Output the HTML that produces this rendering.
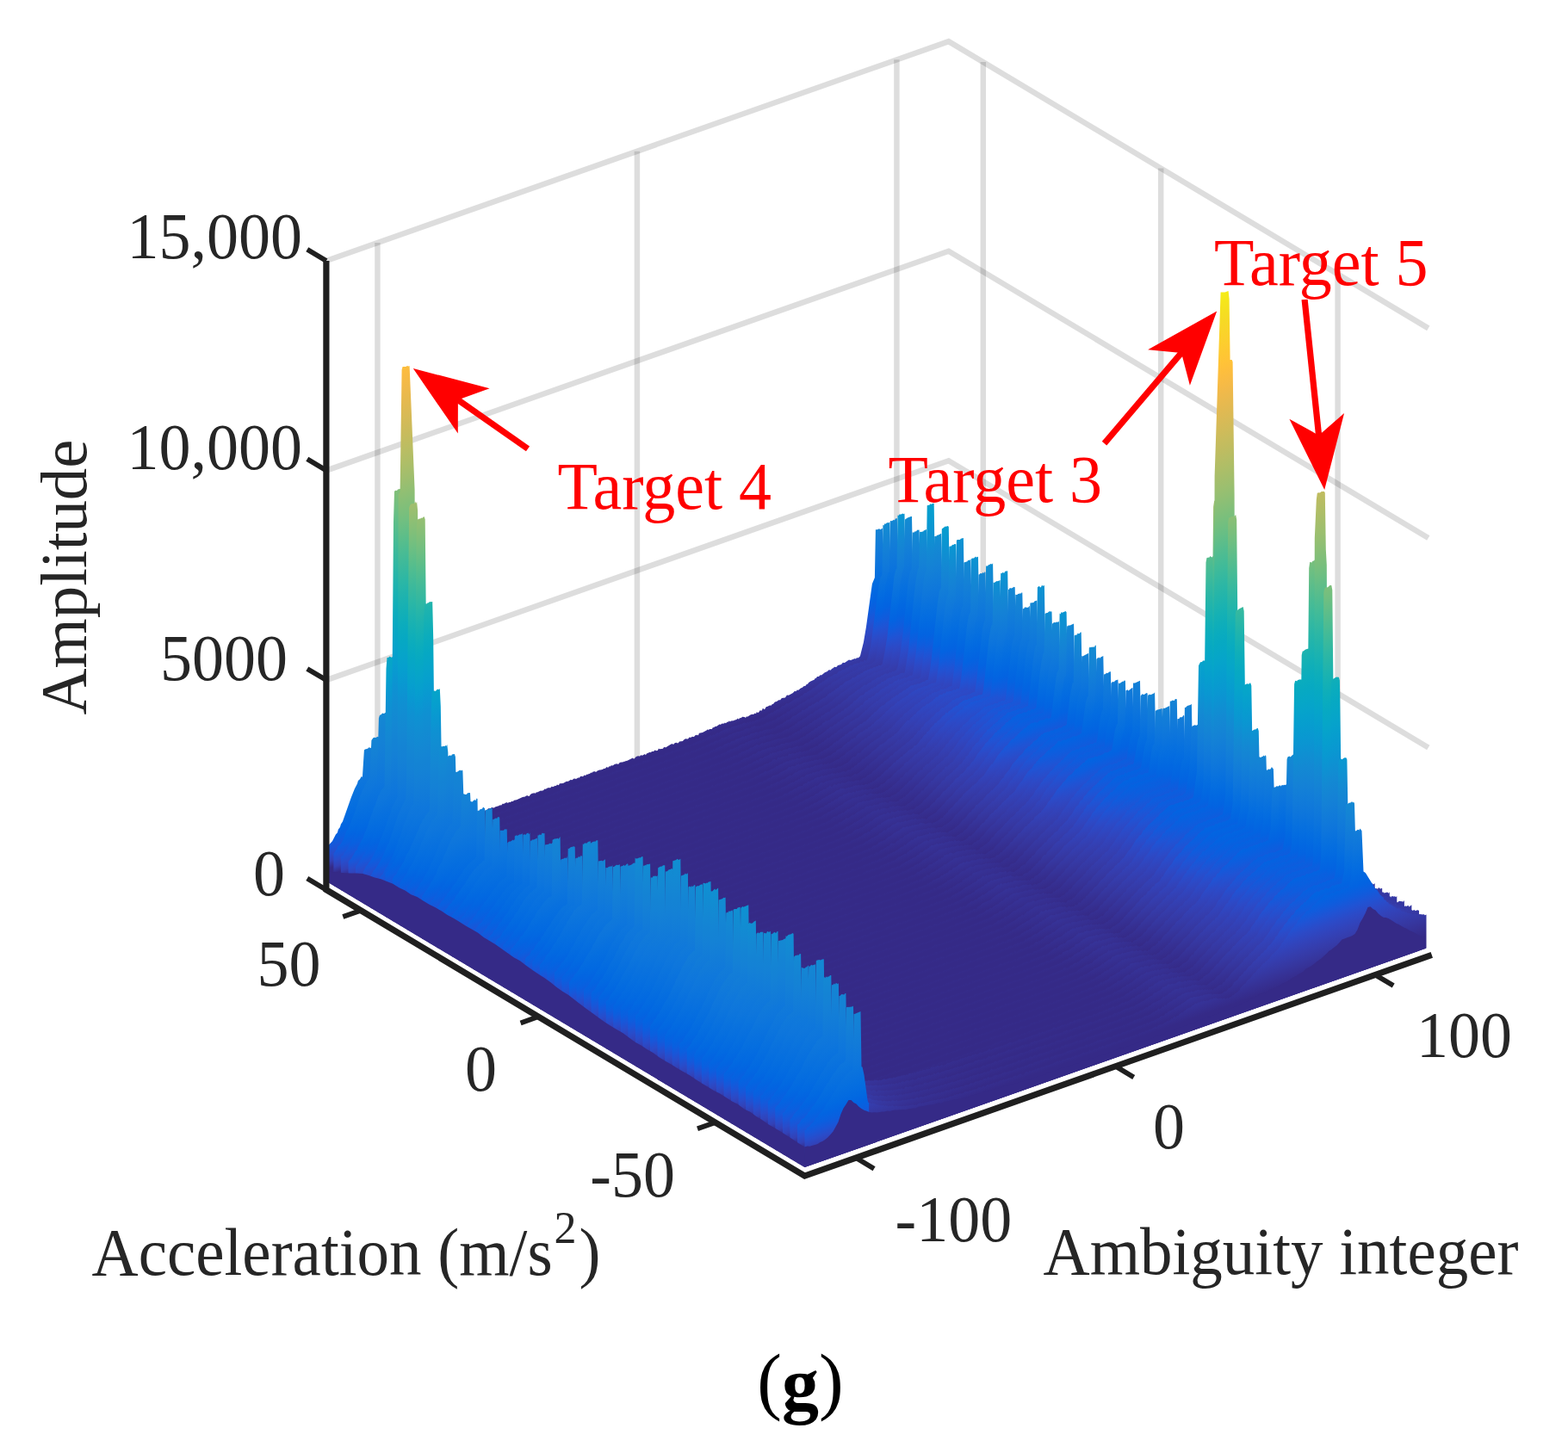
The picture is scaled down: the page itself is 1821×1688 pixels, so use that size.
<!DOCTYPE html>
<html lang="en"><head><meta charset="utf-8"><title>Figure (g)</title>
<style>
html,body{margin:0;padding:0;background:#fff}
body{width:1821px;height:1688px;overflow:hidden}
svg{display:block}
text{font-family:"Liberation Serif","DejaVu Serif",serif}
</style></head><body>
<svg width="1821" height="1688" viewBox="0 0 1821 1688">
<defs><linearGradient id="p" gradientUnits="userSpaceOnUse" x1="-7.53" y1="-21.35" x2="-222.05" y2="-629.70"><stop offset="0.0000" stop-color="#352a87"/><stop offset="0.0159" stop-color="#363093"/><stop offset="0.0317" stop-color="#3637a0"/><stop offset="0.0476" stop-color="#353dad"/><stop offset="0.0635" stop-color="#3243ba"/><stop offset="0.0794" stop-color="#2c4ac7"/><stop offset="0.0952" stop-color="#2053d4"/><stop offset="0.1111" stop-color="#0f5cdd"/><stop offset="0.1270" stop-color="#0363e1"/><stop offset="0.1429" stop-color="#0268e1"/><stop offset="0.1587" stop-color="#046de0"/><stop offset="0.1746" stop-color="#0871de"/><stop offset="0.1905" stop-color="#0d75dc"/><stop offset="0.2063" stop-color="#1079da"/><stop offset="0.2222" stop-color="#127dd8"/><stop offset="0.2381" stop-color="#1481d6"/><stop offset="0.2540" stop-color="#1485d4"/><stop offset="0.2698" stop-color="#1389d3"/><stop offset="0.2857" stop-color="#108ed2"/><stop offset="0.3016" stop-color="#0c93d2"/><stop offset="0.3175" stop-color="#0998d1"/><stop offset="0.3333" stop-color="#079ccf"/><stop offset="0.3492" stop-color="#06a0cd"/><stop offset="0.3651" stop-color="#06a4ca"/><stop offset="0.3810" stop-color="#06a7c6"/><stop offset="0.3968" stop-color="#07a9c2"/><stop offset="0.4127" stop-color="#0aacbe"/><stop offset="0.4286" stop-color="#0faeb9"/><stop offset="0.4444" stop-color="#15b1b4"/><stop offset="0.4603" stop-color="#1db3af"/><stop offset="0.4762" stop-color="#25b5a9"/><stop offset="0.4921" stop-color="#2eb7a4"/><stop offset="0.5079" stop-color="#38b99e"/><stop offset="0.5238" stop-color="#42bb98"/><stop offset="0.5397" stop-color="#4dbc92"/><stop offset="0.5556" stop-color="#59bd8c"/><stop offset="0.5714" stop-color="#65be86"/><stop offset="0.5873" stop-color="#71bf80"/><stop offset="0.6032" stop-color="#7cbf7b"/><stop offset="0.6190" stop-color="#87bf77"/><stop offset="0.6349" stop-color="#92bf73"/><stop offset="0.6508" stop-color="#9cbf6f"/><stop offset="0.6667" stop-color="#a5be6b"/><stop offset="0.6825" stop-color="#aebe67"/><stop offset="0.6984" stop-color="#b7bd64"/><stop offset="0.7143" stop-color="#c0bc60"/><stop offset="0.7302" stop-color="#c8bc5d"/><stop offset="0.7460" stop-color="#d1bb59"/><stop offset="0.7619" stop-color="#d9ba56"/><stop offset="0.7778" stop-color="#e1b952"/><stop offset="0.7937" stop-color="#e9b94e"/><stop offset="0.8095" stop-color="#f1b94a"/><stop offset="0.8254" stop-color="#f8bb44"/><stop offset="0.8413" stop-color="#fdbe3d"/><stop offset="0.8571" stop-color="#ffc337"/><stop offset="0.8730" stop-color="#fec832"/><stop offset="0.8889" stop-color="#fcce2e"/><stop offset="0.9048" stop-color="#fad32a"/><stop offset="0.9206" stop-color="#f7d826"/><stop offset="0.9365" stop-color="#f5de21"/><stop offset="0.9524" stop-color="#f5e41d"/><stop offset="0.9683" stop-color="#f5eb18"/><stop offset="0.9841" stop-color="#f6f313"/><stop offset="1.0000" stop-color="#f9fb0e"/></linearGradient><linearGradient id="pa" gradientUnits="userSpaceOnUse" x1="-7.53" y1="-21.35" x2="-222.05" y2="-629.70"><stop offset="0.0000" stop-color="#352a87"/><stop offset="0.0118" stop-color="#3341b6"/><stop offset="0.0235" stop-color="#294cca"/><stop offset="0.0353" stop-color="#1956d8"/><stop offset="0.0470" stop-color="#0a5fdf"/><stop offset="0.0588" stop-color="#0364e1"/><stop offset="0.0705" stop-color="#0269e1"/><stop offset="0.0823" stop-color="#046ce0"/><stop offset="0.0940" stop-color="#066fdf"/><stop offset="0.1058" stop-color="#0971de"/><stop offset="0.1175" stop-color="#0b74dd"/><stop offset="0.1293" stop-color="#0e76dc"/><stop offset="0.1411" stop-color="#0f78db"/><stop offset="0.1528" stop-color="#117ad9"/><stop offset="0.1646" stop-color="#127cd8"/><stop offset="0.1763" stop-color="#137ed7"/><stop offset="0.1881" stop-color="#1480d6"/><stop offset="0.1998" stop-color="#1482d5"/><stop offset="0.2116" stop-color="#1483d4"/><stop offset="0.2233" stop-color="#1485d4"/><stop offset="0.2351" stop-color="#1487d3"/><stop offset="0.2468" stop-color="#1389d3"/><stop offset="0.2586" stop-color="#128bd2"/><stop offset="0.2704" stop-color="#118dd2"/><stop offset="0.2821" stop-color="#108fd2"/><stop offset="0.2939" stop-color="#0e91d2"/><stop offset="0.3182" stop-color="#0998d1"/><stop offset="0.3426" stop-color="#069fce"/><stop offset="0.3669" stop-color="#06a4c9"/><stop offset="0.3913" stop-color="#06a8c3"/><stop offset="0.4156" stop-color="#0bacbd"/><stop offset="0.4400" stop-color="#14b0b5"/><stop offset="0.4643" stop-color="#1fb3ae"/><stop offset="0.4887" stop-color="#2cb7a5"/><stop offset="0.5130" stop-color="#3bb99c"/><stop offset="0.5374" stop-color="#4bbc93"/><stop offset="0.5617" stop-color="#5dbe89"/><stop offset="0.5861" stop-color="#70bf81"/><stop offset="0.6104" stop-color="#81bf79"/><stop offset="0.6348" stop-color="#91bf73"/><stop offset="0.6591" stop-color="#a1be6d"/><stop offset="0.6835" stop-color="#afbe67"/><stop offset="0.7078" stop-color="#bcbd62"/><stop offset="0.7322" stop-color="#c9bb5c"/><stop offset="0.7565" stop-color="#d6ba57"/><stop offset="0.7809" stop-color="#e3b951"/><stop offset="0.8052" stop-color="#efb94b"/><stop offset="0.8296" stop-color="#fabb42"/><stop offset="0.8539" stop-color="#fec238"/><stop offset="0.8783" stop-color="#fdca31"/><stop offset="0.9026" stop-color="#fad22a"/><stop offset="0.9270" stop-color="#f7db24"/><stop offset="0.9513" stop-color="#f5e41d"/><stop offset="0.9757" stop-color="#f5ef16"/><stop offset="1.0000" stop-color="#f9fb0e"/></linearGradient><linearGradient id="q0" href="#p" x2="-209.18" y2="-593.20"/><linearGradient id="a0" href="#pa" x2="-209.18" y2="-593.20"/><linearGradient id="q1" href="#p" x2="-215.62" y2="-611.45"/><linearGradient id="a1" href="#pa" x2="-215.62" y2="-611.45"/><linearGradient id="q2" href="#p" x2="-222.05" y2="-629.70"/><linearGradient id="a2" href="#pa" x2="-222.05" y2="-629.70"/><linearGradient id="q3" href="#p" x2="-228.49" y2="-647.95"/><linearGradient id="a3" href="#pa" x2="-228.49" y2="-647.95"/><linearGradient id="q4" href="#p" x2="-234.92" y2="-666.20"/><linearGradient id="a4" href="#pa" x2="-234.92" y2="-666.20"/><clipPath id="cl"><path d="M0,0 L1658.8,0 L1658.8,1100.7 L934.5,1356.1 L378.9,1023.7 L0,1023.7z"/></clipPath></defs>
<rect width="1821" height="1688" fill="#fff"/>
<g fill="none" stroke="#000" stroke-opacity="0.135" stroke-width="6.5"><path d="M378.9,790.1 L1101.7,535.2 L1658.8,868.5"/><path d="M378.9,546.6 L1101.7,291.7 L1658.8,625.0"/><path d="M378.9,303.0 L1101.7,48.1 L1658.8,381.4"/><path d="M438.4,1012.7 L438.4,282.0"/><path d="M739.9,906.4 L739.9,175.7"/><path d="M1041.4,800.0 L1041.4,69.3"/><path d="M1141.8,802.8 L1141.8,72.1"/><path d="M1348.2,926.2 L1348.2,195.5"/><path d="M1553.6,1049.1 L1553.6,318.4"/></g>
<g clip-path="url(#cl)"><g fill="url(#p)">
<path transform="translate(378.9,1033.7)" fill="url(#a2)" d="M0,-47.9l3-4.2l4-4.3l4-7.8l2-2.2l1-3.7l2-2.7l1-3.4l2-3.1l10-28.1l4-10l3-5.7l1-3.7l2-1.7l2-3.4l1 1.1l2-31.3l1-1.1l3-0.7l2-1.8l1 1l1-0.2l1-2.1l1 6.3l1 27.6l2 12.8l3 27l3 16.7l0 54.4l-63 22.2z"/>
<path transform="translate(378.9,1033.7)" fill="url(#q2)" d="M63,-76.6l2 8.6l1 2.3l1 0.7l2 4.5l3 0.6l1 1.5l2-0.4l1 0.9l2-1.1l7 0.5l2-0.9l1-1.6l1 1.2l1-1l1-0.3l1 0.5l1-0.9l1 1.4l2-2.1l1 1.3l2-2.4l2 0.5l3-1.9l3-0.3l2-1.6l4 0l2-1.7l3 0.1l1-1.2l3-0.8l5-2.5l2 0.1l2-1.1l1 0.1l2-1.4l2 0.7l1-1.8l1 0.2l1-0.6l1 0.6l1-1.9l2 0.3l5-1.3l1-1.5l1 0.3l2-0.8l1 0.9l1-1.8l4-0.6l1-1.3l2 0.2l3-1.9l2 0.4l1-1.6l1 0.7l1-1.5l3-0.1l2-1.5l1 0.2l2-1.8l2 0.9l5-1.7l1-1.3l1 1.2l2-3l3-0.2l1-1.1l3 0.5l1-0.9l5-1.7l1-0.9l1 0.7l2-2.3l1 0.6l3-1.7l1-0.1l1 0.7l1-0.9l2 0l1-0.9l2-0.1l1-1.3l3-0.5l7-3.2l3-0.5l1-0.9l2-0.4l1 0.8l1-0.2l1-1.9l2-1.2l3-0.4l1 0.4l1-1.5l1 0.4l4-2.2l1 0.4l2-0.6l2-1.9l1 0.6l1-1.1l3-0.9l1 0.6l2-2l1 0.8l3-1.6l1 0.4l1-1.7l2 0.8l1-2l4-0.3l4-2.1l2 0l3-2l1 0.5l1-0.2l1-1.3l2-0.4l1 0.7l3-1.9l1 0.6l1-1.8l2-0.3l1 0.5l2-2l1 1.1l1-1.3l1-0.5l1 0.3l1-1.1l1 0.2l1-1.1l2-0.2l1-1.3l1 0.3l1-0.6l1 0.9l3-2.1l1 0.1l1-0.8l1 0.6l1-1l1 0.3l1-1.1l2-0.2l2-1.9l1 1.1l2-1.8l1 0.4l1-1.4l1 0.4l1-0.3l2-1.5l3-0.4l1 0.6l2-2.2l4-0.4l1-0.8l1 0.2l1-1l1 0.2l7-3.4l1 1l1-0.3l1-1.4l2-1.4l2-0.2l1 0.5l1-1.1l1-0.3l1 0.5l3-1.8l1 1.3l1-1.9l4-1.6l1 0.4l1-1.1l2 0l2-1.9l1 1.1l2-0.6l1-2.2l1 0.8l4-0.6l1-1.5l1-0.4l1 0.8l6-3.9l2-0.7l1 0.9l2-1.9l2-0.2l1 0.6l1-0.4l1-1.6l4-0.3l1-1.4l2-1.4l3 0.1l2-2.2l1 0.7l2-1.2l2 0.4l2-2.4l1 0.6l1-0.7l1 0.8l1-2.7l4-0.8l5-2.6l1-1.1l1 1l1-1.3l3 0l1-1.9l1 0.3l2-1.6l1 0.3l4-2.7l1 0.7l1-1.3l3-0.3l1-0.9l1 0.7l2-1.8l1 0.4l1-1.5l1 1.1l1-0.8l3-0.3l2-1.1l1 0l2-1.7l1 1.3l1-1.5l2-0.2l1-1.3l3 0.3l1 0.9l1-1.7l1 0.5l4-2.6l2-0.5l1 0.3l2-1.4l1 0.7l1-2.2l1 0.9l1-0.2l2-2.8l1 0.8l1-0.6l1-2.4l2 1.4l2-3.2l1 0.1l3-1.7l2 0l1-1.6l1 0.2l2-2.6l2-0.3l3-2.2l1 0.6l2-2.6l4-0.3l2-3l2 0.2l5-2.8l2-2.2l1 0.5l1-0.6l1-1.4l1 0.8l3-2.6l2-0.8l1-1.3l3-0.9l1-2l1 0.5l1-1.7l2-1.6l5-2.3l1-1.9l1 0.5l1-2l2 0l2-2.1l1 0.7l4-3.3l3-1.2l1-1.3l1-0.5l2 0.1l1-1.5l2-0.8l1-1.3l2 0.3l1-0.5l1-1.7l4-0.9l2-2.3l2 0.2l5-3.3l2 0.5l5-2l1 0.3l1-1.2l2 0l2-1.9l4-16l3-17.9l7-50.2l3-7.3l1-55.6l2 0l2-1.1l2 1l1-1.3l1-0.1l1 54.1l1 2.8l2 14.1l5 50.2l3 16.3l4 8.6l2 2.9l2 1.8l1-0.2l2 1l2-1.4l1 2.1l1-1l2-0.2l1 0.8l1-1.1l3 0.3l4-2.2l1 1l1-0.7l1 0.2l1-0.8l3 0.1l3-2.3l2 0.8l5-2.6l3 0.4l1-1.1l1 0.3l2-1.6l1 0.5l2-1.2l1-1.4l2 1.2l1-1.5l3-0.6l2-1.2l2 0.1l0 26.8l-659 232.4z"/>
<path transform="translate(387.4,1038.8)" fill="url(#a0)" d="M0,-47.1l4-5.7l1-2.8l3-2.3l3-5.1l4-10.5l1-0.8l4-8.9l5-13.2l5-15.4l4-10.3l1-1l1-3.7l1-0.6l2-4.4l1-0.7l1-2.2l1 0l2-44.2l2-2.7l1-0.4l2 0.3l2-1.4l1 0.6l1-0.4l1 1.5l2 49.8l5 43.2l2 11.4l0 54.8l-63 22.2z"/>
<path transform="translate(387.4,1038.8)" fill="url(#q0)" d="M63,-77l3 10.4l1 0.5l3 6.3l1-1l1 1.4l2 0.8l1-0.6l3 1l2-0.5l1 1l1-1.5l1 0.6l5-2.2l1 1l1 0.1l1-0.8l1 0.1l1-1l1 0.5l2-1.4l2-0.3l1-0.9l1-0.2l1 1.2l1-1.4l3-0.5l4-2.3l2 0.4l1-0.3l1-1.1l1 0.4l5-2.8l1 0.7l1-1l1 0.4l2-1.1l2 0.7l1-2.1l3-0.3l4-2.3l2 0.3l1-1l1 0.2l1-0.7l1 0.6l2-1.8l1 0.2l3-1.4l1-1.2l1 0.7l2-0.8l1 0.6l4-3.1l2 0.1l3-1.9l1 0.9l1-1.1l3-1.4l3-0.2l1-1.1l1 0.1l2-1.3l2 0.4l2-1.6l1 0.2l1-1.1l3-0.1l2-1.6l1 0.4l2-0.5l1-1.1l1 0.8l3-2.6l1 0.5l1-0.9l1 1.1l1-1.7l3 0.2l2-1.7l3-1.4l1-0.3l1 0.7l3-2.2l1 0.4l1-1.1l1 0.1l1-1.5l1 0.8l3-1.1l1-1.5l1 1.1l1-0.2l2-1.4l1 0.4l1-1.2l6-1.3l2-1.9l1 0.6l1-0.5l1 0.6l2-1.9l3-1.3l2 0l1-1.4l1 1.4l8-4.1l4-0.5l2-1.7l2-0.8l2-0.7l1 0.6l1-1.4l1-0.1l1-1l1 0.4l3-0.9l1 0.6l3-2.4l1 0.5l2-2l1 0.8l1-1l1 0.3l3-1.7l2 0.2l1-1.6l1 0.3l3-1.3l3 0.1l1-1.3l2-0.6l1-1.2l3 0.5l2-2.1l1 0.8l1-1l3-0.7l1 0.3l1-0.9l1 0.2l1-1.8l2-0.1l6-2l1 0.2l3-1.8l1-0.1l1-1.4l1 0.6l4-2.4l2 0.5l2-1.5l3-0.5l1-1.2l2-0.4l2 0.6l3-2.2l1 1.4l2-2.7l2 0.1l1-0.9l2-0.3l2-1.3l1 0.4l3-0.6l1-1.7l1-0.6l1 0.4l1-0.7l1 0.5l2-1.5l2-0.3l1 0.5l8-3.9l2-0.2l2-1.4l3-0.1l3-2.2l1 0.4l1-1.2l1 0.5l2-0.7l2-1.5l3 0.2l1-1.2l4-1l3-2l4-0.9l1 0.2l1-1.5l2-1l1 0.7l1-0.8l1 0.2l3-2l1 0l1-0.8l1 0.1l1-1l2-0.3l2-1.3l1 0.4l1-0.3l1-1.3l1-0.3l1 0.5l7-5.2l1 1.4l2-2.1l1 0.7l1-0.4l3-2.7l1 1.1l2-1.8l3-1.4l1-1.3l1 0.5l3-1.8l1 0.7l1-1l2 0.2l1-1.5l6-1.6l1 0.1l1-1.3l1 0.9l1-1.5l1 0.6l4-2.1l2 0.7l2-1.3l1 1.3l1-1.9l1-0.3l1 1.1l2-1.7l1 0.7l4-2.1l1 0.1l2-1.4l2-0.4l1-1.2l1 0.9l1-1.2l2-0.6l2-1.5l1-1.7l1 0.3l3-2l1 0.8l2-2.4l1 0l3-2.2l1 0.4l1-0.5l3-3.4l2-0.1l3-3l2 0.6l8-5.6l3-1.6l1 0.5l3-2.8l1 0.3l3-3.4l2 0.1l1-1.3l2-0.7l1-1.4l1 0.3l3-3l1 0.3l1-0.7l6-5.2l2-0.5l1-1.7l1 0.7l2-2.5l1 0.2l2-2.5l2-0.5l1-0.9l1 0.1l4-2.7l2 0l3-3.6l2-0.1l2-1.3l3-0.6l2-2.6l1 1.2l2-2.4l2-0.9l1 0.6l2-1.9l2-0.6l1 0.2l1-1l1 0.5l2-0.7l1-1.7l1 0.6l1-0.6l1 0.8l1-2l1-0.1l1 0.7l1-0.3l2-5.2l3-13l9-68.1l2-10.2l2-3.2l1-57.9l1 0.7l1-2.1l1 0.5l2-1.7l1 0.3l2-0.8l1 57.2l2 8.8l5 56.8l4 24.4l4 11.5l2 2l2 1.3l1 0l1 1.2l3 0.9l1-0.2l1-1.5l1 1.4l2 1l1-1.7l2 0.5l1-1.7l1 0.3l1 1.4l2-1.8l1-0.2l1 0.7l1-1.7l1-0.3l1 1.2l1 0.1l3-2.3l2 0.2l2-1.2l2 0.5l2-2.1l3 0l1-1.1l1 0.9l1-1.1l3-0.6l1-1.1l2 0l1-0.9l3-0.5l1-1l1 0.5l3-1.7l0 27.5l-659 232.4z"/>
<path transform="translate(395.9,1043.9)" fill="url(#a4)" d="M0,-47.7l1-2.4l1 0.7l3-5.5l1-0.1l1-2.9l1-0.3l1-2.6l7-12.2l9-23.4l9-26l1-0.7l2-5.3l2-3.4l3-3.5l2-74.4l1-3.3l2-0.9l1-1.4l2 0.4l2-1.3l2 0.7l2 81.8l5 43.5l2 11.5l0 56.5l-63 22.2z"/>
<path transform="translate(395.9,1043.9)" fill="url(#q4)" d="M63,-78.7l2 9.3l1 0.4l3 6.4l1 0.8l1-0.2l1 2.4l1-0.2l4 1.8l1-0.7l1 0.9l1-1.6l3 1.7l2-1.7l1 0.6l1-1.6l3 0.8l1-0.9l3-1.4l1 0.3l2-1.3l2 0.2l3-1.3l2 0.2l1-1.2l2-0.7l1 0.7l1-1.6l1-0.3l1 0.4l4-1.9l2 0.3l2-2.2l1 0.8l1 0l3-2.1l1 0.6l5-2.6l2 0.1l1-1.9l1 1.6l1-0.4l1-1.5l2-0.1l2-1.1l3-0.2l2-0.8l1-1.3l3-0.2l1-1.2l1 1l2-1.8l2 0.1l1-1.1l1 0.3l2-1.1l1 0.2l2-2.3l1 0.9l1-1l1 0.6l1-0.9l2-0.6l2-1.8l1 0.8l1-1.1l3-0.2l4-1.6l1 0.2l3-2.5l3 0.1l2-1.4l3 0.3l2-2.6l1 0.7l4-1.9l1 1.1l1-1.3l2-0.8l1-1l1 0.5l2-1.8l1 0.7l3-1.6l1 1.1l3-2.6l2 0.2l1-1.6l2 0.4l2-1.7l2 0.8l3-2.3l1 0.6l1-1l1 0.4l1-1l1 0.3l1-0.7l4-0.7l1-2l3-0.2l1-1.3l1 0.5l2-1.4l1 0.1l1-1l1 0.5l2-0.8l1 0.3l2-1.7l1 0.9l1-1.8l4-1.2l1-0.9l1 0.6l2-1.3l1 0.5l1-1.2l4 0.1l1-2.3l1 1.4l2-1.9l5-0.9l4-2.4l2 1l1-1.8l1 0l1 0.9l1-2.4l2 0.1l5-1.9l2-0.8l1-1.4l1 0.8l1-0.1l2-1.1l4-1.1l2-1.5l3 0.2l2-1.3l3-0.5l1-0.8l1 0.5l3-2.3l2 0.1l3-2l3-0.5l1-0.8l2 0.4l1-1.6l1 0.4l3-1.8l1 1.6l2-2.8l1 1.1l1-1.4l2 0l1-0.8l1 0.4l2-2.1l1 1l2-2.1l2 0.1l1-1.2l1 1.2l4-2.7l1 0.9l1-1.2l1 0l1-1.3l3 0.1l4-2.2l1 0.1l1-1.5l1 0.5l2-0.1l2-1.8l2-0.9l3 0l2-1l1 0.5l1-1.4l1 0.3l2-1l2-2.3l1 1.6l2-2.4l1 1.1l3-1.7l1 0.6l3-3.2l1 0.9l2-0.8l1 1l2-2.8l1 0.4l3-1.2l1 0.3l1-1.7l1 0.6l1-0.4l1-1.4l2 0.2l1-1.4l1 0.2l1-0.8l2 0.5l2-2.5l1 0.5l2-1.4l3-1.4l2-0.2l1-1.3l3-1.1l1 1.2l1-1.9l1-0.4l1 0.6l1-2.5l2 0.3l3-1.5l1 0.3l4-3.1l1 0.5l2-1.6l1 0l1-0.7l1 0.2l1-1l2-0.6l3-0.1l1-0.9l2 0.1l2-1.7l3-1.3l1 0.6l2-0.3l1-0.4l1-1.6l2 0.1l1-1.3l1 0.1l1 1.2l1-1.2l1 0.7l1-1.1l1 1.2l2-1l1-1.7l1 1.7l1-1.7l2-0.2l2-2.2l1 0.7l1-0.2l1-1.3l2 0.3l1-1.1l2-0.4l3-1.8l1-1.5l1-0.5l1 0.7l2-2.4l1 0.1l2-2l1 0.4l1-1.4l1 0.5l1-2.2l3-0.5l1-0.7l1-2.1l1 0.4l2-1.4l1 0l1-1.8l1 1.1l1-2.3l1 0.2l3-2.5l1 0.5l1-1.5l3-1.3l3-2.5l1-0.4l1 0.9l2-2.7l1 0.4l2-0.5l1-2.7l1 0.7l1-1.2l1-0.1l2-2.9l1 0.9l1-1.5l2-0.5l3-3.8l1-0.7l2 0l1-1.9l3-1.1l2-2.9l4-1.3l3-2.4l2-0.6l1-1.6l1 0.2l1-1.1l1-0.1l4-2.6l2-0.1l2-2.6l1 0.7l1-0.5l1-2.2l1 1.4l4-2.7l1-1.4l2-0.4l1 0.6l1-1.7l6-1.9l3-0.1l1-1.6l1 0.5l3-2.3l1-0.2l3-12.5l3-19l7-58.8l2-10.2l1-3l1-0.6l1-59.2l2 0.1l2-1.4l1 0.7l1-1.9l1-0.3l1 0l1 58.2l2 9.8l6 68.2l3 18.9l3 9.7l2 2.4l1 2.3l2 1.9l1 0.5l1-1l1 1.1l1 0l1 1.7l1 0.4l2-1.7l1-0.1l1 1.6l1-0.3l1-1.3l3-0.5l1 0.7l3-1.8l2 1.1l1-1.9l1-0.6l3 0.6l1-1.3l1 0.5l2-1.3l2 0.8l1-1.6l2 0.5l1-1.1l3-1.3l1 0.9l2-2.4l2 0.4l2-1.6l3 0.5l1-1.9l1-0.3l1 0.3l1-1.4l1 1l1-0.9l1 0.6l0 26.7l-659 232.4z"/>
<path transform="translate(404.5,1049)" fill="url(#a0)" d="M0,-47.7l2-2.8l1-0.5l6-9.9l1-0.2l1-3.4l6-10.7l1-3.5l4-8.9l4-12.9l2-4.5l1-3.9l3-6.5l3-9.5l1-0.8l2-5l2-2.4l1-0.3l1-2.3l2-136.5l1-12.7l2-0.3l1-1.4l2 1.3l1-0.3l1-1.7l2 0.3l1 29.2l2 130.4l3 27.3l3 20.2l0 57.7l-63 22.2z"/>
<path transform="translate(404.5,1049)" fill="url(#q0)" d="M63,-79.9l1 6.5l1 2.6l3 7.1l3 3.1l1-0.2l1 1.4l4 1.7l6-1.4l1 0.3l1-1l1 0.2l1-0.6l1 0.5l1-0.9l2 1l1-1.1l2 0.1l2-1l1-1.7l1 0.7l1-1.1l3-0.4l1 0.8l1-1.7l1 0.8l3-2.3l2-0.7l2 0.2l2-1.8l3 0.8l3-2l3-0.8l2-1.5l4-1.4l1 1.2l4-2.6l1 1.2l1-1.3l2-0.3l2-1.6l2-0.1l3-1.6l1 0.2l1-0.9l1 0.4l1-0.6l1 0.2l2-1.7l1 0.6l4-2.3l1 0.7l1-1.4l2-1.1l3 0.5l1-1.4l1-0.5l3-0.9l2 0.3l2-1l2-0.3l1-0.9l1-0.1l1-1.2l1 0l1-0.8l1 0.8l2-0.6l2-3.1l1 1.1l1 0l3-1.8l3 0.4l2-2.1l2 0.2l3-1.8l1 0l1-1l2 0.2l1-1.6l1 1.1l1-0.5l1-1.8l1 0.6l1-1.1l1 1.8l1-2.3l1 0.3l2-0.9l1 1.3l3-4.1l1 1.6l1-1.9l1 0.5l1-0.5l1 0.6l1-1.1l2 0.2l1-1.6l1 0.6l2-1.4l2 0.3l3-2.4l1 0.9l1-1.2l6-1.1l1-1.4l1 0.5l2-1.6l3 0l3-1l1-1.7l2 1.1l2-2.2l1 0.6l1-0.9l2 0.1l4-2.6l1 0l1-1.7l1 1.5l1-1.6l1 0.2l1-0.9l1 0.1l1 1l2-2.3l2 0.5l3-2.4l1 0.6l1-0.7l2-0.1l2-1.9l2 0.1l2-1.1l3-0.7l1-0.8l1 0.2l1-1l1 1l3-2.3l1 0.4l2-1.3l4-0.8l1-1.2l2-0.7l1-1.1l3 0.1l1-1.5l1 0.6l1-0.1l1-1.1l2 0l2-1.8l1 0.6l1-0.5l1 0.3l2-1.6l1 0.1l2-1.3l1 0.4l1-1.3l1 0.7l3-0.6l1-1.4l1-0.1l1-1l1 0.7l2-1.8l1 0.5l1-0.4l1 0.8l1-2.6l1 0.7l3-1.3l1 0.4l1-1.3l2-0.1l1-0.8l1 0.8l3-2.7l3-0.2l1-2l1 1.7l1-1.8l2-0.2l1 1l1-1.7l2 0.2l1-1.2l1 0.4l1-1l1 0.4l1-1.2l3-0.2l3-1.3l1-1.6l2 0.4l2-0.5l1-0.9l5-1.2l1-0.9l1 0.1l1-1.1l1 0.1l1-0.8l2 0.4l3-2.2l10-3.6l1-1.5l1 1.6l4-2.6l1-1.2l1 1.1l1-2.1l1 1.1l2-1.8l5-2.5l2 0.3l3-3l3-0.6l1-1.3l1 0.8l2-0.8l1-1.6l1 0.5l1-0.9l1 0.4l1-0.4l1-1.7l6-1.7l2-1.9l2 0.7l1-0.8l2-0.2l1-0.8l2 0l1-1.7l1-0.4l1 0.4l1-0.9l1 0.6l2-1.5l1 0.2l1-0.6l1 1.5l1-1.8l2-0.3l1 0.5l2-1.5l4-1.2l5-0.1l2-1.1l1 0.6l4-3.6l3-0.6l1-1.3l2-0.4l3-2.6l1-0.1l1-1.5l4-1.3l3-3.1l4-1.5l3-2.5l3-1.3l1-1.9l3-0.4l2-2l1 0.4l2-2.8l2 0l2-2.2l1 0.5l4-3.2l1-0.2l1 0.7l1-1.9l5-3.3l2-0.5l1-1.4l1-0.4l1-2.1l1 0.1l1-1.6l1 0.7l2-2.3l1 0.3l1-1.3l1-0.1l1-2l1 0.4l1-1.5l1 0.2l2-2.8l2-0.3l5-4.7l1 0.1l5-2.5l2-2.4l1 0.8l3-1.6l1-1.6l1 0.1l1-1l1 0.6l1-1.7l2-0.1l1-1.7l3-1.5l1 0.1l1-1.3l1 0.3l3-1.4l1 0.2l3-2l1 0.6l1-1.2l2-0.3l1-1.2l2 0.5l2-1.5l3-13.9l3-18.6l8-70.2l2-7.8l1-0.8l1-61.8l1 0.4l1-1.4l2 0l2-1.1l1 0.7l1-0.8l1 61.2l1 2.2l1 7.7l4 53l3 28.8l2 11.5l2 7.3l1 1.3l1 3.2l2 3.5l1 0.2l2 1.9l1-0.1l4 2.1l2 0l1-0.9l3 0.7l4-1.3l1 0.5l5-1.9l1 0.2l1-0.7l1 0.4l1-0.7l2-0.2l2-1.4l1 0.4l2-1.4l1 0.8l1-1.2l2 0.8l1-1.5l2-0.2l1 0.6l1-1.7l2 0.1l1-0.8l1 0.2l2-0.9l1-1.2l1 0.2l1-1l1 0.7l1-0.2l1-1.8l1 1.2l1-1.6l0 28l-659 232.4z"/>
<path transform="translate(413,1054.2)" fill="url(#a4)" d="M0,-47.1l1-2.1l1-0.6l2-3.9l3-3.2l2-4.4l1-0.4l1-1.4l1-3.3l1-0.9l6-12.4l3-9l3-6.8l2-7.3l5-14l5-12l1-1.7l1-0.6l1-2.4l1-0.3l1-59.5l2-254.8l1-35.2l1-1.1l2 0.3l1-1.7l5-1l1 33.6l2 254.5l1 69.1l2 27.5l2 16.4l2 10.3l0 52.8l-64 22.6z"/>
<path transform="translate(413,1054.2)" fill="url(#q4)" d="M64,-75.4l4 10.4l1 0.9l1 2.3l2 1.9l1 0l2 1.3l2-0.2l1 0.8l2-0.6l1-0.9l2 1.3l2-1.1l2 1.2l1-2.1l2 0.3l3-2l1 0.8l1-1.3l1 0.5l6-1.8l1 0.2l1-1.2l1 0.3l1-0.9l2 0.5l1-1.8l3-0.2l1-1.4l1 0.7l1-1l2 0.5l1-1.4l1 0.8l1-1.3l3-0.4l2-2l1 1l2-1.9l1 0.7l1-1.1l1 0.7l3-1.8l1 0.6l3-2.4l3-0.6l1 0.5l2-1.8l1-0.2l1 0.5l1-0.4l1-1.4l1 0.9l1-0.5l1-1.7l1 0.9l3-1.9l2 0.4l2-1.5l2-0.1l1-1.5l3-0.8l1 0.6l2-1.8l3 0.3l2-1.8l2-0.5l1 0.4l1-1.4l1 0.4l1-1.3l1 0.3l1 1.1l1-1.8l2-0.3l2-1.7l2-0.9l2 1l1-1l2-0.7l1-2l2 1.1l1-1.4l2 0.5l1-1.6l1 0.5l2-2.1l1 1.3l1-1.4l2 0.4l3-1.7l1 0.5l1-1.5l1 0.5l1-1l2-0.2l1-1l1 0.3l3-0.4l1-1l1 0.4l3-3l1 1.1l1-1.5l4-0.4l3-1.8l1 0.2l1-1.4l1-0.4l1 1.7l1-1.6l2-0.2l1 0.5l3-2.7l3-0.6l3-1.8l3 0.3l1-1.9l1 0.7l2 0.1l1-1.7l1 0.6l3-2.4l2 0.9l1-1.7l2 0l2-1.9l2 0.5l2-1.3l3-0.9l1 0.4l2-1.9l5-1.2l1 0.5l2-2.2l1 0.5l2-1.2l2-0.1l3-2.3l1 0.5l1-0.2l1-1l5-0.5l5-3.2l1 0.3l1-1.3l2 0.1l1-0.5l2 1.2l1-2.4l1-0.1l1-1l3 0.1l2-1.1l1 0.7l2-2l1 1l5-3.2l5-0.9l3-1.7l1 0.8l1-0.7l1-1.9l1 1.7l1-1.5l1 0.3l3-1.7l1 0.3l2-2.4l1 2l1-1.2l1 0l2-2.2l2-0.6l2 0.2l1-1.2l1 0.5l2-1l1 0.3l4-2.5l1 0.4l2-1.5l1 0.5l2-0.9l1-1.4l1 0.8l1-0.7l1 0.4l2-1.7l1 0.1l1-0.9l1 0l1-1.7l1 1.1l1-1l1 0.5l2-0.3l1-2.5l1 2l1-1.5l1-0.1l1-1l1 0.3l1-1.6l2 0l3-1.1l1-1l2 0.1l3-1.7l3 0.1l1-1.4l2 0l1-1.7l2 0.6l1-1.7l2 1.3l1-2.2l4-1.2l1-1l1 0.5l2-2.2l1-0.5l1 0.3l1-1.7l2 0.3l2-0.8l1-1.3l1 0.5l2-0.9l2-1.4l1-1.5l1 0.3l3-1.8l1 0.6l1-0.5l1-1.9l2 0.7l1-1.5l2-0.2l1-0.9l1 0.8l1-1.6l3 0.4l1-1.9l2 1l4-2.6l2 0.1l1-1.4l1-0.2l1 1.2l1-1.3l1 0.5l1-1.2l1 1l2-1.7l5 0.3l1-1.2l1 0.5l1-1.3l1 0.7l1-1.1l2 0.2l2-1.7l5-2.7l2 0.4l1-2l1 0.1l3-2.5l1 0.4l2-2.9l1 0.8l2-2.8l3-1.3l1 0.2l1-1.4l4-2l2-2.4l1 0.1l3-2.4l1 0.3l3-2.5l1-1.4l2 0.1l2-2.2l2-1l1 0.4l2-2.2l5-2.3l3-2.9l2-0.6l3-3.3l1-0.1l1-1.3l3-1.5l2-2.9l5-2.6l1-1.3l2-0.8l1-1.6l1 0.3l1-2.3l1 0.4l1-0.4l1-1.6l1 0.5l4-3.9l2 0.3l3-2.7l3-1.2l1-1.4l1 0.6l1-2.1l4-1.2l4-2l1-1.4l4-0.4l2-1.4l1 0.3l1-1.2l1 0.4l2-1.3l2 0.4l1-1.9l2 0.2l2-2.2l1-3.1l3-15.8l4-31.4l4-40.2l2-13.8l2-8.5l1-1.3l1-56.6l3-2.1l4-1.3l1-0.1l1 56.6l1 3.4l1 8.4l6 75.5l3 20.4l2 8l4 8.1l1 0.6l1 2.2l1-0.5l3 2.4l1-0.6l2 1.3l1-1.5l1 1.4l1-1.1l1 0.7l3-1.2l2 0.6l3-1.7l1 0.7l1-1l1 0.3l1-0.8l1 0.7l1-1.2l2 0.5l1-1.2l1-0.3l2 0.8l2-1.9l1 0.1l3-0.9l2-1.5l3-0.1l1-0.7l1 0.8l1-1.4l4-1.2l1 0.3l1-1.4l4-0.3l1-1.4l0 27.7l-658 232z"/>
<path transform="translate(421.6,1059.3)" fill="url(#a3)" d="M0,-46.6l4-6.9l1-0.5l2-3.9l1-0.4l8-14.8l11-28.2l3-10.1l1-0.4l3-10.9l1-0.9l5-10.1l1-351.5l2-2.3l2-142.4l1-3.3l4 0l1-1l2 0.3l1-0.5l6 144l1 394.7l3 18.6l0 54.5l-64 22.6z"/>
<path transform="translate(421.6,1059.3)" fill="url(#q3)" d="M64,-77.1l1 4.6l3 7.6l2 1.8l1 1.7l1 0.1l3 2.2l1 0.4l1-0.7l3 1.8l2-2.4l1 0.8l1-0.8l2 1.3l2-2l1 0.5l3 0l4-2.1l2 0.7l3-2.3l1 0.6l1-1.1l1 0.2l1-1.1l2 0.9l1-0.1l1-1.7l1 0.4l1-1.3l1 0.1l1-1.2l3 0.9l1-1.6l2-0.3l1-1.8l2 1.1l1-1.1l1 0.7l2-1.8l1 0.7l1-1l2-0.8l2 0.1l2-1.7l1 0.5l2-1.8l1 0.1l3-1.5l1 0.1l3-1.5l1 0.5l1-1.3l1 0.8l1-1.8l1 0.3l1-1.4l1 0.9l1-0.5l1 0.7l2-1.6l4-1.2l1-0.9l1 0.9l2-1.8l1 0l1-1l1 0.6l3-2.3l1 1.2l1-0.1l2-0.9l2-1.8l1 0.1l6-2.7l1 0.8l2-1.4l1-1.6l1 1.4l1-1.1l1 0.4l2-0.7l1-1.7l2 0.5l1-1.1l1 0.5l1-0.8l1 0.4l3-1.9l4-0.2l2-2.3l5-1.2l1-1.2l1 0.7l1-1.1l1 0.9l2-1.4l1 0.4l1-1.9l1 0.3l2-0.3l1-0.9l1 0.2l1-1.3l1-0.3l1 0.6l2-0.3l1-0.4l1-1.7l2-0.9l4-0.3l2-1.5l3-0.1l1-2.3l1 1.6l4-2.4l1 0.4l1-0.9l6-1.2l3-1.8l1 0.4l3-2.3l1 0.2l2-1.2l2 0.1l1-1.4l1 0.5l1-1l1 0.1l2-1.2l2 0.7l1-1.3l3-0.9l1 0.5l1-1.1l4-1.3l2-1.4l2 0.3l1-0.5l1-1.3l1 1.1l1-1.2l2-0.9l1 0.9l1-1.4l1 0.8l1-1.1l2 0l1-2.2l2 1l3-2.2l2 0.2l1-1.7l1 0.2l1-1l2 0l1-0.9l1 0.4l1-1l1 1l1-0.3l2-1.8l4-0.9l2-1.5l2-0.1l2-1.1l1 0.5l2-1.6l4-0.6l1-1.5l3 0.6l2-2.5l2 0.5l1-1.2l1 0.2l5-2.3l2 0l1-0.8l1 1.1l1-1.4l2-1.3l1 0.5l1-1.4l1 0.3l2-1.5l2 0.3l3-2.3l1 0.6l2-1.4l3 0.2l2-2.2l3-0.3l2-1.3l1 0.3l1-1l2 0.3l1-1l6-1.8l1-1l2 0.3l1-1.5l1 1.1l3-2.5l2-0.2l1 0.4l1-1.8l1 0.7l1-0.9l1 0l1-1.3l1 0.6l1-0.1l1-1.7l1 0.6l2-1.5l1 0.5l1-1.7l1 0.6l2-1.7l2-0.2l1-1.4l2 0.2l1-1.7l1-0.5l1 1.1l2-1.8l1 0.9l2-2.9l1 0.6l2-2.5l1 0.6l2-1l1 0.2l1-1.8l2 0.4l3-2.7l2-0.1l3-2l1-0.2l1-1.5l1 0.6l3 0l1-1.4l2-1l1 1l1-1.2l1 0.7l1-1.3l5-0.9l1 0.4l1-1.6l1 0.6l1-0.9l6-1.7l2 0.5l3-1.4l6-1.3l1-1.5l2 0.3l1-0.6l1-1.8l1 0.3l2-2.1l1 0.5l2-1.7l2 0l1-2.5l1 0.7l2-2.5l1 0l2-1.4l1 0.1l2-2l1-0.1l1-1.7l2 0l1-1.7l1-0.2l2-1.9l1 0.6l2-2.4l1 0.3l1-2.1l1 1.7l1-2.8l2-0.4l2-1.2l1-1.9l1 0.3l2-1.4l2-0.1l2-3l4-1.6l1-1.4l2-1l1-1.7l1 0.6l1-0.7l5-4.7l1 0.3l2-2.2l1-0.2l1-2l7-4.7l1-1.2l1-0.1l1-1.5l3-1l2-2.6l1-0.2l1-1.3l2-1.1l1 0.8l3-2.7l2-0.8l1 0.3l1-2.3l4-1.5l1-1.4l1 0l1-1.2l1 0.2l2-0.6l1-1.7l1 0.2l4-2.5l1 0.6l1-0.1l2-1l1-1.3l1 1.4l2-2.3l1 0.7l3-1.4l2-4.4l3-15.7l3-23.2l6-58.8l2-11.8l2-4.2l1-42.2l2-0.1l1-1.2l1 0.4l2-2.2l1 0.4l1-0.3l1 41.7l2 10.9l6 80.1l4 25.1l4 10.4l5 5.7l1-0.1l1 0.9l1-1l1 0.4l1-0.5l1 1.7l1 0.1l3-1.4l2 1.1l1-0.5l1-2.4l1 2l3-1.5l2 1.4l1-2.1l1 0.3l1-1.2l1 0.4l1-0.6l1 1l1-1.3l2-0.4l2-1.1l1 0.2l2-1.6l2 0.2l4-1.8l1 0.2l2-1.6l2 0.5l2-1.4l2 0l1 0.7l1-1.9l2-0.7l1 0.3l0 27l-658 232z"/>
<path transform="translate(430.1,1064.4)" fill="url(#a1)" d="M0,-46.4l4-6.9l2-1.9l5-7.9l5-10l4-10.4l1-0.3l12-35.8l7-15l1 0l1-25l3-314.8l1-3l1-1.1l1-0.7l3-0.1l1-2.5l1 2.2l1-1.7l1 10l3 322.4l1 32.7l3 26.2l2 11.5l0 55.9l-64 22.6z"/>
<path transform="translate(430.1,1064.4)" fill="url(#q1)" d="M64,-78.5l1 4.8l4 9.8l2 2.4l1 0l2 2.9l1-1.1l2 0.7l1-0.3l1 1.2l1-0.9l1 0.5l1-0.5l2 0.5l1-0.7l1 0.5l3-2.1l2 0.4l2-0.7l1-1l1 0.9l1-0.5l1 0.4l1-1.9l1 0.9l2-0.2l1-1.4l3-0.2l2-1.9l1 1.1l2-2.1l1 0.9l1-1.2l1-0.4l1 0.4l3-1.8l2 0.5l1-1.2l3-1.6l3-0.2l2-1.4l3 0.2l4-2.4l2 0.1l1-1.4l1 1.1l1-1.7l3-0.2l2-1.9l1 0.8l2-1.1l1 1.3l2-2.4l3-0.3l1-1.7l3 0.1l1-1.2l1 0l1-0.6l1-0.3l1 0.6l1-1.2l1 1.1l1-0.2l2-2.9l3 0.2l2-1.4l1 1l4-3.1l1 0.6l1-1.4l2 0.1l1-1.1l1 0.7l3-1l1 0.3l1-2.7l1 0.6l1-1l1 1.4l1-0.2l1-2l1 0.5l3-0.5l1-0.7l1-1.7l1 1.2l1-1.6l1 0.2l2-1.1l1 0.7l1-1.3l1-0.1l1-1.5l1 0.8l9-3.4l1 0.4l4-2.6l1 1.5l3-2.1l2 0.2l2-1.1l1 0.1l3-2.5l3-0.1l3-2.1l1 0.7l3-1.6l1 0.3l1-1.2l3-1.7l3 0.6l1-1l1-0.1l1-1.2l2 0.5l2-2.1l1 0.7l2-1.6l2 0.5l3-1.9l2-0.1l2-1.2l1 0.6l3-2.5l1 0.3l2-1.5l1 0.8l2-1l1-1.4l1 0.8l1-0.2l2-2.6l1 0.7l2-0.9l2 0l1-1.3l2 0.7l4-1.9l3-0.4l1-1.8l1 0.9l1-0.2l1-1.3l2-0.4l1-1.3l1 0.9l1 0l5-3l1 0.4l1-0.8l1 0.4l2-1.3l1 0.3l1-1.8l1 0.8l2-0.5l2-2l1 1.2l1-1.1l1 0.1l1-1.2l2 0.8l3-2l1-1.3l2 0.6l1-1.2l1 0.1l1-1.5l1 0.8l1-0.1l2-2l1 0.8l1-1.3l1 0.3l2-1.3l2-0.3l1-1l2 1.4l1-1.9l2-0.3l1-1l1 1.3l2-2.4l1 0.1l1-0.8l2 0.5l2-1.4l1 0.4l1-1.8l1 0.9l1 0.1l2-1.9l3-0.5l1 0.3l2-2l1 0.5l1-1.1l1 0.8l1-1.4l1 0.3l1-1.3l1 0.7l5-2.9l2-0.2l1-1.4l3-0.5l1 0.8l1-0.7l1-2.1l1 1.5l1-1.7l2 0l1-1.9l1 1.1l1-1.3l1 0.7l4-2.4l2 0.4l1-1.2l1 0.5l1-2l3-0.6l1-0.9l1 1l2-2.2l1 0.8l1-1.7l3-1l1-1.5l1 0.3l2-1.4l2 0.5l2-2.2l2-0.6l1-1.8l1 0.7l1-1.3l1 1.1l1-1.6l1-0.2l2-2.3l1 1.1l4-2.3l4-1.1l1-1.1l1 0.7l1-1l2-0.3l1-0.8l1 1.3l1-1.5l2 0.8l2-1.9l1 0.8l1-1.4l1 0.3l1-0.3l1-1.5l3-0.1l1 0.5l1-1.6l5-0.1l3-1.5l1 0.9l1-1.4l1 0.4l1-1l1-0.1l1 0.6l1-1.4l2-0.9l1-1.9l1 0.9l2-1.7l2-0.3l2-2.9l1 0.5l2-1.9l1 0.1l1-1.7l1-0.5l1 0.2l3-3.2l2 0.2l1-2.6l1 0.7l2-1.6l1 0.1l1-2.4l3-1.5l1-2.2l1 1.7l1-1.4l1-0.4l1 0.4l2-2.4l5-3.2l1-1.4l1 0.1l2-2.1l2-0.1l2-2.4l1 1.2l2-3.9l1 0.5l5-3.6l1-1.6l2-0.8l1-2.2l1-0.8l1 0l6-5.9l4-1.3l2-3.1l2-0.2l1-1.3l3-1.5l1-1.8l1 1.3l2-2.6l1 0.8l3-3.1l4-2.1l1-1.7l1 0.5l1-0.2l1-1.2l1 0.2l2-2.5l2-0.6l1-1l2 0.8l1-1.8l1 0.3l1-1.8l1 1.8l1-1.3l4-1.1l1-1.4l4-0.8l1 0.8l1-3.3l4-24.5l7-68.3l2-15.2l2-10.2l1-0.9l1-42.2l2 0.2l1-0.6l1 0.2l1-1.7l1 0.3l1-1.2l1 0.4l1 42.3l1 3l1 7.5l6 82.2l3 22.2l3 11.4l5 8.6l1-0.3l1 1.4l1-0.3l3 2.3l1-1l3-0.2l1 1.3l1-1l2-0.7l1 1.2l2-1.7l2 0.6l1-1.2l1 0.1l1-0.8l1 0.8l3-1.5l1 0.8l1-1l1 0.4l4-2.3l5-0.8l1-0.8l1 0.7l1-1.3l2-0.2l2-1.1l1 0.3l2-1.5l1 0.3l1-1l1 0.7l2-1.7l2-0.1l1-0.9l0 27.7l-658 232z"/>
<path transform="translate(438.7,1069.5)" fill="url(#a1)" d="M0,-47.4l4-5.1l2-1.6l2-4.4l4-5.7l6-12.6l5-12.6l1-4.6l2-3.4l4-13.5l2-4l3-8.8l3-7.3l1-0.7l1-2.5l1-0.3l1-7.9l3-314.9l1-8l1-1.1l3-0.8l1-0.9l1 0.3l1-1.2l1-0.2l1 3.2l3 307.2l1 40l2 19.6l3 20.4l0 56.2l-64 22.6z"/>
<path transform="translate(438.7,1069.5)" fill="url(#q1)" d="M64,-78.8l3 10.9l2 3.5l2 1.5l1 2.3l4 1.6l3-0.5l1 1.4l1-1l2 0.6l4-1.2l1 0.7l2-1.5l2 1.2l1-2.5l1 0.5l1-0.7l2 0.2l1-1.2l2 0.1l4-1.9l2 0l2-1.5l4-0.4l1-1l2-0.1l2-1.6l1-0.2l1 0.8l1-1.6l2 0l1-0.8l1 0l1-1.1l1 0.9l1-1.4l1 0.6l2-1.3l1 1l1-1.7l1-0.6l1 1.2l2-2.1l1 0.7l1-0.2l1-1.9l1 0.7l1-1.3l3 0.1l1-1.3l2 0.2l3-0.8l2-1.5l1 0.4l4-1.6l2-1.6l1 0.9l3-2.3l2 0.2l1-1.1l2 0.3l2-1.3l2 0.2l2-1.7l1-0.4l1 0.6l1-0.5l1-1.4l1 1l1-1.7l2-1.3l1 1.5l1-1.6l1 0.4l1-0.7l1 0.2l1-1.3l3 0.1l1-1.2l6-1.7l1-1.1l6-1.4l1-1.3l1 0.6l1-1.3l4-0.9l1 0.5l1-0.3l5-2.6l1 0.6l1-1.2l5-1.2l2-1.6l1 0.4l1-0.4l2-1.6l2 0.2l4-1.2l1-1.1l2-0.4l1 0.4l3-2.4l1 1l3-2.1l1 0.2l2-1.8l1 1.4l1-2l7-1.4l1-0.9l3-1l1 0.5l1-1.1l2-0.3l2-1.6l1 0.2l2-1.6l3 0l1-1.1l1 0.2l2-1.8l1 1l3-2.2l1 1l1-1.6l2-0.1l3-1.2l2 0.1l6-3.3l1 0.4l1-0.8l1 0.5l3-2.2l1-1.6l1 1.7l4-1.7l1 0.3l2-2.8l1 1.5l1-1.2l2-1l2-0.1l2-1.1l1 0.9l1-1.8l1 0.3l2-1.1l3 0.3l1-1.7l2 0.5l3-2.6l1 1l1-1.1l3-0.3l1-1.6l1 0.4l2-0.6l1-1.4l2 0.4l1-1l3 0.1l2-1.2l2 0.1l1-1.4l2-1l1 0.6l2-1.4l8-2.2l3-1.9l3-0.2l1-1.4l2 0.3l1-1.6l2 0.3l2-0.6l2-1.8l1 0.3l2-1.4l1 1.2l2-2.4l1 0.6l2-0.7l1-1.1l1 0.1l1-1.7l2 1.5l3-3.1l2 0.5l2-0.2l1-1.7l1 0.9l1-1.5l2-0.6l2-1.7l1 1.1l1-1.6l1 1.5l4-3.6l2 0.1l3-2.1l1 0.3l3-2.2l3-0.5l3-2.7l2 0l1-1.9l1 0.2l1 1.1l1-2.1l1-0.7l1-0.5l2 0.4l2-2.1l3-0.8l3-1.6l1-1.7l1 0.8l1-0.3l1-1.4l1 0.8l2-0.7l1 0.3l1-1.3l1 0.2l2-1.3l1 0.6l2-0.1l1-1.5l1 0.3l1-0.9l3-0.1l1-1.3l2-0.3l2 0.8l2-1.4l5-1.5l1 1.5l1-1.4l4-0.7l2-1.8l3-1.6l1 1l1-2.7l1 1.2l1-2.5l2 0.1l3-2.7l1 0.3l1-1.2l1 0.3l1-1.9l2-0.8l7-5.1l1-1.6l1 0l3-2.9l1 0.6l4-3.4l1 0.2l3-3.2l1 0.8l1-2l4-2l1-1.9l2-0.1l1-1.5l2-0.3l7-5.8l1-1.9l4-2.2l2-2.1l1-0.5l1 0.3l2-3.7l2-1.9l1 0.1l1-0.7l1-1.8l2 0l3-2.6l1 0.2l3-3.8l2-0.1l3-3.6l2-0.9l1-1l1 0.9l1-2.2l1-0.6l1 0.6l1-1.5l1 0.6l1-2.8l1 0.5l2-0.4l4-3.5l2-0.2l2-2.5l1 2.3l2-2.3l1 0.5l3-1.5l2 0.3l4-2.8l2 0.4l1-1.4l1-5l3-19.8l9-85.3l2-8.7l1-1.2l1-76.4l3-0.7l1-1.6l1 0.9l1-0.8l2-0.4l1 76l1 2.5l1 10l4 58l3 33l2 13.3l4 13.9l1 0.7l2 3.9l1 0.4l3 3l4 0.4l2-0.5l1 0.8l2-0.8l3 1.3l1-1.1l1 0.8l3-2.1l2 1l3-2.9l2 1.5l2-2.2l4-0.5l1 0.7l1-1.8l1-0.7l1 0.8l2-0.9l2-0.1l3-2.2l2 0.7l2-2l2 0.5l2-1.1l1-1.2l1 0.9l2-1.4l0 27.6l-658 232z"/>
<path transform="translate(447.2,1074.6)" fill="url(#a3)" d="M0,-58.6l1-2.5l2-1.6l3-5.6l1-0.6l5-8.2l9-18.1l2-5.1l1-1.1l2-6.2l6-12.3l1-3l1-1.3l2-5.4l1-0.5l5-6.9l1-35.7l2-186.3l1-14.9l2 1.1l1-1.2l1-0.1l2-1.6l1 0.4l2-0.4l1 42.4l2 186.7l1 25.4l2 19.9l3 21l0 57.7l-64 22.6z"/>
<path transform="translate(447.2,1074.6)" fill="url(#q3)" d="M64,-80.3l2 8.6l3 7.3l1 0.2l2 3.3l1-0.2l2 1.8l2-0.1l1 0.6l1-0.7l1 0.2l2 1.7l1-1.5l1-0.1l1-1.3l1 1.5l2-1.7l1 0.6l1-0.8l2 0l1-0.6l2 0.2l4-2.2l1-0.1l1 0.7l2-0.5l4-2.6l1 0.1l1 0.9l3-2.7l3-0.4l1 0.5l2-1.9l1 0.7l1-1.8l1-0.6l1 1.2l2-0.5l1-1l1 0.2l1-1.7l1 0.8l2-1.3l1 0.2l1-1.3l1 0.5l2-1.1l1 0.7l1-1.1l1 0l1-0.8l1 0.4l1-1.6l2 0.2l1-0.5l1 0.4l1-1.4l1 0.5l1-1.4l1 0.4l1-1.5l1 0.6l1-0.2l1-1.2l1 0.3l1-1.4l1-0.4l1 1l1-1.3l2-0.2l1 0.7l3-2.5l1-0.4l1 0.8l1-0.2l3-2.2l1 0.4l2-1.9l1 1.2l3-1.6l1-1.4l1 0.6l2 0l1-1.3l3 0.2l1-1.3l2-0.9l1 0.5l1-1.2l2-0.9l1 0.7l1-1.2l3-1.1l1 0.3l1-0.4l1-1.9l6-0.3l1-1l1 0.4l1-1.2l3-0.8l1-1.5l1-0.4l1 1.2l1-2l1 0.2l2-0.8l1 1.5l2-2.8l1 0.7l1-1.2l1 0.6l1-0.2l1-1.1l2-0.1l3-1.8l5-0.9l4-2.2l3-0.3l3-1.1l2-2l2 0.7l2-1.5l4-0.5l1-1.2l1 0.3l2-1.6l1 0.5l1-0.3l1-1.5l1 0.5l5-2.2l2 0.5l4-2.8l1 1l1-1.5l1 0.6l2-1.6l1 0.3l1-1.4l2 0.1l2-0.6l1 0.7l1-1.3l3-1.7l1 1.6l2-2.7l2-1.1l2 0.7l2-1.6l1 0.4l2-0.6l1-1.3l1 0.6l1-1l3-1.2l2 0.1l3-2.6l4-0.1l1-1.5l1-0.2l1 1.3l1-1.8l1 0.9l2-2.2l1 0.6l2-0.9l1 1.1l1-3l2 1.6l1-2.4l1 0.8l2-0.8l1-1.1l2 0.2l1-0.7l1 0.1l1-1.5l1 0.1l1-0.7l1 0.8l2-2.3l1 0.9l4-1.8l3-0.6l2-1.8l3 0l2-0.6l4-2.5l1 0.5l1-1l2 0.3l4-2.3l1 0.3l1-0.6l1 0.5l2-3.4l2 2.1l1-1.4l4-2.3l3 0l3-1.2l1-1.2l2-0.6l1 1.3l2-2.6l7-1.4l1-0.9l1 0.5l1-2.1l1-0.5l2 0l1 0.7l1-2.4l2 0.7l1-0.4l1-1l1 0.1l2-1.9l1 0.7l1-0.4l2-2.2l3-0.8l1-1.2l1 0.6l1-1.6l1 0.6l3-2.5l2 0.3l1-1.2l1 0.4l1-1.8l2-0.5l1-0.8l2 0.2l1-1.3l1-0.5l1 0.3l3-3.3l2-0.2l1 0.8l1-0.6l1-2.2l1-0.6l1 0.9l4-2l2 0.7l2-1.4l1 1l2-3.3l2 0.9l2-1l3 0.1l2-1.5l1 0.5l2-1.1l1-0.2l2 0.8l1-0.7l1 0l1-1l1 1l2-1.4l1 1l3-3l3-0.9l1-1.2l1 0.6l1-1.7l1-0.2l1 0.9l2-3l2-0.6l2-2l1 0.5l2-2.9l1 0.7l1-2.3l1-0.8l1 0.5l1-0.4l3-3.2l2-0.4l1-2l1 0.3l1-0.5l2-2.4l2-0.8l1-1.4l2 0.4l1-2.1l6-3.3l3-3.6l2-0.2l1-1.5l1 0.4l1-1.7l3-1l8-7.5l1-1.5l1 0.8l1-1.9l1-0.4l1-1.8l1-0.4l2-2.5l1 0l2-2.2l1 0.1l2-2.4l1 0.7l1-1.6l3-2.5l1-1.7l1 0.4l1-0.3l1-1.5l1-0.1l1-1.6l1-0.6l1 0.5l1-0.6l4-4l1 0.2l1-0.9l1 0.2l1-0.6l5-4.7l1 0.7l1-1.5l2 0l1-2l2 0.4l3-2.4l4 0.4l1-1.2l1 0.3l2-2l3 0.5l3-2.9l5-36.2l6-59.2l2-11.2l1-4.1l1-1.6l1-50.4l1-0.5l1 0.5l1-1.6l1 0.3l1-0.8l1 0l1-1.1l1 0.1l1 49.9l2 11.5l6 80.2l3 21.8l1 4.9l3 8.1l3 5.1l1 0.2l4 3.2l1-0.8l1 0.9l1-0.4l1 0.9l2-0.9l1 1.2l2-0.4l1-0.7l1 0.8l1-0.8l2 0.3l1-2.2l1 1l1-1l2-0.7l2 0.9l1-2l1 1.7l1-0.2l1-1.6l1-0.4l1-0.3l2 0.5l2-1.8l1 0.3l1-1.1l1 0.4l1-0.8l1 0.5l2-1.8l4-0.2l3-1.8l1 0.7l1-1.6l1-0.4l1 0.8l1-1l1 0.4l1-0.9l0 27.5l-658 232z"/>
<path transform="translate(455.8,1079.7)" fill="url(#a0)" d="M0,-59l3-4.1l1 0l4-7.8l2-2.3l1-2.5l2-2.7l4-10.1l1-0.3l13-29.2l1-3.4l2-2.9l1-3.3l1-1.1l1 0.1l1-3l5-6.2l2-120.6l1-18.4l3-0.4l1 0.5l2-2.3l2 0.3l1-1.1l1 20.5l2 127.8l3 28.8l3 21.4l0 58.7l-64 22.6z"/>
<path transform="translate(455.8,1079.7)" fill="url(#q0)" d="M64,-81.3l2 8.6l3 7.3l2 3.2l4 3.2l1-1.6l1 1.9l2-0.6l2 1.2l1-1.2l6 0l2-2l2 0.2l4-1.4l1 0.8l2-1.9l2 1l1-1.8l1 0.3l2-1.3l1 0.8l1-0.9l5-1.8l1 0.3l1-0.6l1 0.2l2-1.7l1 0.5l2-0.6l1-1.7l1 0.5l2-1.7l1 0.8l3-0.5l1-1.8l1 0.4l2-0.8l1 0.2l3-1.9l2 0l3-1.7l3 0.2l3-2.1l2 0.5l2-2.3l2 0.1l1-1.4l2 0.4l8-3.4l1 0.8l4-2l3-0.5l2-2.1l1 0.9l1-1.6l1-0.2l1 1.2l1-1.4l1-0.5l1 1l1-1.6l1-0.1l2-1.5l1 0.3l1-0.5l1 0.5l1-1.4l2-0.7l1-1.6l1 1.3l1-0.8l1 0.1l2-1.9l1 1l1 0l1-1.5l1 0.5l6-3l1 0.8l1-2l1 0.7l2-0.2l2-2l1 0.7l1 0l1-1.6l1 0.9l2-1.6l2 0.3l1-1.4l2-0.3l1-0.8l3 0.5l1-1.6l1 0.1l1-1l3-0.4l2-1.5l1 0.6l1-1.5l1 0.4l1-0.8l1 0.4l1-1.2l2-0.2l2-1.6l3 0.4l1-1l1 0.3l1-1.1l3-0.5l3-2.3l2-0.2l1 0.5l1-1.3l2 0.2l2-1.3l2-0.3l1-0.9l1 0.3l4-1.9l1 0.2l1-1.3l1 1.6l1-2l2-1.3l8-1l1-1.9l1 0l1-0.8l2 0.6l2-2l1 1.2l3-3.1l2 1l3-1.2l1-1.1l2-0.5l1 0.5l1-2.2l1 1l1 0.1l2-1.7l2-0.4l1-1.5l1 1.2l1-1.1l1 1.2l1-1.7l1 0.1l1-1.1l2 0.1l2-1.1l3-0.4l3-1.2l1-1.2l1 0.7l1-0.1l4-2.7l3-0.7l2-1.4l4-0.2l2-2.1l2 1.3l2-2.1l1 0.2l1-1.1l2-0.1l1-1.4l1 0.6l1-1.5l1 0.5l2-0.7l1 0.3l2-1.4l1 0.3l1-1.3l3-0.5l1 0.8l1-1.8l2-1.5l2 0.3l3-1l1 0.4l2-2.3l2 0.5l3-2.3l1 1l3-2.1l3-1.4l1-0.2l1 0.6l1-1.3l1 0.1l4-1.6l2-1.9l1 0.8l1-0.7l2 0.1l2-0.7l3-2.5l3-0.4l2-1.7l3-1.4l1 0.4l2-2.3l1 0l1-1.1l1 0.5l3-3l2 0.9l6-3.5l1 0.5l1-1.4l2-0.8l1-1.4l1 0.4l3-2.3l3-0.6l2-2.1l1 0.7l1-1.3l1 0.2l1-0.6l1 0.4l2-1.5l1 1.2l1-2l2 0.7l1-1.3l1 0.7l2-1.8l1 0.7l2-0.1l2-2.2l1 1.1l1-1.5l2 0.5l4-1.3l2 0.3l2-0.7l7-0.9l1-1.9l2-0.2l1-1.4l2-0.2l1-1.6l2-0.5l1-1.3l3-1l1-1.6l2-0.8l3-3.2l2-0.6l1-1.6l1 0.3l4-3.7l1-0.3l1-1.5l1 0.1l1-0.8l1-1.9l1 0.3l1-0.6l3-3l2 0.1l3-3.5l1-0.8l1 0.4l1-0.6l1-1.7l2-0.8l1-1.5l2 0l3-3.2l1 0.5l3-3.2l1-0.4l1-1.8l1 0l1-2l2-1.2l2-2.6l2-0.7l3-3.7l4-3.4l1 0.1l2-1.3l1-1.8l6-4l1-1.9l1 1.1l1-2.3l1 0.6l2-2.4l2 0.1l2-2.6l1-0.5l1 0.3l1-1.5l3-1.9l1 0l1-1.9l1 0.4l4-3.3l2-0.6l1 0.5l1-1.2l2 0.2l1-1l3-0.3l4-2.2l2-0.2l2-1.8l2-0.2l2-10.2l2-14.8l7-64.4l2-13l1-3l1-1.2l1-68.6l4-3.1l1 0.3l2-0.8l1 1l1 67.5l2 11.3l6 78.2l3 20.8l3 10.5l4 6.8l3 2.4l2 0.8l2-1.2l2 2.1l1-1.3l1 1.1l1-0.8l1 0.3l1-1l1 0.6l3-0.5l2-1.4l4 0l1-1l1 0.8l1-0.2l4-1.8l3 0.3l1-1.5l1 0.2l1-1.2l1 0.8l2-1.5l3-1.2l4-0.8l1-1.7l1 1l2 0.3l2-1.6l1 0l1-0.7l1 0.3l1-1.6l0 28l-658 232z"/>
<path transform="translate(464.3,1084.8)" fill="url(#a0)" d="M0,-58.8l8-11l4-8.4l1-0.5l2-4.6l2-3l1-3.3l4-7.3l3-8.3l4-8.3l1-3.9l6-10.9l2-4.9l1 1l2-4.1l2-1l1-4.8l1-54l1-19.8l1-0.1l1-1.7l1 0.5l1-0.9l2 0.4l1-1l1 0.6l1-1.6l1 8.6l2 77.6l4 37.7l3 18.7l0 54.2l-65 22.9z"/>
<path transform="translate(464.3,1084.8)" fill="url(#q0)" d="M65,-77.1l2 7.3l2 4.9l1 0.4l1 1.8l1 0.3l1 1.3l5 2l2 0.4l1-1l2 1.6l1-1.4l1-0.4l1 0.6l2-0.5l2-1.4l1 0.4l2-0.9l2 0.2l2-1.6l3 0.4l1-1.5l1 0.6l2-1l2 0.1l1-1.5l1 0.3l2-1.9l1 1.3l2-1.1l1 0.5l2-2.5l1 0.7l2-1.7l1 0.9l1-1.4l2 0.3l2-1.3l1 0.3l2-1.2l1 1.4l1-1.9l1 0.2l1-1.1l1 0.1l1-0.9l2 0.4l1-1.8l1 0.7l1-1l2 0.3l1-0.3l1-1.6l2-0.1l1 0.6l1-1.3l6-1.8l1-1.1l1 0.5l2-1.6l2-0.2l2-1l2 0.4l1-1.7l2 0.9l4-3.1l1 0.5l2-0.1l1-1.6l2 0.4l2-2l1 0.6l3-2.4l1 1.5l1-1.8l2 1.2l1-1.9l1 0.9l2-2.6l1 1.1l1-1.3l1 0.8l2-1.5l1 1l2-2.8l1 0.9l3-1.1l1-1.7l1 1.6l1-2l2 0.1l1-1l1 1l2-2l2 0.3l2-1.5l1 0.6l1-1l1 0.3l2-0.6l1-1.2l2 0l1-1.2l1 0.4l3-1.1l1-1.5l2 0.6l1-1.3l1 0.2l3-1.9l1-0.2l1 0.9l2-2.2l1 0.9l3-2.2l1 0.9l1-1.8l2-0.1l1-1.1l1 1.1l1-1.9l1 0.7l1-1l1 1l1-1.8l2 0.7l2-2.4l1 1l3-2.1l1 0.3l3-1.4l1 0.8l2-1l1-1.5l1 1l2-1.9l1 1.2l5-3.9l1 2.3l2-2.5l1 0.9l1-1.7l1 0.8l1-1.7l2 0.5l2-2.4l1 0.3l1-1l1 1.2l3-2.2l1 0.2l4-1l1-1.2l2-0.2l2-1.1l1 0.3l2-1.1l1 0.7l3-2.4l1 0.7l2-1.5l1 0.4l1-1.9l1 1.7l2-2.9l1-0.7l1 1l1-0.7l1 0.4l2-0.9l1-1l2 0.2l1-1.1l1 0.9l1-2.2l1 1.3l2-1.8l2-0.7l1 0.2l1-1.6l1 1.9l2-3.2l2 0.5l2-0.5l1-0.9l1 0.2l1-0.7l4-0.9l1 0.2l3-2l4-1l2-1.5l1 0.4l3-1.2l1-1l1 1.2l1-1.2l2-0.3l3-1.9l2 0.2l2-2l3-0.3l2-1.2l1 0.9l1-1.5l1 0.4l1-1.8l2 0.4l4-2.2l1 0.6l4-2.9l1 0.6l2-1.5l2 0.1l2-1.4l4-0.6l4-2l1-1.3l2-0.1l1-0.8l1 1l2-2.9l1 1.1l5-3.7l1 0.4l1-0.5l1-1.4l2-1.1l2-0.2l4-1.7l2-1.8l5-2.2l3-2.1l2-2.3l2 0.8l1-1.2l3-0.1l2-0.8l1-1.6l1 0.7l1-1.4l1 1.1l3-0.9l2-1.3l6-0.9l1-1l1 0.6l1-1.2l1 0.4l2-0.3l1-1l1 0.4l1-1l1 1l1-0.2l2-1.6l1 1.3l1-0.2l1-1l1 0.3l2-1.6l2-0.4l2-1.8l2-0.1l3-2.7l2-1.1l1 0l2-3.1l1 0.2l3-2.1l1 0.2l3-3.8l1-0.3l1-1.3l1 0l1-1.6l2-0.4l3-3.8l1 0.8l2-2.3l1 1l1-2.1l3-3.1l3-1.9l1 0.1l2-1.9l1 0.1l1-1.8l2 0.1l1-2.2l2-0.2l3-3.4l1 0.4l1-2.2l4-3.5l1 0l2-2.6l1 0.1l2-2.7l2-1.4l1-2l4-2.9l3-3.3l3-1.4l2-2.8l1 0.2l1-2.6l1 0.8l5-3.9l3-1.2l1-1.3l2-0.6l2-2.7l1 0.2l2-2l3-1.3l1-1.3l1 0.6l2-2.2l2 0.2l1-1l2-0.3l1-1l4-0.4l3-2.1l1 0.2l1-1.1l5-0.8l1-1.7l3-20.3l7-64.9l2-11.1l2-5.3l1-54.7l1-0.8l1 0.4l2-2.1l1 0.3l1-1l2 0.3l1 54.8l2 10.7l6 77.3l3 20.2l4 12.3l3 4.7l1 0.9l1-0.2l1 1.9l1 0.2l1-0.5l2 1l2-0.4l1 0.6l3-1.3l2 1l3-1.1l1 0.9l1-0.9l1 0.1l1-1.3l2 0.3l1-1.5l1 1.4l2-1.6l2 0.1l3-1.7l1 0.6l4-1.8l1 0.6l1-2.5l2 0.5l1-0.1l1-1.1l3 0.3l1-0.9l1 0.4l2-1.7l1 0.5l1-0.7l1 0.4l3-2l0 27.5l-657 231.7z"/>
<path transform="translate(472.9,1090)" fill="url(#a3)" d="M0,-59.2l2-1.7l8-12.5l8-15.1l1-3.6l1-0.8l6-14.6l6-12.2l1-3.3l6-10.4l1-1.4l1 0l3-4.4l2-71.6l4-2l1 1.1l1-1.7l1-0.4l2-0.3l1 3.3l2 75.6l4 36.8l3 19.9l0 55.6l-65 22.9z"/>
<path transform="translate(472.9,1090)" fill="url(#q3)" d="M65,-78.5l3 10.4l3 5.1l6 3.8l1-1.3l1 2.1l1-1.1l2 1l3-1.3l2 0.1l1 1.3l2-1.7l1-0.4l1 0.4l1-2l1 0.8l1-0.9l1 1l2-1.7l2 0l1-1.3l3 0.3l3-2.2l1 0.3l2-0.8l1-1.2l1 0.6l1-0.8l1 0.5l2-0.4l3-1.9l4-0.3l3-2.6l2 0.8l1-1.7l3 0.4l1-1.1l1 0.3l1-0.9l1 0.5l5-3.1l1 0.4l2-1.4l1 0.6l3-1.4l1-1.4l1 1.2l1-1l2-0.3l1-0.9l1 0.6l3-2.1l2-0.2l1 0.7l2-1.5l1 0.2l1-1.8l1 0.5l2-0.7l2-2.1l1 1.4l2-1.7l1 0.5l1-0.2l1-1.5l2-0.9l1 1.2l1-2.5l1 1.2l1-0.6l1-1.7l1 1.3l1-2l2 1.4l1-2.2l1 0.9l1 0l2-1.9l2-0.4l1 0.6l2-1.2l1-1.3l3 0.6l3-2.4l2-0.5l1 0.4l2-1.7l1 1.1l1-2.3l2 0.8l1-1.7l1 1.5l1 0.2l2-2.4l2-0.8l1 0.3l2-1.7l4-0.3l1-2.1l1 1l1-0.9l1 0.8l4-2.2l4-1l1-1.4l2 0.3l2-1.4l3-0.3l1-1.7l1 1.2l6-2.9l1 0.1l3-2.1l3 0.4l1-0.9l1 0.1l1-1.7l1 0.5l2-0.2l2-1.8l1 0.4l1-1.2l1 0.3l1-0.3l1 0.6l1-1.4l1 0.2l1-1.2l2 0.1l1-1.4l1 0.7l1-1.1l3-0.2l1-1.6l2 0.7l2-1.7l1 0.1l2-1.1l2 0l1-1.7l3 0l1-0.8l1 0.7l1-1.3l1 0.3l1-1.3l1 0.5l3-1.3l1 0.6l1-2l1 0.1l1-1.4l2 1.1l1-1.5l1 0.3l5-2.2l1 0.3l5-2.8l1 0.9l1-1.2l1 0.1l1-0.8l1 0.3l1-1.2l2-0.3l1-1.3l2 0.3l1-0.9l1 0.4l4-2.8l1 0.5l1-0.4l1 0.7l1-0.9l1 0l1-1.8l2 0.6l2-1.9l2 0.2l1-1.1l3 0.3l3-2.2l2-0.2l3-2.2l1 1.3l1-0.6l1-1.7l2 0.7l2-1.9l1 0.2l2-0.7l2 0l1-1.9l1 1l2-1.8l1 0.9l2-1.8l1 0.2l2-1l1-1.3l1 1l3-2l3 0.5l2-1.8l4-1.7l1-1.1l1 0.6l1-1l1 0.7l5-2.9l2 0.6l2-2.8l3-0.4l2-2.2l2 0.4l1-1.2l1 0.4l1-1.6l1 0.1l1-0.9l2 0.5l1-1.7l1-0.1l2-1.9l1 0.8l8-5.5l1 1.2l5-4.4l1 0.5l3-2.5l1 0.2l2-1.2l2 0.2l1-1.5l1 1l1-0.4l1-1.6l1 0.7l1-0.8l2 1l1-1.8l2 0.5l1-1l3-1.2l1 0.6l1-1.1l1 0.4l3-1.5l1 0.1l1 1l1-0.1l1-1.4l1 0.8l2-0.4l1-1.7l1 1.9l10-5.7l1 0.3l1-0.7l1-2l1-0.1l1-1.4l1 0.3l1-1.6l1 0.2l1-1.7l2-1.8l1 0.3l1-1.7l2-0.7l1-1.5l1 0.1l1-1.6l7-4.8l1-1.5l1-0.3l1-1.8l2-0.4l2-2.3l2 0.1l1-2.1l2-0.2l1-1.6l1-0.4l3-3.3l2-0.9l1 0.1l1-1.9l2-0.4l2-1.3l3-3.5l1 0l1-2.5l4-2.8l1-1.8l6-5.3l1-2l2-1.1l3-3.2l1 0l3-2.9l7-4.6l1-1.8l1 0.3l1-1.4l2-0.7l1-1.4l1 1.4l2-3.8l2-0.3l1-1.3l1 0.3l1-0.4l5-4.1l2 0l1-1.1l1 0.5l2-2.5l2 0.7l1-1l3-0.3l1-1.1l3-1.2l1-1.1l2 2l2-2.6l1-3.1l2-13.9l8-71.8l2-8.5l1 0l1-69.8l1-0.7l3 0.1l1-1.3l1-0.3l2-0.6l1 69.1l1 3.2l2 18.7l4 54.6l3 24.7l2 9.2l3 8.6l4 6.3l2-0.3l1 1.2l4 1.4l1-0.1l1-1.3l1 0.9l1-0.8l2 0.6l1-1.2l2 1.4l2-1.6l1 0.9l2-1.8l1 0.3l4-1.5l2 0.9l3-2.7l2 1.1l1-1.6l1 0.3l1-0.5l2-1.2l1-1.4l2 0.8l1-0.8l2 0.3l2-1.7l5-1.7l2 0.3l2-1.6l1-0.2l0 27.7l-657 231.7z"/>
<path transform="translate(481.4,1095.1)" fill="url(#a3)" d="M0,-58.9l4-5.1l3-5.7l2-1.7l2-4.7l5-8l4-9.8l1-0.5l1-3.7l1-0.9l7-17.9l4-7.1l2-5l2-2.5l2-4.2l1-0.4l1-2l1 0.4l1-1.7l2-54.8l1-3.1l1-1.1l1 0.2l4-2.4l1 1l1-0.9l1 0.8l2 62.6l5 44.8l2 13.7l0 55.7l-65 22.9z"/>
<path transform="translate(481.4,1095.1)" fill="url(#q3)" d="M65,-78.6l3 9.4l2 4.2l3 4.3l2 0.1l1 0.9l2-0.1l1 1.4l1-0.9l1 0.2l1-0.7l2 0.2l1 1l1-1.5l1 0.7l3-1.4l1 0.3l1-1.5l1-0.1l1 0.9l1-0.6l2 0.2l2-1.7l4-0.2l3-2.4l3 0.2l1-2l1 1.2l1-0.5l1 0.5l4-2.8l3 0.4l2-1.7l1 0.2l2-1.2l1 0.4l1-1.2l1 0.4l1-1.7l1 0.6l3-0.5l1-1l1 0.4l1-1.4l2 0.4l1-1.3l1-0.3l1 0.5l1-1.2l2-0.6l1 0.5l1-1.7l1 0.6l2-1.7l1 0.4l2-1.4l1 0.8l3-2l1 0.4l1-1.4l3 0l1-1.6l1 0.9l1-1l1 1.2l1-1.6l2-0.5l1-1l1-0.2l1 0.6l1-1.5l1 0.2l1-1.1l1 0.5l2-1.1l1 0.4l1-1l2 0l1-1.3l1-0.2l1 0.5l2-1.9l2 0.3l3-1.8l1 0.8l2-1.7l1 0.9l1-2l2 0.8l2-2l2 0.7l4-2.7l2 0.6l4-3l1 0.8l1-1.7l1 0.2l1-0.6l1 1.3l2-2.2l1 0.2l4-1.4l1-1l1 0.4l2-1.7l2 0.2l1-1.9l1 2.1l1-1.8l1-0.1l1-1.5l2 0.9l2-0.6l1-1.8l1 0.5l3-1.3l1 0.4l6-3.2l1 0.3l1-0.7l2 0l3-1.5l3-0.4l1-1.3l1 0.3l1-0.4l2-1.9l3-0.9l1 0.7l1-1.3l2 0l2-1l1 0.5l1-1.4l3 0l1-1.3l1 0.4l1-1.4l1 0.5l1-0.6l1 0.8l1-1.8l1 0.1l2-1.5l1 0.8l1-0.2l2-1.7l5-1l1-1.4l2-0.4l1-1.1l1-0.1l1 0.8l1-1.2l2-0.6l1 0.5l3-2.3l1 0.3l2-1.2l1 0.5l2-1.8l2 0.3l3-1.4l1 0.1l1-1.6l1 0.5l4-1.5l3-0.1l3-2.7l2 0.5l1-0.9l3-0.9l1 0.7l1-2l1 1l5-2.2l1-1.1l1 0.8l4-2l1-1.3l1 0.7l3-1.9l5-0.8l2-1.4l1 1.1l2-2.3l2-0.2l2-1.3l2 0.4l1-1.3l1 0.4l2-0.8l1 0.2l1-1.1l2 0.2l2-2.3l1 0.8l2-0.2l1-2.1l2 0.3l1-1.3l1 0l1-1.6l1 1.1l1-0.9l1 0.1l1-1.1l1 0.6l1-1.4l1 0.4l5-1.8l6-3.1l1 0.4l1-1.2l1 1.3l4-3.8l1 0.3l1-1.2l2 0.1l1-1.6l2-0.3l5-2.4l1-1.1l1 0.4l2-2.3l1 0.3l1-1.2l1 0.6l1-0.2l1-1.8l3-0.7l1-1.4l1 0.7l2-2.8l1 0.3l1-1l1 0.9l3-3l4-0.8l1-0.8l1 0.6l2-1.9l1 0.6l4-1.4l2 0l2-1.6l1 0.4l1-1.2l4-0.1l1-0.8l2 0.5l1-1l1 0.1l1 1.1l1-1.6l5 0.3l2-1.7l3-0.2l1-0.8l1 0l3-2.6l1 0.2l1-1.1l1-0.1l5-5.5l2-1.5l2 0l3-4.5l1 0.5l2-0.6l1-1.9l2-1.5l2-2.6l2-0.2l1-2.1l1 0.3l2-2.9l1 0l1-1.3l1 0l3-2.8l1 0.2l1-1.6l1 0l3-2.1l3-3.6l1 0.5l1-1.9l1 0.4l1-1.7l1 0.7l3-4.4l1 0.8l1-2l1-0.3l1-2.2l1 0.3l2-3.2l4-3.5l1-2.1l2-0.4l3-4.2l2-1.4l1 0l1-1.8l1-0.1l2-2.3l1 0.1l1-1.9l2-0.9l1-1.9l2-1l1 0.2l1-1.8l2-0.3l1-1.7l3-2.2l1 0.1l3-2.9l1 0.3l1-0.6l1-2.1l2 0.3l1-2.1l1 0.1l2-1.2l2 0.3l2-1.6l2-0.1l1-1.8l3 0.1l2-1.2l1 0.6l4-2.8l3-0.4l3-21.8l6-55.2l2-12.3l1-3.2l1-0.7l1-50.5l4-1.1l1-1.8l1 0.7l2-1.6l1 51.5l1 2.4l1 7.4l5 65.2l2 17l1 8.2l2 9l4 9.8l1 1.7l1 0.2l1 1.9l1-0.9l1 1.2l1 0l1 1.2l1-0.6l1 1.3l2-0.4l2 0.5l1-1.1l1 1.3l1-1.7l1 1.1l2 0.2l4-1.8l3-0.6l1-1l1 0.4l5-1.2l1-0.4l1-2.1l2 1.6l4-2l1-0.2l1 0.6l2-1.2l2 0.2l2-1.9l1 0.4l3-2.3l1 0.8l1-0.8l3-0.7l1-1.4l0 28.1l-657 231.7z"/>
<path transform="translate(490,1100.2)" fill="url(#a1)" d="M0,-58.5l2-3.5l1-0.6l1-2.3l2-1.8l1-2.3l1-0.7l3-6.3l1-0.6l3-6.5l1-0.4l3-8.6l4-6.6l3-8.5l1-1l8-18.9l1-0.8l4-7.2l2-1.5l3-4.2l1-30.3l1-5.3l1-1.4l1-0.2l1 0.8l2-0.3l1-1.4l3-0.3l2 40.3l4 36.8l3 21l0 58.2l-65 22.9z"/>
<path transform="translate(490,1100.2)" fill="url(#q1)" d="M65,-81.1l2 8.8l2 5l3 5.4l2 0.9l1-0.2l1 1.5l1-0.7l1 1.1l3-0.7l3 0.6l2-0.9l2 1.1l1-1.7l3 0.3l5-1.9l1 1.3l1-1.3l1 0.1l2-1.6l2-0.7l2 0.3l1-1.2l1 0.2l1-0.9l2-0.7l1 1l1-1.5l1 0.4l1-1.4l1 0.3l2-1.3l1 0.1l1-1l1 1l1-0.5l1-2l1 0.4l1-0.8l2 0.5l1-1.4l3 0l2-1.6l1 0.8l4-2.7l1 0.8l2-1.9l1 0.8l1-1.2l1 0.7l1-0.3l2-1.7l3 0.2l2-2.4l3 0.3l1-1l1 0.5l2-0.9l2-2.1l1 1l1-0.2l1-1.5l1 0.7l1-1.4l2 0.5l1-1l2 0.1l4-2.8l1 0.7l3-2.1l2 0.6l1-1.5l1 0.7l3-2.2l1 0.5l3-0.8l1-2l1 0.8l1-0.5l1 0.3l4-2.6l1 0.4l1-1l2 0.3l1-0.9l1 0.7l2-1.6l1 0.1l3-2l2-0.6l1 0.5l4-1.3l1-1.9l1 1l2-1.4l2 0l1-0.8l1 0.5l3-2.2l3-0.8l2-1.3l1 0.8l5-2.4l1 0.3l1-1.1l1 0.3l1-1.3l1-0.3l1 0.5l5-2.5l1 0.6l1-0.4l1-1.3l6-1.2l2-1.2l1-1.4l1 0.9l1-0.2l2-1.7l1 1.1l1-1.5l3-1.3l1 0.7l1-1.2l1 0.5l1-1.2l1 0l1-0.9l2 0.5l1-1.1l2-0.4l1-0.9l2-0.1l3-2l3 0.4l1-1.7l1 0.8l3-1.5l2 0.3l1-1.7l2-0.6l1-1.6l1 1.1l3-1.8l2 0.6l1-1.2l2-0.7l1 0.7l1-2.1l1 0.7l1-0.4l1-1.6l1-0.4l1 0.9l1-0.8l1 0.8l2-1.3l1 0.5l1-2.1l1 1.3l1-2.6l1 1.7l1 0.2l2-2.6l1 1.2l1-1.4l7-2l2-1.4l1 0.5l1-0.3l1-1.9l1 0.8l2 0l1-1.8l2 0.3l1-1.5l1-0.2l1 1l4-2.7l1 1.2l2-2l2-0.8l1 0.2l1-1.2l1 0.3l4-1.8l1 0.8l1-1.6l2-0.3l1 0l1 0.9l1-2.4l2-1.1l1 1.4l1-0.4l1-1.3l2-0.4l1-1.3l3-1l1 0.8l2-1.7l1 0.3l1-1.3l1 0.5l1-1.4l1 1.3l1-1.8l2-0.1l2-1.5l2 0.3l1-1.5l1 0l1-1.3l4 0.1l2-2.2l2 0.6l2-1.6l3-0.5l3-2.7l2-0.8l1 0.8l2-2.1l2-1.1l1 0.1l3-2.4l2-0.9l1 0.1l1-1.6l3-1.2l3-0.1l1-2.1l3-1.3l1 0.3l1-2l1-0.6l1 0.6l2-0.9l1-1.2l1 0.5l3-2.7l1 0.2l1-1.2l3 0.1l3-2l1 1.3l1-1.2l4-0.5l1-1.4l1 1.2l1-1.1l1 0.3l1-1.3l1 0.5l3-0.1l1 0.5l1-1.9l2 1.1l1-1l1 0.5l2-1.2l2-0.5l2 0.8l1-0.5l1-1.4l2-0.7l1 0.5l1-0.6l2-3.1l1 1.1l2-3.1l1 0.4l1-0.8l2-2.7l1 0l2-1.5l2-3.1l1 0.7l1-0.8l1-1.9l1 0.2l6-4.9l1-2l1 0.2l1-1.4l1-0.1l3-3.1l1-0.5l2-2.6l2-0.3l2-1.6l1 0l1-1.7l1 0.4l1-2.2l3-2.2l1 0.1l3-2.8l1-0.1l1-2.1l1 0.1l4-3.9l1-1.9l9-10.1l2-0.1l2-3.3l1-0.2l3-3.5l1 0.2l2-2.8l3-2l2-2.5l1 0l1-2.1l1 0.4l2-1.5l1-1.4l3-0.8l1-1.4l1 0.2l1-1.8l1 0.5l1-2.3l2-0.8l1-1.9l2 0l2-2.4l2-0.4l1 0.4l2-2.3l1 1.1l3-3.1l1 1.1l1-1.2l3 0l3-2l1 0.8l1-0.2l1-1.8l2 0.7l1-0.8l1-3.3l2-14.8l6-54.5l2-12.1l2-3.9l1-61.6l1-0.9l2-0.1l2-2l1 1.4l1-1l1 0.1l1 60.9l2 9.9l4 53.1l3 29.1l2 11.9l3 10l3 4.7l1 0.3l1 2.2l1-0.2l1 1.2l3 0.8l1-0.3l2 1.1l1-1.5l1 0.9l1-0.3l1 1l2-1.3l4-0.1l1-1.2l1 0.8l1-1.3l1 0.7l1-1.4l1 1.1l5-2.2l1 1.2l2-3.1l1 1.6l1-1.1l2-0.2l2-1.3l1 0.7l2-1.1l1 0.3l2-2.4l1 0.7l1-0.7l1 0.1l2-1l1-1.6l1 1.4l1 0.2l2-2l2 0.6l0 26.5l-657 231.7z"/>
<path transform="translate(498.5,1105.3)" fill="url(#a4)" d="M0,-55.7l2-2.2l1-2.1l1 0.3l3-4.4l2-1.6l1-2.3l3-3.6l1-2.1l1-0.4l1-3.2l1 0.4l1-1.2l1-2.8l4-5l1-2.7l2-1.9l1-2.2l10-12.8l1-2l1 0.2l3-3.6l2-1.4l1 0.2l1-1.5l1-60.9l3 0.6l2-2l1-0.1l1 0.7l1-2.5l1 0.5l1 60.7l2 7.9l4 26.4l2 8.8l0 50.6l-65 22.9z"/>
<path transform="translate(498.5,1105.3)" fill="url(#q4)" d="M65,-73.5l3 9.2l3 4.1l1-0.2l2 1.9l2-0.5l1 1.3l1 0.3l2-0.8l1 0.8l2-1.5l3 0.1l3-0.8l2-1.9l1 2l2-2.9l1 1.6l2-1.3l1 0.3l1-1.2l1 1l2-1.9l1 0.2l1-1.1l1 0.4l1-0.5l1 0.8l1-2.2l1-0.4l3 0.1l1-1.3l1-0.5l1 0.8l2-1.5l1 1l2-2.1l3-0.9l1 0.5l1-1.3l2-0.4l1 0.7l3-1.4l1-1.2l2-0.2l1 0.5l1-1.4l4-0.7l1-1.1l1 0.3l2-0.8l1-1.3l2-0.2l1 0.9l3-2.2l1-1.7l1 1.1l5-2.4l2 0l1-1l1 1.5l1-2l1 0.7l2-2l1 0.7l2-0.8l1-1.1l1 0.9l2-2.1l1 0.9l1-1.2l1 0.3l1-1.1l1 0.6l3-2l4-1.2l1-0.9l2-0.6l1 0.8l1-1.8l1 1.3l2-2.2l1 0.6l1-0.3l2-1.9l1-0.2l1 1l1-1.3l2 0.2l4-1.4l1-1.5l1 0.2l2-1.1l1 0.7l1-1.4l1 0.6l2-1.5l2-0.3l1-1l1 0l1 1.4l1-2.9l1-0.7l1 0.5l1-0.5l2 0.2l3-1.7l2-0.3l2-1.9l3 0.3l2-1.1l1 0.2l4-2.6l4-0.4l2-1.8l2 0.1l4-2l1 1l1-1.6l7-1.6l2-1.3l2 0.2l1-2.3l1 2.2l1-2l1 0.3l2-1.3l3-0.8l1-1.1l1 0.9l1-1.5l1 0.5l2-1.3l2 0.1l2-1.2l1 0.3l1-1l1 0.3l2-1.5l1 0.4l1-1.4l2 0.4l3-2.6l1 0l1 0.9l2-2.3l2 0l2-0.8l3 0.1l1-1.6l1 0.6l2-2.1l2 0.3l2-1.5l1 0.9l1-1.9l1 0.9l1-0.4l1-1.5l1 1.3l2-1.9l4-0.6l1-0.8l1 0.3l4-2.4l1 0.9l1-1.4l2-0.1l1-1.3l1 0.5l2-0.7l1 0.7l1-1.9l1 0l1-1.6l2 1l1-1.7l1 0.6l2-0.8l1-1.5l1-0.3l1 0.8l2-1.6l1 0.5l2-0.9l1-1.4l3 0.4l1-0.9l2 0.1l2-1.9l1 0.4l2-0.5l3-1.6l1 0.6l3-1.7l1 0.1l1-1.4l1 0.4l1-0.8l1-1.5l1 1l5-2.5l1 0.1l3-2l4-0.5l1-1.1l2 0.4l1-1.9l1 1l2-1.6l1 0.5l1-1.2l2-0.6l1 0.3l1-1.2l1 0.7l1-2.2l1 0.9l1-0.5l1-1.7l3 0l1-1.9l2-0.1l1-1.5l1 0.3l1-1.3l1 1.1l2-2.8l3-0.6l2-2.1l1 0.8l1-0.2l2-2.1l2-0.2l2-2.1l1 0.3l1-1.7l1 0l3-1.9l1 0.6l5-4.3l3 0.3l3-1.8l2-0.1l1-1l3 0l1-1.1l1 0.3l1-1.1l5-0.4l1-1.2l2 0.8l2-1.4l3 0.8l1-1.1l1 0.3l2-0.5l3 0.8l1-1.8l1 0.2l2-2l2 0.3l2-0.9l6-4.5l1 0l1-2.1l1-0.2l2-2.7l1 0.6l1-2l9-7.1l2-2.8l3-1.2l2-2.4l1 0.1l1-1.6l2-1.1l2-2.8l2-0.3l2-2.3l1 0.6l1-2.2l1 0.5l2-3l1-0.2l1-2.2l2-0.2l2-1.2l2-2.9l1 0.2l2-3l3-2.3l4-5.5l2-0.8l2-3.3l3-2.1l1-2l5-5.3l2-0.4l1-1.8l2-1.8l1-0.2l4-3.6l3-1.3l1-1.7l1 0.7l1-3.6l2 0.5l2-2.4l1 0.3l2-1.3l2-2.5l5-2.5l1 0.3l5-3.9l1 0.8l1-0.2l3-2.2l1 0.7l2-1.3l2 0.9l2-1.8l4-1.1l9-77.2l2-7.8l1-0.6l1-48.8l1-0.2l1-1.1l2 0.1l1-1.5l1 1.4l1-1.8l1 0.5l1 48l2 9.4l4 53.2l3 29.4l3 15.8l2 6.3l5 7.4l2 1.3l2-0.5l5 1.7l4-0.3l1-0.9l2-0.2l1-1.4l2 1.4l4-1.8l1 1l1-1.7l2-0.3l1-0.7l2 0.5l1-1l1 0.6l1-1.3l3-1l1 0.8l1-1.5l1 0.3l1-1.2l1 0.8l1-1.4l1 0.6l1-1.1l3 0.1l4-1.7l1-1l1 0.5l1-0.7l1 0.4l1-1l0 27.1l-657 231.7z"/>
<path transform="translate(507.1,1110.4)" fill="url(#a3)" d="M0,-56.6l1-0.1l2-2.2l3-5.1l1 0l3-5l1 0l1-2.6l5-5.7l1-2.5l5-5.8l1-3.2l6-7.9l2-4.1l10-10.7l2-0.6l2-3l1-53.1l1-0.7l1 0.5l1-1.4l3-1l1-2l2 1.7l1 53.7l2 6.3l4 27.5l3 12.5l0 47.8l-66 23.3z"/>
<path transform="translate(507.1,1110.4)" fill="url(#q3)" d="M66,-71.1l3 8l4 4.1l1-0.6l2 1.8l1-1.1l1-0.1l1 1.1l1-0.6l2 0.6l1-0.9l1 0.7l2-0.2l1-1.4l3 0.7l1-1.6l1 0.6l1-1.2l3-0.5l1-0.8l1 1.3l1-1.4l7-3l1 0.3l1-0.8l3-0.1l2-0.7l1-1.4l1 1.2l1-1.2l4-0.9l2-1l3-0.4l3-1.9l3 0l2-2.5l1 0l1 1l3-2.5l3-0.2l1-1.1l1 0.9l2-1.5l1 0.3l2-0.4l1-1.4l2-0.9l2 0.4l1-1.4l2-0.4l1-1l1 1.2l2-1.6l1 0.7l2-2.4l1 1.3l2-2.6l2 0.8l1-1.7l1 0.7l1-1.7l2 1.4l1-1.6l1 0.8l1-1.7l1 0.4l3-1.7l1 0l1-1.2l1 0.6l1-0.5l1 0.5l1-1.4l1 0.5l3-2.3l2 0.3l1-1.2l1 1l3-2.5l1 1.1l2-1.6l1 0.2l1-0.7l1 0.5l2-2.3l1 0.7l2 0.1l3-2.4l1 0.2l1-0.9l1 0.1l1-1.4l2 0l3-1.7l1 0.4l2-0.6l1-1.2l1 0.3l2-1l1 1.1l1-1.3l1 0.2l1-0.6l1-1.6l3-0.3l2-1l2 0l4-2.3l1 1.1l2-2.4l1 0.9l1-1.8l3 0l1-1.4l2 0.4l2-1.6l1 0.9l1-1.3l2 0.2l1-1.1l2-0.3l1-1.2l1 0.4l1-0.5l2 0.3l1-1.8l1 1.2l4-2.8l1 0.1l1-1.1l2 0.4l1-1.6l2 0.9l2-2.1l1 0.7l2-1.9l1 0l1-0.8l2 0.6l1-1.1l1 1l3-2.9l1 1.1l1-1l2-0.3l1-2l1 1l1-0.1l3-2.1l1 0.6l1-1.6l1-0.3l3-0.3l4-1.8l2 0l2-1.8l2 0.5l1-1.4l2 0.4l3-2.7l1 0.7l2 0l1-1.4l1 0.1l4-1.5l1-1.3l1 1.5l3-2l2-0.4l1-1l2-0.1l2-2l1 1.5l1-1.4l1 1.4l1-2.5l1-0.5l1 1.1l2-1.6l3-1.2l1 0.4l1-1.1l4-0.8l2-2l1 0.6l2-1.5l1 0.7l1-0.2l4-2.3l2 0.6l1-1.3l2-0.8l1 0.5l2-1.1l1 0.6l2-2.6l1 0.2l1-1.1l2 0.4l1-1.2l6-1.3l1-1.5l3 0.2l1-1.5l1 0.4l1-1.1l1 0.1l2-1.5l1 0.3l1-1l2 0.3l2-1.8l1 0.7l1-0.8l1 0.1l1-1.3l1 0.3l1-1.5l3-1.7l1 0.2l1-1.4l1 0.3l3-2.6l2-0.2l3-2l2-0.9l1 0.1l1-1.3l1 0.1l1-2.1l1 0.2l2-0.7l2-2.1l2-0.5l3-2.2l1 0.5l1-0.6l1-1.5l2-0.5l2-2.5l1 1.9l2-0.5l1-1.7l2-0.4l1 0.7l3-1.9l2 0.7l1-1.3l1-0.2l3 0.4l5-2.5l1 0.6l3-0.3l1 0.6l4-1.9l1 0.7l1-1.2l1 1.7l4-3.1l3-1.1l2-2.3l5-2.3l1-2.2l1-0.3l1-1.3l1 0l8-7.7l1 0l2-3l2-0.7l1-1.8l1 0.7l1-2.1l3-2.8l1 0.3l4-4.8l1 0.7l1-1.5l1-0.3l1-1.7l2-1.1l2-2.3l3-1.6l2-2.7l1 0.1l3-2.7l1-1.6l2-1l2-3l2-1.4l2-3.5l1-0.8l1 0.2l2-3.5l1-1l1 0l1-2.4l2-2.3l1-1l1-0.1l6-6.2l1-0.2l3-3.9l4-2.2l1-2.2l1-0.2l1-1.5l2 0.5l1-1.8l1 0l1-1.4l2-0.9l1-1.5l3-1.9l1-1.9l1 0.5l1-0.3l3-2.4l2 0.3l1-1.1l4-1.9l3-0.5l1 0.6l2-1.7l1 0.5l4-2.3l2-0.7l1 0.4l2-13.4l7-61.5l2-7.7l1-1.8l1-62.7l2 0.1l1-1.4l1 0.1l1-1.3l2 0.5l1-1.2l1 62.9l2 9.8l6 74.3l2 15.7l3 13.9l1 0.5l4 7.6l2-0.1l1 2l1-1.3l1 1.4l2 0l2 2l1-1.1l3-0.7l2 0.2l1-1.1l2 0.6l1-0.9l2 0l2-1.4l1 1.4l6-3.5l2 0.5l2-1.6l2 0.7l3-2.4l2 0.1l2-1l1 0.4l2-1.4l1 1.1l1-1.4l3-1l1-1.2l1 1.4l1-1.5l3-0.3l0 27l-656 231.3z"/>
<path transform="translate(515.6,1115.5)" fill="url(#a0)" d="M0,-55.8l2-3.4l2-1.7l1-2.2l4-4l1-1.9l2-1.4l3-6l1-0.1l2-4.1l1-0.5l1-2.3l5-5.9l1-2.7l2-2.5l2-4l1-0.5l2-3.9l1-0.4l1-2.2l2-1.1l2-3.1l1 0.6l1-3l1 0.4l4-4.2l1 0.9l1-59.3l2-0.8l1 0.4l2-1.8l1 0.6l2-1.1l1 59.3l1 1.1l1 3.9l4 27.3l3 14.8l0 47.3l-66 23.3z"/>
<path transform="translate(515.6,1115.5)" fill="url(#q0)" d="M66,-70.6l3 7l1 0l3 4.3l4 1.1l1-1.3l2 1.5l2-1.1l4 0.3l2-2.2l1 2.1l2-1.9l1 0.5l3-0.1l1-2l2 0l1-1.1l1 0.4l1-1.4l2 0.9l3-2.3l1 1.3l1-0.9l2-0.3l2-2.4l1 0.9l2 0.1l1-1.8l2 0.3l2-0.7l1-1.4l1 0.5l3-0.5l4-1.9l1 0.3l1-1.5l1 0.9l3-2.5l1 1.4l2-2.7l3 0.3l2-1.9l2 0.5l1-0.6l1 0.6l4-2.8l2 0l1-1.5l1 0.5l2-0.8l2 0.1l3-2.4l1 1.3l2-2.1l1 0.3l3-1.9l2-0.1l1-1.5l1 1l1-0.8l1 1.5l1-2l1 0.8l1-1.3l1 0.9l2-2.7l1 0.4l2-1.6l1 0.6l1-0.8l1 0.5l1-0.6l1 0.4l1-1.8l1 0.4l2-1.4l2-0.2l1-0.8l3-0.1l1-1.2l4-1.4l2-1.4l1 0.6l1-0.3l1-0.9l4-0.8l1-1.1l1 0.3l1-1.2l1 0.7l2-1.6l3-0.6l1-1l2 1.2l1-2.3l1 0.6l1-0.2l2-1.5l3-0.8l1-1l1 0.4l3-1.4l2 0.1l1-1.7l1-0.4l2 0.9l1-1.3l2-0.5l1 0.3l1-1l1 0.2l2-1.4l6-2l1-1l2-0.1l2-1.7l1 1.2l1-1.5l2 1.3l2-3.1l2-0.1l1 0.9l1-2.7l1 1.4l1-0.4l1-1.3l2 0.9l1-1.2l4-1.6l2 0.7l1-1.1l1 0l2-1.4l1 0.5l2-2.4l4-0.2l1-1.8l1 1.2l3-1.7l1 0.4l2-0.2l4-2.9l1 0.4l3-1.7l1 0.3l2-1.2l1 0.6l2-2l1 0.4l2-1l1 0.3l4-2.9l4-0.6l2-1.3l1 0.4l1-1.2l2 0.5l2-0.6l1-1.9l4 0.3l2-1.7l1 0.6l1-0.4l1-1.5l1 0.5l1-1.3l1 0.6l2-0.8l2-2l1 0.5l1-0.7l1 0.7l2-1.2l1 0.1l2-1.8l3 0.1l3-2.3l2 0.1l2-1.7l1 1.1l2-2.2l3 1l1-2.1l1 0.3l3-1.8l2 0.2l2-1.8l1 1l1-0.4l1-1.2l2-0.4l1-1.4l1 0.2l3-1.3l3-0.3l3-2.1l2 0.6l1-1.8l2-0.6l1-1l1-0.3l1 1l1-1.9l1 0.6l2-0.6l3-1.8l1-1.4l1 0.3l1-1.2l1 0.9l2-1.9l1-0.3l1-1.6l1 1.1l2-2.2l3-0.6l3-2.8l1 0.6l1-0.6l1-1.7l1 0.3l1-1.6l1 0.7l2-2l1 0.3l1-1.3l3-1.3l2-1.6l1 0.1l4-3.1l3-0.7l2-1.8l1 0.6l2-0.5l2 0.6l2-1.4l1 0.5l1-1.2l1 0.6l3-1.2l1 0.3l1-1.8l1 1.1l1-1l2 0.2l2-0.7l1 0.7l1-0.1l1-0.9l1 0.6l2 0l2-1.4l2 0.8l1-1.9l1 1.1l1-1.7l1 0.3l1-0.6l1-1.5l1 0.5l5-4.5l3-1.6l2-2.6l1-0.2l1-1.7l3-2.8l1 0.1l2-3.2l1-0.1l1-0.9l4-4.7l1 0.6l2-3.4l1 0.2l4-3.9l1 0.3l2-3l1-0.1l2-2l1-0.4l1-1.7l1-0.3l1-1.2l1 0.2l3-2.4l1-2.2l2-0.2l3-3l3-4.6l1-0.1l2-3.5l3-2.2l1-2.7l1 0l2-2l1-1.8l4-4l1-2l2-0.3l1-2.1l3-2l3-3.6l3-2.1l1-2.5l1 0.9l1-0.1l1-1.7l4-2.8l2-2.2l1-0.2l2-2l1 0.8l3-3.5l3-1.7l1-1.5l1 0.5l2-1.5l1 0.7l1-0.2l1-1.4l2 0.4l1-1.3l2-0.3l1-1.3l1 0.2l2-0.9l1 0.4l1-1l5-1.1l1-3.5l2-15.6l5-46.3l2-11.3l1-3.6l1-1.1l1-48.8l1 0.4l3-1.8l1 0.1l3-1.1l1 47.9l1 3.6l2 18.2l4 52.4l3 25.7l2 8.6l3 8.2l2 3.8l2 1.9l1-0.3l1 1.4l1-0.5l1 1.1l1 0.1l1-0.6l1 1.7l1-1.2l2 1.1l1-1.1l2 0.9l2-1.8l1 0l1 1.4l2-1.7l3-0.8l1 0.3l1-1.5l1 0.7l3-0.1l3-2.7l1 0.9l1 0l1-1.4l1-0.3l1 0.4l1-0.4l1-1.4l1 0.3l3-1.1l2 0.3l1-1.6l1-0.5l1 0.7l1-1l3-0.4l1-0.9l2 0.5l1-1.4l1-0.1l0 27.5l-656 231.3z"/>
<path transform="translate(524.2,1120.6)" fill="url(#a1)" d="M0,-56.8l6-6.3l6-8.1l1-0.6l2-4l1 0.3l3-6.1l1-0.5l2-2.8l2-4.1l1 0.3l2-4.6l4-5.4l2-3.8l1 0l1-2.2l2-1.8l1-2.6l2-1.6l1 0.8l2-3.3l1 0.7l1-2.2l1 0.6l1-0.6l1-53.8l2-0.7l1-1l2 0.4l1-1.8l2 0.5l1 52.5l1 1.4l1 4.4l4 26.4l3 13.7l0 49.4l-66 23.3z"/>
<path transform="translate(524.2,1120.6)" fill="url(#q1)" d="M66,-72.7l2 6.4l2 4.2l2 2.1l2 0.3l2 1.4l1-0.9l5 1.1l1-1.5l1 1.6l1-1.4l1-0.2l1 0.7l1-0.1l2-0.8l1-1l1 1.7l1-2.1l1 0.4l1-0.9l1 0.3l1-1.5l2 0.5l1-1.4l1 0.6l1-0.7l2 0.3l1-1.2l1 0.6l5-2.3l1-1.6l1 0.5l3-0.5l1-1.1l1 0.8l1-1.1l1 0.4l3-2.1l1 0.8l3-2.3l1 0.2l1 1l1-2.2l6-0.9l1-1.1l2-0.2l1-0.9l1 0.4l2-1l1-1.1l2-0.1l1-0.7l2 0.6l2-1.6l1 0.3l2-1.8l2 0.2l1-1.2l1-0.4l1 0.5l3-2.1l2 0.1l4-1.8l1 0.2l1-1.5l1 0.7l1-1.1l2 0.4l2-1.5l3-0.6l1-1.5l1 1.2l3-2.4l2 0.4l2-1.4l1 0.3l1-0.6l1 0.3l4-2l5-1.3l3-1.9l1 0.3l2-1.2l1 0.4l1-1.3l3-0.6l3-1.7l1 0.5l1-1.3l1-0.3l1 0.9l2-1.9l2-0.6l1 0.5l2-1.5l1 0.3l2-1.4l2 0.1l3-2l1 0.3l1-0.7l1 0.4l1-1.3l3-0.2l1-1.5l1 0.5l1-0.3l1-1.2l1 0.8l3-2l1-0.3l1 0.5l3-2.2l1 0.7l5-2.1l1 0.4l1-1.7l3 0l1-1.5l1 0l1-1.7l2 1.8l1-1.3l2 0l1-1.2l4-1.7l2-0.2l1-1.5l1 1.6l1-2l1 0.3l3-1.5l2 0.3l1-1.2l4-0.3l2-1.7l1 0.4l1-1.7l1 0.5l3-0.6l1-1.7l1 0.3l1-1.6l3 1.5l1-2l2 0.1l2-0.7l1-1.1l2-0.2l1-1.3l1 0.9l4-1.7l1 0.6l1-0.4l1-2.4l1 1.4l1-1.5l1 0.8l3-3.3l1 2.5l2-2.5l1-0.2l1 0.9l1-1.5l1 0.4l3-1.1l1-1.5l2 0.6l2-1l2-2.4l2 1.6l1-1.2l2-1l1 0.6l2-1.4l1 0.3l2-0.6l1-1.4l2-0.8l1 0.4l2-1.6l1 0.2l4-1.1l2-1.7l5-0.6l1-1.1l2-0.8l1 0.6l1-2.4l1 1l2 0l4-3.2l1 1.1l1-0.6l1 0.3l3-3.2l3-0.1l2-1.2l1 0.5l1-1.8l1 0.9l1-1.3l1 0.9l1-1.2l3-1.7l1 0.6l2-1.7l1 0.3l2-1.1l1-1.5l1 0.4l1-0.6l1 0.8l1-1.5l3-2.2l1 0.7l1-0.9l1-0.1l2-2l1 0l2-1.5l2 0l2-2.4l1-0.5l1 0.5l2-2.5l2-0.1l1-1.6l2-0.4l3-2.5l2-0.2l3-2.9l3-0.3l1-2l5-0.9l1-1.5l4 0.7l1-1.4l1-0.3l2 1.2l1-2.5l1 1l1 0l2-1.1l1 0.5l1-1l2-0.7l1 0.9l2-0.9l3 0.5l2-1.2l1-0.1l1 0.9l2-0.4l1-1.1l1 1.1l1-1.9l2 0.2l3-2.4l1-1.6l1 0.2l3-1.5l4-4.8l3-1l5-5.9l1-0.3l1-1.5l2-1.9l1 0l4-4.1l1-0.1l1-3.1l1-0.2l1-1.6l2-0.1l1-1.5l1-0.4l1-1.6l1 0l5-5.5l1 0.4l3-3.5l1 0.2l4-4.9l2 0.6l3-5.5l2-1.6l3-3.7l1-2.2l1 0.1l3-4.4l1-0.3l3-4.2l5-4.1l1-2l4-4l2-1.1l1-2.3l1 0.3l2-2.5l2-1l2-2.5l1-0.9l1 0l2-2.2l1 0.3l1-1.1l1-0.1l1-2.9l5-2.2l4-3.5l1 0.8l2-1.4l3-0.9l1 0.4l1-0.8l1 0.1l1-1.7l1 0.9l1-1.1l3-0.7l1-1l1 0.8l1-2.1l1 1.1l1-0.2l1-1.8l1 0.5l8-67.9l1-6.8l2-3l1-64.8l1 0.6l1-1.2l2 0.6l1-1.9l3-0.5l1 64l2 10.6l6 74.2l3 20.1l2 7.4l3 6.8l1 0.5l1 1.6l1 0l1 2l1 0.6l1-0.7l2 1.2l1-0.8l1 1.2l2-0.8l1 0.8l1-0.9l1 0.3l1-0.5l2 0.8l3-1l1-1l2 0.7l1-1.7l2 1l2-1.7l4-0.9l1-1l1 0.5l4-1.4l1-0.8l1 0.2l1-1.7l2 1.3l2-2.1l1 0.3l3-1.3l1 0.7l1-0.9l4-1l2-2.1l1 0.7l0 27.5l-656 231.3z"/>
<path transform="translate(532.7,1125.7)" fill="url(#a4)" d="M0,-55.6l3-4.2l2-2.1l1-0.3l4-6l6-6.5l1-2.1l1-0.4l1-2.9l3-4.2l1 0l3-6.6l1-0.6l1-2.1l9-11.7l6-6.3l3-0.9l1-1.6l1-46.8l4 0l2-1.9l1 0.8l1-0.6l1 45.5l1 0.9l2 8.4l4 26.3l2 8.7l0 49.5l-66 23.3z"/>
<path transform="translate(532.7,1125.7)" fill="url(#q4)" d="M66,-72.8l2 6.5l1 0.5l2 4.4l1-0.5l2 3.3l1-0.3l1-1.8l2 3.1l2-1.4l1 1.2l1-1.1l4-0.4l1 0.3l1-0.6l2-0.1l1-1.5l1 0.2l2-1l2 1.2l2-2.1l1 0.2l2-1.1l1 1l5-3l1-0.3l1 0.4l2-1.4l1 1l3-2.4l4-1l1-1.2l1 1.4l1-1.9l1 0.6l1-1l5-0.7l2-1.7l2 0.1l1-0.7l1 1.1l1-1.6l1 0.4l1-2l2-0.7l1 0.5l2-0.6l2-1.3l2 0.5l1-0.3l1-1.7l1 0.5l1-0.1l4-2.2l1 0.2l4-2.8l1 0.9l4-1.3l1-1.5l1 0.8l5-2.2l2 0.4l1-2.4l1 0.8l4-0.5l2-2l2-0.2l2-1.2l1 0.2l1-0.8l2 0.1l2-1.8l1 0.3l1-1.1l3 0.4l2-1.8l1 0.2l1-0.9l1 0.3l2-1.5l3-0.2l2-1.9l1 0.7l1-0.1l2-1.7l2 0.6l1-1.1l2-0.7l3-1.1l1 0.3l1-1.1l1 0.5l1-2.3l2 0.8l2-0.5l3-2.2l1-0.3l1 0.3l4-2l2 0.1l1-0.7l2-0.1l4-2l1 0.6l2-1.9l1-0.2l1 0.6l2-0.9l2-2.3l1 0.4l1-1.4l1 0.9l3-1l1 0.8l1-1.8l1-0.7l1 1.6l1-1.9l3-0.5l4-1.8l1 0.2l2-2.5l1 1.6l1-0.8l2-0.2l1-1.1l4-1.1l1-1.1l3-0.2l2-0.8l3-2l1 1.2l4-3l2 0.2l1-0.9l1 0.3l1-0.9l2 0l1-1.5l1-0.4l1 1.3l1-2.7l1 0.8l1-0.7l2 0l1-1.2l2-0.2l1-0.9l1 0.8l2-1.4l2-0.1l1-1.4l1-0.3l1 1.1l1-1.3l1-0.1l1-0.9l3-0.2l3-1.8l2 0.2l1-1.2l2-1l1 0.3l1-0.8l1 0.3l1-1.4l1 1.1l1-1.5l1 0.4l2-0.7l3-2.2l1 0.9l1-1.2l1 0.4l1-1.2l1 0.1l1-1l2 0.6l1-2l3 0.1l3-1.4l2 0.5l2-2.7l2 1.1l3-2.5l2 0.7l1-1.1l1 0.4l2-1.7l2-0.1l4-1.7l6-3.6l1 0.7l1-1.1l1 0.7l1-1.6l2 0.1l1-0.5l1 0.3l1-1.1l1 0.2l1-1.7l2 0l4-1.9l2 0.2l1-1.7l1 0.1l1-0.8l1 0.3l1-1.4l1 0.9l5-3.9l2-0.5l2-2l2-0.2l2-1.8l2-0.3l2-1.2l1-2l1 0.7l2-1.9l2-0.6l1-1l1 0.1l3-2.7l2-0.7l4-2.7l1 0l3-2.2l1 0.9l1-1.2l2 0l3-1.4l1 0.7l1-0.3l5-2.9l1 0.9l2 0.4l3-2.3l5 1.1l1-0.9l2 0.7l3-1.3l1 0.9l1-1.5l1 0.8l1-1.5l1 0.4l3-2.4l1 0.2l2-2.3l1-0.1l2-1.7l2-2.5l1 0.2l1-1.4l1-0.3l1-1.5l3-2.4l1-2.5l2-0.2l4-5.6l1-0.7l1 0.4l3-3.6l2-1l1-1.9l1-1.1l1-0.3l1-1.5l1 0.4l2-2.8l2-1.2l2-2.3l1 0.5l1-2.4l1 0.1l2-2.5l4-2.5l1-2.4l1-0.1l3-4l1 0.5l1-3.1l2-0.4l4-5.7l2-1.9l2-4l1 0.3l5-7l1 0.3l1-0.9l3-4l2-1.3l2-2l1-2l1-0.2l2-2.5l2-0.9l2-2.2l3-1.2l2-3l4-2.3l2-3.1l2-0.2l4-3.9l1 0.7l1-1l3-0.1l4-2.5l1 1l1-1.6l1-0.5l3-1.1l1 0.4l2-0.6l1-1.3l3 0.2l1-1.2l7-60.5l2-11.1l1-3.4l1-1l1-49.9l1 0.3l1-1.9l2 0.4l3-1.7l1 0.6l1 48.8l2 10.2l6 74.9l3 21.1l2 7.4l1 1.2l1 3.3l1 1.8l5 5l1-1.3l1 1l1-0.1l1 1.2l3-0.9l1 0.5l2-0.1l1 0.7l2-0.8l1-1.4l1 1.1l2-1.5l2 0.8l2-1.2l1 0.3l2-1.1l3 0.3l1-1.2l2-0.4l1-1.2l3-0.2l1-0.8l2 0.3l1-1.5l2 0.5l2-0.5l2-1.6l1 0.8l1-2.1l2-0.1l1 1.3l1-2.8l1-0.5l3 0.6l0 27l-656 231.3z"/>
<path transform="translate(541.3,1130.9)" fill="url(#a4)" d="M0,-54.3l5-7.3l2-0.8l1-2.2l3-3.1l3-4.8l2-1.4l2-4l2-1.9l1-2.3l2-1.7l3-5.2l3-3.3l1-2.8l3-3.8l1-0.4l4-6l4-3.7l4-2.9l1 0l1-39.8l2-1.8l1 0.4l2-1l1-1.2l1 0.9l1-1.3l1 0.7l1 39.6l1 2.1l1 5l3 20.8l3 13.9l0 50.3l-66 23.3z"/>
<path transform="translate(541.3,1130.9)" fill="url(#q4)" d="M66,-73.6l2 6.7l2 4.3l1-0.3l1 2.4l4 1.2l2 1.2l1-0.9l1-0.1l2 1.9l1-2.1l1-0.4l1 1.5l2-1.7l2 0.1l1 0.6l1-1.3l1-0.4l1 0.5l3-1.5l1 0.2l1-1.6l1 1.3l2-1.7l3 0l2-1.5l3 0.3l1-1.6l2-0.8l1 1.3l1-1.9l1 0.3l1-0.8l1 0.1l1-0.7l1 0.6l1-1.7l1-0.3l2 0.7l1-1.9l2-0.2l1-0.7l1 0.6l1-1.7l1 0.6l1-1.8l1 1.2l1-0.8l3-0.3l4-2.3l1 0.7l1-1.5l1 1.3l2-1.9l2 0.9l1-1.7l3-1.5l1 0.8l1-1.3l2-0.2l1-1.2l1 0.4l1-1l2 0.5l1-1.1l3-0.1l2-2.3l4-0.1l2-1.6l2 0l1-1.3l5-1.7l1 1.3l1-1.8l1-0.6l2 0.2l1-0.8l1-1.9l2 1.3l2-2.1l1 1l1-0.9l1 0.4l3-2.2l1 0.7l3-2.3l2-0.7l1 0.4l1-1.5l1 1.2l2-1.4l1 0.8l1-0.3l1-2.2l1 0.3l1-0.6l1 0.7l2-0.4l4-2.9l2-0.4l1 0.9l1-0.6l1-2.2l1 0.7l2 0.2l1-2.3l1 1.5l3-1.3l3-2.1l2-0.2l1 0.7l3-2.3l1 0.4l1-1.2l2 0.4l2-2.1l1-0.1l1 0.7l1-1.6l1 0.5l1-1l1 0.1l1-0.8l1 0.7l3-2.4l1 0.7l1-0.6l1 0.1l2-1.5l1 0.7l2-1.9l3-1.5l2 0.6l1-1.5l1-0.2l1 0.6l4-2.6l3 0l1-1.7l1 0.6l6-2.2l3-0.5l2-2.4l1 0.5l3-0.9l1 0.4l1-1.1l1 0.5l1-2.1l1 0.8l3-0.7l2-1.4l1 0.5l1-0.9l1 0.7l1-1.5l1 0.1l2-1.7l4-0.6l1-1.1l1 0.1l2-1.2l3 0.1l1-1.3l1 0.6l1-1.2l1 0.8l1-1.2l1 0.3l1-1.2l1 0.3l1-0.8l2-0.3l2-1.2l1 0.1l2-1.1l2-0.2l1-1l1 0l1-0.8l1 0.1l2-1.7l3 0l1-1.2l1 0.4l1-1l1 0.2l1-0.8l2 0.7l1-1.7l1 0.2l1-1.8l1 1.3l2-2l2 0.3l1-1.5l1 0.8l1-1.2l1 1.9l1-2.1l4-0.7l1-1.7l1 0.5l3-1.4l1 0.6l1-1.7l1 0.4l1-1.1l1 0.6l3-2.3l1 0.4l1-0.9l1-0.2l1 0.8l1-1.2l1 0.4l1-1.3l3-0.9l1-2l4 0.6l2-1.7l3-0.8l4-2.1l1-0.2l1 0.5l1-2l1 0.8l2-2l1 0.3l5-4.5l4-0.7l1-1.7l4-1.5l1-1.5l1 0.8l3-2.6l1-0.2l1-1.9l1 0.5l5-3.3l1 0.3l1-0.8l1-2.2l1 0.7l2-2.4l1 0.3l1-0.9l2 0.1l2-1.4l3 0.3l1-0.8l2 0.3l2-0.6l1-0.9l3 0.1l1-1.6l1 1.1l1-1.6l2 0.7l1-0.9l2 0.5l2-1.3l1 0.9l3 0l2-0.8l1 0.3l3-0.5l1-1.5l5-1.9l2-2l2-1l1-1.7l4-3.4l2-2.6l1-0.1l4-4.9l2-0.3l2-3.3l1-0.3l1-2.8l1 0.4l1-0.8l2-3.1l1 0.2l1-1.8l1-0.6l1 0.4l1-0.5l1-3.8l1 1l1-2.1l1-0.4l1-1.7l1 0.5l1-0.3l4-5l1 0.9l2-3.5l1-0.3l1-1.2l2-0.2l1-2.3l6-7.3l1-0.5l1-2.8l3-2.2l1-2.4l3-2.7l1-2l1 0.1l3-5.3l1 0.3l1-1.8l2-0.5l1-3.4l1 0.6l2-3.3l2-1.2l2-2.2l1-0.2l5-5.7l4-2.2l3-2.8l2-1l1-1.7l1-0.3l1-1.6l1-0.2l1-1.8l2-0.6l1 0.4l2-1.5l3-0.4l1-1.6l1 1.3l1-1l1-0.1l1-1.3l3 0.4l2-2.2l1 0.4l3-1.6l2 0.5l1-1.2l1-3.6l7-62.3l3-9.8l1-46.8l2 0.2l1-1.2l1 0.3l1-0.7l1 0.5l1-1.2l1 0l1 46.4l1 2.4l1 8.1l6 75.6l3 21.1l3 10.5l5 7.3l1-0.1l3 2.4l1-1l1 0.8l1-1l2 1.1l1-1l2 0.7l4-0.5l4-1.6l1 0.6l3-1.1l1-1l2 0.4l1-1l1 1.3l1-2l1 1.1l1-1l3-0.6l1-1.5l1 1.6l1-1.4l2-1l1 0.9l2-2.7l3-0.1l4-1.5l2 0.4l1-2l2 0.2l1-1.3l0 28.2l-656 231.3z"/>
<path transform="translate(549.8,1136)" fill="url(#a4)" d="M0,-53.3l2-3.8l1-0.2l1-1.8l1-0.3l1-2.6l3-1.9l5-7.4l1 0.1l1-2.7l2-1l1-3l6-7.7l2-3l1-2.6l2-1.3l5-7.7l1-0.2l1-2.5l2-1.7l1-1.9l1 0.4l1-1.9l5-2.7l1-53.7l2-1.3l1 0.7l3-1.8l1 0.4l2-1.3l1 54.3l1 1.1l1 4.6l3 19.9l3 15.2l1 1.8l0 47.2l-67 23.6z"/>
<path transform="translate(549.8,1136)" fill="url(#q4)" d="M67,-70.8l3 8.1l1 1.4l1-0.1l3 3l1-0.7l2 0l1 1.6l2-1.3l1 0.9l1-0.2l1-1.3l1 0.6l2-0.2l1-0.8l2 0.4l1-1.1l5-1.3l1-1.7l2 1l8-3.1l1 0.6l2-1.5l1 0.9l3-2l1 0.6l1-2.3l1 1.2l2-1.8l2-0.2l1-0.6l1 0.5l1-0.3l7-3.6l2 0l2-1.1l4-0.6l2-1.2l2-0.2l2-2l2 0.6l3-2.2l1 0.5l6-2.3l2 0.3l1-1.4l1 0l2-1.2l1-0.2l1 0.9l1-2.4l1 0.7l2-0.4l3-1.9l1 0.7l2-1.5l2 0l1-0.8l1 0.4l2-1.7l2-0.2l1-1.2l3-0.3l4-1.2l1-0.8l2 0.2l1-1.6l1 0.8l1-0.7l1 0.1l1-2l1 1l5-2.4l2 0.1l1-1.2l2-1l2 0.3l1-1l1 0l2-2.1l1 1.4l1-0.7l1 0.1l1-1.6l1-0.1l1 0.6l2-1.5l1 0.7l1-1.1l5-1.4l1-1.2l2-0.1l1-1.1l1 1l1-1.8l1 0.5l3-1.2l1-1.5l1 0.1l1 1.2l1-1.6l5-0.8l1-1.5l1 0.8l1-1.3l1-0.4l1 0.6l2-1.9l2 0.4l2-1.4l1 0.5l1-0.5l1-1.4l1 0.4l2-0.4l3-1.8l2-0.1l2-1.4l1-1.6l1 1.1l2-0.1l1-1.7l1 1l2-1.6l1 0.1l1-0.9l1 0l1-0.9l1 0.1l1-0.9l1 0.2l3-1.6l2 0.7l2-2.2l3 0.3l1-1.1l2-0.7l1-1.3l1 0.9l1-0.8l3-0.4l3-2.4l1 0.9l1-0.2l5-2.3l1 0.1l2-1.3l2 0.1l1-1.8l1 0.5l3-1.6l1 0.5l1-0.6l1 0.2l2-1.8l1 0.2l2-1.2l3-0.2l5-2.5l3 0l1-1.4l1 0.6l3-2.3l1 1l2-1.5l5-1.4l1-1.1l3-0.2l1-1.3l1 0.6l2-1.6l1 0.2l2-1.6l1-0.3l2 0.6l1-1.6l3 0l1-1.7l1 0.3l2-0.9l1 0.4l2-0.6l2-1.9l5-0.8l4-2.5l1 0.8l1-1.7l1 1.3l1-1.6l3-1.5l3-0.8l1-0.8l1 0.4l1-1.7l1 0.6l2-1.5l3-0.1l1-0.9l1 0.2l1-1.5l1 0.4l1-2l3-0.5l2-2.7l1 0.9l2-1.1l2-2.1l1 0l2-2.5l2 0.8l4-3.2l1-0.3l1-1l1 0.4l3-2.8l4-1.9l2-1.8l3-0.8l1-1.6l2-1.3l1 0.5l3-1.2l1 0.9l1-0.7l1 0.2l1-1.7l2 0.7l2-0.8l1 0.4l2-1.8l4-0.7l1 0.5l1-1.6l1 1.1l2 0.4l1-0.1l1-1.6l8 0.5l3-1.1l1-1.9l3-0.9l2-2.3l1 0.8l2-3.4l1 0.1l1-0.7l3-4l1 0.6l5-6.2l3-2.1l1-2.3l1 0.5l1-2.2l4-3.2l2-2.7l4-3.8l1 0.2l3-4.2l1 0l1-1.3l1-0.1l1-2.7l2-0.5l1-1.9l1 0.6l1-2.1l3-1.6l1-2.3l4-2.6l3-4.9l1-0.2l1-2l1-0.6l3-4l5-7.6l1-0.4l1-2l3-2.1l2-3.8l1 0l1-0.8l1-2.3l3-2.1l3-4.4l1 0.5l1-0.2l1-2.6l2-0.5l2-2.2l1-0.2l2-3l2-0.8l1-1.2l1 0l2-3.1l3-1.6l1-1.4l2-0.7l1-1.4l1 0.3l1-0.7l1 0.5l2-1.3l2-0.3l2-2.3l1 1.5l3-2.2l1 0.7l1-1l1 0.3l1-1.3l2 0.3l1-1.1l2-0.8l1-1.7l7-62.8l2-8.3l1-0.9l1-34.5l1 0.2l2-2.2l1 1l1-0.5l1 0.6l2-2.4l1 34.1l1 2.7l2 19.5l5 65.3l3 21.4l2 7.3l3 7.2l1 1.7l4 2.1l1 1.9l1-0.5l2 0.7l1-0.5l1 0.7l2-1.4l1 1.7l2-1.3l2 0l1-1.2l1 1.6l2-0.7l2-1.6l1 1l5-2.8l1 1.1l1-0.1l1-1.1l2 0.3l1-1.7l1 0.3l2-1.1l2-0.2l2-1.3l2 0.2l2-0.8l2-1.7l1-0.3l1 0.8l2-1.5l1 1.4l1-1.6l3-1.2l1 0.3l0 27l-655 231z"/>
<path transform="translate(558.4,1141.1)" fill="url(#a4)" d="M0,-56l1-0.9l1 0.2l2-3.5l3-2.7l1-2.4l2-1.4l3-5.1l1-0.6l3-4.3l4-4.4l1-3.3l2-1.3l1-3.8l1 0.9l1-1.2l2-4.8l2-1.4l1-3l1-0.6l3-4.9l2-1.1l1-2.1l1-0.1l1-1l1-2.3l1 1.1l2-3.4l2 0.1l1-0.9l1-57.2l2-0.5l1 0.8l1-1.4l2-1.2l1 1.8l1-1.7l1 55.8l1 1.9l6 36.5l2 7.4l0 48.4l-67 23.6z"/>
<path transform="translate(558.4,1141.1)" fill="url(#q4)" d="M67,-72l3 8.2l3 3.4l1 0.7l2-0.2l2 0.9l1-0.5l1 1.2l1 0.3l1-1l1 0.1l1 1.3l3-3l1 0.5l1-0.4l1 0.7l1-0.7l2 0.1l3-2l1 0.4l1-0.8l2 0.6l1-1.3l1-0.3l1 0.5l2-2.7l2 1.5l1-0.2l2-1.9l2 0.4l2-1.8l1 0.7l4-2.6l1 0.5l1-1.1l1 1.2l1-1.8l1 0.4l3-2l2 1.1l2-1.9l3-0.4l2-1.2l1 0.2l1-1.8l1 0.9l3-2.1l2-0.1l1-0.7l1 0.9l1-0.5l1-1.5l1-0.2l2 0.8l2-2.5l2-0.4l1 0.5l1-1l4-1.5l2 0.2l2-2.6l2 0.7l2-1.6l1 0.7l3-2l2 0.5l1-1.3l1 0.8l2-1.6l2 0l1-1.4l1-0.3l1 0.8l1-1.6l1 0.7l2-1.6l5-1.5l1-0.8l1 0.9l2-2.2l1 1.7l1-1.6l2-0.1l1-1l2 0.3l2-2.4l3 0.1l3-1.7l1 0.4l2-1.5l2 0l1-1.2l3-1.3l2 0.1l1-0.7l1 0.1l2-0.8l1-1.2l1 1.1l4-2.5l2-0.1l1-1.1l3 0.2l1-1.5l1 0.3l3-1.4l1 0.5l1-1.3l2 0l2-2.1l1 0.4l4-1l4-2.7l1-0.2l1 1.3l3-2.4l2-0.2l2-1.4l2 0.5l1-0.7l1 0.3l1-1.7l1 1.1l1-1.2l1 0.3l1-1.3l4-0.8l1-1.2l1 0.9l1-2.3l1-0.3l1 0.8l3-1.9l2 0.8l1-1.2l2-0.7l2 0.2l2-2.2l1 0.9l3-2.4l3-0.8l1 0.5l1-1l1 0.6l1-2.1l2 1.1l2-1.7l1 0.4l2-1.5l2 0.7l2-2.1l1 0.3l2-1.2l1 0.4l1-1.1l1 0.8l3-3l2-0.8l3-0.2l1-1l1 1l4-1.4l1-1l1 0.5l1-1l4-1.1l2-1.5l3-0.5l1-1.1l1 0.9l1 0.1l1-0.6l1-1.8l2 0.5l1-1.3l4-1l1-1.2l3 0l2-1.3l1 0.7l1-1.4l2 0l2-2.3l1 1.4l1-0.7l1 0.3l1-1.7l2 0.1l1-1.5l2 0l3-1.8l1 1.2l1-2.1l1 1.1l1-1.9l3 0l4-2.8l1 0.6l4-1.9l1 0l1-0.9l1 0.5l2-1.7l1 0.5l2-1.7l2-0.4l1-1.4l1 0.5l1-1l2-0.2l3-2.4l1 0.2l2-2.3l2 0.2l2-2l2-0.4l1-1.4l1-0.3l1-1.6l1 0.9l2-1.9l1 0.1l1-1.4l1 0l1-1.5l1 0.6l3-3l2-0.1l1-1.8l1-0.1l1-1.2l1 0.4l4-3.4l1 0l1-0.9l2 0.4l3-2.4l1 2.1l2-2l1 0.1l1-1.3l1 0.9l1-0.6l3 0.8l1-0.8l1 0.1l1-1.7l2 0.7l2-1.7l2 1.2l3-1.4l5 1.2l1-1.1l2 0.5l3-1.9l1-1.4l1 0l3-2.2l1-1.4l1 1l2-4.2l1-0.1l3-3.4l2-1.2l2-3.2l2-0.3l2-3.1l3-2.5l2-3.4l1 0.5l1-2.4l2-0.6l3-4l4-4l1-0.2l1-1.4l1 0.2l2-3.6l1 0.6l1-3l1-0.7l2 0.2l1-1.9l1 0l1-2.3l1 0.2l1-1.4l1-0.1l5-7.6l2-1.4l1-2.2l1-0.2l1-2.6l1-0.3l3-3.7l2-3.5l1-0.5l1-2.6l1-0.5l6-6.8l1-2.3l4-3.1l1-2.1l1 0.3l5-5.6l1 0.1l7-6.8l1 0.1l4-4.4l1 0.9l2-3.6l1-0.9l1 0.9l1-0.7l1 0.1l1-1.8l3 0.3l2-1.2l1 0.8l1-1l1 0.4l1-1.7l1-0.3l1-1.3l1 1.6l1-2.2l4-0.5l1-1.3l1 1.2l1-1.8l1-0.3l6-55.4l2-12l2-5.1l1-44.2l4-0.6l1-1.3l3-1l1 44.3l2 11.4l5 66.5l3 26l2 10l3 8.4l1 0.3l2 4.6l2-0.5l2 3.2l1-0.9l1 0.8l2-0.3l2 1.2l1-0.7l1 0.4l1-1.1l3 1l5-2.9l2 1.2l1-1.9l2 0.7l1-0.3l1-1.5l2-0.2l1 0.8l2-0.6l4-2.1l1 0.3l1-1.6l1 0.7l2-1l1 1l1-1.4l2-0.3l1-1l4-1.8l2 0.5l2-1.2l1 0l1-1.2l0 28.1l-655 231z"/>
<path transform="translate(566.9,1146.2)" fill="url(#a3)" d="M0,-57.4l1 0.2l2-2.8l2-1.6l1-2.4l2-2.5l1 0.2l1-2.2l1-0.4l2-4.4l3-2.8l2-4.2l5-6.7l4-6.9l1-0.3l1-1.4l2-4.3l6-8.3l1-1.1l1 0l3-4.9l6-3.6l1-52.3l1 1.1l1-1.8l2 0.2l4-2l1 52.8l1 1l1 2.7l3 21.7l4 21.5l0 49.3l-67 23.6z"/>
<path transform="translate(566.9,1146.2)" fill="url(#q3)" d="M67,-72.9l3 8.2l1 1.6l1 0.1l1 1.9l1 0.3l1 1.7l1-1.1l1 1.3l3 0.3l2-0.8l1 0.6l2-0.3l1-1.1l1 0.6l1-0.9l1 0.3l3-1l3 0.5l1-1.4l1-0.3l2 0.6l1-1.3l1 0.1l1-0.9l1-1.7l1 1.3l2-1.1l1 0.6l1-0.3l2-1.9l1 0.3l1-1.5l3 0.7l1-1.3l1 1.3l3-3.2l3 0.3l1-1.2l2 0l1-1.7l1 1.4l1-1.2l1 0.1l1-1.3l1 1.3l4-2.2l1 0.3l1-1.1l1 0.2l2-2.1l1 1.1l3-1.8l3-0.2l1-1l3-1.2l1-1.3l1 1.6l1-0.5l1 0.3l1-1.3l1-0.4l1 0.4l1-1.6l1 0.2l1-1.5l1 0.7l1-0.7l2 0.2l1-1.8l2 0.7l2-2.3l1 1.4l4-1.8l1-1l2 0.1l2-2.3l1-0.3l1 0.6l2-0.8l1 0.7l1-1.1l1 0.1l1-1.3l1 0.4l4-2l1-1.2l1 1l2-1.4l3-1.2l1 0.7l1-1.2l1 0.1l2-1.6l2-0.5l1 1l1-1.4l3-0.7l1-0.8l2 0.4l5-3.3l1 0.3l1-1.9l2 1.1l1-0.2l1-1.6l3-1l2 0.4l4-1.2l2-0.1l3-3l1-0.1l1 0.8l2-1.4l2 0.4l1-1.4l3-1.1l1 0.2l2-1.3l3-0.3l1-1.2l2 0.3l2-1.6l1 0.9l1-1.5l1-0.3l1 0.7l1-1.5l3-0.3l3-1.8l1 0.5l4-3.1l1 1.5l1-1.8l3-1.2l1 0.8l1-2l1-0.6l1 1.6l1-1.8l1 0.2l1-0.9l4-0.4l3-1.1l1-1.2l1-0.1l1 1l2-2.7l2 0.5l7-3.1l1 0l1 0.6l1-1.1l1 0.7l1-1.9l2 0.8l2-2l1 0.3l3-2.5l1 0.6l1-0.9l1 0.6l2-0.8l2-2.1l1 1.1l1-1l3 0l1-0.5l2-2.1l2 0.4l1-0.5l1 0.5l2-1.8l1 0.2l4-2.9l2 0.7l2-1.8l3 0.1l2-1.4l1 0.4l2-2l2 0.3l2-1.5l2 0.8l1-0.4l1-1.7l5-1.5l2 0.1l1-1.6l1 1l1-1.9l3-0.8l1 0.9l3-2.5l1 0.5l3-1.3l1 0.2l1-1.3l4-1.7l1 0l3-1.4l1 0.3l2-1.5l4-1.1l3-2.2l2 0.2l5-2.9l4-1.4l1-0.6l1-1.8l3-2.1l2-0.9l1 0.5l3-2.4l1 0.7l2-2.2l1 0.4l1-2.2l1 0.5l1-1.3l1 0.1l3-2.9l1 0.6l5-4.8l1 0.1l1-1.3l1 0.6l1-1.8l1 0l5-1.9l2 0.2l2-1.9l3 1.2l2-2.6l1 1l1-0.3l1 0.7l4-2.6l2 1.1l1-1l2 0.6l4-0.9l2 0.9l2-1l1 0.7l1-1.6l3 0.6l4-4l1 0.1l4-3.5l1-0.3l1-2.2l2-2l1-0.2l1-1.8l1-0.3l4-4.7l2-1.3l1-2.4l1 0.1l1-1.7l1 0.1l1-2.2l4-3.6l2-3.2l2-1.2l1 0l1-2.5l2-2.1l2-0.6l1-1.8l3-2.1l1-1.7l2-1.2l1-1.5l2-1.3l3-4.1l1 0.6l3-4.8l2-1.6l1-3.2l1 0.3l2-2.5l1-2.7l2-1.3l2-5l1 0.3l3-4.4l1-0.1l2-2.3l2-4.2l1 0.4l2-3.3l4-3.8l1-2.8l1 0.4l2-1.7l3-2.9l1-1.8l1 0.4l2-2.4l1 0.2l2-3l1 0.4l1-2.3l1 0.1l3-3.1l1 0.1l3-3.4l2-0.7l1 0.3l3-1.7l4-0.9l2-1.4l1 0.2l1-1l1 0.9l2-1l1 0.6l1-1.7l1 0.4l1-0.9l3-1.1l6-53.9l2-13.2l1-2.6l1-0.8l1-67.3l2-1.4l1 1.4l1 0.1l1-2.3l2 0.7l1-0.9l1 66.9l1 2.6l1 7.8l6 77.9l2 15.2l2 9.9l2 6.1l3 5.8l2 2.3l1-0.1l1 2l1-0.8l1 1.4l2-0.5l2 1.3l5-1.3l3 0.8l2-1.9l1 0.3l1-1l1 1.1l1-0.5l1 0.3l1-1.2l2-0.9l1 1l1-0.3l1-1.3l2 0.6l2-1.5l1 0.5l2-1.5l3-1l1 0.2l1-0.9l1 0.4l1-0.4l1-1.5l1 0.7l1-1.4l1 0.3l1-1l1 0.3l1-0.7l1 0.3l1-1.3l1-0.4l1 0.8l1-1l1 0.1l0 27.3l-655 231z"/>
<path transform="translate(575.5,1151.3)" fill="url(#a1)" d="M0,-57l2-3.4l3-1.9l5-8.3l2-1.6l1-2.5l1-0.1l2-4.2l2-2.2l1-2.5l2-1.8l1-3l1-0.3l1-2.4l2-1.5l1-3l1-0.7l1-3.3l1-0.4l3-5.6l1-0.6l1-2.5l1-0.1l3-3.7l1-2.1l1 0.3l1-0.4l2-2.7l1-0.2l3-3l1-60.1l1-0.1l1-1l2 0.5l1-2.2l2 0.6l1-0.4l1 59.3l2 5.7l1 4.9l3 22.1l3 16.3l0 51.5l-67 23.6z"/>
<path transform="translate(575.5,1151.3)" fill="url(#q1)" d="M67,-75.1l2 7.4l1 1.9l3 4.6l2-0.6l2 2.9l1-1.1l2 0.9l3-0.6l3 0.7l2-1.3l4-0.5l1-0.7l1 0.5l3-0.7l1-1.7l1 0.8l1-1.1l1 1.1l3-2.3l1 0.7l2-1.2l1 0.1l1-1.5l1 1.1l1-1.6l1 1.2l1-2.6l1 1.1l1-0.8l1 0l3-1.3l1 0.7l3-1.9l1 0.9l2-1.4l1-1.5l4-0.6l1 0.4l3-2.1l1 0.5l1-1.2l1 0.5l3-1.8l6-1.6l1-1.8l1 1.5l1-1.4l1 0.3l1-1.1l1 0.4l2-2.2l1 1.4l1-0.1l1-1.7l2 1l1-1.3l1 0.3l2-1.7l5-1.2l2-1.6l1 0.4l1-1.7l1 1.2l1 0.2l2-2.5l1 0.7l2-1.9l1 0.5l3-0.2l2-1.9l1 0.9l1-0.9l1 0.2l1-1.6l2 0.2l1-0.6l1-1.6l1 0.7l1-1.6l1 1.1l1-0.1l2-2l1 0.7l2-1.9l4 0.5l2-1.7l3-0.4l3-2.2l3-0.3l7-3l2 0.3l3-2.2l1 0.7l3-2.1l4-1.1l1-1l2 0.5l1-1l3-0.4l1-1.5l2 0.9l1-0.9l2-0.4l3-2.4l2 0.6l2-1.4l4-1.3l1 0.2l4-2.4l1 1.4l1-2.3l1-0.3l2 0.8l1-1.8l1 0.8l2-1.6l1 0.4l1-1.1l4-0.5l1-1.3l3-0.9l1 0.5l2-1.7l2 0.1l1-1.4l2 0.2l2-1.6l2 1.9l1-3.3l3-0.1l1 0.5l4-2.5l1 0.3l2-0.5l1-1.5l1 0.5l1-1.6l1 0.5l2-1.3l2 0l1-1l1 0.8l6-2.6l2-1.7l1 1.1l1-1l4-0.7l1-2.1l1 1.1l4-2.1l1 0.6l1-1.2l1 0.2l1-0.7l1-1.3l2 0.9l1-0.3l1-1.4l2-0.8l4-0.3l2-1.7l2-0.6l1 0.4l1-0.3l1-1.8l4-0.2l1-1.3l1 0.4l8-3.1l3-0.6l3-2.2l2 0.6l1-1.2l2-0.4l1-1.7l2 0.8l1-1.6l1 0.3l1-0.5l1 0.6l1-1.6l2-0.2l1-1.1l1 0.6l1-1.1l2-0.1l1-1.5l1 0.4l6-2.4l1 0.1l2-1.9l5-1.8l1-1.3l1 0.4l3-2.4l1 0.2l5-4.1l2-0.1l2-2l1 0.7l1-0.4l1-2.3l1 0.4l2-2l2-1.1l1 0l2-2.7l1 0.3l1-1l1 0.7l1-2.2l2-0.8l2-1.6l1-0.1l3-2l1 0.1l2-1l1 0.8l2-2.1l3 0.6l1-1.2l2 0.1l2-1.4l1 1.2l1-0.9l2-0.6l2 0.1l2-1.2l1 0.5l4 0.1l1-1.1l2-0.5l1 0.9l3-0.3l2 1l1-1.7l2-0.5l1-1.5l1-0.2l1-1.6l1-0.1l2-1.9l3-1.1l1-2.4l4-3.7l1 0l1-2.3l2-2.4l2-1.1l5-6.8l2-0.9l4-4.5l1 0l1-2.6l1 0l1-2l1 0l3-4.3l4-2.6l2-2.9l3-1.9l2-2.1l3-4.5l2-1l3-4.6l2-1.6l5-8.3l4-4.5l1-2.2l2-1.8l2-3.5l3-2.4l1-1.9l3-2.6l4-5.3l1-0.9l1 0.4l1-2.6l1 0.4l1-1.5l2-0.5l1-2.5l1-0.2l1-1.6l1-0.1l2-3.1l2-0.3l1-2l1 0.2l2-1.7l1-2l1-0.2l1-1l2 0l1-1.7l2-0.4l2-1.4l1 0.9l4-2.4l1 0.6l2-0.5l2-2.4l2 1.1l1-1.9l2-0.3l1 0.6l1-1.5l1 0.1l1-1.8l4-38.3l2-14.4l2-8.9l1-1.1l1-45.4l2-1.2l1 0.1l2-1.7l3 0.1l1 45.1l1 2.4l1 8l5 65.9l3 24.4l2 9.8l2 6.3l2 3.9l2 2.6l1 0l1 1.9l2 1.1l2-0.8l2 1.3l1-0.9l1-0.1l1 1.3l2 0.3l2-2.3l1 1.3l2-1.1l1 0.4l1-1.2l1 0.4l1-0.9l1 1.4l2-2.1l3 0.7l3-1.9l1 0.1l1-1.1l1 0.9l2-1.4l1 0.2l1-0.8l5-1l1-1.4l2 0.4l3-1.4l2-1.9l1 0.6l2-1.2l3-0.2l0 27.3l-655 231z"/>
<path transform="translate(584,1156.4)" fill="url(#a2)" d="M0,-57.3l1-2.5l1-0.1l1-0.9l1-2.2l1 0.1l3-4.6l1 0l1-2.6l2-1.9l2-4.6l3-2.4l1-2.9l5-7.5l1-0.5l1-2.6l2-1.7l4-8.5l1 0.1l1-1.2l1-2.6l1-0.4l1-2.5l3-4.2l1-0.3l1-1.9l1 0l2-1.5l2-3.2l2 0.3l1-54.8l4-0.8l2-1.1l1 1l2-1.9l1 54.3l2 8l2 16.2l4 23.1l0 52.5l-67 23.6z"/>
<path transform="translate(584,1156.4)" fill="url(#q2)" d="M67,-76.1l3 9.8l1 0.5l2 4.1l2 1.6l1-0.5l1 1.2l3 0.3l1 0.7l3-0.7l2 0.4l2-1.7l1 0.1l1-1.2l1 0.7l2-0.6l1 0.6l1-0.2l1-1.3l1 0.2l1-1.1l3 0.1l2-1.5l1 0.3l1-1.3l1 0.6l1-0.6l1 0.1l1-1.7l1 1.9l1-1.4l1-0.4l1 0.4l1-1.6l2 0.2l2-1.7l2 0.7l1-1l2-0.2l1-0.9l1 0.3l2-0.8l1 0.6l1-1.9l2-1.2l2-0.2l1-0.8l3 0.5l1-1.2l2-0.3l2-1.6l1 1l1-1l2-0.5l2-1.7l1 0.5l2-1.2l1 0.6l1-1.2l1 0.6l1-1.8l1 0.2l2-1.8l1 1l1 0.2l2-2.1l2 0.1l1-1.8l1 0.9l1-1.3l2 1l1-1.2l4-0.4l1-1l6-2.7l1 0.4l1-1.5l1 0.4l1-0.8l1 1.1l2-2.7l2 0.9l1-0.8l4-0.7l1-1.2l1 0l3-1.8l3-0.6l1-1.5l1 1.4l1-0.1l2-1.7l2-0.3l1-0.9l1 0.5l2-0.5l1-1.9l3 0.5l1-1.5l1-0.5l2 0.2l1-1.4l2-0.9l2 0l1-1l2 0.4l1-1.4l1 0.5l2-1.5l1 0.7l3-1.7l1 0.5l3-1.8l3-0.1l7-3.5l1 0.8l1-0.9l1 0.1l3-2.8l1 0.1l1-0.9l2 1.6l1-1.7l1 0.4l2-2l2 0.2l1-0.9l1 0.5l1-0.3l2-2l2-0.1l1-0.7l1 0.7l1-1.3l1 0.7l4-2.5l1-0.1l1 0.8l1-1.8l2-0.1l1-0.9l2 0.3l1-1.4l2 0.8l1-1.9l1 0.4l1-0.9l1 0.7l1-2l1 0.9l1-0.8l1 0.2l1-2.4l1 0.6l2-0.4l1 1.9l1-2.7l1 0.5l4-2.3l1 0.3l3-1.1l1-1.2l3-0.1l5-2.8l2 0.8l1-1.1l1-0.1l3-2l1 0.6l4-1.3l1-1.3l1 0.9l1-1l2 0l1-1.1l2-0.4l2-1.4l1 0.2l5-1.9l1-1l1 0.3l4-1.4l1-1.2l2 0.6l2-1.8l2 0.6l3-2.2l1 0.9l1-1.6l2-1.2l1 0.7l1-0.6l1 0.2l1-2.1l1 1.1l2-1.1l1 1l2-2.7l1 1.1l1-0.8l1 0.2l1-0.4l1-2l1-0.3l1 0.6l1-0.9l1-0.1l1-1.2l3 0.1l1-1.1l1 0l3-2.1l3 0.5l3-3.1l1 0.5l1-0.1l1-1.5l2 0l2-1.6l2 0.3l1-1.4l1 0.4l3-3.2l1 0.7l2-2.1l1 0l3-2.5l1 0.9l1-1.8l1 0l2-1.7l1 0.2l3-3.3l1 0.4l4-3.6l2 0.5l2-3l2-0.1l4-3.8l1 0.3l2-1l2-1.9l4 0.3l2-0.9l1 0.3l3-1.9l1 1.6l2-1.6l3-0.4l1-1.4l2 1l2-1.7l2 1.5l3-0.7l1 0.5l2-1.2l1 0.7l2-0.5l2 1.1l2-2.6l2-1.4l7-3.8l2-2.8l5-4.8l1-2.1l1 0.2l4-5.6l1-0.1l1-1.9l1-0.2l3-3.1l5-6.5l1 0.1l1-1.7l2-1.5l1-2.6l1 1.3l1-1.9l1-0.3l2-2.8l4-4.1l4-3.1l1-0.2l1-2.4l1-0.5l1-2l1-0.2l2-2l5-7.7l2-1.6l1-3.4l1-0.4l2-2.4l2-4.1l1 0l2-3.9l1 0.3l3-4.5l1-0.4l1-2l1-1.1l1 0.2l3-5.3l1 0.2l1-1.4l1-0.5l1-2l2-0.2l2-3.2l1-0.1l1-1.3l2-1l3-4.3l1-0.7l1 0.4l6-6.4l1 0.5l1-1.3l1 0.2l2-1.1l1 0.1l2-1.2l2 0l4-2.1l1 0.3l1-1.6l1 0.4l2-0.9l1 0.3l1-1.2l1 0.6l3-1.5l1 0.3l6-51.2l2-8.2l1-1l1-43.2l2-1.6l2 0.2l1-0.8l2 0.3l1-1.2l1 42.8l1 3.3l1 7.7l6 72.8l3 19.8l1 4.4l3 8.3l1 0.6l3 4.6l2-0.2l1 1.5l2 0.6l1-0.8l2 0.6l2-0.2l1-0.7l1 0.7l2-0.4l1 0.9l1-1.3l2 0l1-0.8l2 0.3l4-2.1l1 0.3l2-1.1l1 0.7l1-0.5l1 0.2l1-2.3l1 1.3l2-1.4l3-0.2l2-1.2l1 0.3l2-2.3l1 0.6l1-1.3l2 0.9l1-1.5l1 0.4l2-0.8l1 0.4l1-0.2l1-1.7l2 0l0 27.2l-655 231z"/>
<path transform="translate(592.6,1161.5)" fill="url(#a0)" d="M0,-57.2l2-3.7l1 1l1-3.2l1-0.1l1-1.1l1-2.1l1-0.5l2-2.5l2-4.2l2-0.9l2-3.6l3-3.6l7-12.2l2-2.4l4-7.7l1-0.4l5-7.3l6-6.8l1-1l1 0.6l2-1.7l1-65.1l3-1.6l1 0.4l2-0.8l1 0.9l2-2.6l1 65.6l1 1.9l5 34.8l3 14.2l0 48.9l-68 24z"/>
<path transform="translate(592.6,1161.5)" fill="url(#q0)" d="M68,-72.9l2 6.3l1 0.5l1 2.7l1 0.8l1 0l1 2.1l1 0.1l1 0.9l3 0.4l1 0.8l1-0.9l7-0.4l1-1.8l2 1.4l1-0.4l1-1.5l2-0.1l2-1.3l1 0.7l1-1.6l4-0.2l3-1.2l2-0.1l1-1.5l3 0.2l1-1l1 0.4l1-1.1l2 0.2l1-1l2 0.1l1-1.7l3-0.1l1-1.3l2 0.4l1-1.1l1 0.7l2-1.9l2 0.9l1-1.6l2 0.3l2-1.9l2-0.8l1 0.5l1-0.2l2-1.6l1 0.8l1-1.5l1-0.4l1 0.7l3-2.1l1 0.2l2-0.6l1-1.4l1 0.4l2-0.9l2 0.2l3-1.2l1-1.1l2 0.8l3-3l1 0.6l2 0l3-2.4l1 0.4l2-1.6l1 1.1l1-1.6l1-0.5l3 0l5-3l2 0.1l1-1.2l2-0.2l1-0.6l2 0.3l1-1.3l3 0.3l2-2.4l1 0.9l1-0.5l1 0.9l1-1.7l1-0.5l1 0.1l4-2.1l1 0.8l1-1.9l1 0.4l1-1.8l2 0.8l2-0.1l1-1.9l1 1.4l2-2l4-0.7l2-1.4l8-2.8l3-0.1l1-1.7l2 0.7l3-2l2-0.1l3-2l3 0.2l1-0.4l1-1.3l1 0.6l1-1.4l2-0.1l1-0.8l3 0.3l1-1.5l1 0l1-0.9l1 0.3l2-0.6l1-1.2l4-2.2l1 0.8l2 0.3l3-2.8l1 1.6l1-1.8l1-0.5l2-0.2l2-1.4l1 0.4l2-1.2l1 0.7l1-1.8l2 0l2-1.3l1 0.8l2-1.8l3-0.2l1-0.9l5-0.8l5-2.9l2 1.1l1-2l3-0.1l1-1.8l1-0.6l3 1l5-3.7l1 1.1l1-1.3l1-0.3l2 0.4l2-2.1l1 0.7l1-1.1l1 0.3l3-2.5l2 0.4l6-2.7l5-0.8l2-1.9l1 1l1-0.3l1-1.4l1-0.2l1 0.8l2-1.9l1 0.5l1-1.6l2 0.1l1-1l1 0.2l4-1l1-1.6l1 1.1l1-1.2l1 0.2l1-0.8l1 0.1l2-1.7l2-0.3l2-1.3l1 0.6l2-1.9l4-0.5l1-1.7l1 0.5l2-1.3l2 0l1-1.2l1 0.3l3-1l1-1.2l1 0.6l1-1.6l2 0.1l1-1l1 0.6l1-2.7l1 1.2l2-0.9l3-2.7l3-0.6l2-1.4l1-1.7l1 0.1l2-1.5l1 0.4l2-1.5l1 0.4l1-1.9l2-1.1l1-1.4l3-1.2l4-3.5l1 0.2l1-1.4l4-1.5l1-1.4l1-0.1l1-0.9l1-1.4l3 0.3l1-1.1l1 0.5l1-0.7l1 1l1-2.1l1 1.4l2-1.9l1 0.6l2-1l2 0.2l1-0.5l1 0.5l1-1.3l2-1l2 0.8l1-0.4l2 1.1l4-1.6l3 0l1 1.5l1-1.7l2 0l4-2.4l1-1.2l1 0.1l1-1.9l1 0.4l1-0.6l2-3.4l1 0.4l1-1.9l2-1.2l1-2.6l1-0.4l2-2.6l1-0.2l5-6.3l1 0.1l3-4.3l1-0.2l2-2.2l1-2l9-8.1l2-2.7l1 0.4l1-1.7l1-0.2l3-3l1-1.7l6-5.3l6-9.4l3-3.8l1 0.2l6-9.9l5-6.2l1-0.4l1-2l3-3.1l1-0.1l3-4.3l3-3.1l1-0.8l1 0.7l1-2.4l2-1.2l2-2.6l4-3.5l1-0.3l1-2l1 0.1l1-1.1l1-0.1l2-2.8l1 0.1l3-2.5l3-0.5l1-0.7l3 0.3l3-2.3l5-1l3-2l2 0.9l3-1.4l6-47.4l1-4.8l2-4l1-65l1 1.1l1-2.5l1 0.8l4-1.9l1 1.3l1 62.8l2 9.6l6 71.5l2 14.8l4 13.8l5 7.9l3 0.6l1-0.4l1 0.9l3-1l1 1.2l2-0.9l1 1.2l1-1.1l1 0.7l1-0.5l1 0.2l3-2.2l1 0.7l2-0.3l2-1.9l1 0.8l2-0.2l3-1.9l1 0.5l1-0.2l1-1.3l1 0.4l2-1l2 0.2l1-1.3l1 0l1 0.8l1-1l1-0.5l1 0.3l3-2l2 0.3l1-2.4l1 0.6l2-0.6l2 0.3l1-0.9l0 27.2l-654 230.6z"/>
<path transform="translate(601.1,1166.7)" fill="url(#a4)" d="M0,-57.6l3-3.8l1 0.2l9-12.7l1-0.6l8-12.7l2-1.8l2-4.8l2-2.5l1-2.5l1-0.5l1-1.4l3-5.8l2-1.8l2-3.5l4-5.2l4-2.4l1 0.1l1-1.6l1 0.5l1-47l1-1.3l2-0.2l2-1.3l2 0.5l1-2.7l1 47.5l1 2.6l2 10.8l3 22.7l3 15l0 49.8l-68 24z"/>
<path transform="translate(601.1,1166.7)" fill="url(#q4)" d="M68,-73.8l3 8.6l4 3.9l1 2l1-1.2l1 0.4l1 1.5l2-1.8l2 1.7l1-1.3l1 0.8l1 0l1-0.6l1 0.4l1-0.3l1-1.8l1 1.9l1-1.9l1-0.4l1 0.7l1-0.8l3-0.5l1-1.1l4-0.1l1-0.3l1-1.5l1 0.3l1-0.9l1 0.1l1-0.6l1 1.1l1-1.7l1 1l1-1.5l1-0.6l1 0.9l1-1.3l2-0.3l1-1l2 0.6l1-1.6l2-0.1l1 0.7l2-1.9l1 0.8l1-2.1l3 0.4l2-1.8l1 1.3l3-2.5l1 0.4l1-1.2l2 0.1l1-1.5l2 0.5l5-2.5l2 0.6l1-1.3l1 0.5l1-1.2l2 0.1l4-3.1l1 1.1l1-1.3l2-0.1l1-0.9l1 0.3l1-1.2l1 1.1l1-1.3l1 0.3l3-1.7l1 0.6l1-1.6l1 0.9l1-1.6l2-0.4l1-1.3l1 0.9l1-1.4l2 0.4l1-1.3l1 0.6l6-2.5l3-0.6l1-1.2l2 0l3-1.9l1 0.6l1-0.9l3 0.2l2-2l1 0.3l2-1.7l1 0.9l1-1.3l1 0.9l1-1.7l2-1.2l1 0.7l1-0.7l1 0.7l1-1.7l2 1l2-2.3l1 0.6l3-2.1l2 0.1l3-2.1l2-0.4l1 0.3l2-1.7l1 0.8l2-1.7l1 0.6l1-1l1-0.1l1-1.6l2 0l1 0.6l1-1.3l1 0.9l1-1.5l2 0.5l1-1.3l2-1.1l2-0.5l2 0.3l3-1.6l1-1.2l1 0.6l3-1.6l1 0.6l2-1.8l2-0.6l3 0l1-1.6l1 1.3l1-1.6l1 0.2l1-1.3l3 0.1l1-1.8l1 0l1-1.1l2 0.6l1-1l4-0.7l2-1.5l1 1l1-1l1 0.2l2-1.4l1 0.3l1-1.8l6-0.9l1-0.4l1-1.3l1 0.4l2-0.5l1-1l4-1.5l2 0.8l1-1.8l1 0.3l2-0.6l1-1.1l1 0.3l1-0.5l1 0.6l2-2.2l1 0.2l3-1.8l1 0.3l1-1l2 0l1-0.9l1 1l1-1.6l1-0.4l1 0.5l1-1.4l2-0.2l1 0.6l1-1.3l2-0.3l2-1.2l1 0.1l2-1.3l3-0.7l1 0.6l2-2.1l2 0.1l2-1.7l2 0.3l2-0.6l1-1.5l2 0.2l1-0.9l1 0.4l1-0.9l1 0.7l2-2.6l2 0.3l1-0.7l1 0.2l1-1l2-0.7l2 0l3-2.4l1 1.4l4-2.9l1 0.7l1-1.9l1-0.6l3-1.5l1 0.8l4-2.3l1 0l2-1.8l1 1.9l1-2.2l1 0.2l1-1.5l3 0l3-3.1l2 0l2-2.3l2-0.1l1-1.8l1 0.4l2-1.5l1-1.7l2-1l1 1l1-1.1l1 0.9l3-3.7l2-0.2l1-2.3l3-0.5l3-3.1l1 0.5l1-1.3l2-0.7l1-1.3l1-0.5l1 0.4l1-1.4l3 0.2l1-1.4l1 0.4l2-0.9l1 0.7l1-1l2-0.1l1 0.5l1-1.2l4-0.3l2-1.3l2 0.8l1-0.9l5-0.1l1 1.3l1-0.4l1-1.5l1 0.5l1-0.6l2 0.6l1-0.5l2-2.1l3-1.2l6-4.6l5-6.6l1-0.4l3-3.5l1-0.2l1-1.7l2-1.4l1-2.2l1 0l7-8.4l1-0.1l1-1.9l1-0.5l1-1.6l2-0.5l6-6.7l2-1.2l1-1.9l2-1.6l1 0.1l3-4.5l3-3.1l1-0.2l1-2.7l2-1.7l2-3.5l2-1.6l5-8.5l1-0.3l2-2.5l4-6.2l8-8.1l5-6.1l1 0.3l1-2.6l1 0.5l4-3.5l2-2.7l2-0.6l1-2.5l2-0.9l1-1.8l2-1.1l1-2.4l1 1.1l1-1l3-0.1l3-2.6l1 0.9l1-1.2l4-0.2l2-1l1 0.6l1-2.2l2-0.2l1-1.3l1 1.6l2-2.2l3-0.6l1-3.3l4-34.8l2-11.2l2-3.5l1-57.9l1 0.2l1-1.2l1 0.6l5-2.4l1 56.7l2 9.4l4 51.3l2 19.2l3 18.7l3 9.9l3 4.9l1-0.4l3 4l2-1.9l2 2l2 0.3l1-0.8l5 0.1l2-1.5l1 0.7l1-1.4l3 0.5l1-1.2l1 1.2l1-1.1l2-0.2l1-1.1l1 0.9l2-2.1l1 0.9l1-0.2l1-1.9l1 1.7l1-1.2l1-0.5l1 0.3l1-1l1 0.4l6-3.1l1 1.4l1-1.3l2-1.1l2 0.2l1-1.5l1 0.9l1-0.9l1 0.3l1-1.6l0 27.8l-654 230.6z"/>
<path transform="translate(609.7,1171.8)" fill="url(#a1)" d="M0,-57.4l2-3l3-1.7l3-6l1 0.3l1-1.1l2-4.2l2-1.6l2-3.5l1-0.2l1-1.2l1-3.8l2-1.5l2-4.2l1-0.6l1-2.6l5-6.3l1-3.3l1-0.7l4-5.9l1-0.6l2-3.7l6-6.4l2-0.6l1-1.5l1 0l1-64.7l1 0.1l2-1.7l4-0.9l1 0.8l1 62.7l1 1.6l1 4.5l4 29.4l3 14.5l0 51l-68 24z"/>
<path transform="translate(609.7,1171.8)" fill="url(#q1)" d="M68,-75l3 9.2l1 1.8l4 3.9l1-0.1l2 1.2l2-1.1l1 0.6l1-0.5l3 0.4l3-1.3l1 0.3l2-1.2l2 0.7l3-0.4l2-1.4l3-0.9l1-1.1l1 0.9l2-1.9l2 0.4l1-1.8l2 1l2-1.5l1 0.7l1-1.5l2 0l1-1.5l1 1.4l2-1.8l1 0.6l1-1.5l1 0.8l1-1.5l3 0l2-1l1 0.7l1-1.2l3-0.7l1-1.4l3-0.3l1 0.4l4-3l2-0.1l2-1.2l1 0.5l2-1.3l3-0.7l1 0.2l1-0.9l3-0.8l1-1.5l2-0.5l1 0.3l1-1.2l1 0.6l2-1.4l2-0.2l2-1.4l4-0.2l3-2.6l2 0.7l1-1.1l1 0.2l2-1.1l1 0.4l2-1.7l1 0.8l2-2.1l1-0.1l1 0.8l3-2.1l1 1l2-2l1 0.3l1-0.8l2 0.3l3-2l4-1.2l1 0.3l1-1.4l6-2l2-1.2l1 1.1l3-1.8l1 0.4l2-0.9l1-1.4l1-0.4l1 0.8l3-1.7l1-1.2l2 0.8l3-2.5l2 1.1l1-1.1l1 0.3l1-1.4l1 0.7l3-2.4l1 0l2-1.1l2 0.1l2-1.4l1 0.3l1-1.1l1 0.7l2-1l1 0l1-2.4l1 0.1l1 1.8l1-1.8l1 0.1l2-1.7l1 1l1-0.5l1-1.9l2 1.5l2-2l2-0.3l1-1.4l1-0.3l1 0.8l6-2.8l1 0.4l3-2.1l2 0.3l3-1.2l1-1.1l1 0.7l2-1.8l2 1.1l2-2.1l3-1.6l2 0.6l1-1.8l2 0.7l1-0.5l1 0.8l1-2.4l1 0.8l2-1.6l1 0.5l4-2.3l1 0.7l1-0.3l1-1.5l1 0.4l3-2.7l2-0.4l2 0.8l2-1.7l3-0.4l5-1.7l2-1.6l3-0.7l1 0.3l2-2.2l1 1.3l2-2.1l3 0.1l2-0.9l1-1.2l1 0.7l2-1.8l1 0.7l1-0.9l1 0.3l1-1.8l3 0.6l6-2.6l2-0.4l2-1.1l1-1.6l4 0.1l2-1l1-1.3l2 0.3l2-1.3l1 0.3l1-1.7l5-1.1l2-1.7l1 1l2-2.2l1 0.5l1-0.6l1 0.3l1-1.9l2 0.6l3-2.6l2 0.8l2-1.8l4-1.9l2-2.1l1 0.5l2-1.9l1 0.3l1-1.3l3-0.6l1-2.1l1 1.2l1-1.7l5-3.2l1-0.1l2-2.6l1 1.2l2-2.8l1 0.2l1-1.8l1 0.3l2-2.4l1 0.7l3-2.6l1 0.6l2-2.7l2 0.2l4-0.9l1-0.9l1 0.4l2-1l1 0.2l2-0.8l1-2l1 1.6l1 0.5l1-0.7l1 0.5l2-1.4l1 0.7l1-1.1l3 0.1l1-0.7l1 0.2l1 1l1-1l1 0.7l2-0.7l2 1l1-0.2l2-1.9l1-0.1l5-3l1-1.5l1 0l1-1.4l1-0.4l5-5.9l4-3.5l4-5.4l2-0.8l1-2.3l3-2.2l2-4l1 0.5l5-5.1l2-1l1-2.3l1-0.4l3-4l2-1l3-3.7l1 0.5l1-1.7l6-6.1l3-4.7l2-2.1l1-0.3l1-3l6-7l3-5.4l7-8.1l1-1.9l1-0.3l3-2.7l3-4.8l2-1.1l2-2.6l1 0.9l1-2.1l2-1.3l1-1.9l3-2l1 0l1-1.9l1-0.5l1-2.5l1 0.9l2-3l1 0.1l1-1.3l3-1.3l1 0.5l1-1.7l1 1.3l1-1.2l1 0.2l1-1.3l2 0.4l1-1.1l2-0.7l1 0.5l4-2.6l1 1.1l4-3l1 0.8l1-1.5l1-0.1l4-34.6l3-14.5l1-0.2l1-54.3l1-0.9l2-0.2l1-1.9l1 0.7l1-0.3l1-1.4l1 0l1 55.7l1 2.3l1 5.8l6 68.8l3 18l3 10.1l3 4.3l1 0.9l1-0.2l3 2.5l3 0.4l1-0.5l1 0.6l2-0.9l1 1.5l3-1.8l2-0.1l1-0.6l1 0.8l2-1.2l1 0.3l1-0.4l1-1.3l2 0.3l1 0.8l1-2.2l2 0.1l3-1l2 0.3l2-1.7l2 0.2l1-1.2l1 0.3l3-1.5l5-0.7l2-1.5l1 0.4l1-1.1l1 1l1-1.8l2-0.3l0 27.2l-654 230.6z"/>
<path transform="translate(618.2,1176.9)" fill="url(#a2)" d="M0,-59.2l7-8.5l2-3.5l9-11.6l1-2.9l1-0.9l8-14.2l1-0.6l2-3.6l1-2.9l2-2.1l1-2l1-0.4l2-4.4l1-0.4l1-2.7l2-0.2l1-2.7l3-2.5l1 0.6l2-1.3l1-53.3l1-1l1 0.3l2-2l1 1l1-1.6l2 0.3l1 53.1l1 0l1 4.6l4 30.2l3 17.4l0 53l-68 24z"/>
<path transform="translate(618.2,1176.9)" fill="url(#q2)" d="M68,-77l2 6.8l3 7.1l2 0.2l1 2.2l2-0.8l1 1.6l1-0.6l1 0.9l3-0.8l1 0.5l3-0.3l2-1l1 0.6l1-0.9l2 0.5l2-1.7l1 0.2l1 1.1l2-1.7l2-0.4l1-1.5l2 0.5l2-1.2l4-0.8l1-0.8l1 0.4l2-1.9l1 0.9l1 0.1l3-2.5l2 0.7l1-1.6l3-1.2l1 0.2l4-1.2l1 0.3l3-1.9l2-0.8l1 0.3l1-1.2l1 0.5l2-1.8l1 1.3l2-2.1l1 0.8l2-1.4l3-0.3l3-2l1 0.2l1-0.7l3-0.5l1-1.3l3-0.1l1-1.7l2-0.2l1 0.7l1-1.3l1 0.8l1-1.2l2-0.5l2 0.4l1-2.7l1 1.1l1 0.1l3-2.1l1-1.7l1 1.9l3-1.9l2 0l3-2.4l1 0.7l3-1.5l1 0.3l1-1.1l1 0.3l2-1l1 0.4l1-1.1l1 0.2l5-2.8l1-0.2l1 0.6l1-1.4l3-0.4l1-1.6l2 0.7l2-1.7l3-1l1 0.2l1-0.8l3-0.3l2-1.7l1 0.9l1-1.6l2 0.4l2-1.4l1 0.4l1-1.5l1 0.8l1-0.3l2-1.9l1 0.2l2-1.3l1 0.7l1-0.7l1 0.2l2-1.4l1-0.1l2-1.8l1 0.2l2-1.2l1 0.3l2-0.9l1 0.3l2-2l1 0.4l3-0.5l1-1l1 0.3l2-1.5l1 0.8l2-1.8l2 0.5l1-1.6l3 0l1-1.1l1 0l1-1.6l1 0.8l2-1.7l1 0.8l1-0.1l5-2.5l1 0.7l2-2.2l2 0.4l2-1.3l1 0.6l1-1.4l1-0.3l1 0.5l1-1.3l4-1.2l1 0.4l1-1.3l1 0.8l1-1.5l3-1.7l3 1l1-1.9l1-0.4l1 0.6l1-0.9l3-0.5l2-1.6l2 0.2l1-1.7l2 1l1-1.6l1 0.2l4-2l4-0.7l1-1l1-0.3l1 0.5l1-1.4l1 0.5l2-1.5l1 0.2l1-0.9l5-1l2-1.3l1 0.8l1-1.7l2 0.3l1-2.1l2 0.8l1-0.4l1-1.7l1 0.9l1-1.4l1 0.6l1-0.3l3-1.9l1 0.5l3-0.8l1-1.1l2-0.6l3 0.3l1-1.3l1-0.3l1-1.6l1 0.5l1-0.3l1-1.8l3 0.1l4-2l2 0.2l1-1.5l1-0.4l1 1.1l2-1.6l1 0.1l2-2.2l2 0.3l1-1.5l1 0.1l1-0.7l1 0.3l2-1.7l1 0.3l1-1.1l1 1.1l1-2l4-0.9l5-4.4l1 0.6l1-1.5l2-0.6l3-2.1l1 0.8l2-2.7l1-0.1l1-1.6l3-0.9l4-3.4l2-0.3l1-1.8l2-0.6l4-2.4l1-1.2l1 0.3l1-1l2 0l1 0.7l2-2.1l3-0.4l1 0.5l6-2.6l1 1.2l1-1.3l1 0l2-1.4l4 0.8l1-0.7l2 0.4l3-0.4l1 0.6l2-0.2l1 0.7l1-0.3l2-2.1l1-0.1l2-1.8l3-1.2l1-1.7l4-2.9l3-4.7l2-0.7l2-3.5l2-0.7l3-3.7l1-2.5l2-0.7l2-2.7l1-0.2l3-4.4l1 0.3l2-2.8l4-3.5l1-2.1l2 0.3l3-4.5l1 0.1l2-3.1l1-0.9l1 0l1-2.3l3-2.1l1-1.7l2-1.5l4-7.2l1-1.1l1-0.2l2-3.7l1-0.4l3-3.4l3-5.7l2-2.4l1-0.3l2-3.9l4-4.3l1-0.5l1-2.2l1 0.3l1-2.1l2-1.3l1-2.2l1 0.1l2-1.2l4-4.9l3-1.7l2-2.7l4-2.6l1-2.1l1 1l1-2.4l2-1.4l2 0.3l4-2.9l1 1.2l2-1.5l1 0.3l1-1l1 0l2-1.6l1 0.6l2-1.1l2-0.3l3-1.9l2-0.1l1-1.4l1 0.5l5-38.6l2-6.1l1-1.3l1-39.3l1 0.4l7-3.7l1 38.5l1 2.8l1 6.9l6 67.1l3 17.6l3 8.7l2 2.4l1 2.6l2 1.3l1-0.2l1 0.5l1 1.2l1 0.1l1-0.5l1 1l3-0.4l2-0.8l2 0.7l1-0.7l2 0l1-0.8l1 0.5l1-0.2l3-1.6l1 0.6l1-0.8l2-0.1l1-1.1l1 1l1-1.8l1 0.5l1-1l1 0.1l1 1l4-2.9l6-2l1 1l2-1.6l1 0.7l1-2.1l1-0.5l1 1.3l3-2.5l1 0.9l2-1l0 27.2l-654 230.6z"/>
<path transform="translate(626.8,1182)" fill="url(#a0)" d="M0,-60.8l5-5.9l3-5.7l3-2.9l5-9l3-3.3l2-4.6l1-1.3l1-0.3l1-3.3l2-2.5l1-3.2l1-0.9l1-2.2l1-0.4l2-5.5l1-0.5l3-5.4l2-2.2l2-5l1-0.1l2-1.8l1-2l3-1.1l2-2.2l1-69.6l1 0.6l1-1.4l3-0.1l1-1.3l3-0.8l1 70.4l3 16.5l2 19.1l3 19.2l0 55.5l-68 24z"/>
<path transform="translate(626.8,1182)" fill="url(#q0)" d="M68,-79.5l3 11l4 7.2l1-0.4l2 1.4l2 0.3l1-0.5l1 1.1l1 0.2l1-1.5l1 0.9l2-0.1l1-1.3l1 0.9l1-1.2l2 0.8l2-0.6l1-1.1l1-0.1l1 0.6l1-1.6l1 0.7l2-1.2l1 0.5l2-1.7l1 0.3l1-0.9l1 0.5l2-1.3l4-1.4l1 0.6l1-1.5l2 0.4l1-1.5l1 0.6l3-0.8l1-1.1l3-0.1l6-2.4l1-1.1l1 1l1-1l1 0.4l2-2l1 0.7l1-1.2l1 0.3l1-1.2l2 0.2l3-1.4l2 0l3-1.9l1 1l2-2.6l2 0.4l1-1.8l1 1.2l2-0.3l2-2.1l2 0.1l2-1.8l1 0.7l1-0.2l1-1.1l4-1.6l1 0.2l1-1l2-0.2l1 0.5l3-2.7l1 0.6l1-0.9l2 0.4l2-2l2 1.3l1-1.6l5-1.5l1-1.4l2 0.2l3-1.6l2 0.4l1-1.6l1 0.6l6-2l2-1.2l2-0.2l2-1.3l1 0l1-0.8l1 0.3l1-1.1l1-0.3l1 0.6l1-1.5l1 0.2l1-1.2l1 0.2l1-1.2l1 0.8l1-1.3l1 0.3l1-1.1l1 1.7l2-1.9l1 0.3l1-0.9l1 0.6l1-1.1l2-0.1l2-2l2 0.1l1-1.4l2 0.3l2-1.3l1 0.5l1-1.2l1 0.8l2-2l2 0.7l1-1.5l6-1.6l2-1.4l1-0.2l1 0.8l2-1.7l5-1.2l1-1.1l1 0.2l1-1.2l3 0.3l2-2.9l1 1.9l4-3.3l1 1.3l1-1.4l2 0.4l2-1.1l1 0.1l4-3.1l1 1.2l3-2.4l1 0.9l6-3.2l2-0.3l1-1.6l2-0.3l1 0.9l1-0.4l1-1.8l1 1.5l1-1.1l1-0.1l1-1.4l2 0.3l1-0.7l1 0.3l1-1l3-0.5l1-1.5l1 1l2-1.3l3-0.9l1-1.1l1 0.4l2-0.4l4-2.8l1 0.7l1-1l2 0.3l2-1.8l1 0.5l1-0.4l1 0.8l1-2.4l1 1.1l1-0.4l4-2.6l4-0.1l1-1.5l1-0.4l1 0.6l2-1.9l1 0.5l2-0.3l5-3.1l1 0.8l3-1.8l2-0.2l2-1.7l1 0.8l3-2.4l1 0.9l3-1.4l1 0l2-2.7l1 1.8l1-1.5l2-0.6l1-1l2-0.6l1 0.2l1-1.3l1 0.3l1-1.8l1 0.5l1-0.1l1-1.4l1 1.5l1-1.4l2-1l1 0.4l2-1.2l2-2.2l1 0.2l4-3l1 0.3l1-1.5l2-0.4l1-1.5l1 0.5l1-1.4l1 0.1l1-1.4l1 1l2-2.5l1-0.6l1 0l1-1.8l2-1.4l1 0.4l4-3.6l2-0.4l1-1.4l1 0.1l1-1.8l1 0l1-1.5l2 0.5l1-0.9l2-0.4l1-1.2l2 1.3l1-1.3l2 0.5l1-1.3l2 1l2-1.8l2 0.3l2-0.7l1-1.2l1 1.2l1-0.9l3 0.5l1-1.6l2 1.4l3-1l2 1.5l1-0.8l2 0.1l1-1.3l1 0l3-2.3l2-2.7l1 1l5-4.7l4-5l1 0.1l2-3.9l1-0.2l1-2l1 0.2l2-1.7l1-2.9l1 0.4l3-3.7l1-2l1-0.3l1-1.7l1 0.1l3-3.7l2-0.8l2-3l3-2.3l1-2.1l2-1.3l1-1.4l1-0.1l1-1.9l2-1.1l2-3.1l1-0.1l5-4.4l2-4.1l5-6.9l1-0.5l2-3.9l5-7.1l3-3.2l1-0.2l4-6.1l1 0.1l1-2.9l1 0.1l1-2l3-3l1 0.3l1-1.6l1-0.3l4-4.7l1-0.5l1-1.8l1 1.2l2-3.3l1 0l1-1.5l1-0.3l4-4.2l1-1.8l2-0.2l1 1.3l1-1.5l4-1.2l1 0.5l1-1.2l3-1.2l1 0.4l1-1.3l1 0.3l1-1.5l1 0.5l2-0.9l1 0.7l3-2.1l1 0.2l1-1.6l1 0.3l5-36l1-4l2-4.2l1-55.1l1-1.7l1 0.8l1-0.7l1 0.6l1-0.8l1 0.6l1-1.9l1-0.4l1 55.3l1 2.2l1 6.5l4 47.5l3 24.8l3 14.8l3 7.6l1-0.1l2 3l1-0.4l3 2.8l1-0.5l2 0.9l2 0l1-1.1l2 1l1-1.5l1 1.5l1-1.9l1 0.9l1-0.7l1 0.9l1-1.3l3 0l3-1.6l1 0.5l2-1.6l1 1l2-1.9l2 0l1-1.1l1 0.5l2-1.6l1 0.6l3-1.1l1 0.2l1-1.5l1 0.7l1-1l1 0.7l1-1.6l2-1l3 0.4l5-2.2l0 27.2l-654 230.6z"/>
<path transform="translate(635.3,1187.1)" fill="url(#a3)" d="M0,-62.3l4-4.5l3-5.3l3-2.8l2-3.9l1-0.4l1-2.4l4-5.8l2-4.4l1-0.3l4-8.4l1-0.5l2-5.7l1-0.6l2-4.4l2-2.4l2-3.8l1-0.6l7-11.6l1-0.2l1-1.4l2-0.9l2-2.2l1-73l1 0.2l2-1.6l2-0.5l1 0.4l1-1.2l1-0.3l1 0l1 74.1l1 1.5l1 5.8l4 35.9l3 17l0 52.2l-69 24.3z"/>
<path transform="translate(635.3,1187.1)" fill="url(#q3)" d="M69,-76.5l2 7.4l6 8.1l3 0.4l1-0.3l1 1.1l1-1.2l2 1.3l2-0.3l1-0.8l1 0.8l3-1.4l2 0l2-1.2l1 0.7l2-1.2l1 0.6l2-1.7l1 1l1-1.8l2 0.1l3-1.1l1-1.2l1 1l1-1.3l3-0.5l4-1.7l1 0.5l1-0.9l2-0.5l1-1.3l1 0.4l5-1.9l2-0.2l1-0.7l4-0.5l2-1.6l2 0.1l1-1.6l1 0.4l3-1.4l1 0.4l1-1.1l1 0.3l1-0.7l1 0.7l1-1.4l1 0l2-1.7l1 0.7l6-3.5l1 1.2l2-2l1 0.8l2-0.7l1-1.3l1-0.2l1 0.7l2-0.8l1-1.3l1 0l1-1.2l1 0.4l2-0.2l1-1.1l1 0.4l2-1.5l2-0.6l1 0.4l1-1.7l1-0.1l1 0.9l1-1.4l1 0.3l1-1.3l1 0.6l3-1.6l3 0.8l3-2.8l3-1.6l1 0.6l1-0.1l3-2.5l2 0.9l2-1.9l1 0.5l1-1.4l1 0.1l1-1.2l1 1l4-2.2l2 0.4l3-1l2-1.9l3 0.7l1-0.6l1-1.8l4-0.6l1-1l1 0.6l1-0.3l1-1.3l2-0.1l3-1.6l1 0.1l1-0.9l2 0.3l1-1.4l3 0.2l1-1.7l2 1l1-1.2l1 0.2l2-2.3l1 0.4l1-0.9l1 1.5l1-1.8l1 0l2-1.8l1 0.7l2-1.3l2 0.3l2-1.7l2-0.5l1 0.4l4-2.9l1 1.7l2-1.2l1 0l1-1.5l2 0.4l2-2.3l2 0.3l2-0.9l1-1.3l1 0.3l2-1.1l1 0.2l1-1.4l1 0.8l2-0.8l1 0.3l1-1l1 0.3l2-2.2l1 1l3-2.8l1 0.4l2-0.6l1 0.8l1-1.6l2-0.3l3-2.3l1 0.5l1-1.1l3 0.6l3-2l1 0.3l2-0.7l3-2.1l1 0.4l1-0.8l3-0.1l4-2.5l3 0.1l3-1.9l1 0.2l1-1l2-0.1l1-0.7l1 0.2l2-2.3l2 1.1l1-1.8l2 1.6l1-1.8l1-0.5l1 0l2-1.2l3-0.4l1-1.2l1 0.9l1-1.3l6-1.6l1-1.8l3 0.1l2-1.7l1 0.3l1-0.5l1-1.3l1 1.2l1-1.4l1-0.2l1 0.6l1-0.5l1-1.6l3-0.6l2-1.2l1 0.3l2-1.8l1 1l1-0.3l1-1.5l1 0.3l2-2.3l1 0.8l2-1.4l1 0.2l1-1.3l3-1.1l2-1.7l3-1.2l1-1.4l2-0.4l1-1.3l1 1l1-1.7l1 0l4-3.5l4-2.3l1 0l3-2.7l1 0l1-1.7l1 0.9l1-2.2l1 0.2l4-2.9l1-1.3l5-0.9l1 0.4l2-1.7l2 0.5l1-1.1l2 0.7l1-1.2l5-0.3l1-0.8l1 0.3l1-1.6l1 1.4l1 0.1l3-1.1l1 1.1l1-0.2l1-1.4l2 0.8l1-0.8l3 0.6l1-0.7l1 0.7l3-3.4l2-0.2l2-2.4l1 0.3l1-0.8l2-2.9l3-2.5l5-6.4l5-5.1l1-0.2l1-1.6l1-0.3l4-5.6l1 0.5l3-4.4l2-1.7l1 0.3l1-2.3l1 0.2l1-2.4l4-4.3l1-0.8l1 0l4-4.4l1-0.2l2-3.1l2-1.8l1 0.1l4-6.2l1-0.6l5-8.5l2-1.6l1-2.4l1-0.5l3-6l1 0.3l4-5.4l1 0.3l2-3.5l1 0.2l4-6.5l2-1l2-2.9l1 0.1l2-2.2l1 0.5l2-3.1l2-1.1l2-2.4l1 0l1-1.8l2-0.8l2-2.7l2-1.2l2-0.6l1-1.1l2-0.2l4-2.7l1 1.3l2-1.4l1 0l1-1.2l3-0.2l1-1.5l2 0.6l1-1.4l3-0.8l1 0.4l1-1.7l1 0l1-3.3l4-29.3l2-7.2l1-1l1-50.1l1-1.7l1 0.1l1-1l1 1.3l1-1.4l3-1.3l1 50.8l1 2.1l1 7.3l4 44.7l3 25.7l2 9.5l3 9.3l3 3.8l4 2.5l2 0.2l2 1.1l4 0.2l1-0.8l1 0.5l2-0.2l3-2l2 0.8l2-1.9l1-0.5l2 0.2l1-1.1l1 0.8l2-0.8l1 0.3l1-1.3l1 1l1-0.1l2-2.4l1 0.4l3-0.3l1-1.1l2-0.4l1-1.4l1 1.1l2-1.8l1 0.2l1-0.7l2 0.4l2-1.6l1 1l4-2.7l0 27.6l-653 230.3z"/>
<path transform="translate(643.9,1192.2)" fill="url(#a2)" d="M0,-62.2l3-2.7l1-2.3l2-1.9l1-2.3l4-4.3l2-4.5l1 0.2l6-11.7l2-1.7l5-11.1l1-0.1l5-9.9l5-7.7l6-8.2l1-0.4l1-1.5l1-0.1l1-1.8l1-0.6l1 0.1l1-57l4-0.7l1 0.8l3-2.4l1 56.3l1 2.5l1 5.6l4 34.7l3 18l0 52.6l-69 24.3z"/>
<path transform="translate(643.9,1192.2)" fill="url(#q2)" d="M69,-76.9l4 11.2l1-0.3l3 4.3l1 0.6l1-0.4l1 1.5l1-0.7l1 0.2l1 1.1l3-2.2l1 1.8l1-0.7l1 0.4l1-1.1l3 0.1l2-0.5l1-1.4l2 0.6l2-1l1 0.3l1-1.1l1 0.4l4-1.6l1 0.8l1-1.9l2-0.8l1 0.2l1-0.9l1 0.3l2-1.3l2 0.5l1-2.3l1 1.2l1-1.1l1 0.2l2-1.4l1 0.2l1-0.6l2 0.5l1-1.4l1-0.2l1 0.8l2-1.9l4 0l3-2.4l2 0.3l1-1.1l1-0.2l1-1.5l1 1.3l1-1l3-0.7l2-1.4l1 0.2l3-1.1l2-1.5l1 1l1-1l3-0.5l1-1.1l2-0.1l1-1.4l1 0.9l1-1l1 0.2l1-1.2l2-0.5l1 0.4l1-1.6l2 0.7l5-2.8l1 0.8l1-2l1 0.5l1-0.9l2 0.7l1-2.1l1 1.3l4-2.7l1 0.8l1-0.4l1-1.9l1 1.6l1-1.8l1 0.6l1-0.6l1 0.3l2-2.5l1 0.7l3-1.7l1 0.9l1-1.4l1-0.4l3-0.5l1-0.9l1 0.4l1-1.4l1 0.6l1-0.1l1-1.3l1 0.6l3-2.5l2 0.3l2-1.2l1 0.7l1-1.1l5-1.2l2-1.9l1 1l1-1.6l2-0.7l1-0.1l1 0.8l1-1.6l1 0.3l3-1.7l2-0.1l2-1.5l1-0.3l1 0.8l1-1l2-0.2l1-1l3-0.5l1-0.9l4-0.4l1-1.2l2 0.1l2-1.7l2-0.1l1-1.5l2 0.4l3-2.2l1 0.8l2-1.2l1 0.4l3-1.7l2-0.5l1-1l1 0.4l1-1l1 0.8l1-1.7l1-0.2l1 1l1-1.6l1 0.4l1-0.7l2-0.1l1-0.9l1 0.2l1-1.3l6-1.6l1-1l1 0.4l2-1.7l2-0.2l2-1.4l2 1l2-1.6l4-1.2l2-1.8l2 0.6l1-1.5l1 0.2l1-1.1l2 0.3l1-1.1l1 0.6l7-3.4l1 1l1-1l1 0.6l1-2.2l1 0.3l2-0.9l1 0.2l1-1.1l1 0.7l1-1.3l1 0.3l1-1.1l2-0.5l1 0.3l1-1.2l1 0.6l2-1.4l1 1.3l2-2.9l2 0.8l1-1l2-0.2l5-2.8l2 0.3l2-1.1l1 0.2l2-1.8l5-2l1 0.4l1-1.5l1 0.1l3-1.4l1 0.5l2-1.9l3-0.3l1-1.2l1-0.2l1 0.4l1-1.2l1 0.6l1-0.4l2-1.9l2 1l1-2.3l3-0.5l1-1.3l2 0.2l2-1l3-3.2l1 0.6l2-1.7l2-0.4l1-2.5l1 0.7l2-0.5l5-4.7l1 0.2l2-0.6l1-2.2l1 1.5l1-1.9l1 0l1-1.3l1-0.1l2-2.6l1 1.8l1-2l1-0.7l1 0.3l1-1.1l1-2.9l1 1.6l1-1.4l3-0.2l1-1.7l3 0.3l1 0.9l3-2.1l3-1l3 0.1l3-1.3l1 1l2-1.6l2 0.5l4-0.8l2 0.8l1-1.3l1 0.7l1-0.5l1 1.6l1-0.7l1 0.1l2-1.6l1-1.8l1 0.3l1-1.1l1-0.1l1-1.9l1 0.4l1-1.5l1 0.2l1-1.6l2-1.4l3-4.3l2-1.1l2-3.5l1-0.4l2-2.8l2-1.2l4-4l3-4.2l1 0.1l1-2l1-0.4l3-3.9l1-0.1l4-3.3l2-3.6l1 0.3l1-1l2-3.3l1 0.3l1-2.6l2-0.2l1-1.6l1 0.1l1-2.2l1-1.2l1-0.2l2-3.4l4-4.5l3-5.4l4-4.8l2-3.6l2-1.9l1-2.5l2-1.3l3-4l1-0.5l2-3.3l1 0.1l5-6.3l1-0.3l3-3.2l1-0.1l2-2.9l2-0.7l1-2.3l1-0.1l3-3.4l6-5.1l2 0.3l2-1.6l3 0l2-2.2l1 0.7l1-1l4-0.5l1-1.2l2-0.5l1 0.5l1-1.5l4-0.5l1-1.7l1 0.6l1-0.3l1-2.2l4-27.8l2-7.1l1-1.2l1-40.8l2-0.6l1-1.4l1 0.6l3-1.9l1-0.1l1 40.7l1 3.4l2 15l5 53l4 19.6l4 8.4l3 1l1 1.9l1-0.6l2 1.6l1-0.5l1 0.7l2-1.3l1 0.9l2-0.9l3 0.1l1-0.7l1 0.5l1-0.7l1 0.7l1-1l3-0.4l2-1.5l1 0.8l2-1.1l1 1l2-2.8l2 0.3l1 0.7l2-1.7l2 0l2-1.2l1 0.4l2-1.1l1-1.2l2 1.1l2-0.3l1-1.9l1-0.1l1-1.5l2 0.4l1-1.1l3-0.1l0 26.9l-653 230.3z"/>
<path transform="translate(652.4,1197.3)" fill="url(#a3)" d="M0,-61.6l2-2.7l1-0.3l2-3.3l2-1.6l5-8.7l1-0.6l2-4.5l3-3.7l1-2.6l8-13l7-14l1-1.5l1-0.2l3-5.5l1-0.2l2-4.6l3-1.8l1-1.7l4-2.5l1-54.6l2 0.1l1-0.9l2-0.7l2-0.1l1-1.6l1 54.6l1 2l1 5.2l4 34.1l3 18.3l0 53.9l-69 24.3z"/>
<path transform="translate(652.4,1197.3)" fill="url(#q3)" d="M69,-78.2l3 10l1 1.6l5 5.5l1-0.7l3 2.4l1-1.3l1 0.9l3-1.1l2 0.8l3-1.6l3 0.6l1-2.1l1 1.1l3-1.5l3 0.3l2-1.5l1 0l1-0.8l1 0.1l1-1.5l1 0.8l1-0.2l1-1.2l2 0.6l2-1.4l1 1.3l2-2.5l2-0.5l1 0.4l5-2.6l1 0.5l3-1.9l1 0.6l2-2.6l2 1.1l1-1.4l3-0.5l1-0.8l1 0.6l1-1.4l8-2l2-1.8l1 1.1l2-2.2l1 1.1l1-1.4l1 0.3l1-1l1 0.7l1-1.2l1 0.6l2-2.4l1 1l3-1.3l2-0.1l1-1.1l3-0.2l3-2.8l1 0l1 1.4l1-1.9l3-0.2l1-0.9l2-0.5l1 0.5l1-1.5l1 0.4l2-1.2l1 0.4l1-1.1l1 0.2l1-1l1 0.2l1-0.9l1-0.1l1-1.1l1 0.5l1-0.6l1 0.2l2-1.1l1 0.5l2-2.3l1-0.6l3 0l3-2.5l1 0.2l2-0.8l1 0.4l3-1.2l1 0.8l2-1.7l3-1.1l1-1l2 0.3l1-0.8l1 0l2-2l2 0.6l2-2.3l1 1.1l1-0.2l1-1.1l1 0.6l2-1.1l1 0.7l2-1.7l2-0.6l1-1.7l1 1.6l1-1.6l2-0.6l1 0.6l3-2.2l2 0.2l8-4.2l2 0.2l2-0.6l1-0.9l1 0l1-1.1l1 0.7l1-1.4l2 0.2l4-1.7l1 0.4l1-1.3l1 0.2l2-0.8l1-1.1l2 0.4l1-1.4l1 0.4l4-1.7l2-0.1l1-1.6l3 0.4l2-1.8l1 0.7l3-1.6l1-1.3l1 0.6l2-1l2 0l1-1.1l1 0.6l3-2.2l2 0.7l1-2l3-0.7l1 0.5l1-0.2l1-1.3l2-0.4l1 0.3l2-1.8l1 0.6l4-2.1l1-1.1l5-0.1l2-2l1 0.7l1-1.8l3 0.7l2-1.5l1 0.1l2-1.2l1 0.1l2-1.2l2 0.4l1-2l1 0.7l1-1l1 0.3l2-1.8l2 0.6l4-2.1l1 0.2l1-0.4l1-1.5l2 0.8l1-1.7l1 0.7l1-1.1l2 0l1-1.4l1 0.5l2-1.3l4-1l1-1.4l2-0.4l2-1.2l1 0.3l2-1.8l1 0.4l1-0.7l1 0.3l2-2.5l1 1.3l2-1.9l1-0.4l1 0.5l1-1.5l1-0.3l1 1.7l1-2.2l1-0.8l1 0.7l2-1.1l2-2.4l2-0.3l1-2l2 0.8l1-0.2l2-2.6l5-2.2l1-1.9l1 0.7l1-1.3l6-3.6l1-1.4l1-0.7l1 0.5l5-3.8l3-1.5l1-1.3l2-0.4l1-1l1 0.5l2-0.6l1-0.8l2 0.3l2-1.6l1 1l1-0.8l1 0.6l2-1.2l4-0.1l1-1.2l2 0.8l1-1.3l3 0.9l1-0.1l1-1.2l2 0.9l2-1l1 1l1-0.5l1 0.8l3-1.6l2-2.1l1 0.1l1-1.1l3-1.1l4-5.4l1-0.3l4-4.3l1-2.6l1-0.6l1 0.2l2-3.3l1 0.2l1-1.8l1 0.1l1-3l1 0l2-2l3-4.1l5-5l1 0.2l1-2.1l1-0.3l2-2.1l1-1.9l2-0.7l3-4.2l1 0.3l1-0.5l1-2.1l1 0l3-4.2l1 0.1l2-4.2l3-3.1l1 0.2l3-6.1l1-0.5l1-3.1l1-0.7l3-5.2l1 0.7l1-2.3l4-4l2-3.7l1 0.2l2-3.3l4-4.8l3-2.4l2-2.9l1 0.5l4-4.7l3-1.4l2-3.2l2-0.3l1-1.7l3-2.8l1-1.8l1 0.3l2-0.7l1 0.5l3-2.2l3-1l2 0l1-1.3l1 0.5l1-1.3l1-0.1l1 0.6l2-2.3l2 0.4l1-1.1l2 0.7l2-2.3l1-0.4l1 0.8l1-0.6l4-27.5l2-6.2l1-0.5l1-39.4l2-1.9l1 0.6l2-1.8l3-1l1 39l2 8.2l5 52.9l2 14.9l2 9.3l2 6.1l3 5.9l1-0.6l2 2.8l1-0.6l1 0.2l1 1.3l4 0.2l3-1.2l1 1.6l4-1.7l1 0.4l1-1.8l1 1.1l7-2l1-0.9l1 0.5l1-0.9l2 0.2l1-1.2l1 0.2l1-0.6l1-1.3l2 0.9l1-1.1l1 0.4l1-0.7l1 1.1l1-2.2l1 0.8l2-1.5l1 0.1l1-0.9l1 0.5l1-1.2l2-0.1l2-1.8l1 1l2-1.7l1 0.6l0 26.9l-653 230.3z"/>
<path transform="translate(660.9,1202.5)" fill="url(#a0)" d="M0,-61.8l2-1.8l1-2.2l2-1.4l2-4.1l1-0.4l3-3.9l2-3.9l4-5.5l1-2.8l8-12.7l2-4.8l2-2.5l5-9.6l4-5l1-2.9l1-0.5l3-4l1 0l1-1.6l2-1.1l2-2.1l1-60.8l1-0.1l3-2.3l2 0.2l2-0.7l1 60.3l1 2.1l2 10.5l3 27l3 18.4l0 55.7l-69 24.3z"/>
<path transform="translate(660.9,1202.5)" fill="url(#q0)" d="M69,-80l2 9l5 8.4l2 1.2l2-0.3l1 2.4l1-1.5l5 0.7l1-1.6l1 0.2l1 1.7l2-2.3l1-0.2l1 1.1l1-1.5l2 0.2l1-1.2l3 0.7l2-1.5l1 0l2-1.1l1 0.7l3-2.1l3-0.5l1 0.8l2-2.5l2 0.5l1-1.1l1 0.8l1-0.4l1-1.3l2-0.3l1-0.8l1 0.4l1-1.6l1-0.5l1 0.8l2-0.4l2-1.6l1 0.4l1-0.5l1 0.5l1-1.5l3-0.7l1-1.8l1 1.7l1-1.3l3-0.4l1-1.3l1 0.9l1-1.2l1 0.4l2-0.8l1-1.6l1 1.8l2-2.7l1 0.9l3-2.7l2 0.7l1-0.5l1 0.4l3-2.3l2 0.5l2-2.1l1 0.3l1-1l1 0.2l2-0.9l2 0.3l1-1.8l1 0.4l4-1.8l1 0.4l2-1.9l1 1.2l1-1.6l2-0.1l1-1.2l1 1l2-2.4l1 1l1-0.3l1-0.5l1-1.7l2-0.3l1 0.6l1-0.8l4-0.7l1-1.1l2-0.1l3-2l1 0.9l2-1.5l1 0.3l3-1.7l1 0.9l2-2.5l3-0.3l2-1.2l1 0.5l1-1.2l2-0.3l1-1.1l1 0.4l1-0.6l2 0.4l1-1.4l1-0.2l1-1.1l1 0.4l1-0.3l3-1.8l2 0.3l2-1.6l1 0.8l5-2.3l1-1.6l1 1.6l2-1.9l1 0.6l1-1.6l1 0.7l1-0.1l1-1.2l2-0.6l1 0.5l1-1.3l2 0.3l2-2l1-0.1l1 1l1-1.9l1 0.5l1-0.8l2-0.1l1-1l2 0.1l2-2.5l1 0.9l2-1.4l2-0.3l1 0.7l2-0.9l2-2l1 0.4l2-1.5l3-0.4l3-1.6l1 0.5l2-1.4l4-1.2l2 0.1l1-1.6l6-1.5l1-1.2l4 0.3l1-1.8l1 0.8l2-2.3l3 0.4l1-0.9l1 0.3l1-1l2-0.5l1-1l3-0.3l2-1.3l2 0l1-1.4l1-0.3l1 0.3l2-1l4-0.7l3-1.7l3-0.9l1 0.2l1-1.2l3-0.3l1-1.7l1 1.4l1-1.4l1 0.2l3-1.4l2 0.2l1-1.2l2-1.1l4-1.1l1 0.3l1-1.7l2 0.7l1-2l1 0.3l2-0.6l1-0.9l1 0.1l2-1.1l1 0.3l1-0.5l1-1.5l2 0.1l2-1.7l1 1l1-2.3l1 0.5l3-0.4l1-1.6l3-0.2l4-2l2 0l1-1.4l1-0.5l1 0.2l1-1.4l2-0.3l1-1.9l1-0.6l2-0.3l2-1.5l3-0.8l2-2.4l2-0.2l2-2.1l1 0.4l1-1.5l1 0.2l1-0.6l2-2.8l1 0.4l1-0.2l2-2.7l3-0.8l5-3.9l2-0.4l2-1.6l2 0.7l2-1.9l1 1.2l1-1l1 0.8l2-1.7l5-0.4l3-1.3l1 0.4l1-1.2l1 1.1l1-1.1l3 1.3l2-1.5l5 0.9l1-0.9l5-1.1l1-2.1l3-0.8l2-2.6l2-0.4l1-2.2l2-1l2-2.9l2-1l3-4.6l2-0.6l2-3.8l2-1l3-4.5l2-0.9l6-7.3l2-0.6l1-2.2l1-0.2l4-4.4l1 0.3l2-4.3l1-0.1l5-4.6l1-0.1l1-2.3l1-0.5l5-6.5l1-2.4l3-3.2l1-2.6l1-0.5l5-7.1l1-2.4l1 0.1l1-2.1l2-1.7l3-4.1l1-0.4l5-6.6l4-2.5l3-3.8l1-2.1l2-0.3l7-6.7l2-0.6l1-2.6l1 0.7l1-2l2-0.9l1 0.2l5-1.5l1-1.6l1 1l1 0.2l1-0.3l1-1.3l2 0.3l2-1.4l1-0.1l3-2.5l1 0.8l3-1.3l1-1.4l1 1.1l1-1.7l1-4l3-19.3l2-6.3l1-1l1-47.6l1 1.1l4-2.7l1 0.3l1-1.5l1 0.8l1 45.5l1 2.6l1 6.9l5 50l2 14.4l2 9.4l2 5.9l2 2.7l1 2.6l3 2.2l4 1.1l1 0.9l1-1.2l1 0.7l2-0.8l1 0.7l1-0.1l1-1l1 0.4l2-0.7l1-1.1l1 1.1l2-0.7l1-1.1l1 1.5l2-1.6l1-0.1l2-1.8l1 0.7l1-0.5l2 0.4l1-1.4l2 0.7l1-2l2 1l1-1.6l2-1l1 1.1l1-0.3l1-1.3l1 0.1l2-1.3l1 0.3l2-1.6l3 0.2l1-1.2l2-0.9l2 0.4l0 26.6l-653 230.3z"/>
<path transform="translate(669.5,1207.6)" fill="url(#a4)" d="M0,-61.5l5-5.5l3-4.7l1-0.5l1-2.6l1-0.1l1-2.3l1-0.8l8-13.1l1-3.2l4-5.9l1-2.9l1 0.2l2-5l1-1.6l1-0.6l2-5l1-1.7l1-0.4l1-3.2l1-0.6l2-3.9l1 0.1l3-5.4l2-1.8l1 0.2l1-1.5l1 0.2l1-2l1-65.7l3-1.1l1-0.9l1 1.1l3-2.6l1 0.8l1 66l2 10.9l3 27.4l3 19.5l0 55.4l-69 24.3z"/>
<path transform="translate(669.5,1207.6)" fill="url(#q4)" d="M69,-79.7l4 12.3l2 3.8l1 0l2 2.5l1-1l2 2.1l1-0.8l1 0.6l1-0.8l1 0.4l2-0.5l1 1.1l3-1.9l2 0.2l2-0.9l1 0.5l1-1.2l2 0.8l2-1.8l1 0.4l1-0.6l1 0.6l1-2.2l1 1.1l5-1.9l2 0.1l1-0.7l1 0.1l1-1.3l1 0.6l1-0.8l2-0.3l1-1.3l2 0l1-1l4-0.5l1-1.2l2 0.3l1-1.7l2 0.8l3-2.6l1 0.6l2-0.2l4-2.3l3-0.7l1-1.6l1 0.6l1-0.7l2 0.8l2-1.9l1 0.3l1-1.2l2 0l2-1.4l1 0.5l2-1.8l1 0.6l3-0.6l1-1l2-0.2l1-1.3l1 0.5l1-1.2l1 0.2l1-0.7l2-0.2l2-1.2l1 0.5l1-1.2l1 0.5l1-0.9l1 0.2l1-1.4l2-0.4l1-1l1 1.1l2-2l1 1.1l1-1.6l2-0.7l1 0.5l1-0.7l1 0.5l1-1.2l1 0.4l2-1.8l2 0.5l2-2.8l1 0.7l2-0.4l1-0.9l7-1.6l3-2.3l2 1l1-2.4l1 0.8l1-0.4l1 0.3l1-1.2l2-0.5l1 0.4l1-1.2l1 0.3l2-0.6l4-2.7l1 0.6l1-1.3l2 0.6l2-2.2l1 0.6l1-1.2l1 0.4l3-0.2l2-1.5l1-1.6l1 1.5l2-1.6l3-0.2l1-1.6l1 0.9l1-1l5-1.9l1-2l1 1.7l3-2.1l2 0.5l1-2.1l1 1.2l1 0l1-1.3l2-0.6l1 0.5l1-1.4l2 0.3l4-2.1l2 0.1l3-1.8l1 0.4l1-0.9l1 0.2l5-3.2l1 1.3l2-2l1 0.7l1-1.8l1 1.2l3-2.3l1 0.3l2-1.2l1 0.1l1-1l1 0.5l1-1.3l2 0l4-1.9l2 0.8l1-1.8l1-0.3l1 0.6l6-3.9l1 0.9l3-1.4l1-1.2l2 0.7l5-1.7l1-1.2l1 0.8l1-1.8l1-0.7l1 1.1l3-2.2l2-0.5l1 0.8l3-2.2l1 0.5l1-1l7-1.7l1-2.4l1 1.4l1 0.3l4-2.6l1 0.2l1-0.9l1 0.6l1-1.9l1 0.4l1-1.2l1 1.5l1-2.1l1 0.8l2-1.2l1 0.9l1-1.3l1-0.1l1-1.6l1 0.9l2-2.8l2 1.9l1-1.9l3-0.6l2-0.9l1-1.4l2 0.1l3-1.4l2-0.3l1-1.6l1 0.3l1-0.8l1 1l1-2.4l1-0.4l2 1.2l1-2.3l1 0.1l1-1.1l3-0.9l1-1.5l1 0l3-2.1l1 0l1-2.2l1 0.4l2-1.5l4-1.5l4-4l1 0.8l1-1.6l4-3.1l2-0.3l2-1.4l1-1.7l1 0.4l4-2.7l2 0.9l4-2.4l1 0.3l2-0.6l4 0.2l1-0.7l2 0l1-1.1l1-0.2l1 0.8l3-1.2l2 0.7l1-0.7l1 0.4l1-0.8l2 0.7l1-0.8l4 0.7l2-1.9l1 0l1-1.7l2-0.7l1-1.7l1 0.6l1-1.1l1 0.7l2-3.9l2-1.1l2-2.5l1-2.4l1 0.3l2-2.1l1-2.4l4-2.7l1-2.6l1 0.3l3-4.4l4-3.1l1-2.1l1-0.3l1-1.7l7-5.8l1-2.3l1-0.2l3-3.6l2-0.9l3-2.7l3-4.7l1 0l1-1.7l1 0.3l4-6.6l1-2.9l3-2.5l1-3.1l1 0.1l1-2l1-0.6l2-4l1-1.2l1-0.2l2-3.4l1-0.3l3-3.9l1 0l1-2.6l2-1.6l1-1.8l3-1.8l1-2.2l1 0l1-2.4l1 0.1l2-2l1 0.2l2-2.8l2-1.3l1-1.8l3-1.3l1-2.5l1-0.4l1-1.4l1 0.6l1-2.7l2 0.4l1-1.2l2 0.5l1-2.1l1 1.7l3-2.7l2 0.7l1-1.6l2-0.5l1 0.7l1-1.9l2 0.4l1-0.5l1 0.4l2-3l1 0.8l1-0.6l1 0.9l2-1.3l4-23.6l3-8.5l1-42.9l2-1.1l1 1.4l4-3.4l1-0.2l1 44.2l1 1.5l2 14.2l5 50.1l2 11.5l2 7.6l3 6.4l3 3.3l1 0l3 1.4l1-0.4l1 0.7l1-0.5l1 0.9l2-0.2l1-1.3l1 0.8l2-1.3l3 1l1-1.3l1 0.7l2-1.1l1 0.1l1-1.5l1 1.2l3-2.3l3-0.2l2-1.2l1 1l3-2l2 0.7l1-1.3l1 0.5l1-1.1l1 1l2-2.4l2 0.1l1-1.5l1 0.8l2-1.3l1 0.2l2-1.9l1 0.9l2-1.3l1 0.6l0 26.7l-653 230.3z"/>
<path transform="translate(678,1212.7)" fill="url(#a4)" d="M0,-61.5l1-2.5l4-3.6l6-10.3l1-0.3l2-4.7l1-0.7l2-3.5l2-2.1l2-5.3l2-1.8l10-20.7l1-0.6l1-2.4l1-0.7l3-5.7l3-3.4l1-2.7l1-0.1l2-2.4l2-1.3l1-1.8l1 0.4l1-69.1l4-1.1l3-2.2l2 0.2l1 69.1l2 9.8l4 36.4l2 12.1l0 58.2l-69 24.3z"/>
<path transform="translate(678,1212.7)" fill="url(#q4)" d="M69,-82.5l4 13.9l2 4.1l1 0.9l1 0l3 2.9l2 0.9l1-1.8l2 1.8l1-1.3l2 0.3l1-0.7l2 0.5l2-1.9l2 1l1-1.1l2 0.2l1-0.9l1 1l2-1.7l1 1.2l1-0.1l1-1.3l3-1.7l3 0.3l1-1.4l4-1.2l1 0.2l2-1.8l2-0.4l1 0.6l1-1.2l2 0l2-2l1 0.9l1-0.1l2-1.3l2 0.5l1-1.9l1 0.9l2-1.6l1 0l1-1.6l1 0.6l1-0.4l1 0.4l3-2.1l3-0.1l2-1.2l1 0.5l1-1.3l2-1.2l1 0.4l1-0.6l2 0.1l1-1.8l1 1.1l1-1.5l2-0.4l1 0.6l1-0.2l3-2.8l1 0.9l1-1l1 0.9l1-1.5l1-0.5l1 0.5l2-1.9l1 0.8l1-1.3l1-0.1l1 0.7l1-1.2l1 0.1l4-1.9l2-0.1l2-1.8l2 0.4l2-1.4l2-0.4l1-1.2l3 0.3l1-1.1l3-0.4l1-2.2l2 2l1-2l2-0.2l1 0.5l1-1.3l2-1l3-1.1l2 0l2-2.1l1 1.1l1-0.5l1-1.4l1 1l1-1.2l1 0.1l3-1.6l2 0.3l1-1.8l1 0.7l1-0.7l1 0l1-1l2 0l2-1.5l2-0.1l2-1.5l1-0.2l1 0.6l1-1.5l5-1.4l2 0.4l1-1.3l2-0.1l1-0.8l3-0.6l1-1.3l2-0.7l1 0.3l2-1.4l1 0.9l1-1.2l2-1.2l3 0l2-1.9l1 0.6l1-1.5l1 0.3l2-1.3l1 0.5l1-0.6l1 0.3l3-1.7l2-0.1l1-1.9l4 0.1l1-1.2l3-0.7l2-1.5l2 0.8l1-1.4l4-1.8l1 0.4l1-0.7l2 0.9l1-1.4l3-0.9l3-1.6l1-1.2l1 1.2l1-2.8l1 1.2l3-0.5l1-0.7l1 0.7l1-1.5l1 0.9l2-2.3l2-0.7l2 0.6l1-1.2l1 0.2l1-1.4l1 0.3l1-0.9l2 0.5l2-2.1l2 0.7l1-1.4l1 0.6l2-2.2l2 0.2l4-1.8l1 0.3l2-1.6l2 0.3l2-1.7l1 0.3l1-0.9l1 0.6l2-1.4l1 0.8l2-1.8l2-0.4l1 0.5l1-1.7l1-0.3l1 0.9l1-0.1l1-1.4l3-1.2l1 0.4l1-1.2l1 0l3-2.1l1 0.3l2-1.8l4 0.1l1-1.3l1 0.2l2-0.8l2-1l1-1.3l1 0.5l1-0.9l4-0.8l2-1.8l1 0.4l1-1.4l1 0.6l1-0.2l1-1.5l2-0.5l3-2.6l1 1.1l1-0.5l1-1.7l1 0.2l1-1.8l1 1.1l2-2.8l1 0.4l4-3.1l2-0.5l2-1.5l1 0.5l1-2.7l1-0.5l1 0.3l1-2.6l1 1.3l1-1.5l1 0.3l2-2.2l1-0.5l1 0.5l2-3.3l3-0.7l1-0.9l1 0.6l1-1.3l1 0.7l1-1.7l1 0.7l1-1.3l1 1.2l2-1l1 0.3l1-1.8l1 0.9l1-1l1 0.9l1-1.2l1 1.2l3-2.2l2 1.1l2-2l2 1.1l1-0.5l1 0.7l1-2.1l1 2.3l1-1.2l1 1.2l1-0.9l1 0.3l1-0.8l1 0.6l1-0.9l1 0.9l3-3.7l2-0.8l1 0.3l1-1.4l1 0.4l6-7.5l1-0.2l2-1.9l2-4.1l1 0.2l12-13.3l1 0.3l5-6.7l1-0.4l2-2.3l1 0.3l1-2.3l5-4.6l1-1.6l2-0.6l3-3.9l2-1.7l1 0.1l1-2.5l2-3.1l1-0.6l1-2.6l7-8.9l5-7.9l1-0.1l3-4.6l1-0.2l1-2.6l1 0.1l7-8.3l2-0.8l2-2.8l2-1.1l3-3.8l2-0.8l2-2.9l2-0.6l2-3l4-1.9l1-1.6l1 0.3l3-2l1 0.3l2-1.9l1 0.2l1-0.5l1 0.6l5-2.1l1 0.6l2-2.5l1 1l1-0.4l1-1.3l1 0.2l1-1.3l1 0.4l1-1.1l2 0.1l1-3.7l3-20.1l2-6.1l1-1.2l1-57.6l2 0.2l6-2.9l1 56.6l1 2.2l1 6.8l6 57.5l3 16.5l2 6.1l4 5.8l1-0.1l3 2.6l2 0.1l2-0.8l1 0.5l1-0.7l1 1.4l1-0.8l1 0.4l1-1.1l3-1l1 0.7l2-1.4l1 0.8l1-1l5-1.4l1 1.1l1-2l1 1.1l3-2.2l5-0.5l1-1l4-0.6l1-1l1 0.1l3-1.7l1 0.4l1-1.8l2 1.4l1-1l1 0.5l1-0.3l1-1.6l2-0.3l0 27.1l-653 230.3z"/>
<path transform="translate(686.6,1217.8)" fill="url(#a2)" d="M0,-63l1-2.6l3-2.5l4-7l1-0.4l1-3.1l3-3l3-5.5l1-0.9l4-8.5l3-4.5l4-7.6l2-4.9l1-0.3l2-5.7l3-4.3l4-7.3l3-4.2l2-1.7l1-2l1 0.6l3-3.4l1-79.5l1 1.1l2-0.3l2-1l1 0.1l2-1.4l1 0.2l1 77.7l2 9.2l4 36.9l3 19l0 55.1l-70 24.7z"/>
<path transform="translate(686.6,1217.8)" fill="url(#q2)" d="M70,-79.8l3 10.7l1 0.7l2 3.9l2 0.9l1 1.7l1-0.2l2 1.1l2 0.3l1-0.9l3 0.9l1-0.8l2-0.3l1 0.9l2-1.4l4-0.3l1-1l2 0.6l4-2.1l2-0.2l1-1.3l2 0.2l2-1.5l4-0.9l2-1.1l1 1.1l1-1l1 0.2l2-1.6l3-1.1l2-0.3l1 0.7l1-0.5l1-1.9l1 1l3-1.6l1 0.3l1-0.9l1 0.1l2-1.9l1 1.7l2-2.8l3 0l2-1.2l2 0l6-2.8l2 0.2l2-2.5l1 1.3l1-1.2l1 0.7l1-0.7l1 0.3l1-1.8l1 0.3l2-1.4l1 0.4l3-2l2 0.3l4-2.3l1 1l5-2.6l3-0.2l1-1.7l3-0.2l1 0.5l3-2.5l2 0.1l2-1.4l6-1.5l1-0.9l2 0.4l1-2.1l2 1l1-1.6l3-0.4l1-1.1l2-0.8l1 0.5l4-1.9l1 0.2l3-1.8l5-1.3l1-0.8l2-0.5l1 0.5l1-1.2l4-0.9l1-1.4l2 0.8l1-2.2l1 1l2-0.4l1-1.9l1 1.4l1 0l1-1.8l1-0.4l1 0.4l3-1.4l6-1.2l1-1.3l5-2.2l1 0.3l1-1.2l1 0.3l1-1.1l1 0.7l6-2.9l1 0.2l5-2.3l2-0.4l1-1.2l2-0.3l1 0.6l2-1.5l1 0.2l2-1.9l1 1l1-1.1l1 0.2l1-0.9l1 0.7l1-1.7l3 0l4-2.3l1 1.1l1-1.2l1-0.2l1-1.5l3 0.6l3-2.6l1 0.3l2-0.7l1-1.4l1 1.5l1 0l1-1.9l1 0l1 0.8l1-1.3l2 0.1l1-2.2l1-0.3l1 0.7l2-1.2l1 0.7l1-1.4l6-1.4l3-2.3l3 0l2-1.6l1 1l2-1.8l2 0.5l2-0.6l1-0.4l1-1.5l2-1.1l1 0.9l2-1.6l2 0l1-1.1l2-0.1l1-1.1l1 0.3l2-1.6l1 1.4l1-2.4l1 1.9l1-1.5l1 0.1l3-2.3l1-0.2l1 1l1-1.5l5-1.4l2-2.2l1 0.5l2-0.4l1-1.3l1 0.6l1-1.7l2 1.1l1-2l1 0.6l3-0.6l1-1.5l1-0.2l1-1.3l1 1.3l2-2.5l1 0.5l2-0.3l3-2.9l2-0.4l1-1.5l1 0.6l1-1.7l1 1.2l1-2.7l1 0.6l1-0.3l6-4.9l1 0l2-1.7l2-0.6l1-1.2l1 0.1l1-1.6l1 0.2l1-1.3l1 0.3l2-1.8l1-2.2l1 0.7l1-0.9l1 0.1l3-3.6l2 1.3l2-2.2l1 1.3l2-1.6l1 0.3l4-1.8l1 0.7l1-0.6l1 0.9l1-1.1l2-0.2l1-1.4l5 0.4l2-1.1l1 0.1l1 2l1-1.4l1 0.2l1-1l2 0.7l3 0.2l7-4.6l1-1.7l4-2.3l1 0.1l2-3.4l1-0.5l2-2.8l2-1.2l1-2.3l2-0.8l1-1l2-3.5l4-4.2l2-1.3l1-1.9l1-0.4l2-2.9l1 0.7l3-4.9l3-1.7l1-2l1-0.1l2-2.7l2-1.4l1-0.1l4-6l1 0.3l1-1.7l6-5.8l2-3.5l3-3.3l5-8.8l3-2.5l1-2.6l2-2.7l1 0l1-1.2l1-2.6l3-2.9l3-4l2-1.2l3-3.5l3-2.6l1-0.3l1-1.8l1-0.4l1-2.2l1 0.4l7-6.7l1-0.3l2-2.6l1 0.7l1-2.6l2 0.7l1-1.2l3-0.5l1-0.8l1 0.2l2-1.8l1 0.7l1-0.6l1 0.7l2-2.7l2 1.2l1-1.1l1 0.3l2-2.1l1-0.2l1 1.1l1-2.5l1 1.2l2-1.1l5-27.9l1-3l1-1.2l1-46.5l2-2.2l2 0.8l3-2.1l1 0.6l1 46.7l1 2.3l1 5.9l5 50.6l2 15.1l2 8.9l3 8.6l1 0.3l2 3.2l2 0.4l1 1.3l1-0.6l2 1.9l1-1l1 0.7l1-0.3l1 1l1-1.3l1-0.3l1 1l3-1.5l2 0.9l1-1.1l1 0.4l2-1.1l3-0.6l2-1.5l2-0.5l2 0.6l1-0.9l1 0.2l4-2.5l1 0.4l1-1.4l1 0.9l1-0.2l1-1.4l1 0.4l1-0.8l2 0.2l1-0.7l2-0.2l3-2.1l3-0.5l1 0.3l1-1.2l1 0.1l0 27l-652 229.9z"/>
<path transform="translate(695.1,1222.9)" fill="url(#a1)" d="M0,-64l7-8.8l1-2.5l1-0.4l2-2.7l7-13.5l3-4.1l6-12.6l11-20.7l2-1.6l2-4.6l1-0.4l2-3.5l1-0.1l2-2l2-1l1-1.4l1-73.4l1 0.3l1-1.1l1 0.7l1-1.5l1 0.2l3-0.8l1 73l1 2.5l1 5.8l4 37.1l2 15.1l1 4.1l0 57.2l-70 24.7z"/>
<path transform="translate(695.1,1222.9)" fill="url(#q1)" d="M70,-81.9l2 8.8l2 5.2l4 5.3l1-0.4l1 1l3 1l1-0.2l1 0.8l2-0.1l2-1.1l1 1.2l1-1.5l3 0l1-0.9l3 0.3l1-1.2l1 1l4-1.5l1-0.9l2 0.2l1-1.5l1 0.8l1-1.6l1 0.1l1-0.9l1 0.5l2-0.8l1 0.3l2-1.2l3-0.5l1-1.2l1 0.4l2-1.5l3-0.6l1-0.9l1 1.3l1-1.5l3-1.5l4-0.3l4-2.4l4-0.3l1-1l3-0.3l3-1.7l1 0.2l1-0.9l2 0.2l2-2.1l1-0.1l1 0.7l1-1.1l1 0.6l1-1.3l1 0l5-2.8l1 1.3l1-1.5l1 0.3l2-1.5l2-0.4l1-1l1 0.9l1-1.2l1 0l1-0.8l1-1.5l2 1.2l2-1.2l1 0.3l2-0.6l4-2.2l2 0.1l1-1.4l1 0.2l5-2l1 0.2l1-1l1 0.9l4-2.8l1 0.2l2-1.6l1 0.6l4-2.5l7-1.5l2-1.5l1 0.6l1-1.6l1 1.1l1-1.3l2 0.9l1-1.4l1 0.9l1-1.9l1 0.3l1-1.7l2-0.4l1 0.7l3-2.1l1 1.1l1-1.7l1 0.7l1-1.4l1 0.5l1-1l3-0.8l1 0.8l1-1.7l1 0.1l1-1.3l1 1.4l1-1.4l4-1.5l1-0.9l1 0.6l2-1.3l5-1.1l2-1.6l3 0.3l1-1l3-0.7l1-0.9l2 0.1l3-2.2l3 0l2-2.7l1 0.8l2-0.5l1-1.2l5-0.5l2-1.1l1 0.1l1-1.8l1 0.4l3-1.8l3 0.2l2-0.8l2-2.3l2 0.5l5-2.3l2 0.2l3-0.6l8-4.5l3 0.3l1-1.1l1 0.6l1-1.6l1-0.4l1 0.8l1-0.3l3-2.7l1 0.6l1-0.6l2 0.3l2-2l1 0.7l1-1.1l2 0.2l1-1.1l3-0.7l2-1.5l1 0.6l1-0.8l2-0.1l3-2l2 0.5l1-2.4l2 1.3l1-1.3l2-0.9l3 0.5l1-1.7l3-1.1l1 0.2l2-1.5l1 0.4l1-1l4-1.4l1-1.2l1 0.5l2-0.6l2-1.8l1 1l1-1.8l1 0.9l3-2.3l2 0.3l1-1.6l2 0.4l2-2l1 0.4l1-1.2l1 0.2l2-0.9l1-1.1l4-2.1l1-1.2l5-2.6l2-0.4l1-1.3l1-0.1l1-1.1l1 0.2l2-2.9l1 0.2l2-1.8l3-1l1-1.4l2-0.3l1-1.6l2-1.2l1 0.1l1-2.1l2 0l2-2.1l2 0.7l1-1.6l1 0.4l2-0.3l1-0.9l2-0.1l1-1l1 0.7l2-0.5l1-1.3l1 0.5l2-0.8l1 0.6l1-1.7l1 1.3l1-1l2-0.8l1 1.2l3 0.6l1 0l1-1.7l1 1.1l1-0.8l1 1.4l1-1l1 0.3l1-0.7l1 0.5l2-2.6l5-1.7l1-1.8l2-0.4l1-2.3l1-0.3l2-2.6l1 0l1-2.6l1-0.1l1-0.8l2-3.3l1 0.8l3-5.3l2-1.6l1 0.2l1-1l1-2.6l6-5.4l1-2.1l4-3.8l2-1.4l1 0l1-2.7l2-1l1-1.9l4-3.6l1-0.1l3-4l4-3.2l2-3.8l1-0.6l6-9.2l2-2.7l1-0.5l1-3.6l1-0.1l3-5.5l1 0.7l11-13.5l3-2.6l1 0l1-2.6l1 0.4l2-2.5l6-4.8l4-4.6l2-1l3-3.1l1 1.2l1-1.4l2-0.1l1-1.2l2 0.5l2-2.8l1 2l1-1.6l1 0l1-1.3l1 0.7l3-1.7l1 0.2l1-0.5l1-1.1l1 0.9l6-3.1l4-23.9l3-9l1-51.1l1 0l1-1l1 0.6l4-1.8l1-1.1l1 52.2l1 2.3l1 6.6l4 41.7l3 24l2 8l3 8.9l3 4.5l2 0.5l1 1.4l1-1.1l4 1.9l1-0.6l1 1.1l2-1.5l2 0.4l2-1.1l1 1l1-2.2l2 0.7l2-0.9l3 0.1l5-2.6l2 0.2l5-1.2l3-2.1l1 0.3l2-1.8l2 1.1l1-1.2l4-0.9l3-2l1 0.5l2-1.5l1 0.7l1-0.2l0 26.8l-652 229.9z"/>
<path transform="translate(703.7,1228)" fill="url(#a0)" d="M0,-64.5l3-2.8l3-5.8l2-2.1l4-5.7l1-2.7l2-2.3l2-4.7l10-17.5l1-3l2-3.1l5-10.7l1-0.3l2-5.1l8-11.2l2-0.7l2-2.8l1 1l1-64.6l2 0.1l1-1.9l1 0.5l1-0.5l2 0.3l1-1l1 63.2l1 1.8l1 4.6l4 37.7l3 20.2l0 58.9l-70 24.7z"/>
<path transform="translate(703.7,1228)" fill="url(#q0)" d="M70,-83.6l1 6l4 11l5 4.8l2-0.3l2 1.3l2 0.1l1-1.3l3 1.1l2-1.2l1 0.8l1-1.1l1 0.3l2-1l2 0.2l1-1.6l1-0.2l1 2.1l1-1.7l1-0.1l1-1.2l1 0.9l1-1.2l4-0.8l1-1.4l3 0.5l2-1.7l2 0.3l1-1.1l3-0.1l1-1.1l1 0.1l1-1.3l2 0.3l2-0.7l6-3l3 0.1l2-1.3l2 0l2-1.8l1 1l1-1.7l2 0.3l2-2.2l3 0.6l1-1.9l2 1.6l1-2l4-1.1l1 0.3l1-0.9l1-0.1l1-1.2l1 1.2l1-1.9l2-1.1l1 0.3l1-1.1l2 0.6l1-0.8l1 0.6l1-0.2l1-1.5l3-0.2l2-1.5l3-0.5l2-1.8l1 1l1-1.2l9-2.5l2-1.2l1 0.3l1-1.3l1 0.7l1-1.9l2 1.5l1-1.3l4-2.5l2 0.3l1-1.6l2 0.3l2-0.5l1-1l3 0l1-1.4l3-0.2l2-1.4l1 0.7l1-2.4l1 1.3l1-1.7l1 0.5l1-1.1l2 0.7l4-2.6l1 0.7l2-1.7l2 0.1l1-1.3l3-0.5l1-1.1l1 1.2l2-2.2l1-0.2l1 1l2-2.4l2 1.1l3-2.5l1 0.9l1-1.5l2 0.4l3-1.5l2-1.9l1 0.8l1-0.3l1 0.4l1-1.6l1 0.3l2-1.4l1 0.7l1-0.9l1 0.5l2-2l4-0.5l1-2l1 1.4l1-0.8l2 0l1-1.6l1 0.5l1-1.6l2-0.8l3 0l1-0.9l1 0.2l1-1.5l1 1l1-1.2l3-0.5l1-1.1l4-0.5l2-1l2 0l2-2.3l2 0.1l1-0.9l1 0.5l1-0.8l2 0.2l3-2.5l1 0.5l1-0.8l1 0.2l1-1l1 0.3l1-1.2l1 0.5l1-0.9l4-0.6l1-1.7l1 0.8l2-1.6l1 0.8l1-1l5-2.3l1 0.4l2-1.2l2-0.1l2-1.6l3-0.4l1-0.8l1 0.4l2-1.4l2 0.3l2-1.9l1 0.1l2-1l1 0.3l1-1l2 0.2l4-2.4l1 0.9l2-1.2l1-1.7l1 0.6l4-2.3l1 0.8l2-2.1l2-0.3l1 0.7l1-2.1l1-0.4l2 0.9l1-1.3l1 0.3l3-2.5l1 0.8l1-1.1l2-0.3l2-2.2l2 1.2l1-2.1l2 0.5l2-1.2l1-1.8l1-0.1l4-3l1 0.5l4-2.8l1 0.7l1-2.3l3-1.3l3-2.6l1 1l1-1.5l2-1l3-2.9l2 0l1-1.5l1-0.2l7-5.5l1 1.1l1-2.2l2 0.2l1 1.2l1-1.6l1 0.2l1-0.6l1 0.7l2-1.4l2 0.4l1-0.9l2 0.4l1-1.1l2-0.8l4 0.2l2-0.7l2 0.6l4-0.6l2 0.5l2-0.9l1 1l3-3l1 0.6l1-0.7l1-2l2-1.3l1 0.2l2-2.4l1-0.2l4-5.3l1 0.4l2-3.6l5-5.4l2-2l1-0.1l1-1.7l1-0.4l1-1.9l5-4.8l6-7.7l1 0l4-4.3l3-2.1l2-3l1 0.9l1-2.2l5-4.6l5-6.6l1-2.1l3-3.5l1-2.4l3-3.4l2-3.9l3-3l1-2.6l5-4.7l1-2.1l1-0.5l4-5l1-0.3l4-3.9l1-1.7l1-0.7l1 0.2l1-1.8l2-1.2l3-3.8l1-0.4l1-1.4l1-0.2l4-4l4-1.4l1 0.3l2-2.4l1 0.7l1-1.5l1 0.4l2-0.8l1-1.4l1 1.5l4-3.1l3 0.2l2-0.5l2-1.5l1 0.3l3-0.8l4-26.8l1-4l2-2.7l1-38.2l1-0.3l1-1.1l1 0.2l5-1.7l1 36.3l2 9.4l5 51.4l4 24.6l3 8.2l4 4.7l1 0.1l1 1.8l2-0.6l2 1.6l1-1.1l3 1.4l1-1.8l1 0.7l1-0.9l2-0.4l1 0.5l2-1.3l1 0.7l4-1.4l1-1l1 1l1-0.5l1 0.2l2-1.8l1 0.9l1-1.3l1 0.6l1-0.7l1 0.7l4-3.7l1 1.4l1-1.3l3 0.1l2-2.1l1 1.3l1-1.7l2 0.6l2-1.4l1 0.6l1-1.7l1 0.7l1-1.4l1 1.1l1-1.8l0 27.8l-652 229.9z"/>
<path transform="translate(712.2,1233.1)" fill="url(#a1)" d="M0,-64.7l1-1.7l1-0.2l3-5.7l4-4.6l1-3.5l1-0.2l1-1.5l1-0.4l2-4.9l5-7.5l3-6.7l2-2.3l1-3.6l3-5.1l2-5.6l2-4l1-0.4l3-6.6l2-2.4l1-3l1-0.7l6-8.7l1 0.6l2-2.8l1 0l1-78.6l3-1.7l1 0.2l2-1.6l2 0.1l1 77.1l1 1.7l2 13l5 46.6l1 4.7l0 60l-70 24.7z"/>
<path transform="translate(712.2,1233.1)" fill="url(#q1)" d="M70,-84.7l2 9.8l2 5.6l2 3.6l1 0.1l1 2l3 2.4l1-0.4l2 0.8l1-0.6l2 0.6l1-2.2l1 1.4l2 0.1l1-0.8l1 1.1l1-1.8l1 0.6l1-0.6l1 0.5l1-0.2l1-1.2l2 0.1l1-0.7l1 0.6l1-2.2l1 1l5-1.5l1-0.9l1 0.6l2-0.6l3-2l1 0.6l3-2l1 0.6l2-1.3l1 1.1l2-2l3-0.2l1-1.4l2-0.1l1-1l1 0.2l1-0.8l2-0.4l1 0.6l2-2l1 0.2l2-0.6l1 0.4l2-1.9l2 0.5l4-2.8l1 1.1l1-1.8l1-0.5l5 0.1l1-2l1 0.5l1-1.7l2 0.2l1-1l2 0.7l4-2.2l1 0.1l1-1.6l1 0.7l2-0.8l1-1.3l1 1.2l8-4.2l2 0.8l1-1.3l1 0.6l1-1.6l2 0.2l2-1.2l1 0.9l1-1.7l2-0.9l1 0.7l2-1.5l2-0.5l1 1.1l2-3.1l1 0.9l2-1.3l1 0.9l2-1.6l3-0.6l2-1.2l2-0.1l1-1.3l2 0.2l1-1.1l1 0.5l4-2.3l3-0.3l1-1.2l1 0.9l3-2.2l2 0.4l1-1l4-1.8l2 0.3l7-3.8l1 0.8l1-1l4-1.6l1-1.1l1 1.5l1-1.3l1 0.7l2-1.9l3-1.2l1 0.4l1-0.5l1-1.3l1 0.9l1-1.5l1 0.4l4-1.9l2 0.2l2-1.7l2-0.2l1 0.4l1-1.4l1-0.4l1 0.3l2-2.2l1 1.4l2-1.9l1 0.4l1-1.6l1 0.8l1-1l1 0.6l2-2.1l1 0.7l1-0.8l3 0.2l2-2l3 0.1l2-1.8l5-1.1l1-1.3l1 1.2l2-2.2l1 0.3l2-0.9l2 0.1l2-1.9l1 0.7l1-1.7l3 0.2l1-1.7l1 0.6l1-0.1l1-0.9l3-0.6l2-1.5l2 0.3l1-1l1 0l1-0.8l1 0.7l2-2.2l1 0.6l3-1.8l4 0l2-2.1l1 0.4l1-1.1l1 0.3l2-1.7l2-0.3l1 0.8l3-2.7l1-0.3l1 0.4l4-1.3l1-1.9l1 1.8l2-2.1l1 0.3l2-0.4l2-1.8l1 1.2l1-2.7l1 1.3l1 0.1l1-1.8l1-0.1l1-1.5l1 1.7l1-1.1l2 0.1l1-1.4l1-0.4l1 0.6l1-1.5l2 0.1l3-1.5l1-1.1l3-0.5l3-2l1-0.3l1 1l1-2.3l4-0.3l1-2.2l3-1.7l3-3l2-0.2l1-1.3l1 0.6l1-1.5l1 0.5l1-1.2l2-0.2l2-2.3l5-3.6l1-0.2l1-1.3l2-0.5l1-1.2l1-0.1l6-4.2l1 0.9l2-2.5l1 1.5l1-1l4 0.3l2-2l3 1.1l5-2.8l2 0.5l1-0.9l3 0.8l2-1.1l3 1.9l1-1.6l1 0.1l1-0.6l2 0.9l1-1.4l3-1.1l2-1.8l1-1.7l2 0.3l8-9.4l1-0.2l2-3l1 0.2l2-3.7l2-1.3l4-4.6l1 0.2l2-3.6l1-0.3l1-1.7l1-0.2l5-5.6l1-1.9l2-0.7l1-1.7l1 0l1-2.3l1 0.3l1-0.9l4-5.2l6-4.6l1-2.8l2-2.1l4-6.3l1-0.4l1-2l13-17.5l4-3.6l5-6.6l2-1.8l1-0.1l3-3.9l1 0l2-2.5l2-1.2l1-1.7l4-2.7l1-1.8l2-1.1l2-2.9l1 1l1 0.1l1-1.8l1 0.6l1-0.9l1 0.4l1-1.2l1 0.2l1-1l1 0.5l1-1.1l3-0.6l1 0.3l1-2l2 1.1l1-1.6l1 1.1l3-2.8l2 0.3l2-1.6l1 0.3l4-26.6l1-4.2l2-4.1l1-43.2l1-1.5l1 0.4l6-3l1 44.3l1 1.5l1 6.8l6 60.1l2 13.3l4 12.6l2 2l2 3.4l1-0.6l1 0.5l1-0.3l2 1.7l2-1l1 0.6l1-0.6l1 0.6l1-0.7l1 0.4l1-0.4l2 0.9l4-2l1 0.7l1-1.2l1 0.1l2-1.6l4 0.3l8-2.9l1-0.8l1 0.2l1-0.9l2 0.3l1-1.5l3 0.2l2-1.9l2-0.9l1 0.6l2-0.9l1 0.7l1-1.6l3-0.8l0 27.3l-652 229.9z"/>
<path transform="translate(720.8,1238.3)" fill="url(#a3)" d="M0,-67.3l5-6.5l1-2.2l4-5.8l1-0.1l2-5.5l3-5l1-0.8l6-12.7l2-3.1l6-14.1l3-4.9l6-12.7l5-6.1l1-2.7l5-3.6l1-72.7l2-0.3l2-2l2-0.3l1-1.2l1 1l1-0.7l1 73.8l2 11.9l3 32.7l3 22.9l0 63.3l-70 24.7z"/>
<path transform="translate(720.8,1238.3)" fill="url(#q3)" d="M70,-88l2 10.5l4 10.7l1 0.2l2 3l4 1.3l1 1.2l1-0.8l1 0.5l3-0.9l1 1l3-0.7l1-0.7l1 0.3l1-0.8l1 0.5l3-1.8l1 0.7l3-1.6l1 0.2l2-0.9l1-0.9l1 0.9l5-2.3l1 0.4l1-0.5l1 0.8l1-1.7l1-0.2l1-1.2l1 0.5l1-0.5l2 0.5l2-2l3 0.5l1-1.4l1 0.1l1-1.3l2 0.1l1-0.9l1 0.4l1-1.4l1 0.4l1-0.6l1 0.5l2-3.2l2 1.5l3-2.1l1-0.3l1 0.8l1-1.5l1 0.9l2-2l1 0.9l1-1.1l1 0.7l2-2.1l2 0.1l1-0.9l3-0.6l1-0.8l1 0.9l3-2.3l1 0.7l2-2.4l3 0.3l2-1.1l2-2l1 0.7l2-0.8l2 0.4l1-1.7l1 0.7l3-1.8l6-1.6l1-1.5l1-0.3l1 0.6l3-0.7l3-1.2l1-1.4l1 0.4l2-1.8l1 0.6l1-1.1l1 0.9l2-1.2l1 0.2l1-1l2-0.2l1-0.8l3-0.2l2-1.1l1-1.6l1 0.5l3-1.9l1 0.5l1-1l1 0.5l1-1l1 0.2l1-1.1l2 0.1l1-1.2l1 0.7l3-2l1 0.5l1-1l2 0.3l3-2.3l3 0l1-1.8l2 1l2-2.3l1-0.2l2 1.4l1-2.1l1 0.8l3-2.6l2 0.2l1-0.7l1 0.5l2-1.5l2-0.7l1 0.2l1-1.4l1 0.3l2-2l1 1.4l1-0.9l7-2.6l1 0.6l1-1l2 0.2l1-1.6l2-0.9l2 0.6l2-1.9l2-0.1l1-1l3 0.4l1-1.5l2-0.5l3-2l2 0.9l1-0.2l1-1.3l1 0.8l1-1.5l1 0.3l2-1.5l1 0.6l1-1l2-0.3l1-1.2l1 0.3l1-0.5l2-1.7l3-0.4l2-1l1 1l1-1.5l1-0.4l2 0.1l1-1.1l1 0.8l1-2l2 0.3l2-0.7l1-1.3l1-0.2l1 0.4l3-1.5l2-0.2l1-1.1l2 0.4l1-0.8l2-0.2l2-1.6l2 0.1l1-1.5l1-0.3l1 1l1-1.3l2-0.9l1-1l1-0.1l1 0.9l1-1.2l1 1.1l2-2.2l1 0.6l2-1.4l1 0.8l1-1.4l3-1.6l1 0.5l1-1.3l2 0.4l3-2.5l1 0l1-0.8l1 0.7l1-1.4l1 0.4l1-1.4l1 1l1-1.3l2-0.4l1-1.3l3-0.4l1-1.4l1 0.8l1-1.2l5-0.9l2-1.9l1-0.1l3-1.9l1 0.1l2-1.3l1 0.2l3-3.8l1 0.6l2-1.2l1-1.4l2 0.5l2-2.2l2-0.6l1-1.7l1 1.1l1-1.6l1 0.3l1-2l1-0.3l1-1.6l1 0.4l1-0.5l4-4l2 0.4l2-2.4l4-2.4l2-0.5l1 0.5l1-1.5l1 0.9l4-1.2l1 0.2l4-1.8l3 0.3l1-1.3l2 0.3l3-1.2l2 1.1l2-0.2l1-1.1l1 0.3l1 1.3l2-1.4l2 0.4l1-0.6l2-0.1l2-1.2l3-2.2l1-0.2l2-2.4l3-1.7l6-7.1l1 0l1-2.2l3-2.5l2-3.6l2-1l3-4.2l5-4.5l1-1.9l2-0.7l1-2.6l1-0.2l1-1.8l1-0.1l1-1.4l1-0.3l4-5l2-0.7l3-3.8l1 0.1l12-15.9l1-2.5l1-0.1l4-6.7l1-0.3l5-7.1l1-0.1l1-2.7l2-0.7l1-2.8l1 0.1l5-6.8l1 0.2l4-4.7l3-2.1l2-3.3l1 1l2-2.5l2-0.8l1-2.2l2-1.8l2-0.9l1-1.2l2-0.2l1-2.1l1-0.2l2 0.9l3-2.2l3-0.8l1-1.6l1 0.7l2-0.4l1-1l3 0.4l2-1.8l1 0.3l3-0.9l1-1l1 0l4-28.4l3-8.5l1-55.6l2-0.5l1-0.9l2 0.6l1-2l2 0.2l1 55.3l1 2.4l1 7.1l5 53.5l4 24.2l1 3.7l4 8.4l1 0.3l1-0.6l4 3.5l2-0.5l1 1.2l1-0.9l2 0.7l2-0.8l2 0.5l1-0.7l3-0.5l1-0.9l1 1.2l1-1.6l1 0.2l2-1.7l1 0.5l2-0.8l1 0.4l4-2.1l2-0.3l1 0.7l1-1.7l2-1l1 0.8l2-1.4l1 0.5l1-1.6l1 1.3l1-1.4l1-0.4l1 0.5l4-2.5l1 1.2l1-1.7l1-0.5l1 1l1-1.3l1 0.7l0 26.6l-652 229.9z"/>
<path transform="translate(729.3,1243.4)" fill="url(#a4)" d="M0,-68.9l3-2.3l5-8.8l2-1.4l1-3.4l1-0.9l4-7l8-17.3l1-0.9l2-5l1-1.2l3-7.5l1-0.7l1-3.5l2-3.5l2-5.5l2-2.6l1-2.5l1-1.1l1-0.3l1-3.1l3-4.7l4-3.1l1 0.5l1-88.5l4-1.1l1-1.3l2 1.1l2-1.1l1 86.9l1 3.4l1 7.3l4 42.4l3 21l0 59.6l-71 25z"/>
<path transform="translate(729.3,1243.4)" fill="url(#q4)" d="M71,-84.6l1 5.8l3 9.5l3 4.7l4 2.4l2-0.2l1 0.7l7-0.8l1 0.5l2-0.1l2-1.2l2-0.3l1 0.4l3-1.5l1 0.4l1-0.8l1 0.2l1-1.2l2 0.5l3-1.8l3 0l4-2.5l1 1.3l1-1.4l1-0.1l1-1l2-0.1l3-2.1l1 0.3l3-1.5l1 0.5l1-2.8l1 1.8l1 0.1l1-1.8l1 0.9l1-0.7l2 0.5l2-1.6l1 0.5l4-2.3l1-0.3l1 0.4l1-1l3-0.5l2-1.8l1 0.7l3-2l1 0.5l2-1.9l1 0.5l2-1.4l4-0.5l1-1.5l1 0.9l2-1.7l1 1.5l1-1.9l1-0.4l1 0.4l2-1.3l3-0.6l5-2.2l1 0.9l2-3.3l1 1.3l1-1.1l1 0.7l2-1.4l1 0.4l1-0.8l1 0.1l2-1.6l3-0.1l2-2l1 1.2l1-1.4l1 1l3-2.5l2 0.2l4-2.5l1 0.4l3-2.4l2-0.2l1 0.7l1-1.2l1 0.7l1-1.9l1-0.2l1 1.2l1-0.3l1-2.3l1 1.2l3-1l3-2.1l1 1l4-2.2l1 0.6l1-2.3l2 0.3l1-1.2l1 0.3l1-0.9l1 0l1-1.5l1 1.6l3-1.1l1-2.2l1 1l3-1.5l1 1.1l1-1.9l2 0.4l3-2.3l1 0.6l1-0.8l1 0.4l3-2l1 0.3l2-1.5l1 0.9l1-0.9l2-0.4l1-1.3l3-0.1l2-1.9l1 0.7l1-1.4l2 0.7l1-1.4l1 0l1-0.8l1 0.8l3-2.4l1 1.2l1-2l2 0.8l1-1.3l3-1.3l3-1l1 0.6l3-1.7l1-1.4l1 1l2-0.3l4-2.4l1 0.3l1-1l2-0.6l1 0.6l1-0.2l1-1.3l2-0.3l2-1.5l1 0.4l1-0.8l1 0.4l4-2.6l4-1l1 0.5l2-1.5l2-0.1l1-1.2l1 1l3-2.8l2 0l1-1.1l1 1.1l2-1.7l1 0.2l3-1.6l1 1.3l2-2.6l2 0l1-1.1l1 0.4l1-0.6l1 0.1l4-1.8l2-0.1l1-1.4l1 0.4l1-1.4l4-0.2l1-2.2l1 0.5l2-0.3l1-1.5l2 1l1-1.6l1 0.2l1-1.1l1 1l1-1.6l4-1.3l1-0.9l1 0.2l1-0.8l2-0.3l1-1.4l2 0.2l2-1.5l1 0.2l3-1.8l3-0.7l1-1.1l1 0l4-3.4l5-1.9l2-2.5l1 0.3l4-2l2-2.2l1 0l1-1.6l4-1.9l3-2.2l1-1.5l1 0.3l1-1l2-0.3l1-2l1 0l2-1.6l2 0.4l1-0.8l1 0.7l1-1.1l1 0.4l3-1l2 0.1l1-1l1 0.3l2-0.6l1-0.9l2 0.2l1-1.4l3 1.2l1-0.1l2-1.7l1 0.3l1 1.3l1-1l2 1l1-0.7l3 0.2l2-0.5l1-2.1l1 0.5l3-2.6l1 0.2l1-2l1 0.7l5-5.9l2-1.4l3-4.5l1-0.3l1-2l1 1l3-4.4l3-2.1l3-5.2l1 0.5l1-2.4l1-0.4l1-1.9l2-1.6l1 0.2l1-2.6l1 0.6l1-2.2l1-0.3l2-3l4-2.8l2-3.4l1 0.3l3-3.8l1-0.5l1 0.5l1-3.4l1 0.3l1-1.2l4-6.1l1-2.6l1 0.3l5-8.7l1-0.4l5-7.5l1 0l1-2.1l1 0.6l4-6.2l2-0.9l1-3l1-0.3l1-3.2l1 1l1-0.1l1-2.4l4-3.3l1-0.2l2-2.9l2-0.4l4-5.3l1-0.2l2-2.4l4-2.9l1 0.4l2-1.6l1 0.8l2-1.7l1 0.4l2-1.1l2-0.2l2-2.2l1 1.5l1-1.3l3-1.2l2-0.1l2-1l1 0.8l2-2.9l1 0.3l1-0.8l4-27.9l2-6.2l1-1.4l1-40.6l2-0.3l1-1.7l2 0l1-0.6l1-1.9l1 0.9l1 40.6l2 8.6l6 62l3 16.3l1 3.7l3 6.4l2 2.9l1-0.1l3 2.9l4-0.6l1 1l3-0.3l1 0.4l2-1.1l1 0.7l2-2l1 0.8l2-1l1 0.5l2-1.3l2-0.1l2-1.1l3-0.5l1 0.4l3-2.5l2 0.6l1-0.7l2-0.3l1-1.5l2 0.9l1-1.5l1 0.4l3-1.4l1 0.4l2-2.1l1 1l1-1.6l1 0.7l4-2.3l0 27.9l-651 229.6z"/>
<path transform="translate(737.9,1248.5)" fill="url(#a4)" d="M0,-67.9l2-3l1 0.1l2-4.6l1-0.7l4-6.6l1-0.7l2-4.7l3-3.9l9-18.2l5-12.1l3-5l2-5.5l7-12.8l2-1.8l1-2.5l2-2.6l5-3.4l1-75.2l4-1.3l1-1.5l1 1.1l2-1.4l1 76.3l1 1.5l1 6l5 52.4l2 12.6l0 60.4l-71 25z"/>
<path transform="translate(737.9,1248.5)" fill="url(#q4)" d="M71,-85.4l3 13.1l1 1.3l1 3l4 4.7l1 0l2 1.5l4 0.4l1-0.6l4 0.6l1-1l4-0.2l1-0.9l1 0.4l1-1.2l1-0.1l1 1.1l2-2.9l1 0.9l1-0.8l2 0.5l1-0.7l3-0.5l1-1.2l1 0.4l2-1.2l1 0.8l1-1.4l1 0.8l1-0.7l1-1.6l1 1.5l1-1.4l1 0.9l2-2.3l1-0.6l1 0.3l2-1.7l1 0.6l1-0.6l1 0.6l1-1l1 0.1l2-1l1-1.3l1 0.5l2-1.1l1 0.9l1-0.5l1-1.7l2 0l2-1.6l1 1.2l6-3.6l1 1l1-1l3-0.1l2-1.7l3-0.8l1-1.1l1 0.4l1-0.6l2 0.8l2-2.2l4-0.4l1-1.5l1 1l3-2.9l1-0.2l1 0.7l1-1.6l1 0.9l2-1.1l1 0.5l2-2l1 0.8l1-1.5l1 0.6l1-1.5l1-0.4l1 0.8l1-0.3l1-1.2l3-0.4l1-1.5l1 0.6l1-0.4l1-1.3l3-0.3l1 0.4l9-3.7l1 0.4l1-1.9l1 1l1-1.4l1 0l1-1.2l1 0.4l4-1.1l2-1.7l3 0.1l1-1.3l1 1.1l1-1.2l3-1.2l1 0.3l1-0.8l1 0.4l1-1l1 0.3l1-1.1l1 0.3l1-1.5l1 0.3l1-0.7l1 0.5l5-2.1l1-1l1 0.6l1-1l1 0.6l1-1.5l2-0.2l5-2.2l1 0.8l1-2.3l1 0.6l4-1.4l1-1.1l1 0.7l1-1.3l2 0.2l1-0.7l1 0.1l1-1.1l1 0.2l1-1.2l1 0.8l1-2l1-0.2l2 1l1-1.1l3-0.8l2-1.8l1 1.1l1-0.9l1 0.3l2-1.7l6-1.2l1-1.3l1 1l2-2.2l1 0.5l4-2l1 0.1l1-1.9l1 0.7l1-0.6l2 0.5l1-1.2l6-2l1-0.9l2 0.4l5-3.2l1 1l2-0.5l2-1.8l1 0.5l1-0.5l1-1.1l1 0.2l2-1.9l4 0l1-1.4l1 0.7l1-0.7l1 0.4l1-1.3l2-0.4l1 0.8l1-2.2l2 0.3l2-1l1 0.1l1-0.7l1 0.4l1-1.7l1 1l1-1.3l3-0.8l2-1.3l1 0.1l5-2l1 0.2l1-2.1l1 0l1 1.2l1-1l5-2.7l2 0.2l4-2.6l4-0.6l1-1l1 0l1-1.3l2 0.2l1-1l1 0.7l1-1.9l1 0.6l1-1.6l1 0.8l2-0.5l3-2.1l1-0.1l2-2.5l2-0.1l3-2.4l1 0.8l2-3l2 0.3l1-1.7l1 0.5l6-5.3l3-0.8l1-1.5l2-1l1 0.2l1-1.4l1 0.2l8-6.1l2 0.2l1-1l1 0.8l1-2l1 0.6l1-0.6l1 1.2l4-1.9l1 0.2l2-1.3l1 0.7l2-1.1l2-0.2l1-1l2 0.6l1-0.5l5 0.2l2-0.6l1 0.8l2-0.7l1 0.5l3-1.1l1-1.5l1 0l1-1l1 0.4l2-2.9l1-0.6l1 0.2l2-3.8l1 0.4l1-0.7l3-4.7l1-0.2l3-3.9l6-5.1l2-3.1l1-0.1l3-4.8l1 0.4l1-2.3l2-1.4l1-1.9l2-0.7l2-2.8l3-1.8l1-2l1-0.1l1-1.8l1-0.4l2-3.6l1 0.5l2-2.9l1 0.2l3-3l1-2.6l4-4.6l5-8.1l1-0.3l5-8.2l1-0.2l1-2.4l1 0l1-1.9l4-4.3l1-2.2l3-2.1l1-1.8l4-4l1-2.2l2-0.6l1-1.4l1 0.4l2-3l1 0.6l3-4.3l1-1.1l1 0.7l2-2.9l1-0.3l1-2l4-2l2-0.2l1-1.1l3 0l8-3.6l1 0.4l1-0.8l1-1.9l2 1.5l3-2.6l1 0.3l1-0.8l1 0.6l1-1.7l4-28.4l1-3.9l2-3.4l1-58.5l1-0.1l2-2l4-1.2l1-1.1l1 58.7l1 2.8l1 6.1l5 55l2 14.6l2 9.9l4 10.5l5 3.2l2 2.2l2-0.4l1-0.7l1 0.5l2-0.5l2 0.7l1-0.8l1 0.2l2-0.9l1 0.7l3-1.6l3-0.7l2 0.4l1-0.8l1 0.3l1-1.3l2 0l1-0.9l4-0.6l1-1.3l1 1l1-1.8l2 0.4l1-1.1l1 0.5l1-0.7l1 0.9l1-1.7l3-0.6l1-1.3l1 0.7l1-1.2l2 0.4l2-1l1-1.1l1 0.5l0 27l-651 229.6z"/>
<path transform="translate(746.4,1253.6)" fill="url(#a4)" d="M0,-67.7l5-5.6l2-4.5l1-0.4l1-2.5l5-7.5l1-2.7l2-2.2l5-11.2l3-5.2l1-3.4l1-0.2l3-8.2l2-2.9l3-7.5l6-11.4l5-7.7l1 0.1l1-1.5l1-0.5l1-1.8l1 1.2l1-2l1-67.8l2-1.1l1 1.3l1-1.7l1 1.2l2-2.3l1 0.6l1 66.6l1 2.1l1 5.6l4 41.5l3 23.2l0 61.1l-71 25z"/>
<path transform="translate(746.4,1253.6)" fill="url(#q4)" d="M71,-86.1l2 9.5l2 5.7l2 3.5l1 0.5l1 2.4l2 1.9l1 0.4l2-0.4l1 1l1-0.1l1 0.7l2-1.6l2 0.5l1-0.5l1 1.1l3-2.2l1 1l1-0.7l2-0.1l1-1l1 0.4l2-0.7l1 0.3l1-1.4l5-0.9l1-1l2 0.8l1-1l2-0.1l1-1.2l1 0l1-1.3l2 0.8l2-1.5l1 0.3l1-1.4l1-0.3l1 0.4l3-0.7l4-2.6l1 0.9l2-1.6l1 0.5l3-1.9l2 0.4l1-1.9l1 1.2l2-1.7l2-0.2l3-1.5l2 0.2l1-1.3l4-0.2l1-1.3l3-1.4l1 0.2l2-0.7l1 0.4l2-2.3l2 0.8l1-1.2l2 0.2l1-1.8l2 0.2l2-1.8l3-0.6l2 0.3l1-1.1l2-0.1l3-2l3 0l1-1.9l1 1.9l1-1.6l3-1.5l1 0.4l2-1.8l1 0.6l2-1.6l1 0.3l3-1.9l1 1l1-2.1l1 1.5l3-1.2l1-1.5l2 0.4l2-1.3l1 0.3l1-1l2-0.1l2-1.7l2 0.4l1-1.1l1 0.2l1-1.2l1 0.8l2-1.7l1 0.6l2-2.2l3 0l2-1.3l1 1.3l4-3.6l3 0.2l2-1l1 0.8l1-1.3l4-1.8l1 0.2l2-1.6l1 0.8l3-1.7l1-1.2l3 0.3l2-1.8l2 0.1l1-0.6l2 0.6l1-2.1l1 0.7l1-1l1 0.6l1-1.9l3 0.2l1-1.8l2 0.6l2-0.9l2-1.8l1 0.8l2-1.7l1 0.7l1-1.3l1 0.5l2-0.8l1-1.3l1 1.1l2-2l2 0.6l1-1.2l1 0.4l1-0.4l2-2.2l1 0.3l2-0.7l1 0.8l1-2.1l1 1.7l1-1.5l2-0.6l1-1l4-0.7l1-1.8l1 1.1l2-0.4l1-1.1l2 0.2l3-2l1 0.9l1-1.4l1 1l2-2.9l1 0.6l1-0.5l1 0.9l1-1.6l1 0.3l1-1.1l2 0.1l1-1.3l2 0.1l2-2.3l1 1.2l1-1.1l2-0.9l1 0.7l1-0.5l1-1.4l3 0.1l1-1.2l1 0.1l1-0.7l5-0.7l1-1.9l1 1.6l1-2.1l1 1.3l3-2.7l1 1.2l1-2l6-1l2-2.2l1 0.4l1-0.7l1 0.6l2-2.1l1 0.1l2-1.2l1 0.1l3-1.6l2 0.4l1-1.7l1 0.1l1-1.2l1 0.5l1-0.6l1 0.5l5-3.2l1 0.9l2-2.4l1 0.9l1-1.1l1 0.1l1-1.9l1-0.5l1 1l1-2.2l2-0.4l1-1.2l1 0.2l1-1.2l4-1.8l2-1.9l1-0.3l1-1.6l3-1.2l1-1.6l1-0.4l1 1.1l2-2.1l1-0.1l1-2.5l2-0.1l3-2.8l1 0.2l4-3.2l1 0.4l1-0.9l1-0.1l1 0.6l1-1.7l1 1.2l3-1.6l1 0.4l2-0.7l1-1.8l1 1.6l2-0.5l1-1.1l2 0.6l3-1.9l1 1.1l1 0.2l1-1.3l1 0.8l2-0.7l2 1.1l2-1.1l1 1.2l1-1l1 1.2l1-0.6l1-1.7l2-1.3l1 0.3l1-1.2l1 0.8l2-2.7l1 0.3l4-5.2l6-5.6l1-2.4l1-0.3l1-1.3l1 0l3-4.8l1-0.6l1 0.1l4-5.8l2-1.4l4-4.7l2-0.8l1-2.3l1-0.2l2-3l2 0.4l2-4.5l1 0.4l1-1.8l3-1.9l1-2.3l2-2.2l2-0.6l2-3.5l1-0.4l1-2.6l1 0.4l1-3.1l7-9.3l1-2.5l1-0.4l2-3.9l2-1.3l1-1.9l4-4l2-3.5l3-3.3l2-1.3l2-2.8l1-0.3l3-3.1l1 0.7l1-2.8l8-6l2-3l2-1.4l1 0.1l1-2.1l1 0.9l4-1.7l1-1.2l2 0.2l1-1.3l1 0.3l4-1.1l5-2.1l1-1l1 0.7l3-0.6l1-1.5l2-0.8l1-2.7l2-14.1l2-8.9l2-49.8l1-2.3l3-1.6l2 0.5l3-1.8l1 1.1l2 55l5 50.6l2 13.6l3 13.3l4 8.3l1-0.4l4 2.8l1-0.5l1 1.8l2-1.6l1-0.2l1 0.7l2-0.3l1 1l1-0.4l1-1.6l2 0.6l3-1.1l2 0.1l2-1.4l2-0.7l1 0l1 0.9l1-1.7l1 1.2l1-1.5l2 0.2l3-1.7l1 0.4l1-1.6l1 0.4l6-2.3l1 0.3l2-1.4l2 0.1l1-1.4l2 0.2l2-1.3l1 0.8l1-1.9l1 0.7l0 27l-651 229.6z"/>
<path transform="translate(755,1258.7)" fill="url(#a1)" d="M0,-65.9l1-2.6l2-2.1l2-4.3l1 0.5l3-6.1l1-0.1l7-13.7l1-0.9l3-5.3l8-16.7l1-4l1-0.6l7-14.9l2-2.7l5-9.5l3-2.3l1-1.6l3-1.6l1-73.8l2-1.5l1 0.4l3-1.8l2-0.2l1 72l2 7.8l5 50.2l2 14.2l0 62.1l-71 25z"/>
<path transform="translate(755,1258.7)" fill="url(#q1)" d="M71,-87.1l3 12.7l3 7.6l1 0.6l1 2.4l1-0.5l4 2.5l6 0.2l1-0.9l1 0.6l1-0.5l1 1.2l1-1.8l1 0.4l1-0.9l1 0.1l2-1.1l1 0.8l2-1.9l1 0.9l1-0.7l1 0l1 0.9l1-1.9l3-0.1l1-1.5l1 0.4l2-1.1l1 0.5l1-1.7l1 0.8l1-0.9l4-0.1l1-1.2l1 0.8l2-1.7l1 0.1l2-1.5l1 0.5l2-1.6l1 0.5l2-1.3l2 0.3l3-2.4l2 0.7l3-2.2l3-0.4l4-2.2l1 0.5l3-1.9l3 0.6l1-2.1l1 0.7l1-0.9l1 0.2l1-1.6l2 0.2l2-0.6l2-1.1l1 0.1l1-1.4l2 0.3l3-2.1l2 0.7l2-1.5l3-1.2l1 0.6l1-0.3l3-2.6l1 1l2-2l1-0.3l1 0.7l3-1.9l2 0.8l1-1.2l2-0.1l1-1l3-1.2l1-0.3l1 0.8l1-1.3l1 0.5l3-2.5l4-1.1l1-1.3l2 1.3l4-2.5l3-0.3l1-1.9l2 0.8l2-0.9l1 0.8l1-2.3l1 0.5l4-2.6l1 0.8l1-0.9l2 0l1-0.7l2 0.2l1-1.7l1 0.3l3-2l3-0.5l2 0.5l3-2.4l1-1.6l1 1.4l1-1l1 0.1l1-0.8l1 0.5l2-1.8l1 0.9l4-2.6l2-0.6l1 0.7l2-1.5l2 0l4-2l1 0.6l1-1.1l1 0.3l5-2.9l1 0.4l1-1.2l1 1.4l1-1.7l3-0.3l1-1.6l1-0.1l1-0.9l4-0.3l3-1.2l1-1.1l1 1.1l1-1.1l3-1.4l1 0.5l1-1.6l2 0.3l1-1.4l2 0.9l2-1.6l2 0.1l2-1.7l1 0.4l1-1.8l1 1.2l2-2.7l3 0.2l2-1.6l1 0.5l3-0.7l1 0.6l2-2.2l1 0.9l1-2.3l1 0.7l1-1l1 0.2l1-1l1-0.3l1 0.6l2-1.4l2 0.3l3-2.4l3 0.1l2-0.7l1-1.4l1 0.4l3-1.8l1 0.4l3-1.9l1 0.8l3-2.4l2 1l1-1.5l2 0.2l1-1.3l1 0.3l2-1.2l3-0.3l1-1.7l1-0.5l1 1l1-1.8l3 0.1l2-2l2-0.1l3-2.2l1 0.9l3-2.1l2 0.4l1-1.5l3-0.5l3-1.5l2-1.7l1 0.4l1-2l3-0.7l2-1.9l1 0l1-2.1l1 1l1-1.9l1 0.5l1-1.5l3-1.3l3-2.3l2-0.4l3-2.9l1 0.1l1-0.9l2-0.4l2-2.5l2 0.1l1-1.8l1-0.6l1-2.4l1 1l1-0.5l1 0.6l3-2.5l1 1.3l2-1.3l3-0.2l1-1l1 0.9l2-1.3l1 0.8l1-1.5l2 0l1-1l1 0.4l2-0.8l1 1l3-0.8l1 1.3l1-0.6l1 0.7l1-2.1l2 1.3l3-0.7l1 0.2l2-2.2l2 0.5l2-3.4l2 1l1-2.5l1-0.3l2-2.8l1 0.7l1-2.8l1-0.9l1-0.1l1-2.1l1 0.5l1-3.5l1 0.9l4-5.1l3-2.1l5-7l2-1l1-1.6l1-0.1l3-4.7l1-0.1l2-2.8l1 0.4l2-3.1l1-0.1l2-3.1l2-1.1l1-1.7l2-1.1l3-3.8l2-1.5l6-8.7l2-1.8l7-11.7l1-0.2l2-3.5l2-0.7l3-6l1 0.4l2-3.1l1 0l1-2.2l7-6.1l1-2l1 0.7l1-2.1l2-0.9l2-3.3l4-2.9l4-4.1l1-0.3l1-1.7l3-1.2l4-0.8l1-0.8l3-0.5l2-1.4l3-0.4l1 0.6l1-1.9l1 0.2l3-1.3l1 0.6l1-1l4-1.4l1-2.6l4-28.3l2-122.9l2-4l2-0.3l1-1.4l3 0l1-1.3l1 3.6l2 120.8l1 20.1l5 49.8l4 19.1l1 1.2l2 4.7l2 2l3 1.9l2 2.4l2-1.3l6 0.3l1-1.5l1 0.9l1-0.8l2 0.4l3-0.9l1 0.3l1-2.3l1 0.8l1-0.4l2 0.3l4-2.8l2 0.5l2-0.9l1 0.3l1-1.5l4-0.2l1-1.2l2-1l1 0.2l5-1.7l2-1.8l1 1.3l1-0.3l1-1.8l1 0.8l1-0.7l1 0.1l0 27.1l-651 229.6z"/>
<path transform="translate(763.5,1263.8)" fill="url(#a1)" d="M0,-66.3l2-3.6l2-1.6l3-4.3l6-9.5l2-4.4l2-2.1l1-3.3l5-8.5l1-3.4l5-9.1l5-12.2l6-10.2l1-3.1l1 0.1l3-6.6l3-3.2l4-2.6l1-83.9l1-0.2l2 0.8l1-1.2l1 0.5l1-1.1l3-0.8l1 83.9l2 11.9l4 41.5l2 14.5l0 63l-71 25z"/>
<path transform="translate(763.5,1263.8)" fill="url(#q1)" d="M71,-88l2 10.2l3 9.1l3 3.5l2 1.7l3 1.5l1 1.2l1-1.5l2 0.7l2-1.1l1 0.6l3-0.3l1 0.4l1-1.2l2 0.1l3-1.3l1 0.4l1-0.2l1-1.3l1 0.5l1-0.9l1 0.7l1-1l1 0.3l2-2.2l1 0.6l1-1l1 1l1-1.1l1 0.5l2-1.3l3 0.1l1-1.3l2 0l1-1.1l1 0.1l2-1.1l1 0.6l4-2.1l2 0l1-1.2l1 0l1-0.9l2 0l3-2.1l2 0.6l1-1.4l2 0.1l1-1.9l3 1l1-1.7l2 0.2l1-1.1l1 0.2l5-2.4l5-1.4l1 0.6l2-1.9l1 0.4l1-1.4l1 0.9l1-1.3l2 0.3l1-1l3-1.1l1 0.5l1-2.3l2 1l2-2.1l1 1l1-1.3l1-0.3l2-0.2l1 1l3-3l1 0.8l1-0.9l1 0.1l2-1l1 0.3l1-1.2l3-1.6l4-0.9l2-1.2l1 0.4l2-0.5l1-1.2l4-1.2l1 0.7l1-1.5l1 0.4l4-2.7l1 1l4-2.2l3 0.2l1-1.7l2-1.2l2 0.8l2-1.7l1 0.2l1-0.6l1-1.3l2 0.5l2-0.9l1 0.1l1-1.3l3-0.2l2-1.6l1 1l3-2.1l1 0.6l2-1.8l1 0.6l1-1.3l1 0.4l1-0.7l1 0.1l2-2.4l1 0.9l3-1.4l1 0.3l2-2l2 0.6l1-0.3l5-2.7l1 0.6l4-2.2l4-0.6l2-0.6l1-1l1 0.5l1-0.3l1-1.1l1-0.2l1-1.8l1 1.8l1-1.7l2-0.5l1 0.8l2-1.7l1 0.9l2-2.6l1 0.7l2-2l2 0.7l2-1.7l1 0.6l1-1.2l1 0.5l2-1.8l2 0.4l3-2.4l1 1.4l4-2.8l2 0.6l1-2.2l2 1.3l1-0.8l1 0.3l2-1.7l2 0.1l1-1.6l2-0.2l1-1.3l1 0.7l2-1.7l1 0.7l3-0.9l2-1.8l3 0.9l3-2.8l1 0.6l1-0.8l1 0l5-2.1l1-0.8l3-0.4l1-1.4l1 0.4l2-1.5l2 0.4l1-1.4l1 0.2l2-1l1 0l1-1.2l1 0.7l1-1.8l1 1.3l1-0.3l2-2.3l1 0.8l2-2.4l2 0.5l4-2.3l1 0.9l1-1.2l1 0.7l2-2.7l1 0.5l1-0.8l2 0.4l4-2.7l6-2.2l2-2.3l2-0.6l1-1.4l1 0.2l2-2l2 0.2l1-1.8l1 0.5l1-0.5l1-1.6l3-1.5l1-1.6l1 0.2l3-1.7l1-2l1 0.5l1-0.4l2-2.4l1 1.3l1-2.6l1 0.8l1-2l1 0.3l3-2.5l2-0.7l1 0.4l3-0.4l1-1.9l1 1.4l2-1l2 0l1-1.2l3-0.4l1-1.4l1 1.4l2 0l1-2l1 0.9l1-0.9l2 1.2l1-0.9l3 0.4l2-0.9l4 0.9l1-0.9l2-0.5l6-4.9l2-0.9l9-9.2l1-1.9l1-0.5l3-4.2l1-0.3l3-3.6l2-0.8l2-3.7l1-0.4l3-3.5l1-0.4l2-3.2l1 0.4l1-2l1-0.1l1-1.7l1-0.1l2-2.4l1 0l1-2.9l1-0.9l1 0.6l2-3.5l3-1.6l2-3.2l1 0.2l3-5.5l2-1.9l2-4.1l2-1.1l1-1.3l1-3.9l1 1l1-3.3l1-0.4l3-3.9l1-2.5l2-1.1l1-1.8l3-3.4l1-0.4l1-2.6l2-2.6l1-0.1l3-3.7l3-2l1-1.9l2-0.9l3-2.9l1-1.8l1 0.7l3-4.3l1 0l2-2.4l5-3.5l1-0.5l1 0.4l3-1.6l3 0l1-1.6l1 1.1l1-1.8l1 0.6l3-1.7l1 0.2l4-2.5l1 1.3l2-2.1l1 0.1l2-1.7l1-2.1l3-19.3l3-256.3l1-5.4l3-0.4l1-1.6l2 1.5l2-2l1 5.6l3 265.8l4 41.4l3 19l3 9.9l1 1l1 3l2 2l1 0.2l1 1.8l1-0.2l1 0.8l2-0.4l1 0.8l2-0.8l4 0.8l1-1.4l1 0.9l1-0.9l5-0.8l2-2l1 1l1 0.1l1-0.9l1 0.5l1-1.6l1 1l1-0.8l1 0.4l2-1.8l1-0.4l1 0.3l1-1.6l1 2.1l4-3.2l6-0.8l1-1.8l1 1.4l1-2l1 0.9l3-2.7l1 0.9l3-0.3l0 26.6l-651 229.6z"/>
<path transform="translate(772.1,1268.9)" fill="url(#a1)" d="M0,-65.9l5-7.4l1 0.1l4-7.8l1-0.5l3-6.5l3-4l9-18.3l2-5.6l1-0.7l2-5.2l2-2.8l2-5.2l4-6.7l2-5.1l1-0.6l4-5.9l4-4.5l2-0.5l1-80.6l2 0.3l3-3.1l1 1.7l3-2.6l1 80l2 10.2l4 42.9l3 20.5l0 58.4l-72 25.4z"/>
<path transform="translate(772.1,1268.9)" fill="url(#q1)" d="M72,-83.8l2 8.9l3 7.6l3 3.3l1-0.1l2 2l6 0.9l1-1.3l3 0.2l1-0.5l1 0.5l1-1.3l1 0.8l2-0.8l3 0.7l1-1.6l1-0.7l1-0.2l1 0.9l1-2.1l2 0.5l2-1.3l3-1l1 0.8l1-1.6l1 1.1l1-1.6l1 0.4l1-1.2l3-1.1l1 0.6l2-0.6l1 0.8l1-1.9l3-1.4l4 0l1-1.8l1 0.7l2-1.4l2-0.5l1 0.6l1-1.2l2-0.4l1-1l3-0.2l2-1.5l2 0l1-1.4l5-1l1-1.7l3 1.1l1-0.9l3-0.6l1-1.3l1 0.3l3-0.8l2-1.7l2-0.3l1-1l1 0.5l1-1l2 0l1-1.3l2 0.1l3-1.6l5-1.1l2-1.9l3 0.6l2-1.4l1 0.7l3-2.5l2-0.3l1 0.6l1-1.6l2-1.3l2 0.6l1-1.1l1 0.3l1-1.3l4-0.1l1-1.3l2-0.1l1-0.9l1 0.6l3-2l2-0.4l2-1.7l1 0.7l2-1.1l1 0.2l2-1.8l1 0.5l2-0.6l1 0.2l2-1.8l1 0.3l1-1l2 0.1l1-1.3l2-0.1l1-1.2l2 0.3l3-2l2-0.6l1 0.6l1-2.3l1 1l2-0.1l1-1.8l1-0.3l1 1.4l1-1.1l1 0.4l1-1.1l1 0l1-1.1l2-0.6l1 0.8l1-1.3l1-0.1l2-1.5l1 0.3l7-3.1l6-1.8l1 0.7l1-1.2l3-1.3l1 1.1l2-1.9l3-1.4l1 0.7l1-1.4l2-0.7l1-1.2l1 0.7l2-0.4l3-1.9l1 0.6l1-0.3l1-1.2l2-0.3l1 0.5l1-1.7l1 1.7l3-2.6l5-1.3l1-1l1-0.2l1-1.8l1 1.1l1 0.2l1-0.9l2-0.3l1 0.4l1-1.7l2-1.2l2 0.5l1-1.4l1 0.9l4-2.2l1 0.5l1-0.3l1-1.5l1 0.6l2-2.4l2 1.2l1-1.4l1 0.3l6-3l1 0.3l1-0.7l2-0.1l1-1.8l2 0.5l1-1l2 0.4l1-1.6l1 0.8l4-2.4l1 0.7l2-1.7l1 0.7l3-1.7l1-1.2l1 0.1l2-1.5l1 0.9l3-2.2l1 0.8l2-1.8l3-1.6l2 0.4l3-2.4l1 0.4l1-1.2l3-0.1l1-1.3l2 0.2l1-0.5l2-1.5l1-2.1l1 1.4l2-2.3l3-0.8l3-2.8l1 0.2l1-1.9l1 1.3l4-3l1-1.6l1 0.3l1-1.1l1 0l1-2l1 0.7l3-2.8l1 0.3l1-1.5l2 0.2l2-2.5l5-2.5l1-1.7l1 0.7l1-0.3l1-1.3l1 0.4l5-1.3l1 0.5l1-1.1l4-0.4l4-2l3-0.2l1 1.4l1-1l1 0.8l1-1.5l1 0.8l1-0.6l2-0.2l3 1.1l1-1l1 1.1l1-0.5l3-3.1l2-1.2l1 0.5l1-1.5l4-2l3-4.9l1-0.1l2-2l1-2.1l2-0.9l2-3.3l2-1l2-3.8l1 0.2l1-2l4-3.3l4-4.7l2-1.3l1-2.7l1-0.3l5-4.5l1-2.1l1 0.1l1-0.9l1-2.4l1 1.3l1-3.3l1 0.4l2-1.5l2-3.3l1 0l7-9.3l1-3.2l1-0.1l5-6.4l3-5.8l3-2.7l2-3.8l1 0.3l1-2.2l1 0l1-1.5l1-0.2l3-5.6l1 1l2-3.7l5-3.6l3-3.7l1-0.1l3-4.4l1 1.6l1-2.5l2-2.7l5-2.6l2-1.6l1 0.5l1-1.1l2 0.1l1-1.1l1 0.7l1-1.3l2-0.5l1 1.2l1-2.2l1 0.4l4-2l1-1l2-0.2l1-0.6l2 0.5l1-1.4l2-0.7l1-2.2l2-13.3l1-11.6l3-320.7l1-6.4l1-1l2-0.5l5-2.6l1 6.2l3 318.9l1 27.8l1 12.2l3 26.9l2 11.6l2 8.3l4 6.9l1 1.3l2 0.9l1-0.1l4 2l1-0.8l1 0.7l2-1.1l1 0.9l1-0.5l1 0.5l1-1l1 0.4l1-0.7l3-0.3l3-1.8l1 1.2l1-0.7l1 0.1l1-1.5l1 0.6l2-0.7l1-1.4l4-0.1l2-1.6l1 0.9l1-0.1l1-1.4l1 0l1-1.1l1 0.6l2-1.3l2 0.5l3-2l2 0.4l2-2.1l4-0.7l0 27.3l-650 229.2z"/>
<path transform="translate(780.6,1274.1)" fill="url(#a3)" d="M0,-65.7l7-10.7l1-2.3l1-0.4l1-2.2l2-1.9l4-7l6-11.1l9-19.7l2-3.1l1-3l9-17.6l1 0.2l1-2.5l2-1.3l1-2.2l2-2.5l1 0.3l1-1.3l1 0.2l1-74.8l4-1.3l2-1.4l1 0.2l1-0.6l1 74.9l2 8.2l3 32.8l4 30.9l0 59.5l-72 25.4z"/>
<path transform="translate(780.6,1274.1)" fill="url(#q3)" d="M72,-84.9l2 9.4l2 4.9l4 6.6l4 0.7l2 1.2l1-0.4l3 0.5l1-1l3 1.3l1-1.2l2 0.5l2-1.6l2 0.9l3-2.2l2-0.4l1 0.5l1-1.5l1 1.5l2-1.9l2-0.3l2-1.3l4-0.7l2-2l1-0.2l1 1l1-0.2l1-1.1l1-0.3l1 0.4l2-1.3l1 0.7l1-1.4l1 0.5l1-1.6l1-0.5l1 0.8l1-0.9l1 0.7l5-3.4l2 0.4l1-1.7l1 1.6l1-2.1l2 1.2l2-1.8l1 0.5l5-3l1 0.4l1-0.9l1 0.2l2-1.9l1 1.3l3-1.9l1 0.3l2-1.7l4-0.6l3-2.3l1 1.2l1-0.9l1 0.5l2-1.2l1-1.8l1 0.8l2-0.3l2-1.9l1 0.3l2-0.9l2 0.5l1-0.9l1 0.1l1-1.1l3-1.1l2 0l1-1.3l1 0.4l3-1.7l4-0.8l2-1.2l1-1.6l1 1.2l1-2.3l1 1.3l1-1l1 0.6l1-1.3l1 1.1l1-1.3l2-0.4l2-1.6l1 1.3l1-1.9l1 0.9l1-1.3l2 0.2l2-1.8l2-0.7l1 0.4l3-1.2l1-1.1l3 0.3l1-1.7l1 0.5l2-1.3l3 0.3l1-1.4l2-0.3l1-0.9l1 0.6l1-1.2l3-1.3l1 0.3l1-0.4l1 0.9l2-2.7l1 1.4l1-1.8l1-0.4l1 1.2l3-1.8l1-2l2 0.2l1 0.6l2-2.3l1 0.4l1-0.6l1 0.8l1-1.9l1 0.6l2-1.2l4-1l1 0.4l1-1.5l2 0l1-1.6l2 0.7l3-1.4l1 0.4l2-2.1l2 0.6l2-1.8l1 0.6l1-1.6l1 0.1l6-2.1l1 0.5l3-2.6l2 0.5l1-1.6l2-0.1l1-0.8l1 0.4l1-0.9l3-0.4l2-1l2 0l2-2.2l1 0.5l2-1l1 0.1l1-1.2l1 0.6l2-1.2l1 0.6l1-1.5l4-1.3l2 0.5l3-2.6l1 0.6l2-1.8l3-0.1l1 0.7l1-2l1 0.3l1-1.5l1 1l2-1l1-1.1l1 0.5l1-1.2l1 1l3-2l1 0l1-1.2l2 0l3-1.4l1 0.4l2-1.7l2 0.1l2-1.3l1 0.1l1-1.2l2-0.5l2-1.7l2-0.6l1 1.4l2-3.3l2 1.4l5-3.3l3-0.1l5-3l1 1.1l2-2.3l1 0.2l1-1.2l1 0.4l4-3.9l1 0.7l1-0.3l1-1.8l1 1l3-2.8l1 0.7l1-2.2l3-2.4l2-0.2l2-2l1 0.7l1-1.9l3-0.9l5-4.4l2-0.7l3-2.3l1 0l2-1.6l2-0.6l1 0.5l1-1.4l2 1.2l1-2.1l1 0.7l1-0.8l4 0.3l1-0.9l2 0l1-1.4l1 1.6l2-2.1l1 1.4l2-1.6l1 0.9l2-1.3l3 1.1l3-0.2l1-0.9l3 0.2l6-4.3l1 0.9l4-5.6l2-1l2-3.9l1 0l2-1.6l2-3.2l1 0l5-6.2l2-1.2l1-1.8l1-0.4l1-2.3l3-1.6l1-3.3l5-3.7l1-2l2-0.4l2-3.6l1 0.4l2-3.8l1 0.1l2-2.3l3-1.6l1-2.5l2-0.9l3-5.4l2-1.5l1-2.5l1-0.1l1-2.5l9-12.9l1-0.3l1-2.4l4-4.2l1-1.8l1 0.1l1-2.9l2-0.9l1-2.1l4-3.2l2-2.3l1 0.1l1-2.4l3-2.3l1-0.5l1 0.3l2-4.3l2-0.3l1-1.8l2-0.7l1-1.8l1-0.6l1-2.4l1 0.4l1 1.4l1-0.6l1-1.8l3-0.6l1-1.2l1 1.1l1-1.5l1 0.4l1-1.2l1 0.4l2-1.4l1 0.6l1-1.1l2 0.2l1-1.3l2 0.3l1-1.2l1 0.1l2-1.2l1 0.6l1-389.5l7-213.9l5 0l4-1.6l1 9.3l1 70.7l2 0l1 2.2l2 154.3l1 392.7l1 8.5l3 16.1l3 7.7l3 4.1l2 1.6l1-0.4l1 1.1l1-1.4l3 1.4l1 0l1-1.1l1 1.2l2-0.1l1-0.9l3 0.8l1-1.9l2 0.9l1-0.8l1 0.6l5-3.3l1 0.9l2-1.3l1 1l6-3.1l1 0.2l1-1.4l1 0.7l2-1.1l2-0.4l1 0.5l2-2.4l1 1.1l1-0.9l1 0.3l4-2.2l2 0l2-0.8l0 27.1l-650 229.2z"/>
<path transform="translate(789.2,1279.2)" fill="url(#a2)" d="M0,-66.2l2-3l1 0.3l4-7.2l2-2.2l5-8l1-2.9l1-0.7l6-12.6l4-6.6l2-5.1l2-3.1l3-7.9l8-15.7l7-10.2l1 0.2l2-2.8l2-1.3l1-63.2l1-1.6l1 1.1l1-1.9l2 0.1l1-1.2l1 1l1-1.9l1 64.5l1 2.5l1 5.6l5 50.8l2 13.7l0 60.1l-72 25.4z"/>
<path transform="translate(789.2,1279.2)" fill="url(#q2)" d="M72,-85.5l2 9.7l3 7.1l3 3.9l2 1.4l2 0.9l2-0.4l3 0.9l2-0.4l1 0.5l1-0.8l2-0.3l1 0.5l1-1l2 0.5l1-1.6l1 0.6l3-0.4l1-1.2l1 0.3l1-1l1 0.8l2-1.1l1 0.3l1-1.4l1 0.3l1-1.1l1 0.5l1-1.2l2-0.1l4-2.2l1 0.9l2-0.9l1-1.4l1 0.5l1-0.7l3 0.1l3-1.2l2-1.1l1-1.5l1 1.1l3-2.2l3 0.5l2-1.8l1 0.8l1-0.4l1-1.4l3-0.9l1-1.4l7-0.6l2-1.4l2 0.2l4-2.6l2 0.2l1-0.9l2-0.5l1 1.3l1-2.2l1 0.5l1-1.5l1 0.9l1-1.4l5-0.8l1-1.9l2 0.6l1-2.6l1 0.9l1-0.3l3 0.3l2-2.3l2 0.4l3-2.1l1-0.3l1 0.8l1-1l2-0.4l1 0.8l1-1.9l1 0.5l5-2.8l2 0.7l3-2.4l1 0.8l2-1.9l4-0.3l1-1.6l5-0.5l3-2.5l2 0.3l2-0.6l3-2.5l1-0.3l1 0.5l1-0.9l4-0.2l1-2.3l1 0.7l2 0l3-1.6l2 0l3-1.9l1 0.4l2-0.7l1 0.3l1-1.7l3-1.1l1 0.5l2-0.4l2-2.3l2 0.4l2-2.2l1 1l4-1.6l1 0.5l3-2.2l1 0.2l2-1.8l2 1.7l1-2.3l4-1.4l1 0.5l2-1.9l2 0.4l2-0.7l2-1l1-1.2l1 0.8l3-2l3-0.8l1 0.5l1-0.9l1 0.2l1-1.6l2-0.9l1 0.4l1-0.9l2 0.3l3-2.3l2 0.5l2-1.1l1 0.2l1-1.3l1 1.9l1-3l1-0.7l2 1l1-1.1l2 0.7l1-1.6l1 0.2l2-0.9l1 0.6l1-1.7l2 0.1l2-1.8l1 1.1l1-1.3l2-1.1l1 0.1l1-1l1 0.3l1-1.2l1 0.8l2-1.8l1 1l2-0.7l2-1.7l1 0.1l3-1.3l1-1.3l2-0.7l1 0.5l2-0.2l1-1.3l1-0.3l1 0.4l3-2.1l1 0.6l3-0.7l3-1.5l1-1.3l1 1.2l3-2.7l4-0.9l1-1.1l2-0.3l4-2.3l1 1.1l1-1.9l1 0.6l1-0.5l1 0.2l1-1.5l1-0.6l1-0.3l1 0.6l1-1.4l3-0.4l2-2.2l2-0.8l1 0.1l1-1.5l3-2l3-0.8l2-2.6l1 0.4l1-0.8l1-2l1 0.5l4-3l1 0.1l3-1.5l2-2.1l1 0.1l1-2.4l1 0.9l2-2.3l1 0.3l2-2.1l1 0.5l1-2l1 0.7l1-0.9l1 0.8l1-0.4l1-1.8l1 1.2l1-1l1 0.4l2-1.3l2 1.4l1-2.1l1 0.4l1-1l2 0.5l1-1l2 0.6l2-1.3l1 0.7l4 0.1l1-1.1l1 1.3l3-1.4l1 1.8l1-1.6l1 0l1 0.8l1-1.9l1 0.7l1-1.5l2-0.6l2-2.1l2-0.5l1-2.5l1 1l2-3.6l2-1l1-2.2l2-1.1l3-4.5l1-0.1l1-1.7l1-0.4l1-1.7l2-1.6l2-3.1l1-0.2l2-1.9l1-2.6l1 0.2l3-3.6l1-0.5l4-5.4l1 0.3l6-6.8l1-0.4l1-1.3l1-0.2l1-2.2l1 0.5l1-1.8l1 0.2l1-2.5l1-0.3l1-1.2l4-6.5l3-3.5l3-5.7l1 0.4l1-3l3-3l2-3.5l1-0.6l3-4.4l3-3l1-2.4l2-0.6l3-3.8l5-4.1l1-2.6l1-0.3l2-2.1l1 0.4l1-2.4l1-0.1l1-1.3l2-0.8l3-3.8l1-0.1l3-2.7l2 0.2l1-1.3l1 0.8l1-1.6l3-0.1l2-2l1 0.3l1-1.3l1 0.8l2-0.7l2-1.2l5-1.5l3-2l2-0.3l1-1.5l3-22.7l3-315.7l1-5.6l1 0.6l2-1.8l3 0l2-2l1 5.8l3 312.1l1 28.1l5 44.4l2 9l2 5.5l3 5.5l1-0.4l1 1.1l3 1.5l1-0.1l1 1.4l1-1.5l1 1.5l1-1.3l1 1.4l1-0.9l1 0.6l2-1.5l1 1.2l1-0.3l1-1.4l1 0.8l1-1.3l3 0.4l1-0.8l1 0.5l3-2.2l3 0.6l1-1.7l2 0.4l2-1.6l1 0.6l1-0.4l4-2.6l2-0.4l2 0.4l3-2.5l1 0.6l4-1.3l1 0.2l1-1.1l1 0.2l1-1.4l1-0.1l0 27.7l-650 229.2z"/>
<path transform="translate(797.7,1284.3)" fill="url(#a0)" d="M0,-65.5l5-6.2l1-3.2l6-7.4l2-5.1l1-0.5l2-4.8l1-1.8l1-0.7l1-2.9l5-8.4l6-14l1-1.2l6-13l1-1.2l1-3l10-14.3l2-0.9l1 0.5l1-73.5l1-1.3l3 0.1l1-1.4l3-0.9l1 73.2l1 1.1l2 12.4l3 33.6l3 23l0 61.9l-72 25.4z"/>
<path transform="translate(797.7,1284.3)" fill="url(#q0)" d="M72,-87.3l2 10.5l2 5.9l3 4.6l2 2.1l1-0.4l2 1.9l2-0.3l1 1.2l1-0.7l1 1l1-0.1l1-0.9l1 0.4l1-0.8l1 0.5l2-1.1l1 1l1-1.2l2-0.3l2-1.3l4 1l2-2.7l1 1.5l2-2.2l2 0.3l5-2.7l1 1.4l1-2.3l1 0.8l7-3.1l1 0.5l1-0.4l1-1.3l1 1.5l2-1.9l3-0.2l1-1.2l1 0.5l2-1.5l1 0.2l1-1l2 0.3l1-1.1l2-0.8l1 0.7l1-1.1l1 0.1l2-1.2l1 0.5l1-0.2l3-2.7l1 0.4l1-0.9l1 0.4l4-2.4l2 0.3l1-1.1l1 0.9l2-1.3l1-1.3l1 0.7l3-0.5l2-2.3l2 0.2l2-1l1 0.1l1-1l2-0.1l1-1l1 0.3l1-1.4l2 0.5l3-1l2-0.7l2-2l1 0.4l1-1l1 0.9l2-1.8l1 0.4l1-1.4l1 0.9l1-0.8l1 0.5l1-1.4l2-1l1 0.4l1-1.4l2 0.2l3-1.4l1 0.5l2-2.6l2 1.4l2-2l3-0.1l1-0.9l2-0.4l1-1.1l1 0.1l1 1l1-1.4l1 0.1l1-1l6-1.7l2-1.2l1 0.3l1-1.4l1 0.4l2-1.5l2 0.6l2-1.5l2 0l2-2.4l1 0.8l1-0.9l2 0.3l3-1.7l2-0.2l3-2.2l1 0.4l4-0.6l1-1.8l1 1l2-1.8l1 0.7l1-0.9l1 0.2l1-1.5l1 0.6l2-1.4l4-0.5l1-1.1l1-0.3l1 0.5l3-2.6l4-0.4l1 0.5l3-3l2 0.8l2-1.8l2-0.8l3-0.9l1 0.9l2-1.8l2-0.2l1-1.8l1 1.2l2-1.3l1 0.5l1-1.9l2 1l1-0.2l1-1.8l3 0.7l1-2.6l1 1.2l1-0.8l1 0l1-1.2l1 0.8l1-1.7l2-0.2l1 0.4l1-1.7l1 0.8l1-1.3l2-0.4l1 0.5l2-1.9l2-0.4l1-0.8l2 0.5l3-2.3l2 0.2l2-1.5l1-0.4l1 0.3l1-0.8l1 1.1l2-2.4l1 0.6l5-2.8l2-0.6l1 1.1l4-3.6l1 1.4l1-0.4l6-2.8l1 0.3l2-2.2l2 0.3l2-1.9l2 1l3-3.2l1 1l2-2l1 0.3l2-0.7l2-1.4l1 0.2l1-0.8l1 0.1l4-2l1 0.8l12-8.9l1 0.8l3-2.8l3-2.2l2-0.3l1-1.2l1 0.9l3-3.5l4-1.5l3-1.9l2-2.5l1 0.6l1-2.6l1 0.8l1-2.3l1 0.9l2-0.9l2 0.2l1-0.4l1-1.5l1 0.3l2-0.9l1 1l1-1.1l1 0.9l4-1.8l1 0.5l2-2l1 1.6l1-1.5l1 1.3l1-1.4l2 0.8l1-0.6l2 0.8l1-0.9l1 1.7l1-1.6l1 1.1l1-1.4l2 1l4-3.2l2-0.7l6-4.4l1-1.5l3-2.6l1-2l1-0.3l1-1.8l1-0.5l2-2.9l1-0.3l1-2.1l1-0.3l3-3.5l1-0.4l2-3.3l3-2.5l2-3.1l2-1.9l1-0.2l1-1.9l1 0.2l2-2.1l1-2.4l2-0.9l4-5.2l2-0.4l1-2.7l1 0l4-3.2l3-5.1l1 0.1l1-2.6l6-8.8l3-3.3l4-7l2-1.9l1-0.2l1-2.3l2-1.7l1-0.2l1-2.1l5-6.2l2-1.2l2-2.8l1-0.1l5-4.8l1-2l1 0.9l1-2.3l5-4.6l2-0.6l1-2.4l1-0.8l1-0.5l1 1.4l1-1.7l2-0.1l1-1.3l1 0.8l1-1.6l1 1l2-0.9l1-1.9l2 0.9l1-1.5l1 0.4l1-1.3l2 0.8l1-1.5l1 0.4l1-0.7l1 0.5l2-2.1l1 0.7l2-2.1l1 0.7l3-18.8l3-219.1l1-5.7l2 0.6l1-1.4l5-2.5l1 5.1l3 229.4l3 31.4l4 28l4 11.2l1 0.6l4 4.9l2 0.1l2 1l3-0.3l1-1l3 1.2l2-1.5l1 0.1l1 1l1-1.9l1-0.6l1 0.8l2 0l2-1.7l2-0.7l2 1l1-1.8l1 1.8l2-2.4l1 1.2l2-1.4l1 0.1l1-1.9l1 0.8l1-1.4l2 0.4l3-1l1-1.2l1 0.5l2-0.2l3-2.6l3 0l4-2.1l0 27.9l-650 229.2z"/>
<path transform="translate(806.3,1289.4)" fill="url(#a0)" d="M0,-64.8l1-0.8l2-4.4l1-0.2l3-5.4l1-0.2l11-18.9l6-12.5l1-0.8l2-5.4l3-5.4l1-3.4l5-10.6l1-0.6l1-3.3l1-0.5l7-12.8l1-0.3l2-2.5l3-1.9l1-79.6l2-2.1l1 0.8l6-2.6l1 82.2l2 11.4l3 31.9l3 25.2l0 62.1l-72 25.4z"/>
<path transform="translate(806.3,1289.4)" fill="url(#q0)" d="M72,-87.5l3 12.8l1 1.4l1 4.4l4 4.4l2 0.6l1 1.2l1-0.9l1 1.4l1-0.4l1 0.4l2-1.2l2 1.6l1-1.4l1 0.9l2-0.2l1-1.5l1 0.9l1-1.4l2 1.3l1-1l1 0.1l1-2l1 1.5l1-1.3l1-0.4l1 0.5l4-1.7l2 0.5l1-1.3l3-0.8l1-1l1 0.7l1-1l3-0.9l1 0.1l2-2.4l1 1l1-0.4l1-1.8l2 1.7l3-2.7l2 0.8l1-1.3l1 0.5l1-1.3l1-0.3l2 0.2l2-0.6l1-1.3l1 0.4l1-0.5l1 0.3l2-2.9l1 0.8l2-0.6l1 0.3l3-1.8l4-1l1-1l2 0.1l2-0.9l2-1.7l1 1.1l2-1.5l1 0.3l1-1.5l1 1.7l4-3.4l1-0.1l1 1.3l1-2.6l2 0.3l1-1l2 0.2l1-1.2l5-0.8l1-1.1l2-0.9l1 0.2l1-1l1 0.3l1-1.1l1 0.3l4-1.2l1-0.9l3-0.4l1-0.8l1 0.6l2-2.4l1 1.2l2-2.3l1 0.8l1-1.3l4 0l2-1.6l1 0.2l1-0.9l1 0.5l3-1.9l2 0.2l4-2.9l1 0.7l1-0.5l1 0.4l3-2.2l2-0.6l1 0.7l1-2.1l1 0.5l2-1.2l2 0.6l3-2l1 0.3l2-1.3l3-0.6l4-2.4l1 0.3l1-0.7l2-0.1l1-1l2 0.1l1-0.8l1 0.4l3-2.5l1 0.6l2-0.2l3-2.1l3-0.2l1-0.8l1 0.6l1-1.8l3-0.5l1-1.3l2 0.4l5-2.4l5-1l1-0.9l3-0.5l3-1.3l1 0.6l1-1.8l1 1l1-1.6l2-0.9l2 0.7l8-4.1l1 0.7l2-2.4l1-0.1l1 0.7l1-1l2 0l1-1.4l1 1.1l3-1.7l2-0.3l1-1.9l1 0.3l5-1l1-1.5l2 1l1-1.7l1 0.4l2-1.8l1 0.4l1-0.6l1 0.2l3-2.1l1 0.9l1-1.4l3-0.2l1-1.2l1 0.6l1-1l1 0.3l1-1.7l1 0.5l1-0.3l1 0.7l1-2.1l1 0.1l1-0.7l3 0.3l2-2.5l2 1.1l1-2.2l3 0.4l1-1.5l1 0.6l1-1l1 0.2l1-1.4l5-1.2l5-2.8l2 0.1l1-0.9l1 0.5l1-2.1l1 0.3l1-0.5l1 1.4l1-2l1 0.1l1-1.3l2-0.2l3-2.3l3-1.3l1-1.9l1 0.9l1-0.2l1-0.7l1-2.4l1 0.1l4-2.2l1 0.3l1-0.5l5-3.8l1 0.1l2-3.2l1 0.3l2-1l2-1.2l1-2l1 0.3l2-2.4l1 0.5l2-1.7l2-0.5l1-1.2l2 0.2l1-0.7l1 0.5l1-0.9l1 0.6l3-1.7l3 0.8l1-1.4l1 0.7l2-1.6l5 0.3l1-1.4l1 1.1l1 0.2l1-1.1l2 0.7l1-0.7l1 1.6l3-1.4l1 0.5l2-0.8l1 0.5l3-3.5l3-1.6l1-1.7l4-2.8l2-3l4-4.1l1-2.3l1 0.9l2-3.3l3-2.4l1-2.7l1-0.1l1-1.3l2-1.2l1-2.4l1 0.4l1-2.4l1 0.7l1-2.2l4-4.6l4-3.7l1-0.2l1-1.8l1 0.5l1-3.5l2-0.5l3-3.4l3-2l4-6.1l1-0.7l2-4.2l1 0l1-1.9l2-2l2-4.1l2-1.6l5-8.1l1-0.6l7-8.9l1-0.5l1-2.3l9-7.7l4-4.7l3-1.7l1-1.7l1-0.2l2-2.5l1-0.3l1-1.6l2-1.6l3-1.1l1 0.1l1-1.7l2 0.6l1-0.7l1 0.5l1-1.5l1 0.9l1-1.7l1 0.3l6-2.1l4-2.1l3-0.7l1 0.5l2-1.8l3-16.1l1-15.5l2-124.6l1-3.2l1-1l3-1.5l2 0.4l1-1.1l1-0.1l1 2.9l2 123.7l1 25l3 31.9l2 15.6l2 11.3l2 6.8l2 4.5l2 2.8l3 2.5l2-0.7l2 2.4l1-1.2l3 0.6l2-0.5l1 1.3l3-2.9l2 1.4l1-1.7l1 0.5l1-1.1l1 1l2-2l1 0.8l1-0.7l1 0.3l2-1.8l2 0l3-1.6l1 0.8l2-0.6l1-0.4l1-1.3l1 0.9l2-1.3l1 0.6l1-1.9l2 0.5l3-2l2 0.6l2-1.8l2-0.8l1 0.5l2-1.5l0 27.9l-650 229.2z"/>
<path transform="translate(814.8,1294.5)" fill="url(#a0)" d="M0,-64l8-11.2l2-4.4l1-0.2l2-2.8l1-3.2l3-5.6l1-0.3l1-1.6l3-5.6l1-3.2l1-0.4l10-22.5l8-14l4-8.2l2-0.8l1-1.5l1-0.4l1-1.9l2-0.5l1-69.3l1-0.1l1-1.1l1 1.1l2-0.3l2-2.1l2-0.9l1 69.6l2 10.7l4 40.9l3 19.9l0 58.2l-73 25.7z"/>
<path transform="translate(814.8,1294.5)" fill="url(#q0)" d="M73,-83.9l1 6.1l4 9.8l5 5.7l2-0.7l1 1.4l2-1l1 0.8l2-1.5l2 0.9l2-0.9l1 0.5l3-1.4l4 0.2l1-1.2l2 0l1-1l4-1.1l2 0.2l3-1.5l1 0.7l1-1.6l1 0.6l2-1.5l1 0.1l1-1.3l2 0.5l1-1.2l1-0.1l1 0.9l1-1.8l4-0.9l1 0.8l1-1.8l1-0.6l1 0.5l1-1.2l2 0.3l1-1.3l1 0.8l1-1.4l2 0.8l1-2.1l1 0.5l2-1.7l1 0.3l1-0.8l1 0.4l2-1.9l1 0.6l1-0.7l1 0.6l2-1.6l2-0.6l1 1.1l1-2.2l2 0.7l2-1.5l1 0.3l3-1.8l1-1.3l1 0.4l1 1.2l4-3.8l1 1.1l1-1.3l1 0.6l1-1.7l1 1.5l2-2l3-0.5l3-1.4l3-0.1l3-1.6l2 0.5l2-1.8l2 0.1l1-1.6l1 0.4l1-0.9l2 0l2-1.8l3 0.3l2-2.5l1 0.8l1-0.7l1 0.6l1-1.4l1 1.3l1-1.7l2-0.5l2-1.8l2 0.4l1-0.7l1 0l2-1.6l3 0.1l1-1.2l3-1.5l1 1l1-2.1l1 0.5l3-1.3l2 0l3-1.5l1 0.9l1-0.8l1 0.6l1-2.5l1 0.5l2-1.2l1 0.4l2-1.2l1 0.3l2-2.2l1 0.3l7-1.6l1-1l1 0.1l1-0.8l1 0.6l2-1.5l1 0.5l1-1.1l1 0.5l2-2.4l1 0.9l1-1.5l1 0.5l4-2.4l1 0.7l1-0.9l1 0.7l1-2.3l1 1.1l1-1.1l1 0.2l1-1.2l2 0l2-1.8l1 0.5l1-0.7l1 0.5l1-1.3l1 0.6l1-0.7l1 0.4l2-1.8l1 0.1l3-1.3l1 0.4l1-0.2l1-0.5l1-1.7l4-0.2l1-0.7l4-1l6-3.2l2-0.3l1-0.8l1 1.3l1-2.2l1 1.3l5-2.4l1-1l1 0.8l2-0.2l1-1.5l4-1.4l1-0.9l1 0.5l1-1.1l4-1.2l1 0.3l3-1.7l2-0.4l1 0.4l1-1.4l1 0.1l1-0.9l2-0.1l3-1.1l5-2.8l1 0.3l3-1.2l1 0.1l1-1.9l1 0.7l2-0.8l1 0.3l1-1.5l2-0.1l1-1.1l1 0.7l1-1.1l1 0.1l1-1.4l2-0.1l1-1.2l1 0.3l1-0.8l2 0.6l1-2.1l1 0.9l2-1.7l1 0.4l1-1.3l2-0.3l2-1.2l1 0.2l2-1.7l1 1l1-2l1-0.7l1 0.2l1-2l1 0.7l1-0.8l1 0l2-2.6l2 0.7l1-1.7l1 0l2-2.5l1 0.1l1-1.2l1 0.2l1-1.7l1 0.5l1-0.4l3-2.7l2-0.3l2-2.7l1 0.4l1-1.4l1 0.4l3-3.7l1 0.5l4-2.7l2-0.6l1 0.8l2-2.2l1 1l1 0.1l2-1.4l1 0.6l9-3l2-0.3l2 0.6l2-1.3l2 1.7l4-0.8l1 0.7l1-0.2l3-1.1l2-2.1l1 0.9l1-2.2l1 0.3l3-1.9l1-1.6l1 0l2-3l2-1.7l1-2.3l1 0.4l2-3.6l1-0.3l6-7.1l2-1.1l3-4.5l4-2.6l2-3.7l1 0l3-3.3l1-0.4l2-3.4l1-1l1 0.4l2-3.7l1-0.8l2-0.3l2-3.2l2-1.3l2-2.7l2-1.2l1-2.8l1-0.5l2-4.2l1-0.2l5-8.3l2-1.7l1-2.7l1-0.1l3-5l1-0.1l1-2.8l1 0.4l1-1.8l1-0.6l2-3.6l1 0.1l2-3.4l2-1.7l2-3.5l2 0.3l3-3.5l2-1.1l1-2.3l3-1.6l1-1.5l1 0.1l1-2l4-3.2l1-2l2 0.4l2-0.8l1-1.6l2 0.1l1-1.1l4-1.3l2 0.4l1-0.3l1-1.9l1 0.2l2-1l1 0.4l5-2.1l1 0.1l3-1.8l1 0.2l4-19.9l2-89.4l1-3.7l1 0.3l3-1.9l2-0.1l1-1.4l1 0.2l1 3.2l2 93.6l5 48l2 13.7l3 12.3l2 4.7l5 4.1l1-0.6l3 2.5l1-1l2-0.7l1 1.7l2-2.3l2 0.6l6-1.8l1 0.3l1-0.7l3 0.1l2-1.4l3 0l2-1.6l2 0.2l2-1.7l1 0.4l1-1.2l1 0.5l1-0.4l1 1.3l1-1.8l2-0.8l1-1.7l1 1.2l1-1.1l2 0.2l3-1.5l3-0.6l2 0.3l1-0.7l0 26.5l-649 228.9z"/>
<path transform="translate(823.4,1299.6)" fill="url(#a1)" d="M0,-63.9l1-0.5l1-2.3l1-0.3l5-7.1l11-17.7l6-12.6l1-0.7l3-7.4l2-3l2-5.8l1-0.1l1-3.3l1-0.9l4-9l1-0.4l3-5.8l1-0.7l4-6.3l3-2.4l1 0.7l1-1.6l1-63.8l2-1.5l1 1l2-1.4l3-0.1l1 62.6l2 8.5l5 49.8l2 12.3l0 58l-73 25.7z"/>
<path transform="translate(823.4,1299.6)" fill="url(#q1)" d="M73,-83.7l2 8.2l2 5.5l3 4.7l4 2.7l1-0.8l2 1.1l3 0.6l2-1.6l1 1l2 0l1-0.7l2 0.4l2-1.5l1 0.9l1-1.8l2-0.6l1 0.8l1-0.7l2 0.6l2-2.2l1 0.2l3-1.1l1 1.2l1-2.1l2-0.4l1-1.2l1-0.2l1 1.1l1-1.7l1 1.1l1-1.3l2 0.1l2-1.2l5-0.9l3-2.6l1 0.5l1-0.3l1-1.2l1 0.4l2-0.9l2 0.3l1-1.4l1 0.1l1-0.8l1 0.6l1-0.7l2-0.3l1-1.6l1 0.6l3-1.3l1 0.4l1-2l1 0.8l1-1.8l2 0.5l2-1.1l3-0.6l1-1.1l2 0.3l6-2.8l5-0.9l3-2.1l1-0.2l1 0.4l2-0.7l1 0.4l2-2.5l2 0.6l1-1.5l1 1.2l3-3.2l2 0.2l2-0.9l1 1.2l2-2.6l2 0.9l1-2.2l1 1l2-0.6l1-1.2l1 0.3l2-0.8l1 0.1l2-1.7l1-0.3l1 0.8l1-2.1l1 0.8l2-0.5l4-3l1 0.8l1-0.1l7-3.1l1 0.7l3-2l2 0.2l1-1.8l1 0.9l1-1.5l1 0.5l3-0.4l1-1.2l2-0.1l6-3.3l1 0.8l1-1l1 0.2l1-0.7l1 0.4l2-1.5l3-0.6l4-2.5l3-0.1l2-1.3l1 0.3l3-1.7l2 0.5l1-2.1l1 0.4l10-3.5l4-2.6l2 0.7l1-1.1l2 0.6l1-1.6l1 0.1l1-0.9l3-0.5l1-1l1 0.6l1-1.3l2 0.3l2-1l1 0.4l1-2l1 0.3l2-1.4l1 0.7l2-1.1l4-0.7l1-1.2l1 0.3l2-1.4l1 0.1l4-1.4l1-1.2l1-0.2l2 0.7l1-1.6l1 0.7l2-2.3l2 0.6l1-1.5l1 0.6l1-0.7l2-0.1l2-0.7l2-1.6l1 0.7l2-1.5l3 0.1l2-2.1l2-0.4l1-0.9l1 0.8l1 0l3-2.5l1 0.1l1-0.8l1 0.8l1-0.4l2-2.6l1 1.2l1-0.9l1 0.9l2-1.5l3-1.2l1-1.1l2 0.2l2-1.4l2-0.3l1-1.2l1 0.9l2-1.9l2-0.3l9-4l1 0.5l1-2.4l2-0.3l1 0.6l3-1l2-2.4l2-0.6l3-2.3l2 0.4l1-1.5l1-0.1l4-3.6l2-0.4l2-2.5l3-0.2l3-2.9l1 0l2-2.5l1-0.6l1 0.2l1-1.3l1 0.5l1-1.5l2-1.5l1 0.7l3-3.1l1-0.3l1 1.3l1-2l1 1.3l1-0.8l1 0.1l1-1.8l1 1.2l1-1.5l2 0.8l1-1.9l1 0.4l1-0.6l1 0.3l1-0.3l1 0.4l4-1l1 0.9l2-1.8l1 0.8l1 0.2l1-0.5l2 0.7l1-0.8l1 0.9l1-1.1l2 1.5l1 0l1-2l2-1.2l1 0.1l1-2.5l1 1.3l1-1.8l3-1.5l4-4.7l1-0.1l3-4.9l3-2l2-3.5l2-1.5l2-3l2-1.4l1-1.9l1 0.1l2-3l4-3.2l7-8.2l2-0.8l3-4.2l2-0.7l2-3.7l2-0.7l3-3.1l2-3.2l1-0.6l3-5.2l3-3.3l2-3.6l2-2l1-2.9l1-0.1l2-4l3-2.4l3-4.5l4-4.5l1-2.2l1-0.1l3-2.4l1-2.5l2-0.4l6-7l3-1.8l2-2.5l2-0.7l1-2.2l3-1.3l1-1.9l1 0.4l3-1.3l2-0.1l1-1.4l1 0.8l1-1.9l1 1l3-1.7l3-0.1l1-1l2-1.1l1 0.2l1-0.9l2-0.3l1-0.8l2 0.3l1-1.1l1 0l1-2.5l1-7.7l2-8.7l2-65.6l2-2.9l2 0.6l1-0.9l1 0l1-1.5l1 1.3l1-1.6l1 1.4l2 70.7l3 29.2l2 18.2l2 12.6l4 15.1l5 5.8l1-0.3l2 1.5l3 0.7l2-0.2l1-0.7l1 0.4l2-0.4l1 1.1l3-2.3l4-0.1l1-1.4l1 0.9l1 0.1l2-1.3l2 0l1-2.3l1 1.3l3-1.7l3 0.6l3-2.6l2-0.4l1 0.3l1-1l1 0.1l1-0.8l1 0.9l1-2.1l1 1l1-0.9l2-0.1l2-1.1l1 0.3l4-2.2l0 27.5l-649 228.9z"/>
<path transform="translate(831.9,1304.7)" fill="url(#a2)" d="M0,-63.5l2-1.7l3-5.1l2-1.3l4-6l5-9l1-0.6l2-3.4l1-3l2-1.7l2-5.7l5-9.5l1-1l3-7.3l11-20.7l1 0.3l1-3.1l1 0l5-6.6l1 0.3l1-0.5l1-71l1-0.9l2 0.7l1-2.1l1-0.4l1 1.2l2-1.3l1 71.4l1 2l2 13.3l3 30.5l3 21.8l0 58.2l-73 25.7z"/>
<path transform="translate(831.9,1304.7)" fill="url(#q2)" d="M73,-83.9l3 12.3l5 6.8l1 2.3l1-0.8l2-0.2l1 1.7l2-1.5l2 1.3l1-1.6l1 1l3 0.2l4-1.7l3 0.3l2-0.8l1-2l2 0.9l2-0.8l1 0.9l2-2.2l2 0.1l3-1.8l2 0.5l1-1.2l2-1l4-1.1l1 0.8l1-0.9l2-0.2l2-2.2l1 1l1-0.2l1-1.2l1 0.3l4-2.6l2 0.8l2-0.6l3-1.6l5-1.2l1-1l1 0.2l1-1.5l1 0.6l2-0.6l1-1.4l1 1.2l1-1.3l1 0.4l1-2.3l2 1.2l3-1l2-2.1l2 0.6l3-2.1l3-1.2l1 1.1l2-2.2l5-1.3l2-1.3l2 0.3l2-1l1-1.2l1 0.7l3-1.3l1 0.2l3-1.4l2-0.1l1-1.9l1 0.6l1-0.9l1 0.3l2-1.1l2 0.1l2-1.9l3-0.1l5-2.4l3-0.6l1-1.4l1 0l1-0.8l1 0.7l1-0.4l1-1.6l1 0.9l2-1.3l1 1l3-2.8l1 0.6l2-0.4l1-1.1l1 0.3l1-1.1l1 0.9l2-1.5l1 0.4l1-1.1l1 0.1l3-2.3l1 0.2l1 1l1-2l3-0.3l1-1.7l2 0.9l3-1.2l1-1.8l3 0.8l2-1.8l1 0.5l2-1.5l1 0.1l1-0.8l2 0.1l1-1.4l1-0.3l1 0.4l1-1.3l1-0.1l1 0.7l1-1.2l1 0.2l2-1.4l1 0.3l2-1.1l1 0l1-1.6l2 1l1-2.5l2 1l1-0.3l1-1.5l1 0.8l5-2.5l1 0.3l3-1.1l1-1.4l1 0.7l1-1.5l1 0.8l3-2.2l2 0.2l1-1.6l4 0.5l2-2l3-0.3l6-2.5l1 0.4l1-1.5l1 0.8l1-1.1l2-0.9l1 0.1l1 1.1l1-1.4l1 0.1l2-1.8l1 0.5l1-1.1l2-0.3l1-1.3l2 0.2l2-1.4l1 0.6l2-1.4l2-0.2l1-0.8l2-0.6l1-1l1 0.6l2-0.5l2-2.1l1-0.1l1 0.9l1-1.1l1 0.6l1-1.1l1 0.4l1-0.4l1-2.5l1 1.6l2-1.5l2-0.6l1-1.1l1 1l3-2.5l1 0.4l1-1.2l2 0.1l4-2.1l1 0.3l1-1.1l3-0.8l4-2.1l3-0.2l1-0.9l1 0.6l1-2.1l2 0.1l3-1.5l2 0l1-0.9l1-0.1l1-1.6l2-1l1-1.1l2-0.7l5-3.8l2-0.1l3-1.7l1 0.5l2-3l5-3.3l1-1.3l1-0.5l1 0.4l1-1.9l1 0.3l1-1.1l2-0.7l1-1.2l1 0.3l3-3.6l1 1.8l1-1.5l2-0.2l1 0.8l1-2l1 0.7l1-0.6l1 0.2l1-1l1 0.6l1-0.2l1-1.5l1 0.5l1-0.9l2 1.5l1-1.4l1 0.3l1-1.4l1-0.2l1 1.3l3-1.7l1 0.8l1-0.3l1 0.6l1-0.9l1 0.7l1-1.3l1-0.1l1 1.4l1-0.7l1 1l3-1.5l1 0.1l1-2.1l1 0l3-3.5l1 1.2l3-3.9l1-0.6l1-2.1l1-0.4l1-2l2-1.1l2-3l4-3.6l1-2l1 0.3l4-6.3l2-0.4l1-2.1l1-0.5l3-3.9l1-0.3l9-9.8l2-0.5l4-5.8l1 0.6l2-3l2-1.4l1-2.4l2-1.8l1-2.3l1-0.5l2-4.7l1-0.3l1-1.7l1-0.6l1-2.1l1-0.7l5-7.2l1-2.4l2-0.6l5-7l2-1.9l1-1.9l8-7.9l2-1.1l1-2.4l2-0.8l4-4.4l1 0.3l2-2.7l2-0.9l1-1.8l4-2.6l3 0.5l2-1.9l2-0.5l1 0.9l2-2.5l2 0.8l1-1.4l2-0.2l1-1.4l1 1.1l6-3.3l1 1.2l1-1.3l1 1l4-17.2l2-57.8l1-3.9l2 0.8l1-1.4l2 0.4l1-0.8l1-1.9l2 2.5l2 62l4 38.7l2 15.2l3 14.8l3 6.4l4 5.1l4 1.1l1 1l1-0.8l3 0.2l1-0.6l1 0.6l3-1.4l1 1.6l1-2.3l1-0.3l2 0.3l4-0.8l1-1.3l2 0.5l2-0.8l1-1.3l3 0.2l3-1.7l2 0.5l1-1.5l1 0.2l1-0.9l2 0.2l1-1.8l1 1.5l2-2l1 0.5l2-1.8l2 0l3-1.1l1 0.4l1-1.2l1 0.2l0 26.9l-649 228.9z"/>
<path transform="translate(840.5,1309.8)" fill="url(#a1)" d="M0,-62l5-5.7l2-3.5l3-2.9l1-3.5l2-3.3l1-0.2l2-4.1l2-2.3l1-2.8l1-1l4-7.4l6-12.2l2-2.7l8-17.1l3-3.8l3-5.9l3-2.4l1-2.7l1 0.5l1-0.5l1-1.8l1 0.1l1-78l1 0.7l3-2.5l1 1l1-0.1l1-1.6l1-0.2l1 76.7l1 2.2l1 4.9l4 37.8l3 21.7l0 58.9l-73 25.7z"/>
<path transform="translate(840.5,1309.8)" fill="url(#q1)" d="M73,-84.6l2 8.5l2 5.2l2 4.2l3 2.7l2 0.2l2 1.7l1-0.6l3 0.7l2-1l1 0.9l1-0.9l2 0.8l1-1.6l1-0.1l1 0.9l1-1.1l3-1.4l4 0.4l4-2.3l2 0.3l2-1.7l1 0.4l3-1.3l1 0.5l1-0.7l1 0.2l1-1.4l1 0.3l2-1.2l1 0.3l1-0.9l2-0.9l1 0.3l1-1l4-1.5l3-0.4l1-1.5l1 0.8l9-3.7l1 0.3l4-2.4l2 0.5l1-1.6l1 1l1-2.3l1 1.7l1-1.3l1 0.6l1-1.2l2-0.4l1-1l2 0.1l1-1.2l2 0.2l1-0.9l2-0.2l1-1.2l4-0.2l2-1.5l1 0.5l1-1l1 0.5l2-2.7l1 0.4l3-0.5l1-1.1l1 0.4l1-1l2-0.7l1 0.6l1-0.2l1-1.3l2 0.4l2-1.5l1 0.2l1-1.4l2 0l1-1.1l2 0l1-1l3-0.8l4-0.4l2-2.2l3 0.4l1-0.8l1 0.1l3-2.4l4-0.2l3-1.1l1-1.6l1 0.8l2-1.3l1 0.7l3-2.4l1 1.9l1-1.9l2-1.2l1 0.2l1-1.5l1 0.9l3-2.8l1 0.6l1-0.5l1 0.4l2-0.8l1 1l1-2.5l3-0.6l1 0.7l2-2l1 1.1l1-1.5l1 0.2l1-1.3l1 0.5l1-0.7l2-0.4l1-1l4-0.9l1-1.3l3 0.1l1-0.5l1-1.7l4 0l2-1.7l1 1.1l1-1.5l1 0.3l1-1.2l1 0.9l2-1.7l5-0.8l3-2l2 0.4l1-1.2l1 0.4l1-1.2l2 0.3l1-1.3l1 0.4l2-2.3l2 0.5l1-0.9l4-1.5l1 0.4l1-0.7l1-2l1 1l3-1.3l1 0.1l2-0.7l2-1.2l2-0.6l1 0.5l3-2.2l1 0.5l1-1l1 0.8l1-0.3l3-2.4l1 0.5l2-0.7l1 0.3l2-1.4l1 0l2-1.9l2 0.7l2-2.5l2 0.9l2-1.3l1 0.4l1-1.4l1-0.2l1 0.7l2-2l2 0.1l2-1.5l1 0.2l3-1.7l3 0.2l1-1.5l1 0.1l3-1.9l1 0.9l2-1.8l1 0.5l1-2.5l1 0.8l5-1.5l1-0.9l1 0.8l1-1.8l1 0.3l5-2.5l1 0.5l6-4l1 0.5l1-0.3l1-2.1l1 0.7l1-0.9l2-0.1l1-1.7l2-0.8l1-1.2l1 0.1l1-1.1l1 0l1-1.9l1 0.4l6-3.5l2-1.4l1-1.6l1 1.4l1-2.3l2-0.6l3-2.8l1-0.5l1 0.4l3-3.6l1 0.4l3-2.2l1 0.4l2-1.2l1 0.7l2-1l1-1.4l1 1.4l1-1.2l2 0.1l1-0.8l2-0.1l5-1.6l1 0.7l2-0.1l1-1.2l2 1l3-1.2l3 1.7l1-1l2-0.6l2 1.4l1-1.7l2-0.1l1-1.9l3-2.5l2-0.3l2-2.7l1-0.1l1-3.2l1 0.8l2-1.7l2-3.6l3-3.3l1 0l1-1.8l1-0.3l5-6.5l3-2.4l1-2.4l3-2.3l1-0.1l1-2.4l1 0.5l3-4.4l4-4.4l2-1.3l1-2.2l2-0.7l1-2.8l1 1.1l1-1.7l1 0l2-2.2l1-1.9l1-0.4l1-2.3l1-0.3l2-4.1l6-8.4l1-0.5l1-2.6l2-1.9l4-6.9l2 0l2-4.4l2-0.7l4-6.5l1-0.7l1 0l1-1.8l1-0.1l3-2.8l2-3.1l1 0.1l1-0.9l2-2.9l3-2l2-3.1l1 0.4l1-2l2-0.8l1-1.8l1 0.9l1-1.4l1 0.6l1-0.9l1 0.5l4-2.6l1 0.4l1-0.8l1 0.4l2-2.1l1 1.2l1-1.3l2 0.1l1-1.2l2-0.6l1-1.4l1 1.6l1-0.6l1-1.7l1 0.8l3-1.6l1 0.2l3-13.2l2-46.5l1-1.9l3-0.9l1-1l2 0.4l2-1.5l1 1.8l2 49.2l5 45.4l4 21.1l4 8.8l2 1.8l2-0.1l1 1.2l2 0.6l1-0.2l1 0.8l2 0.2l1-0.8l3 0.4l2-1.2l1 0.8l2-1.7l2 0.5l3-0.6l1-1.1l1 0l1-1l1 0.1l1-0.8l1 0.7l1-0.2l1-1.2l4-0.5l4-1.7l1 0.5l3-2.2l2 0.7l3-2l1 0.2l2-2l2 0l3-1.9l1 1.4l1-1.3l0 27.4l-649 228.9z"/>
<path transform="translate(849,1315)" fill="url(#a4)" d="M0,-62.6l1-2.2l2-1.4l8-10.6l3-4.9l1-3.4l1 0.4l3-7l1-0.4l1-1.3l2-5.4l2-2.7l14-28.8l1-0.2l1-3.6l1-0.8l1-2.5l1-0.9l2-3.5l1-0.1l3-5.3l2 0.2l1-1.6l1-0.1l1-73.3l5-1l2-1.4l1 0.2l1-1.5l1 74.2l2 11.5l4 39.9l2 13.2l0 61.2l-73 25.7z"/>
<path transform="translate(849,1315)" fill="url(#q4)" d="M73,-86.9l2 9.9l1 1.6l1 4.3l5 7.4l1-0.5l2 1.8l2 0.1l1-0.6l2 1.2l2-0.7l2 0.9l1-1.9l2-0.5l1 0.5l1-0.8l1 0.9l2-1.4l1 0.4l1-0.7l1 0.6l1-1.2l1 0.3l1-1.5l1 0.3l1-0.7l1 0.4l1-1l2-0.4l2 0.1l2-1.6l3-0.2l1-0.9l2-0.2l1-0.7l1 0.4l1-0.9l1 0.7l1-2.1l1 0.3l2-0.4l1-1.7l1 1.1l1-1.6l1 0.6l1-0.5l1 0.4l1-1.9l1 1l1-0.1l1-1l1 0.4l1-0.8l2 0.1l1-2.3l1 0.7l2-1.3l1 0.8l4-2.9l2 0.6l2-1.4l1 0.5l1-0.3l3-1.8l3-0.6l1-1.1l1 0.5l1-1.3l4-1l1 0.4l3-1.3l1-1.6l1 0.5l3-1l2 0.2l1-1.6l2 0.2l2-1l1-1.8l2 1.1l1-1.4l1 0l1-0.9l2-0.4l1 1.3l1-2.2l4-0.2l3-2.1l1 0.7l3-2.1l1 0.3l1-2.2l1 0.5l1-0.8l1 0.3l4-0.5l4-2.2l1-0.1l1 1l2-2.8l2-0.3l1 0.5l3-1.5l1-1.4l1 0.8l1-0.7l1 0.2l5-2.5l1 0.9l1-1.4l2 0.2l1-1.6l1 0.8l1-0.2l3-2.9l1 1.7l2-2.3l1 0.9l1-1l1-0.5l1 0.4l3-1.9l2 0l1-0.7l1 0.5l1-1.9l1 0.7l1-1.2l1 0.7l1-1.5l1 0.4l3-1l1-1l1 0.7l1-1.5l2-0.2l2-1.1l4-0.2l1-1.6l2 0.7l1-2.5l1 0.6l1-0.2l3-1.6l1 0.7l4-2.7l2 0.7l2-0.8l3-2.6l1 0.8l1-0.4l1 0.5l1-1.5l1 0.4l1-0.9l1 0.3l4-2.5l1 0.5l3-2.3l1 0.8l3-1.8l1 0.8l1-1.3l2 0.1l2-1.5l1 0.2l1-0.8l1 0.7l1-2.5l1 1.2l2-0.5l2-1.6l1 0.5l1-1.5l2-0.6l1 0.3l3-1.6l1 0.1l1-1.3l1 1.2l3-2.6l1 1.2l1-1.3l1 0.2l1-1.1l1 0.9l2-1.8l3-1.1l1 0.8l2-2l1 0.9l1-1.4l1-0.5l1 0.3l2-1.5l1 0.3l1-0.9l1 0.3l2-1l1 0.6l2-1.9l2-0.2l3-1.9l1-0.3l1 0.5l1-1.3l1 0.7l4-3l1 0.8l1-2l1 1.6l1-1.3l3-1.8l2 0l1-1l1 0.3l2-1.4l1 0.4l2-1.4l5-1.8l1-1.3l1 0.4l2-0.9l4-3l1-0.1l1-1.7l2 0l2-2.6l1 0.4l2-2.6l1 0.6l1-0.7l1-2l1 2.1l1-2.3l2-1.5l3-1.2l1-1.4l1 0.2l1-1.7l1 0.7l1-2.1l4-2l1-1.8l1 0.7l3-1.9l2 0.6l1-1.5l1-0.3l1 1.2l3-1.8l1 0.9l1-0.2l1-1.2l1 0.6l1-1.1l2 0.1l1-0.9l2 0.1l2-0.9l2 0.8l1-0.5l2 0.3l2-1.6l2 1.6l1-0.6l1 1l3-2l1 1.2l2-2.3l1-0.1l2-1.6l1-1.9l2 0.7l1-3.4l1 0.9l3-3.7l1 0l1-2.7l2-0.3l2-3.9l2-2.5l2-1.2l1-2.2l1 0l3-3.8l1 0.2l1-2.1l4-3.6l3-4.4l1-0.3l1-1.6l1-0.1l1-1.5l1-0.3l5-6.5l1 0.4l3-3.8l3-2.4l4-5.4l2-1.5l3-5.7l2-1.7l6-8.9l1-0.3l2-4.6l1 0.2l2-4.2l1-0.5l2-2.7l1-0.3l1-2.8l2-0.3l1-2.7l1-1.1l1-0.1l2-3.1l1 0.3l3-3.9l2-1.2l4-4.4l3-1.3l1-2l2-2l2-1.2l2-2.8l1 0l1 1l1-1.5l2-1.4l2 0l1-0.7l2 0.4l1-1.5l1 0.2l3-2.3l1 1.2l2-0.9l1-1.2l2-0.1l5-1.8l2-0.1l1-1.5l1 0.4l2-11.8l1-2.9l2-50.8l1-2.2l2-2.1l1 0.7l1-0.7l2 0.2l2-1.7l1 1.3l2 49.6l1 1.5l1-0.1l3 5l1 2.7l3 3.2l2 3.9l1 0.5l2 4.1l2 1.8l1 1.9l1-0.3l5 8l4 4.6l2-0.1l1 2.1l2 1.2l1-0.1l2 2.5l1-0.2l1 1.1l7 3l1-0.8l2 2l1 0l1 1.5l3-0.3l2 0.6l2-0.5l2 1l1 1.2l2-1.6l1 2.2l1-0.9l2 0l1 0.6l1-1l2 0.5l1-0.7l2 1l1-0.5l0 48.7l-649 228.9z"/>
<path transform="translate(857.6,1320.1)" fill="url(#a3)" d="M0,-63.9l2-2.4l1-0.1l1-2.6l2-1.7l2-3.5l1-0.6l1-2.9l3-2.7l1-3.5l1-0.3l1-2.6l1-1l7-12.2l3-7.1l3-4.8l1-3.1l5-10.3l3-4.8l6-12.5l1-0.3l2-2.6l1-0.4l1-2.3l1-0.1l2-2.5l1-0.1l1-82.1l1 0.8l2-1.9l3-0.7l2-1.2l1 0.8l1 81.6l2 10.8l4 38.8l3 20.6l0 57.3l-74 26.1z"/>
<path transform="translate(857.6,1320.1)" fill="url(#q3)" d="M74,-83.4l3 11.5l2 2.8l1 2.9l3 1.8l1 1.2l1-0.6l3 1l1-0.6l1 1l1-0.4l2 0.6l1-0.8l2 0.2l1-1.1l1 0.9l1-1.2l3 0.1l7-2.3l1 0.5l1-1.5l1 0.6l1-1.1l2-0.9l1 1.3l1-1.2l1 0.4l3-2.5l2-0.1l1-0.8l1 0.4l4-2.2l2 0.3l3-1.9l2 0.3l1-1l1 0.1l1-1.3l1 1l1-1.6l3 0.7l1-1.9l1 0.2l3-1.5l1 1.4l1-2.9l1 1.2l3-2.4l1 0.5l1-0.5l2 0.1l1-2l1 0.6l1-0.2l1-1.1l1 0.6l1-1.5l1 1.1l1-1.5l1 0.6l2-0.9l1 0.6l1-1.6l1 0l2-1.2l1 0.9l3-2.4l2 0.4l2-2l3-0.7l1 0.3l2-1.7l1 1.9l1-2.9l1 0.3l3-1.6l1 0.7l2-1.5l1 0.6l3-2.1l2 0.8l2-1.2l1-1.5l2 0.5l2-1.5l1 1l2-2.4l2 0.7l1-1.3l3-1.4l1 1.1l2-2.4l1 0.7l1-1.1l2 0.2l1-0.5l1 0.5l1-1.7l1 0.4l3-1.9l1 0.7l3-1.3l2-1.9l3 0.8l2-2.1l2-0.9l2-0.4l1 1.1l1-1.6l3-0.6l1-1.3l2 0.6l1-1.6l3 0.3l1-1.5l2-0.9l1 0.5l5-2.7l1 0.3l1-0.9l1-0.1l2-2.3l4 1.1l1-1.6l1 1l1-2.1l1 0.9l1-1.8l2 1.1l1-1.3l2 0.2l2-2.2l4-0.1l1-0.8l2-0.3l1-0.9l6-1.1l1-1.1l1 0.1l2-1.4l1 0.2l1-1.2l1-0.1l1 0.7l2-2.6l1 1.6l1-1.8l1 1.1l3-2.6l1 0.6l2-0.6l2-2.2l1 0.9l2-0.4l1-1.1l1 0.8l2-2.6l1 1.4l1-1.8l1 1l2-1.7l2 0.4l3-2.1l2 0.3l1-1.4l2-0.2l1-1.3l1 0.7l1-1.2l1 1.1l1-2.2l1 0.4l1-0.6l1 0.6l1-1.1l1 0.9l1-0.3l3-3.2l2 1.1l1-0.4l1-1.5l2 0.2l2-1.9l3-0.1l3-0.8l1-1l1 0.5l1-1l1 0.4l1-1.3l1 0.2l1-0.8l2-0.4l1-1.5l5-1.2l1-0.9l1 0.4l1-0.9l2 0.3l3-3.1l1 0.9l2-1l1-1.2l2 0.6l1-1.7l3-1l1 0.3l2-1.2l1 0.5l2-2.6l1 1.1l1-1.6l2-0.3l1-1.8l2-0.6l1 0.8l1-1.8l1 0.3l1-1.7l1 0.2l3-1.9l2-2.9l1 0.7l2-1.7l2-0.8l3-2.5l3-1l1-2.3l1 0.2l2-1.6l1 0.6l4-3.4l2-0.6l1-2.1l5-0.8l1-0.9l1 0.5l2-0.6l2 0.8l1-1.7l1 0.9l1-1.1l1-0.1l1 0.6l1-2.2l1 1.9l1-1.4l2-0.4l1-0.9l1 1l1-0.7l2 0.3l1-0.9l2 1.3l1-1.6l1 1.7l2-0.7l1 1l1-0.6l1 0.4l2-2.1l3-1l3-3.3l2-0.3l1-0.9l3-3.9l3-2.6l1-2.1l5-4.3l3-4.1l3-2.3l3-3.5l1-0.4l1-2.3l4-3.7l1-1.9l3-2.4l2-2.6l1 0.4l2-3.5l2-0.7l3-4.9l1 1l1-1.8l1-0.3l3-4l1-0.4l2-3.1l1-0.4l5-9.1l1 0l7-11.2l1-0.4l1-2.3l2-1.2l1-2.2l2-1.4l1-2.1l2-1.7l3-4.6l3-2.1l1-1.9l3-1.8l1-1.8l5-3.6l4-4.9l1 0.1l1-2.4l1 0.3l1-1l1 0l3-3.4l1 0.6l2-1.4l1 0.7l5-3.2l1 1l2-2l1 0.4l1-1l1 0.5l1-0.8l1 0.4l2-0.6l6-2.6l1 0.3l2-1.6l3-15l2-88.9l1-2.8l2-0.8l1 1l3-2.9l1 0.6l1-2.1l1 4.3l2 87.6l1 0.5l1 2l4 4.5l1 2.8l1-0.2l2 4.8l2 1.9l2 4l3 3.6l2 1.1l2 4.4l1-0.1l3 4l1 0.4l2 2.6l1 0.1l1 1.2l2 1l1 1.8l2 0.1l1 2l2-0.1l1 1.1l1-0.2l1 1l1-0.3l1 1.9l1-1.2l2 2.5l1-1.1l1 1.3l1-1.8l1 2.2l1-0.7l1 1.6l3-0.1l1 0.9l2 0.2l1-0.1l1-1.6l2 2l3-0.8l1 0.8l2 0.2l1-1l1 0.7l2-0.4l1 1.8l0 47.2l-648 228.5z"/>
<path transform="translate(866.1,1325.2)" fill="url(#a2)" d="M0,-63.3l1 0.1l3-5l3-3l1-2.3l1-0.5l2-3.7l2-2.1l5-8.8l1-0.8l1-3.9l1-0.6l3-6.2l1-0.8l6-13l2-3.1l1-3l2-3.1l2-4.9l2-2.8l1-3.5l1-0.7l3-5.3l1-0.6l2-3.9l3-2.8l1 0.6l1-2.3l2-0.6l1-63.8l2-1.7l1 0.4l1-1.3l1 1.4l1-1.7l2-0.5l1 64.6l2 8.2l4 39.7l3 21.4l0 57.1l-74 26.1z"/>
<path transform="translate(866.1,1325.2)" fill="url(#q2)" d="M74,-83.2l2 8.1l2 4.9l2 4.3l1 1.3l1-1.1l1 2.2l1-0.3l2 1.2l2-0.2l1 0.5l4-0.6l1 0.4l4-1.5l1 0.2l1-1.1l1 1.2l1-0.4l1-1.4l1 0.9l3-1.7l1 0.2l3-0.9l2 0.3l4-2.8l1 0.8l2-1.3l1 0.2l2-1.8l3-0.7l1 1.1l2-1.7l2-0.2l1 0.5l1-2.6l2 0.9l1-1.5l1 0.6l1-1.8l1 1.8l1-1.3l1 0.2l2-2.3l1 1l2-1.7l1 0.2l4-1l1-1.1l1 0.3l5-2.4l1 0.1l2-1.5l1 0.8l1-0.2l2-1l1-1.2l1 1l2-1.7l1 0.2l3-0.7l1-1.3l1 0.4l1-0.3l1-1.3l3 0l2-1.2l1 0.3l2-2l3 0l2-1.3l1 0.5l1-1.5l1 0.6l1-0.9l1 0l1-1.6l2 1l1-0.5l1-1.8l1 0.9l1-0.4l2-2.1l2 0.3l5-2.4l1 0.9l3-2.1l1 0.4l1-1.1l4-1l2-1.1l1 0.9l2-0.8l1-1.4l3-0.2l1-1.4l1 0.4l1-1.6l1 0.8l4-2.2l1 0.7l2-1.2l3-0.4l2-1.5l2-0.1l1-1.2l2-0.9l2 0.5l2-1.5l1-0.3l1 0.5l1-1.5l2 0.2l1-1.5l2 1l2-1.2l1-1.4l1 0.5l2-1.7l1 1.2l1-1.7l2 0.2l1-1.5l1-0.3l1 0.9l3-1.9l4-0.2l1-1.3l1 0.8l1-1.4l3-2.1l1 1l1-1.1l1 0.9l2-2.3l2 0.4l4-2.7l2 0l2-1.4l1 0.6l1-1.6l2 0.9l1-1.9l1 0l1 1.5l1-1.6l2-0.9l1 0.5l2-0.5l1-1.8l1-0.5l2 0.6l1-1.1l4-0.4l2-1.8l3 0.1l2-1.3l1-1.5l2 1.2l1-1.1l1 0l1-1.3l1 0.4l1-0.4l2-1.6l4 0.3l1-2.3l1-0.3l1 1.2l2-1.9l3 0.3l2-2.1l1 0.2l1-0.8l1 0.8l1-1.1l5-1.8l1-1.4l1 0.3l1-0.9l1 0.9l2-1.8l5-0.5l1-1.3l2-0.8l1 0.6l1-0.3l1-1.7l2 0.2l1-1.2l1 0.9l2-1.5l8-3.6l1 0.8l2-2.5l1 0.7l1-0.8l2-0.3l1-1.4l3 0.5l1-1.7l1-0.5l4-0.7l2-1.4l1 0.2l3-2.6l3-0.9l4-3.2l4-1.9l1-1.8l1 0.3l4-1.7l2-2.4l5-3.5l1-0.5l1 1.3l1-2.1l2-1.4l1-0.1l2-2.4l2-0.6l2-1.7l1 0.2l2-1.3l3 0.1l2-1.9l1 1.1l1-0.8l3 0.8l2-1.6l3-1.3l1 0.9l2-1.2l1 0.1l1 1.1l1-1.3l5 0.3l3-0.7l1 1.5l1-1.1l1 0.3l2-1.3l1 0.2l3-3.4l5-2.3l6-7.2l1-0.2l3-4.4l3-2.1l2-3.2l2-1.6l1-1.9l1-0.1l3-3.9l2-1.4l1-2l4-3.2l1-2.4l1 0.2l4-4.9l1-0.2l5-5.7l1 0.8l2-4.2l1 0.9l11-16.3l2-1.3l1-2.5l1-0.9l1-2.2l1-0.7l1-2.4l3-3.5l1-2l4-3.5l5-7.3l3-2l2-2.9l3-1.9l2-2.8l1 0.1l1-1.3l1-0.3l4-4.9l2-1l3-3.3l1-0.4l1-1.9l2 0.2l3-1.9l1 0.5l3-1l2-1.4l1 1l1-1.7l1 0.3l3-1.3l1-1.2l2-0.5l1 0.6l1-0.2l1-1.2l1-0.3l1 1.1l1-1.8l1 0.6l2-1.7l1-0.1l2-11l1-38.2l2-147.2l1-3.8l1-0.3l1 0.8l1-1.5l3-0.7l1 0.5l1-0.6l1 3.1l2 145l1 35.2l1 0.6l5 7.3l4 7l1 0.3l1 3.1l1 0.7l3 4.9l1 0.4l1 2.6l1-0.6l2 3.7l1 0.1l2 1.7l6 6.1l4 2l2 2.9l2 0l1 0.8l1-0.6l1 1.5l1-0.7l1 2.3l2-0.5l2 1l1-0.4l1 1.4l2 0l1 0.5l1-0.9l1 1.4l1-0.7l1 0.9l1-0.5l2 0.3l1 0.3l1 1.5l3-1.6l4 1.4l1-0.6l3 0.6l0 47.9l-648 228.5z"/>
<path transform="translate(874.7,1330.3)" fill="url(#a3)" d="M0,-61.9l2-2.7l1 0.4l2-4.1l3-3.7l1-0.2l1-3.5l2-1.6l6-10.7l1-0.6l2-4.5l1-0.6l5-11.8l1-0.8l4-6.8l2-4.3l1-3.7l2-2.8l2-5.1l2-2.3l5-9.4l1-0.1l2-3.6l2-1l1-1.6l3-1.2l1-57.7l1-0.7l1 1.3l1-0.5l1 0.4l1-1.3l1-0.2l2-2.1l1 57l1 1.8l1 6.1l4 38.6l3 20.1l0 59.3l-74 26.1z"/>
<path transform="translate(874.7,1330.3)" fill="url(#q3)" d="M74,-85.4l1 6.2l4 11l3 3.7l1-0.2l1 1.3l2 1.2l1-0.8l4 0.9l1-0.7l1 0.1l1-1.3l2 1.3l3-1.9l2-0.3l1 0.9l3-2.1l1 0.9l5-1.4l7-3.4l1 0.5l1-0.8l1 0.5l1-1.2l3 0.3l4-2.4l1 0.1l1-0.5l1 0.7l3-2.2l2-0.2l1-1.4l1 1.2l2-2l2 0.1l2-1.6l1 0.7l3-2.3l2 0.5l2-1.4l2 0.3l1-0.9l1 0l2-2l1 0.7l2-1.4l1 0.3l2-2.1l2 1.5l1-1.4l3-1.1l1-1.2l1 0.3l3-1l1 0.5l1-1.2l2 0.2l1-0.8l1 0.4l2-2l1 0.3l1-2.1l1 0.9l2-1.3l1 0.6l3-1.7l2 0.2l1-1.1l1 0.6l2-2l2 0.2l2-1.4l5-1.1l1 0.5l1-1.6l3-0.5l2-1.7l1 0.9l3-1.6l1 0l1-1.1l2-0.3l3-1.6l2 0.6l1-2l1 0.6l3-1.2l2-0.1l1-1.4l2-0.1l2-1.4l2-0.2l1 0.7l1-1.8l1-0.6l1-0.1l1 1.4l2-2.3l1-0.5l2 0.2l1-1.5l2 0.6l3-1.7l1-1.2l1 0.9l6-2.7l3-0.8l2-1.5l1-0.1l1 1l4-3.2l1 1.4l1-2.5l1 0.9l2-1.2l2 0.2l2-1.4l2-0.4l2-1.2l2 0.2l1-1.1l4-1.6l1 0.5l1-0.3l2-1.5l2 0.6l2-2l1 0.6l1-1.2l1 0.9l1-1.5l2-1.5l4 0l2-0.9l1 0.2l2-1.5l1 0.3l2-2.4l1 0.7l2-1.5l2 0.1l1-0.7l2 0.4l1-2l2 0.2l3-1.1l1 0.1l1-0.9l1 0.2l2-2.1l2 0.7l1-0.9l1 0.9l1-2l1-0.7l3 0.5l2-1.8l1 0.5l1-1l2 0.2l1-1.4l2-0.5l1 1.1l2-1.9l1 0.3l3-1.9l1-1.5l3 0.6l1-0.2l2-1.7l2 0.2l3-1.5l1 0l4-2.4l4-1.4l1 0.6l6-3.6l3-0.2l1-1.3l1 0.3l6-3.5l1 1l1-1.5l1 0.7l1-1.4l5-1.5l1 0.4l1-1.7l1 0.2l2-2.6l1 0.9l2-2.2l1 0.4l1-0.9l1 0.1l4-3.7l1 0.2l2-1.5l1-1.5l1 0.4l3-2.3l1 0l5-4.1l1-2.1l1 1.2l5-4.1l1-0.7l1 0.6l1-1.6l1 0.2l2-2l1 0.7l2-0.5l1-0.9l2 0.2l1-1.4l1 1l2-1.7l1 1.5l2-2.1l1 0.3l1 1.3l2-2l1 0.2l1-0.6l2 0.4l1-0.8l1 0.6l2-1.1l1 1.9l1-0.1l1-1.1l1 0.3l1-1.3l1 1.2l1 0l1-0.6l1 0.2l2-1.1l1 0.3l1-0.5l1-1.6l1 0l2-2.3l4-2.1l3-3.1l1-2.1l3-3.5l1 0.7l2-4.3l1 0l2-3.1l2-1.7l1-2.3l1 0.1l1-2l2-1.6l1-1.6l1 0.5l1-2.5l1 0.3l1-1.8l1-0.3l3-4.7l3-1.2l2-2.1l1-2.6l1-0.2l1-1.9l3-2l8-9.3l1 0.1l3-5.9l7-9l1-2.8l5-6.3l3-2.6l1-2.2l1-0.4l1-2.1l1-0.5l2-3.2l10-9.6l2-0.9l2-3l2-0.6l2-3.4l1 0.8l2-3.9l1 0.8l1-1.1l1-2.7l2 0.6l2-1.9l1 0.9l2-2.4l2 0.4l2-1.8l1 1.2l1-1.7l4-1l1 1l3-2.7l6-1.6l4-1.9l2-9.8l3-224.8l1-4.5l1 0l2-1.8l2-0.8l2-0.4l1 0.6l1 3.5l3 220.1l1 1.5l1 0.4l4 6.5l1 0.4l1 3.4l2 1.7l4 6.4l1 0.6l1 2.3l1-0.1l2 4.1l5 4.6l1 2.3l1-0.1l1 1.6l1 0l7 5.3l2-0.4l1 2.5l2-0.2l1 1.5l2 0.3l2 1.4l1-0.3l1 1.2l1 0.3l1-1.2l4 2.2l2-0.9l2 1.9l1 0.1l2-1.2l1 0.7l1-0.2l1 1.1l4-0.5l1 0.4l1-1.3l1 1.5l2-1.4l0 49.5l-648 228.5z"/>
<path transform="translate(883.2,1335.4)" fill="url(#a4)" d="M0,-62.2l2-1.2l9-12.4l1-1.2l1-0.2l1-3.3l5-7.5l7-13.1l1-0.3l1-4.1l6-10.6l2-5.4l2-1.9l1-3.9l3-4.8l1-0.7l3-6l2-2.2l1-0.3l1-2.6l1 0.2l1-2.4l1 0.1l2-2l1-65.3l1 1l2-2.3l1 0.6l4-1.2l1 64.5l1 1.6l2 12.7l3 29.5l3 22.1l0 58.7l-74 26.1z"/>
<path transform="translate(883.2,1335.4)" fill="url(#q4)" d="M74,-84.8l3 11.8l2 4.9l1 0.8l1 2.1l4 2l2-0.4l2 1.5l1-1l2 0.7l5-1.5l1 1l1-1.2l2 0.6l1-1.2l1 0.5l3-2.3l1 0.5l3-0.4l2-1.1l4-1l2-1.3l1 1.1l3-1.6l1-1.4l1 0.7l1-0.4l1-2l1 1.7l1-0.7l2-0.2l3-2.3l6-0.7l2-2.1l5-1l2-1.6l1-0.2l2 1.1l1-1.8l1 0.5l2-0.8l1-1.3l2 0.3l1-1.7l2 0.7l2-1.4l1 0.2l1-1l2 0.3l2-1.3l1 0.6l2-2.6l1 1.3l1-1.8l1 0.6l2-1.1l1-1.3l1 0.6l2-0.5l1-0.9l2 0.2l2-2l1 0.6l2-1.1l1 0l1-1l2 0.3l2-1.4l3 0.3l1-2.1l3-1.4l1 0.9l1-0.2l2-1l1-1.3l1 0.4l3-1.1l1 0.1l6-2.4l2 0.3l3-2.7l2 0.8l2-1.7l1 0.2l3-1.3l2 0l1-1.3l2-0.2l1-1l1 0.3l2-1.3l3-0.6l1-1.2l1 0.4l2-0.4l1-0.8l1 0.3l1-1.2l3-1.7l1-0.2l1 1.1l2-1.5l2 0l1-1.2l1 0.5l1-1.1l2-1l1 0.3l1-0.7l2 0.2l1-1.1l2-0.6l2-1.6l1 0.6l1-1.3l1 0.1l2-1.4l1 0.3l1-1.4l1 0.9l3-1.8l1 1.1l1-0.1l1-1.7l1 0.4l2-1.2l1 0.4l2-1.7l1 0.3l1-1l1 0.5l2-2l3 0.6l2-1.9l2 0.4l1-1.5l1-0.4l1 0.7l2-0.9l2-1.8l1 1.3l5-3.1l2 0l3-1.8l1 0.6l2-1.2l2-0.2l1-1.7l2 1.1l2-2.3l1 0.6l5-1.7l1-1.5l1 0.5l3-0.5l1-1.5l1 0l1-1.3l1 0.5l1-0.3l1 1.1l1-1.9l1 0.7l1-0.8l1 0.4l3-2.1l1 0.4l1-1.5l2 0.3l1-1.7l1 0.8l3-1l2-1.6l2 0l1-0.7l3-0.4l2-2.5l1 0.7l1-0.9l1 1.3l2-2.3l3-0.2l2-1.1l1 0.3l2-2.2l1 0.4l2-0.7l1-1.7l1 1.2l1-0.2l2-2.4l1-0.2l2 1.1l1-2l2 0.4l1-1.7l1 0.4l1-1.1l2-0.1l1-1l1 0.3l2-1.8l1 0.5l2-2.2l1-0.1l1 0.8l1-0.5l1-1.8l2-0.1l4-3.3l3-1.5l1-1.3l3-0.9l1-2.1l1 0.4l2-0.2l1-1.8l4-1.9l1-1.6l1 0.4l1-2l1 0l3-2.3l1 0.6l1-2.6l1 1l1-1.5l1 0l1-1.8l1 0.6l2-1.4l3-0.7l1 0.5l1-1.5l1 0l1 0.9l3-2.2l4 0.1l1 0.6l5-3l2 1l1-0.3l2 0.3l1-1l2 1.6l3-1.4l1 0.7l2-1.4l1 1.3l5-4.3l1 0.3l2-2l2-0.7l2-3.4l1 0.3l3-4.4l1 0l1-2.5l1-1.1l1 0.4l1-2.1l3-2.4l5-6.6l1 0.2l3-5.1l2-0.9l1-1.5l2-1l1-1.9l1 0.1l2-3.5l1 0.5l1-2.7l1 0.5l2-3.7l2-0.5l1-2l1-1l1 0.2l1-2.4l4-3.5l1-2.4l1 0.4l1-2.7l3-3.3l1-2.3l1-0.1l6-10.3l1-0.2l2-4.1l2-1.4l1-2.3l2-1.4l1-2.7l1 0.3l1-2.7l1 0.3l5-6.5l3-1.9l1-1.8l2-0.9l1-2.1l1-0.3l2-2l1 0.2l1-2.1l4-3.3l1 0.2l1-2.6l1-0.5l1-1.7l1 0.4l1-2.2l1 0.5l2-1.5l2-0.6l2 0.3l1-1.3l3-1.2l2 0l2-1.4l1 0.6l2-0.9l1-1.4l4-0.5l2-1.1l1 0.3l1-1.8l2 1.1l1-1l1-5.8l1-18.1l3-317.5l1-7.1l1 0l1 0.9l1-1.7l2-0.9l1-1.1l1 1.4l1-1.3l1 5.8l3 315.5l1 12.4l1 1.4l1 0.4l2 4l1 0.7l1 3l4 5.3l1 2.5l1 0.5l1 1.8l1-0.1l1 2.5l2 1.8l1 3l1 0l2 3.2l1 0.2l3 2.8l1 0l3 4l3 1.3l1 1.3l5 3.2l1-0.8l3 2.7l1-0.5l2 1.6l2-0.3l1-1.2l1 1.5l1-0.2l2 2.4l1-1.7l3 1.4l5 0l2 0.7l1-0.4l1 0.7l1 0l1-1.5l2 1.7l1-1l1 0.5l0 48.5l-648 228.5z"/>
<path transform="translate(891.8,1340.5)" fill="url(#a4)" d="M0,-60.3l1-2.2l1 0.2l1-1.1l2-4.1l1 0.8l2-4.2l2-2l2-3.6l3-3.6l2-4.4l4-5.8l4-8.4l5-8l2-4.7l1-1l1-3.7l2-2.6l1-3.1l5-8.4l2-4.9l1 0.3l4-6.7l1 0.6l1-2.1l4-3.2l1-77.9l1-0.9l3-0.6l1 0.5l2-1l2-0.2l1 78.4l2 10.6l4 39.5l1 3.1l1 0.5l0 68.1l-74 26.1z"/>
<path transform="translate(891.8,1340.5)" fill="url(#q4)" d="M74,-94.2l1 1.5l2 0.7l1-1.1l2 1.8l2 0.8l3 1l1-0.2l5 2.1l4 0.5l1-0.7l1 1.6l1-0.7l1 0.2l1 1.3l3 0.3l1 0.9l3-1.7l1 1.2l1-0.7l3 1.1l2-0.8l2 0.4l1-1.1l1 0.9l5-0.2l1-0.9l1 0.6l2-0.3l1 0.8l2-1l1 0.6l4-2l2 0.7l4-1.3l4-0.2l1-1l2 0.6l2-1.2l3-0.6l1 0.4l1-1.2l2 0.2l1-0.8l2 0.8l1-1.7l1 0.8l1 0l1-2l3 0.7l1-1.3l1 1.6l1-2.1l1 1l1-0.2l1-1.5l2 0.1l2-1.2l1 0.8l1-0.5l1-1.4l1 0.5l1-0.4l1 0.8l1-2l1 0.9l1-1l2 0.4l2-2.5l1 0.9l1-1.1l1 0.8l4-1.9l1-0.2l1 0.8l3-1.7l1 0.2l1 1l1-1.5l1 0.4l3-2.6l1 0.5l6-2.8l1 0.4l3-0.5l3-1.4l1-1.2l1 0.5l1-0.9l1 0.5l2-1.4l2 0.3l2-1.7l3 0.2l2-2.1l1 0.8l1-0.3l1-1.6l1 1.5l3-1.2l1-1.4l1-0.3l2 0.9l1-1l5-1.7l2-2.1l1 0.1l1 1.3l1-0.2l1-1.2l1 0.3l1-1.3l7-1.8l1-1.2l2 0.7l1-1.2l3-0.7l4-2.4l3 0.4l6-2.4l2-1.8l2 0.6l2-0.8l1 0.3l2-1.7l2 0.1l7-3.1l2 0.1l1-0.8l3-1l1-1.5l2 0.7l2-1.6l1 0.8l1-0.6l1 0.2l3-2.1l1-0.3l1 0.7l1-1l2-0.6l2-2l3 1l2-2.2l1 0.8l4-2.6l1 0.4l2-1.2l1 0.7l2-1.4l2-0.2l1-1.5l3-0.3l2-2.1l1 0.6l2-0.3l1-1.1l2-0.4l2 0.4l2-1.7l1 0.7l3-2l2 0.2l1-1.4l3 0.1l3-2.2l1 0.4l2-0.4l3-2.2l2 0.3l1-0.9l1 0.4l1-1.8l1 0.6l1-1.4l1-0.1l1 0.7l1-0.4l1-2.2l1 0.4l2-0.5l2-1.7l2 1.2l2-1.8l1 0.4l3-2.4l1 0l1-1.3l1-0.5l1 0.8l2-1.7l2 0.1l2-0.8l5-3.9l2-0.1l1-2.4l1 1.1l1-1.6l4-1.4l2-2.4l1-0.1l1-1l1 0.6l2-2.5l1 0.6l2-3.7l1 0.6l2-1.2l1 0.1l1-1.8l1-0.3l1-1.3l1 0.3l1-1.4l1 0.1l1-1.8l2 0.3l2-1.6l2 0.3l1 0.9l1-2l2 0.3l1-0.8l1 0.5l3-1.1l1-1l1 1.5l2-1.7l1 1.3l2-2.5l2 1.3l2-1.1l2 0.5l1-0.7l1 0.9l1-0.9l2 0.7l2-0.6l1 0.6l2-1.6l1 0.3l1-1l1 0.5l1-1.7l1-0.6l1 0.6l1-1.7l1-0.3l3-2.8l1-2.3l1-0.1l3-3.8l3-2.4l2-3.6l1 0l4-4.8l3-2.3l3-4.3l3-2.6l1-2.3l1 0l2-2.6l1-0.2l1-2.1l4-2.9l1-2.3l1 0.7l1-2.1l1-0.6l1 0.1l1-1.1l2-4l1 0.4l1-2l1-0.2l3-4.7l2-1.9l1-1.9l1-0.5l4-7.1l1-0.6l1-2l1-0.6l8-11.9l1 1.1l3-5.6l3-2.2l3-5.1l1 0l3-3.9l1 0.1l1-1.7l2-1.7l2-0.7l1-2l3-2.7l1 0.1l1-1.8l1-0.3l6-5.8l1 0.3l2-1l1 0.4l2-2.3l2 0.4l3-1.6l1 0.7l1-1.4l2 0.3l1-1.5l1 1l1-1.6l1 0.3l3-1.5l2 0l2-2.1l1 0.9l1-0.9l1 0.3l1-5.7l1-40.1l1-335.4l2-44.4l1-7.8l2-0.6l1 0.3l2-1.5l3-0.1l1 1.6l1 65.8l1 18.2l1 297.1l1 35.1l1 0.7l2 4.1l4 4.9l1 2.9l1 0.7l1 2.2l1 0.2l3 5.9l1-0.5l4 5.9l1 0l1 2l1 0.5l2 2.6l1 0.1l1 2.2l2 0.6l2 2.6l1-0.4l4 3.7l1-0.9l1 1.5l1-0.2l1 0.9l1 0l1 1.3l5 1.1l1 0.5l1 1.7l1-1.4l1 1.1l1-0.8l2 2l1-1.4l1 1.2l1-0.7l1 0.8l2 0.3l5-0.1l1 1.2l1-1l1 0.6l1-1.1l2 1.5l1-1.4l0 49.6l-648 228.5z"/>
<path transform="translate(900.3,1345.6)" fill="url(#a2)" d="M0,-59.4l1 0l1-2.2l1-0.1l1-1.2l7-10.1l1-0.7l1-2.2l6-8.4l2-4l2-2.6l1-3.1l5-7.3l5-11.1l6-10.8l2-2.4l1-2.8l1-0.7l2-3.5l1-0.6l1-2.3l3-3.5l1 0.1l2-2.6l1-0.5l1-67.7l1-0.8l1 1.1l1-1.9l1 1.1l1-0.8l1 0.2l2-1.8l1-0.1l1 69.2l2 8.2l5 43.5l2 0.1l0 65.3l-75 26.4z"/>
<path transform="translate(900.3,1345.6)" fill="url(#q2)" d="M75,-91.7l1 0.8l1-0.5l2 1.9l1-0.5l2 0.9l1-0.3l1 1l2 0.4l1 0.8l1-0.9l1 1.8l1-0.6l3 1.1l2-0.4l5 1.7l1-1.6l3 1.7l2-0.7l3 0.9l2-0.9l2 0.7l5-0.8l1 1.1l2-0.9l2 0.7l2-1.2l1 0.4l6-0.9l1-0.9l1 1.7l1-2.2l1 1.5l1-0.9l1 0.7l3-1.5l1 0.9l2-1.8l1 0.9l3-1.9l2 0.8l2-1.7l3 0.1l1 0.6l1-1.2l1 0.4l1-1l1-0.1l1 0.8l3-0.8l2-2.2l3 0.6l1-1.6l2 0.8l1-1.1l2 0.1l1-0.9l2-0.1l1-1.3l1 1.2l2-1.3l1 0.9l1-1.9l1-0.3l1 0.9l3-2.3l2 0.9l3-1.7l2 0.1l1-1.1l3-0.8l2 0.2l1-1l1 0.4l1-0.9l1 0.4l1-1.2l2-0.6l1 0.4l1-1.2l2-0.4l1 0.5l2-1.6l1 0.8l1-0.3l1-1.3l1 0.1l1-1l2 0.1l1-1.1l6-0.8l2-2.1l3-0.4l1-0.9l2 0.4l2-0.9l1 0.6l1-1.5l2 0.5l3-1.8l1-1.9l1 1.2l2 0.2l1-1.6l1 0.6l1-1.5l1 1l3-1.2l1-1.7l1 0.4l1-0.5l1 0.2l1-1.2l1 1.3l1-1.7l2 0.1l2-1.5l1-0.1l1-1.4l2 0.9l3-1.4l2-0.3l2-1.5l2 0.4l2-1.5l1 0.2l1-1.1l2-0.6l1 0.9l1-1.4l4-0.1l3-2.2l2-0.8l1 0.4l1-1.6l2 0.8l2-1.6l1 0.8l1-1.4l4-0.8l1-0.8l1 0.5l1-1.2l3 0l2-2.3l2 0.7l2-1.7l1 0.3l2-1.3l2 0l5-1.7l1 0.4l1-2l2 0.2l1-1.4l2 0.6l3-1.4l2 0l1-1.5l3-0.7l1 0.3l3-2.4l2 0.6l3-1.9l2 0.3l2-1.8l1 0.6l1-1l1-0.1l1-1.3l1 0.1l1 1l1-1.3l1 0.3l2-2l1 0.8l4-2.6l1 1.1l1-1.1l2-0.4l1-0.9l3-0.7l1 0.3l2-2.3l2 0.5l1-1.2l1 0l2-1.6l2 0.1l3-1.8l1 0.4l6-3.6l2-0.3l1-0.7l1 0.9l1-1.7l1 0.6l2-2l1 0.7l2-0.7l2-2l1 0.2l2-1.6l1-0.1l1-1.1l5-2.4l2-2.3l1 0.5l2-2.2l1 0.1l1-1.1l2-0.4l1-1.9l2-1.7l1 0.6l3-2.4l2-0.7l1-1.3l1-0.1l1-2.4l2 0l1-1.2l1 0.6l2-2.4l1-0.5l2 0.6l2-1.3l1 0.7l1-0.7l1 0.4l5-2.8l4 0.9l3-1.8l2 1.2l1-1.9l1 1.1l1-1.1l2 0.7l1-0.6l1 0.8l3-1l1 0.9l3 0.3l2-2.2l2-0.7l2-2.6l1 0l1-1.5l1 0l3-2.2l3-3.9l2-1.6l1-2.1l1-0.3l2-2.9l1 0.1l3-4.1l8-8.9l3-2.3l4-5.5l1 0.2l5-5.9l4-3.5l1-2l1 0.6l1-1.9l2-0.9l3-4l1-0.3l2-4.5l4-4.9l1-2.3l2-1.7l3-5.9l1-0.2l1-2.4l3-2.7l1-2.1l3-3.2l1-2.7l1 0.2l1-2.1l2-0.8l3-5l3-1.9l1-2l2-0.9l1-2l1-0.6l1 0.3l5-4.8l1-1.9l2-1.3l1-1.6l1-0.2l4-3.8l1-0.1l1 0.7l1-2l1 0.8l2-1.4l1 1.1l1-1.6l2-0.8l1-0.2l1 0.7l2-2.7l2 0.8l1-0.7l2 0l1-0.9l1 0l1-1.3l1-0.4l2 0.4l3-2.2l1 0.1l1-5.2l1-13.4l3-303.7l1-4.7l1-1.3l1 0.5l2-0.6l2-2.1l2-0.1l1 5.7l3 300.1l1 8.4l3 3.7l1 0.2l2 4.5l2 2.5l1 2.9l2 1.9l2 3.4l1 0.1l3 5.5l6 6.5l1-0.2l2 3.3l1-0.6l1 2.3l2 1.1l1-0.5l2 2.4l1 0.1l1 1.4l1 0l2 2l1-0.2l1 1.5l1-0.9l3 1.4l2 0.1l2 1.4l4 1l1-0.6l1 0.5l1-0.5l1 1.4l2-0.9l3 1.6l2-1.3l1 1.4l1-1.4l2 0.4l1-0.3l2 0.7l1-0.8l0 49.9l-647 228.2z"/>
<path transform="translate(908.9,1350.8)" fill="url(#a4)" d="M0,-57.7l2-1l2-3.5l8-8.8l2-4.1l3-3.5l2-4l2-2.1l1-3.1l2-2.5l1-2.6l7-11l4-8.2l1-0.9l1-2.8l2-1.9l1-3l3-5.7l1 0.6l4-6.5l4-2.7l1-2.4l2-0.3l1-69.4l1 0.8l2-2l1 1.2l1-1.9l2 1.4l1-1.2l1 67.6l1 2.9l2 14.1l4 33.6l1 0.2l1 1.1l0 62.9l-75 26.4z"/>
<path transform="translate(908.9,1350.8)" fill="url(#q4)" d="M75,-89.3l1 0.1l1-1.4l2 2.5l1-1.1l2 2.1l2-0.6l3 0.9l1 0.8l2-0.3l3 1.7l1-0.5l2 1.1l1-0.9l2 1.2l1-0.9l2 0.6l1 1l3-1.5l3 1.9l1-0.2l1-1.4l5 0.7l1-0.7l1 0.9l3-0.9l2 0.3l4-0.7l1 0.9l1-1.5l1 0.8l1-1l3 0l1-0.7l2 0.5l1-1.2l3 1.3l1-2l1-0.7l3 0.5l2-1.2l3 0.8l4-2.2l3 0l1-1.1l1 0.1l1 1.2l1-1.7l1 0.9l1-1.8l2-0.6l3 0.6l2-1.3l2-0.2l1-1l2 0.5l1-1l1 0.1l6-2.7l2 0.4l3-1.2l1-1.6l1 1.4l1 0.2l2-1.4l1 0.7l1-1.3l4-0.7l3-1.7l3 0.1l2-1.6l2 0.1l3-1.4l2-0.1l1-1.2l1 0.3l3-0.8l3-1.8l2 0.4l1-1.1l2 0.2l2-0.7l3-1.9l1-0.1l1 0.8l2-2.3l1 0.5l2-1.2l1 0.4l3-1.2l1 0.1l1-1.3l2-0.9l1 1.2l3-2.3l2 0.2l3-1.9l2-0.6l1 0.4l1-1.3l3-0.2l1-0.8l2-0.3l1-1l1 1l1-1l1 0.3l1-1.3l1 0.2l4-2.1l3 0.2l1-1.1l2-0.8l2 0.2l2-1.9l1 0.3l1-0.9l4-0.5l1-1.7l2 0.1l1-1.1l1 0.8l2-1.1l1 0.5l1-1.1l1 0l2-1.5l2 0.9l1-1l2-0.2l1-1.2l2-0.4l1-0.7l1 0.9l3-2.7l1 0.2l2-1l2 0.6l1-1.1l2-0.3l2-1.6l1 1.1l1-0.4l1-2.1l1 0.7l1-0.2l1-1.2l2-0.6l1 0.8l1-1.2l4-1l1 0.2l1-1.2l2-0.7l1 0.6l1-1.2l4-1l3-1.6l1 0.1l2-1.2l2 0.6l1-1.4l1 0.4l2-0.8l2-1.7l1 0.2l1-0.8l1 0.3l1-1l1 0.4l1-0.8l3-0.7l1-1.1l1 0.5l2-1.7l2-0.8l1 0.4l1-0.9l1 0.2l2-1.7l1 0.9l1-1.3l2-0.2l2-1.5l1 0.9l1-1.7l2-0.9l2 0.4l1-1.2l2-0.9l2 0.1l1-1l2-0.3l4-1.9l1-1.1l1 0.5l1-0.4l3-2.4l1 0.9l1-1.3l1 0.2l1-1.9l1 0.6l1-1.7l2 0.4l1-1.8l3-1.2l1-2.1l1 0l1-0.8l2-0.2l2-1.6l1 0.2l1-1.3l1 0.2l3-2.7l1-2.1l1 0.7l1 0l1-1.7l1 0.6l3-3.6l2 0l1-1.7l2-0.8l1-1.3l1 0.1l2-0.7l2 0.5l1-2l1 0.7l1-0.7l1 0.5l1-0.7l1 1.1l1-1.9l2 0.9l1-1l1 0.2l1-1.1l1 0.9l4-2.5l1 1.2l1-1.1l4 0.9l2-0.5l2 1.3l1-1.5l2 0.6l1-0.6l1 0.9l4-3.5l1-0.1l2-2l2-0.7l3-4.2l1-0.3l1-1.3l1-0.1l4-5.5l1-0.3l1-1.6l1-0.5l1-2.4l1-0.2l1-1.7l4-3.3l2-3.4l1 0.6l3-3.8l1-2.1l1 0l1-2.1l2-1.9l2-0.9l8-9.2l2-1.3l1-2.6l2 0.9l1-2.6l1-0.4l3-3.8l1-2.9l7-9l1-2.4l1-0.4l2-2.6l3-5.7l1-0.5l2-2.9l1-0.3l1-1.6l1-0.4l5-7.2l1 0l1-2.2l3-3.4l2-0.5l3-2.9l1-2.3l1 0.4l2-2.1l1-2l2-0.5l4-5.1l2-0.9l1-1.5l2 0.5l2-2.1l4-0.5l1-1.1l2-0.2l1-0.9l2 0.4l2-1.4l2 0.1l3-1.8l1 1.1l1-1.8l1 0.2l2-2.1l1 1.4l2-1.7l1 0l2-10.2l3-212.7l1-2.8l1-1.1l4-2.5l3 0.2l1 3.8l3 208l2 1.7l2 3.3l2 1.9l4 7.3l1 0.9l3 5l1 0.6l4 5.5l5 5.1l1 1.8l1 0l1 1.1l1 1.9l1-0.2l1 1.5l2 0.3l2 2.7l1-0.6l1 1.5l2 0.3l2 2.2l2-0.4l1 1.3l2-0.3l2 1.5l1-1.2l1 1.8l1-0.6l4 1.9l1-0.5l3 0.8l2-0.4l1 0.8l1-0.5l2 2l2-1.7l5 0.6l1-1.6l0 50.4l-647 228.2z"/>
<path transform="translate(917.4,1355.9)" fill="url(#a3)" d="M0,-55.6l2-1.4l3-5.1l1-0.3l1-1.9l1 0l1-2.3l1 0.3l2-4.6l1 0.1l7-10.4l1-0.5l4-8l1-0.9l3-5.7l4-5.9l4-8.2l2-1.8l1-2.8l2-2.2l2-4.6l2-0.8l1-3.3l2-1.6l1-2l1 0.5l3-2.9l2-0.8l1-66.1l1-0.2l2-1.8l3 0.3l1-1.3l1 0l1 66.1l1 1.8l2 10.9l4 32.1l1 2.2l1 0.4l0 61.9l-75 26.4z"/>
<path transform="translate(917.4,1355.9)" fill="url(#q3)" d="M75,-88.3l1 0.4l1-0.5l1 0.9l3 0.2l1 1.9l7 0.2l3 1.3l1-1.1l1 1.5l1-0.3l2 1.2l4-0.5l2 0.9l2-1.4l1 0.8l2-0.4l2 0.7l1-0.4l1 1l2-1.7l3 0.6l3-0.6l1-0.7l1 1.5l2-1.1l1 0.9l1-0.3l1-1.4l1 0.6l1-0.5l2 0.6l1-0.9l1 0.5l1-1l2 0.2l1-0.7l1 0.5l1-0.7l2 0.3l1-1.5l1 0.6l1-1.2l2 1l2-1.5l1 1l3-1.9l2 0.3l1-0.8l3-0.3l2-1.1l1 1.3l3-2.2l1 0.8l1-1.5l1 0.9l2-1.5l2 0l1-1.2l1 0.9l3-1.9l1 0.7l4-2l1 0.7l1-1.1l3-0.5l1-1.2l2-0.3l1 0.6l5-2.1l1 0.1l2-1.4l1 0.7l2-1l2 0.3l1-1.4l1 0.5l1-1l2-0.1l1-1.6l2 0.2l2-1.1l3-0.3l3-1.7l1 0.9l2-1.4l1 0.5l3-2l2 0.7l2-1.8l1 1l3-3.6l1 1l1-0.3l1 0.8l1-1.8l1 1.2l2-2l1 0.2l2-1.2l1 0l1-1.1l1 1l1-0.2l4-2.3l3-0.5l1-0.9l1 0.3l3-1.4l2 0.1l4-2.9l2 1.1l1-1.3l1-0.7l1 0.3l1-1.3l1 0.8l2-1.2l2 0.4l1-1.6l2-0.9l1 1.1l4-2.9l1 1l4-2.5l2-0.2l1 0.6l1-1.2l2-0.4l1-0.8l2 0l1-0.7l1 0.4l2-1.6l1-0.1l1-1.2l2 1.5l2-2.7l1 0.9l2-2.2l1 1.7l3-3.4l1 1.1l3-2.2l2 0.4l1-0.5l1-1.2l1 1.7l1-1.5l5-1.7l3-1.8l1 1.1l1-1.6l1 0.6l1-1.2l1 0.6l3-1.1l2-1l1-1.5l3 0.1l2-0.5l1-1.4l1 0.7l3-1.9l1 0.2l3-1.3l2 0.2l1-1.7l1 1.1l2-2.1l1-0.2l1 0.8l1-1.6l1 0.5l3-1.8l1 0.3l2-1.3l1 1.3l1-1.9l2-0.5l1-0.8l1 0.9l1-1.6l1 0.9l2-1.3l1 0.2l1-1.6l2 0.8l1-1.4l1 0.2l1-0.9l1 0l2-1.9l1 0.2l3-1.1l1-1.3l2 0.3l1-1.2l1-0.3l1 0.4l1-1.7l1 1.2l2-1.5l1 0.3l2-1.9l3-0.5l2-1.2l2-0.3l3-3.1l1 0.4l1-1.3l2-0.6l2-3l1 1.6l2-1l2-2.8l1 1.1l1-2.7l2 0.9l2-3.1l1 0l1-1.1l3-1.2l1-1.5l2-0.7l1 0.2l2-2.4l3-1.8l1 0.1l2-2.1l1 0.3l3-1.8l1 0.3l1-0.7l3 0.1l1-1.4l1 0.9l1-0.6l1 0.6l2-1.6l1 0.1l2-0.9l1-0.1l1 0.8l3-0.9l2 0.9l1-1.7l1 1.1l1 0l1-0.8l1 1.5l1-1.4l1 0.9l1-0.8l1 0l1 1.2l2-2.5l1 0.3l5-4.1l1 0.1l2-0.9l1-2.1l2-0.9l2-4.1l1 0.4l5-6.7l9-8.7l1-1.6l1-0.4l1-2.1l1 0.5l1-2.7l3-2.9l2-1.2l2-3.7l1 0.6l1-2l2-1.3l5-6.5l1 0.3l1-1.5l3-2.2l1-1.9l1 0l1-2.8l1-0.7l5-7.1l2-3.8l4-4.7l2-3.9l2-2.6l1 0.2l3-5.2l1-0.3l1-2.8l2-1.1l1-1.9l1-0.5l1-1.6l1-0.4l2-3.6l1-0.2l2-2l2-0.7l2-3.4l1 0l1-1.7l3-2.1l3-4l1-0.7l1 0.5l1-1.8l1 0.2l2-2.8l1 0.3l6-3.3l2 0.5l1-0.7l1 0l2-1.6l2 0l2-1.3l3-0.5l1-1l1-0.1l1-1.3l1 0.7l2-1.5l1 0.1l3-1.1l2-9.5l1-10.2l2-114.9l1-2.8l1-1.1l1-0.3l1 0.7l3-2.1l2 0.1l1 2.1l2 113.5l1 6.2l1 2.4l1 1.6l2 0.9l1 3.7l1 0.7l2 3.8l2 1.6l1 3l1-0.2l1 2.6l2 2.1l1 2.4l1 0.6l1 1.9l1 0.4l4 5.2l1-0.4l2 2.8l4 2.5l1 2l2 1.1l2 2.2l1-0.8l1 1.1l1-0.1l4 2.6l2 0.4l1-0.9l2 2.1l1-0.3l2 1.4l1-0.3l1 1.1l1-2l2 2.2l1-0.4l1 0.9l3-0.8l1 1.2l2-0.6l1 1.1l1-0.6l1 0.6l2-1.2l1 1.9l3-2.4l0 50.1l-647 228.2z"/>
<path transform="translate(926,1361)" fill="url(#a1)" d="M0,-54.9l1 0.1l1-1l2-2.6l1-2.3l3-1.6l2-3l1-0.3l2-3.7l1-0.1l3-5.6l2-1.6l10-15.4l2-4.3l4-6.5l1-0.5l3-6.2l1-0.8l2-3.8l1-0.5l6-8.7l3-2.8l2-0.5l2-2.9l1-61.2l2-0.6l1 0.6l1-0.8l1 0.5l1-0.7l1 0.2l1-0.9l1 61.5l1 0.3l1 4.1l5 37l2 3.5l0 59.6l-75 26.4z"/>
<path transform="translate(926,1361)" fill="url(#q1)" d="M75,-86l4-0.7l1 1.8l1-0.2l1 0.7l1-0.9l2 0.5l2 1.6l2 0l1 0.8l1-0.8l3 1l3-0.3l2 1.1l2-1.1l1 1.1l1-0.7l1 0.6l3-0.4l2 0.6l1-1.5l2 0.4l1 0.7l1-0.3l1-1.3l2 1.7l1-1l2 0.4l3-1l1 0.6l1-0.7l2 0.2l2-1.2l1 1.3l1-1.6l1 0.3l1-0.6l1 0.7l2-0.4l3-1.8l2 1.1l2-1.8l3 0.6l3-1.4l1 0.7l1-1.5l1 0.4l3-1.4l3-0.3l1-0.9l1 0.9l4-1.9l2 0.8l1-1.6l1 0.5l1-0.1l1-0.9l1 0.4l1-1.6l2 0.5l1-1l1 1.3l2-2.4l1 0.7l2-1.4l2 0.4l2-1.5l1 0.8l1-0.8l2-0.1l1-1.2l3 0.4l1-1.3l2-0.8l3 0.1l2-2l3 0.3l3-2.2l3-0.1l3-1.6l2 0.6l1-1.7l3-0.8l1 0.9l1-2.2l1-0.2l1 0.8l1-0.1l3-1.1l1-1.1l4-1.1l1 1l1-1.8l2 0.4l2-1.8l2-0.1l1-1.6l1 1.8l1-1.2l2-0.2l1-1l4-0.2l1-1.3l1 0.4l1-1.4l1 0.9l2-2.9l1 1.4l3-1l1-0.9l2 0.4l1-1.3l3-0.6l3-2l4 0.1l1-1.7l1 0.5l1-1.3l1 0.8l1-1.5l2 0.4l1-1.3l4-0.6l2-1.5l2 0.4l1-2l1 2l1-0.1l1-1.9l2-0.8l1 0.2l2-1.4l10-2.2l1-0.9l1 0.3l1-1.1l4-1.5l4-0.8l2-1.1l1 0.4l2-1.6l1 0.7l1-1.9l1 0.5l1-0.1l1-1l3 0.2l2-2.5l2 0.7l1-0.9l1 0.5l1-1l2-0.9l1 0.2l3-2l1 0.8l1-2.3l2 0.6l1-1.2l1 0.4l1-0.7l1 0.7l1-1.1l2-0.4l4-1.9l1 0.6l1-0.8l2 0.6l1-1.6l1-0.1l1-1.4l1 1.3l1-1.2l3-1.5l1-0.2l1 1.2l1-1.8l1 0l1-1l3 0.3l1-1.3l1 0.1l1-1.5l1 1l1-1l1 0.7l2-2.1l3-0.7l1-1.1l2-0.5l1-0.9l2 0.3l1-1.6l1 1.1l2-2l1-0.4l2 0.6l1-2.2l1 1.2l2-1.6l1 0.3l1-1.1l3-0.7l1-1.3l1 0.3l2-1.6l2-0.3l2-2.4l4-0.6l1-2.3l1-0.7l1 0.2l2-2.2l5-1.9l3-2.6l1-0.1l1-1.5l1 0.4l2-2.4l1 1.1l1-2.1l1-0.2l4-2.5l2-2l2-0.8l2-1.7l1 0.5l3-1.2l2 0.3l1-0.8l1 0.3l2-0.4l2-1.2l1 0.8l2-1.4l1 0.5l1-1.2l1 0.5l1-0.5l5-0.5l1 1.5l1-1.5l2 0.6l1-0.5l1 0.8l1-1l1 0.8l2-0.7l2 0.1l3-2.8l2-0.2l3-3.4l1 0l1-0.9l2-2l2-3.9l4-2.9l3-4.5l1-0.2l1-1.6l1 0l2-3.6l2-1l3-4.6l3-2l3-4.1l2-0.7l1-2.3l1-0.1l1-2.1l2-0.9l2-3.1l1-0.1l1-1l2-2.9l1 0.4l3-5.3l1-0.2l2-2l3-4.3l1-0.5l1-2.7l1-1.5l1 0.1l3-5.9l2-2l1-2l1-0.3l1-2.5l4-4.2l1-2.4l1-1.2l1-0.2l2-3.7l1 0l2-2l2-4l2-1l5-5.4l1 0l2-3.2l1 1.1l1-2.3l1-0.3l1-1.5l1-0.4l1-2.1l1 0l2-2.8l1 0l1-1.8l1-0.1l2-1.9l3 0.6l1-1.6l2-0.8l2 0.4l2-2l2-0.5l1 0.8l1-0.2l3-1.9l1-1.6l1-0.2l1 0.8l2-1.5l1 0.3l1-0.8l2-0.1l1-0.8l1 0.4l1-0.8l3-13.8l2-76.6l1-2.1l1 0.8l1-1.4l3-0.6l1-1.3l1 1.4l1-0.9l1 2.1l2 73.5l6 7.4l7 11.1l1 0.7l2 3.9l6 6.7l5 6.6l1-0.4l2 2.2l1-0.2l4 3.5l1-0.4l3 3.1l1-0.5l1 1l1-0.5l1 1.4l3 0.5l2 1.9l1-0.9l2 0.5l1 0.8l3 0.6l1 1.1l1 0l1-1.6l1 0.8l1-0.6l1 1.9l2-1.4l3 1.6l1-1.1l2 1.4l1-0.8l2-0.2l1 1.1l0 48.1l-647 228.2z"/>
<path transform="translate(934.5,1366.1)" fill="url(#a2)" d="M0,-52.5l1-1.4l1 0.1l1-2.5l1-0.1l2-1.6l2-2.9l2-1.5l3-5l2-0.7l2-4.4l1-0.2l5-6.5l2-4.3l2-2.1l2-4.1l1-0.2l1-2.6l2-3.1l1-0.7l2-4.3l1-1l3-5.4l1-0.7l2-3.5l4-4.4l1-2.3l3-2l1-1.6l2-0.6l2-1.4l1-64.8l1 0.2l7-3l1 64.3l1 0.2l2 9.1l4 29.2l1 3.3l1 0.2l0 58.4l-75 26.4z"/>
<path transform="translate(934.5,1366.1)" fill="url(#q2)" d="M75,-84.8l3 0.9l1-0.7l3 0.9l1 0.9l1-0.6l1 1.3l1-1l1 1.3l1-0.6l1 0.7l2-0.7l2 1.4l1-1.4l1 1.2l1-0.7l1 1.3l2-0.9l1 0.6l2-1.3l2 1.6l3-0.7l1 0.8l2-0.6l4 0.3l1-1.1l2 1.1l1-1.1l1 0.5l7-1.4l2 0.6l1-0.9l1 0.9l1-1.1l3-1.6l2 1l1-1.3l1 0.8l2-1.3l3-0.2l2-1l3-0.7l1 0.3l2-0.7l1 0.3l3-1.6l1 0.4l2-0.2l1-0.8l1 0.5l2-1.2l1 0.9l1-1l2-0.1l3-1.9l1 0.4l1-0.6l2-0.1l1-1.9l1 1.4l1-1.3l3-0.1l1-1.3l2 0.6l2-0.6l2-1.6l4-0.4l2-1l2 0.1l2-1.4l1 0.4l1-0.8l2 0l2-2.3l1 0.7l1-0.7l1 0.8l3-2.4l1 1.4l2-1.5l1-1.5l2 1.3l1-1.5l3-0.5l1-1.3l1 0.1l1 1.2l1-2.1l1-0.2l1 1l2-1.9l4-1l1-1.1l1 1l1-1l1 0.6l1-1.4l1 0.3l1-1.1l1 0.6l1-0.9l2 0.1l2-1.7l2-0.6l1 0.8l4-2.7l1-0.2l2 1.4l2-1.2l1-1.7l2-1.1l2 1.2l1-2.1l2 0.4l1-1l1 0.2l2-0.7l1-1.3l1 1.1l1-1.7l1 0l1-0.6l1 1.2l2-1.9l2-0.5l1 0.4l2-1.5l5-1.2l1-1.1l1 0.8l3-2.1l2-0.2l1-1.5l2 0.7l1-1.4l1 0.7l1 0l2-2.1l2 0.2l3-1.6l3-0.5l1 0.4l2-1.8l1 0.6l3-2.2l2 0.6l1-1.1l1 0.3l5-3.1l1 0.8l3-1.4l1 0.1l1-0.7l1-1.8l1 1.2l2 0l3-2.6l1 0.7l1-0.5l1 0.3l2-2.5l2 0.7l2-2.1l2 0.8l3-2l1 0.3l3-0.8l1-1.4l2 0.2l1-1.6l1 0.6l2-0.1l2-0.9l1-1.6l1 0.4l1-0.7l1 0.8l1-1.9l2 0.5l2-1.3l2-0.5l1 0.3l3-1.7l1 0.5l2-1.5l1 0.2l2-1.8l1 0.8l2-1.3l1-1.4l1 0.8l2-1.5l3-0.2l1-1.7l1 0.8l4-2.2l1 0.4l5-3.2l1-0.3l1 1.1l1-1.9l3-1.5l1 0.5l1-1l1 0.3l2-2.1l2-0.5l1-1.7l1 1.2l1-1.6l1 0.4l2-2.6l1 0.5l1-0.5l1-2.4l2 1.2l1-1.7l2-0.3l1-1.8l2-0.8l1-1.6l1 1.1l2-2.7l1-0.1l2-2.4l1 0.1l1-1l1 0.1l2-1.1l1-1.8l1 0.2l3-2.6l1 0.7l2-1.6l1 0.1l3-1.4l1 0.4l1-1.3l1 0.5l2 0l1-0.9l1 0.9l3-1.8l2-0.5l1 0.4l1-1.7l1 0.6l2-0.8l1 0.9l5-0.2l1 0.7l1-0.8l2-0.2l1 0.9l2-1.3l1 0.9l1-1.3l2-0.5l2-2.3l1 0.4l2-2.3l3-1.6l1-1.7l1-0.2l1-2.4l3-3.7l2-1.7l1-0.2l2-3.2l4-3.6l4-5.4l1 0.3l3-4.4l1-1.1l1 0l4-5.4l1-0.9l1 0.1l2-2.7l1 0.2l1-2l1 0l4-6l1-0.1l6-6l3-4l1-2.6l2-1.6l1-2.4l1-0.6l3-4.3l1-2.9l1-0.2l2-4.3l1-1.2l1-0.1l3-4.4l1-0.3l2-4.1l2-2l1-0.1l1-2.4l4-3.6l1-1.8l2-1.7l1 0.2l1-2.2l1 0.2l1-0.8l2-3.3l1-0.1l7-6.8l4-2.6l1-1.7l2-1l2 1l1-1.3l2-0.4l2-1.5l2 0.1l4-2.4l4 0.1l1-1.6l2-0.6l2 0.2l1-1.6l2 0.5l2-1.2l3-13.2l2-49.4l2-3.6l1 0.9l2-1.6l1-0.3l1 0.7l1-2l2 2.8l2 47.3l2 1.2l1 1.4l10 16.2l2 2.3l1 0.4l3 5.1l3 3l1 0.2l1 3l2 0.7l1 1.8l1 0.2l2 2.4l1 0l8 6l1-0.5l3 1.4l1 1.5l1-0.3l1 0.4l1-0.5l1 1.1l2 0.3l1 1.1l1-0.5l4 1l2 1.1l1-0.9l4 0.7l1-1.2l1 1.2l1-0.6l1 0.9l1-0.6l1 0.7l1-0.9l1 1.4l2-0.7l0 49l-647 228.2z"/>
</g>
<path d="M378.9,1012.8l7.1 0.3l7 0.4l7.1 0.8l7 0.1l7 0l7.1 0.7l7 1.8l7 2.5l7.1 1.9l7 2.8l7 2.7l7.1 4.4l7 3.4l7 4.7l7.1 2.8l7 4.4l7 4.3l7.1 3.5l7 4l7 4.6l7.1 3.8l7 4.4l7 4.4l7.1 3.9l7 4.1l7 5.6l7.1 4.1l7 4.4l7 4.9l7.1 5.1l7 4.8l7 3.9l7.1 5.5l7 4.9l7 4.7l7.1 4.6l7 5l7 5.8l7.1 4.9l7 4.3l7 5.5l7.1 5.4l7 5.3l7 5l7.1 5.2l7 5l7 4.6l7.1 4.2l7 4l7 5.4l7.1 5.2l7 3.6l7 4.8l7.1 4.1l7 5.3l7 4.1l7.1 4l7 4.5l7 4l7.1 4l7 4.7l7 4.6l7.1 4.2l7 4.2l7 3.5l7.1 4.6l7 4.6l7 3.4l7.1 5.6l7 3.2l7 5.3l7.1 4.2l7 4.9l7 4l7.1 4.4l7 4.5l7 4.5l7.1 4.7l7 4.2l0 33.6l-555.7-332.4z" fill="#352a87"/><path d="M934.5,1332.5l3-1.1l3 0.3l3-0.9l3-0.9l3-0.8l3-2l3-1.3l3-2.1l3-2.4l3-3.2l3-3.7l3-5.3l3-5.7l3-9.1l3-6.7l3-4.7l3-4.8l3 0l3 3l3 1.5l3 3.2l3 2.1l3 1.8l3 1.1l3 1.2l3 0.5l3-0.2l3 0.3l3-0.7l3-0.3l3 0l3-1.1l3 0.4l3-0.8l3-0.5l3-0.2l3-0.2l3-0.1l3 0.2l3-0.9l3-0.3l3-0.6l3-0.1l3-1.6l3-0.2l3-0.6l3-0.8l3-0.4l3-0.2l3-0.4l3-1.1l3-1.1l3 0.9l3-2.2l3 0.1l3-1l3-0.2l3-1.2l3 0.1l3-0.7l3-0.9l3-0.7l3-0.5l3-1.8l3-0.3l3-1.2l3-0.5l3-1.2l3-1.2l3-0.5l3-0.9l3-0.4l3-1.1l3-0.6l3-0.9l3-0.7l3-1.3l3-0.8l3-0.1l3-1.9l3 0l3-0.8l3-1.1l3-1l3-0.3l3-1.4l3-0.3l3-1.2l3-1.4l3-0.7l3-0.8l3-1.2l3-0.3l3-2.5l3-0.7l3-0.7l3-1l3-1.2l3-1.4l3-0.7l3-0.6l3-0.6l3-1.6l3-1.1l3-1.3l3-0.1l3-2.3l3-0.5l3 0.6l3-3l3-0.4l3-0.5l3-1.4l3-1.6l3-0.2l3-1.4l3-0.6l3-1.5l3-0.5l3-1.5l3-1l3-1.9l3 0.2l3-1.2l3-1.2l3-1.1l3-0.8l3-1.3l3-0.7l3-1.3l3-0.2l3-1.6l3-0.3l3-1.4l3-1.3l3-1.6l3-1l3-0.9l3-0.6l3-2.6l3-0.6l3-0.2l3-1.6l3-1.3l3-1.2l3-0.6l3-1.5l3-0.9l3-1.4l3-0.6l3-0.8l3-2.1l3-0.7l3-1.2l3-1.2l3-1.3l3-0.3l3-1.7l3-0.7l3-1.4l3-1.5l3-1.6l3 0.1l3-2.2l3-0.3l3-1.7l3-0.8l3-1.4l3-2.1l3-1.1l3-1.2l3-1.3l3-2.4l3-0.6l3-1.7l3-2.5l3-0.6l3-0.9l3-1.4l3-2.5l3-0.6l3-1.4l3-1.5l3-1.5l3-2.1l3-1.1l3-1.8l3-1.6l3-2.6l3-1.3l3-2.1l3-1.6l3-1.8l3-3.1l3-1.6l3-1.4l3-2.4l3-2.4l3-2.4l3-1.9l3-3l3-2.4l3-3.3l3-1.9l3-2.4l3-2.3l3-3.1l3-3.6l3-1.1l3-1.1l3-1.1l3-1.1l3-2l3-5.1l3-8.1l3-4.9l3-5.7l3-7.4l3-0.6l3 2.6l3 1.5l3 3.8l3 2.5l3 2.1l3 0.2l3 1.1l3 1.6l3 2.1l3 2l3 1.1l3 1.9l3 1.8l3 1.2l3 2l3 1.1l3 1.6l3 1.8l3 1.8l3 1.7l3 2.1l2.9 20.3l-722.9 254.9z" fill="#352a87"/></g>
<g fill="none" stroke="#1f1f1f" stroke-linejoin="miter"><path stroke-width="7.2" d="M378.9,303.0 L378.9,1033.7 L934.5,1366.1 L1662.8,1109.3"/><path stroke-width="5.8" d="M419.0,1057.7 L398.3,1065.0 M625.3,1181.1 L604.6,1188.4 M830.7,1304.0 L810.0,1311.3 M994.0,1345.1 L1015.1,1357.8 M1295.6,1238.8 L1316.7,1251.4 M1597.1,1132.4 L1618.2,1145.1 M378.9,1033.7 L356.8,1020.5 M378.9,790.1 L356.8,776.9 M378.9,546.6 L356.8,533.3 M378.9,303.0 L356.8,289.8"/></g>
<path d="M613.0,521.4 L528.6,462.2" stroke="#f00" stroke-width="7.2" fill="none"/><path d="M479.8,428.0 L568.6,451.2 L531.9,464.5 L531.8,503.6z" fill="#f00"/><path d="M1282.5,515.2 L1374.6,406.9" stroke="#f00" stroke-width="7.2" fill="none"/><path d="M1413.2,361.5 L1381.9,447.7 L1372.0,410.0 L1333.1,406.3z" fill="#f00"/><path d="M1515.1,348.0 L1532.0,509.7" stroke="#f00" stroke-width="7.2" fill="none"/><path d="M1538.2,569.0 L1497.4,486.8 L1531.6,505.7 L1561.1,480.1z" fill="#f00"/>
<text transform="translate(351.0,299.5) scale(1,1.03)" text-anchor="end" fill="#262626" font-size="74">15,000</text><text transform="translate(351.0,544.5) scale(1,1.03)" text-anchor="end" fill="#262626" font-size="74">10,000</text><text transform="translate(334.0,790.0) scale(1,1.03)" text-anchor="end" fill="#262626" font-size="74">5000</text><text transform="translate(331.0,1040.0) scale(1,1.03)" text-anchor="end" fill="#262626" font-size="74">0</text><text transform="translate(100,670.5) rotate(-90) scale(1,1.03)" text-anchor="middle" fill="#262626" font-size="74.8">Amplitude</text><text transform="translate(372.5,1144.5) scale(1,1.03)" text-anchor="end" fill="#262626" font-size="74">50</text><text transform="translate(577.0,1267.0) scale(1,1.03)" text-anchor="end" fill="#262626" font-size="74">0</text><text transform="translate(784.0,1390.0) scale(1,1.03)" text-anchor="end" fill="#262626" font-size="74">-50</text><text transform="translate(1039.5,1441.5) scale(1,1.03)" text-anchor="start" fill="#262626" font-size="74">-100</text><text transform="translate(1339.0,1334.0) scale(1,1.03)" text-anchor="start" fill="#262626" font-size="74">0</text><text transform="translate(1645.0,1227.5) scale(1,1.03)" text-anchor="start" fill="#262626" font-size="74">100</text><text transform="translate(106.5,1481) scale(1,1.03)" fill="#262626" font-size="75">Acceleration (m/s<tspan dx="2" dy="-36" font-size="52">2</tspan><tspan dx="3" dy="36">)</tspan></text><text transform="translate(1211.5,1480.0) scale(1,1.03)" text-anchor="start" fill="#262626" font-size="75">Ambiguity integer</text><text transform="translate(647.5,591.3) scale(1,1.03)" text-anchor="start" fill="#f00" font-size="76">Target 4</text><text transform="translate(1031.5,583.0) scale(1,1.03)" text-anchor="start" fill="#f00" font-size="76">Target 3</text><text transform="translate(1410.0,330.7) scale(1,1.03)" text-anchor="start" fill="#f00" font-size="76">Target 5</text><text x="929.4" y="1633" text-anchor="middle" fill="#000" font-size="86">(<tspan font-weight="bold" dy="3.8">g</tspan><tspan dy="-3.8">)</tspan></text>
</svg>
</body></html>
